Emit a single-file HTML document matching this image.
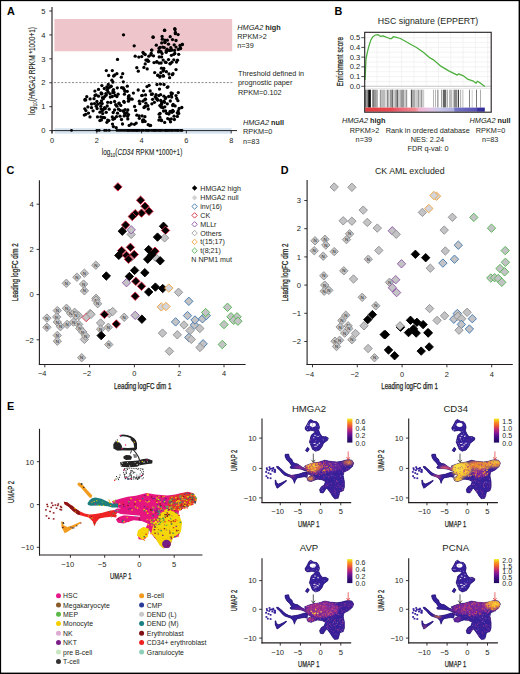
<!DOCTYPE html>
<html><head><meta charset="utf-8"><style>html,body{margin:0;padding:0;background:#fff}svg{display:block}text{font-family:'Liberation Sans',sans-serif}</style></head>
<body><svg width="520" height="674" viewBox="0 0 520 674" style="font-family:'Liberation Sans',sans-serif">
<rect x="0" y="0" width="520" height="674" fill="#fff"/>
<text x="7.10" y="14.80" font-size="10.8" text-anchor="start" fill="#000" font-weight="bold" >A</text>
<rect x="54.4" y="19" width="177.8" height="32.3" fill="#eec5cb"/>
<rect x="54.6" y="128.2" width="177" height="5.5" fill="#d5e3ef"/>
<line x1="54" y1="82.6" x2="234" y2="82.6" stroke="#555" stroke-width="0.7" stroke-dasharray="2 1.6"/>
<line x1="52.00" y1="7.00" x2="52.00" y2="133.50" stroke="#231f20" stroke-width="1.1" />
<line x1="52.00" y1="130.60" x2="237.00" y2="130.60" stroke="#231f20" stroke-width="1.0" />
<line x1="49.30" y1="130.60" x2="52.00" y2="130.60" stroke="#231f20" stroke-width="0.9" />
<text x="45.40" y="133.30" font-size="7.6" text-anchor="end" fill="#231f20" >0</text>
<line x1="49.30" y1="106.68" x2="52.00" y2="106.68" stroke="#231f20" stroke-width="0.9" />
<text x="45.40" y="109.38" font-size="7.6" text-anchor="end" fill="#231f20" >1</text>
<line x1="49.30" y1="82.76" x2="52.00" y2="82.76" stroke="#231f20" stroke-width="0.9" />
<text x="45.40" y="85.46" font-size="7.6" text-anchor="end" fill="#231f20" >2</text>
<line x1="49.30" y1="58.84" x2="52.00" y2="58.84" stroke="#231f20" stroke-width="0.9" />
<text x="45.40" y="61.54" font-size="7.6" text-anchor="end" fill="#231f20" >3</text>
<line x1="49.30" y1="34.92" x2="52.00" y2="34.92" stroke="#231f20" stroke-width="0.9" />
<text x="45.40" y="37.62" font-size="7.6" text-anchor="end" fill="#231f20" >4</text>
<line x1="49.30" y1="11.00" x2="52.00" y2="11.00" stroke="#231f20" stroke-width="0.9" />
<text x="45.40" y="13.70" font-size="7.6" text-anchor="end" fill="#231f20" >5</text>
<line x1="52.00" y1="130.60" x2="52.00" y2="133.40" stroke="#231f20" stroke-width="0.9" />
<text x="52.00" y="142.60" font-size="7.4" text-anchor="middle" fill="#231f20" >0</text>
<line x1="96.80" y1="130.60" x2="96.80" y2="133.40" stroke="#231f20" stroke-width="0.9" />
<text x="96.80" y="142.60" font-size="7.4" text-anchor="middle" fill="#231f20" >2</text>
<line x1="141.60" y1="130.60" x2="141.60" y2="133.40" stroke="#231f20" stroke-width="0.9" />
<text x="141.60" y="142.60" font-size="7.4" text-anchor="middle" fill="#231f20" >4</text>
<line x1="186.40" y1="130.60" x2="186.40" y2="133.40" stroke="#231f20" stroke-width="0.9" />
<text x="186.40" y="142.60" font-size="7.4" text-anchor="middle" fill="#231f20" >6</text>
<line x1="231.20" y1="130.60" x2="231.20" y2="133.40" stroke="#231f20" stroke-width="0.9" />
<text x="231.20" y="142.60" font-size="7.4" text-anchor="middle" fill="#231f20" >8</text>
<text x="101.8" y="155.4" font-size="8.6" fill="#231f20" textLength="80.5" lengthAdjust="spacingAndGlyphs" stroke="#231f20" stroke-width="0.1">log<tspan font-size="6" dy="1.8">10</tspan><tspan dy="-1.8">(</tspan><tspan font-style="italic">CD34</tspan> RPKM *1000+1)</text>
<text x="0" y="0" font-size="8.6" fill="#231f20" textLength="88" lengthAdjust="spacingAndGlyphs" stroke="#231f20" stroke-width="0.1" transform="translate(35.2 115) rotate(-90)">log<tspan font-size="6" dy="1.8">10</tspan><tspan dy="-1.8">(</tspan><tspan font-style="italic">HMGA2</tspan> RPKM *1000+1)</text>
<text x="237.3" y="30" font-size="7.3" fill="#231f20"><tspan font-style="italic">HMGA2</tspan> <tspan font-weight="bold">high</tspan></text>
<text x="237.30" y="39.00" font-size="7.3" text-anchor="start" fill="#231f20" >RPKM&gt;2</text>
<text x="237.30" y="48.20" font-size="7.3" text-anchor="start" fill="#231f20" >n=39</text>
<text x="238.00" y="76.00" font-size="7.3" text-anchor="start" fill="#231f20" >Threshold defined in</text>
<text x="238.00" y="85.40" font-size="7.3" text-anchor="start" fill="#231f20" >prognostic paper</text>
<text x="238.00" y="94.60" font-size="7.3" text-anchor="start" fill="#231f20" >RPKM=0.102</text>
<text x="243" y="124.6" font-size="7.3" fill="#231f20"><tspan font-style="italic">HMGA2</tspan> <tspan font-weight="bold">null</tspan></text>
<text x="243.00" y="134.30" font-size="7.3" text-anchor="start" fill="#231f20" >RPKM=0</text>
<text x="243.00" y="143.50" font-size="7.3" text-anchor="start" fill="#231f20" >n=83</text>
<circle cx="134.2" cy="45.8" r="1.65" fill="#000"/>
<circle cx="135.2" cy="56.2" r="1.65" fill="#000"/>
<circle cx="138.8" cy="57.1" r="1.65" fill="#000"/>
<circle cx="117.5" cy="59.4" r="1.65" fill="#000"/>
<circle cx="106.3" cy="70.6" r="1.65" fill="#000"/>
<circle cx="112.3" cy="70.6" r="1.65" fill="#000"/>
<circle cx="116.9" cy="73.7" r="1.65" fill="#000"/>
<circle cx="122.7" cy="73.7" r="1.65" fill="#000"/>
<circle cx="121.3" cy="77.2" r="1.65" fill="#000"/>
<circle cx="136.8" cy="67.7" r="1.65" fill="#000"/>
<circle cx="138.3" cy="71.2" r="1.65" fill="#000"/>
<circle cx="112.9" cy="82.1" r="1.65" fill="#000"/>
<circle cx="123.3" cy="81.8" r="1.65" fill="#000"/>
<circle cx="101.9" cy="85.6" r="1.65" fill="#000"/>
<circle cx="98.5" cy="89.4" r="1.65" fill="#000"/>
<circle cx="108.3" cy="84.4" r="1.65" fill="#000"/>
<circle cx="109.4" cy="87.3" r="1.65" fill="#000"/>
<circle cx="107.7" cy="89.0" r="1.65" fill="#000"/>
<circle cx="111.2" cy="86.2" r="1.65" fill="#000"/>
<circle cx="113.5" cy="89.6" r="1.65" fill="#000"/>
<circle cx="114.0" cy="92.5" r="1.65" fill="#000"/>
<circle cx="127.3" cy="86.2" r="1.65" fill="#000"/>
<circle cx="125.0" cy="91.3" r="1.65" fill="#000"/>
<circle cx="127.3" cy="91.3" r="1.65" fill="#000"/>
<circle cx="124.4" cy="94.2" r="1.65" fill="#000"/>
<circle cx="133.4" cy="93.1" r="1.65" fill="#000"/>
<circle cx="98.5" cy="96.2" r="1.65" fill="#000"/>
<circle cx="104.8" cy="96.5" r="1.65" fill="#000"/>
<circle cx="102.5" cy="97.7" r="1.65" fill="#000"/>
<circle cx="118.1" cy="94.2" r="1.65" fill="#000"/>
<circle cx="116.9" cy="96.5" r="1.65" fill="#000"/>
<circle cx="112.3" cy="96.5" r="1.65" fill="#000"/>
<circle cx="85.2" cy="99.4" r="1.65" fill="#000"/>
<circle cx="128.5" cy="96.5" r="1.65" fill="#000"/>
<circle cx="130.8" cy="98.8" r="1.65" fill="#000"/>
<circle cx="164.4" cy="30.4" r="1.65" fill="#000"/>
<circle cx="174.8" cy="28.7" r="1.65" fill="#000"/>
<circle cx="175.4" cy="32.5" r="1.65" fill="#000"/>
<circle cx="153.2" cy="37.3" r="1.65" fill="#000"/>
<circle cx="170.2" cy="36.7" r="1.65" fill="#000"/>
<circle cx="167.3" cy="40.2" r="1.65" fill="#000"/>
<circle cx="172.5" cy="39.6" r="1.65" fill="#000"/>
<circle cx="165.0" cy="42.5" r="1.65" fill="#000"/>
<circle cx="168.5" cy="44.2" r="1.65" fill="#000"/>
<circle cx="174.2" cy="44.8" r="1.65" fill="#000"/>
<circle cx="180.0" cy="45.4" r="1.65" fill="#000"/>
<circle cx="180.6" cy="48.6" r="1.65" fill="#000"/>
<circle cx="156.3" cy="45.2" r="1.65" fill="#000"/>
<circle cx="162.7" cy="47.1" r="1.65" fill="#000"/>
<circle cx="170.8" cy="47.7" r="1.65" fill="#000"/>
<circle cx="176.0" cy="47.1" r="1.65" fill="#000"/>
<circle cx="171.9" cy="50.0" r="1.65" fill="#000"/>
<circle cx="159.2" cy="50.6" r="1.65" fill="#000"/>
<circle cx="151.2" cy="53.5" r="1.65" fill="#000"/>
<circle cx="166.2" cy="52.3" r="1.65" fill="#000"/>
<circle cx="174.8" cy="53.5" r="1.65" fill="#000"/>
<circle cx="176.5" cy="62.1" r="1.65" fill="#000"/>
<circle cx="176.0" cy="69.6" r="1.65" fill="#000"/>
<circle cx="173.0" cy="73.7" r="1.65" fill="#000"/>
<circle cx="159.8" cy="77.1" r="1.65" fill="#000"/>
<circle cx="169.6" cy="77.7" r="1.65" fill="#000"/>
<circle cx="84.9" cy="100.0" r="1.65" fill="#000"/>
<circle cx="96.9" cy="101.5" r="1.65" fill="#000"/>
<circle cx="101.5" cy="100.8" r="1.65" fill="#000"/>
<circle cx="107.7" cy="102.3" r="1.65" fill="#000"/>
<circle cx="114.6" cy="101.5" r="1.65" fill="#000"/>
<circle cx="119.2" cy="103.1" r="1.65" fill="#000"/>
<circle cx="123.8" cy="101.5" r="1.65" fill="#000"/>
<circle cx="91.5" cy="107.7" r="1.65" fill="#000"/>
<circle cx="96.2" cy="106.2" r="1.65" fill="#000"/>
<circle cx="100.8" cy="106.2" r="1.65" fill="#000"/>
<circle cx="104.6" cy="107.7" r="1.65" fill="#000"/>
<circle cx="109.2" cy="109.2" r="1.65" fill="#000"/>
<circle cx="116.9" cy="106.2" r="1.65" fill="#000"/>
<circle cx="120.8" cy="105.4" r="1.65" fill="#000"/>
<circle cx="88.5" cy="113.1" r="1.65" fill="#000"/>
<circle cx="93.1" cy="110.8" r="1.65" fill="#000"/>
<circle cx="102.3" cy="110.8" r="1.65" fill="#000"/>
<circle cx="106.2" cy="112.3" r="1.65" fill="#000"/>
<circle cx="114.6" cy="110.0" r="1.65" fill="#000"/>
<circle cx="118.5" cy="109.2" r="1.65" fill="#000"/>
<circle cx="123.1" cy="110.8" r="1.65" fill="#000"/>
<circle cx="84.3" cy="115.1" r="1.65" fill="#000"/>
<circle cx="90.0" cy="116.9" r="1.65" fill="#000"/>
<circle cx="100.8" cy="116.9" r="1.65" fill="#000"/>
<circle cx="104.6" cy="117.7" r="1.65" fill="#000"/>
<circle cx="112.3" cy="116.9" r="1.65" fill="#000"/>
<circle cx="114.6" cy="118.5" r="1.65" fill="#000"/>
<circle cx="120.0" cy="116.2" r="1.65" fill="#000"/>
<circle cx="128.5" cy="114.6" r="1.65" fill="#000"/>
<circle cx="106.9" cy="122.3" r="1.65" fill="#000"/>
<circle cx="129.2" cy="125.4" r="1.65" fill="#000"/>
<circle cx="136.2" cy="123.1" r="1.65" fill="#000"/>
<circle cx="116.2" cy="127.7" r="1.65" fill="#000"/>
<circle cx="147.0" cy="86.6" r="1.65" fill="#000"/>
<circle cx="157.0" cy="84.5" r="1.65" fill="#000"/>
<circle cx="123.5" cy="34.8" r="1.65" fill="#000"/>
<circle cx="153.0" cy="37.0" r="1.65" fill="#000"/>
<circle cx="164.7" cy="30.2" r="1.65" fill="#000"/>
<circle cx="175.0" cy="29.5" r="1.65" fill="#000"/>
<circle cx="113.6" cy="76.0" r="1.65" fill="#000"/>
<circle cx="108.2" cy="92.1" r="1.65" fill="#000"/>
<circle cx="85.7" cy="99.9" r="1.65" fill="#000"/>
<circle cx="103.0" cy="117.5" r="1.65" fill="#000"/>
<circle cx="112.5" cy="124.1" r="1.65" fill="#000"/>
<circle cx="110.1" cy="93.8" r="1.65" fill="#000"/>
<circle cx="123.3" cy="87.9" r="1.65" fill="#000"/>
<circle cx="97.5" cy="116.9" r="1.65" fill="#000"/>
<circle cx="91.5" cy="104.0" r="1.65" fill="#000"/>
<circle cx="113.0" cy="92.5" r="1.65" fill="#000"/>
<circle cx="108.7" cy="75.5" r="1.65" fill="#000"/>
<circle cx="115.0" cy="95.5" r="1.65" fill="#000"/>
<circle cx="97.8" cy="104.2" r="1.65" fill="#000"/>
<circle cx="104.3" cy="88.5" r="1.65" fill="#000"/>
<circle cx="120.3" cy="110.4" r="1.65" fill="#000"/>
<circle cx="94.5" cy="103.6" r="1.65" fill="#000"/>
<circle cx="107.7" cy="120.1" r="1.65" fill="#000"/>
<circle cx="117.3" cy="87.8" r="1.65" fill="#000"/>
<circle cx="102.7" cy="113.6" r="1.65" fill="#000"/>
<circle cx="90.1" cy="98.9" r="1.65" fill="#000"/>
<circle cx="84.8" cy="108.8" r="1.65" fill="#000"/>
<circle cx="118.9" cy="103.5" r="1.65" fill="#000"/>
<circle cx="124.1" cy="89.3" r="1.65" fill="#000"/>
<circle cx="115.7" cy="104.7" r="1.65" fill="#000"/>
<circle cx="110.3" cy="97.1" r="1.65" fill="#000"/>
<circle cx="122.5" cy="124.0" r="1.65" fill="#000"/>
<circle cx="105.3" cy="108.5" r="1.65" fill="#000"/>
<circle cx="85.9" cy="110.6" r="1.65" fill="#000"/>
<circle cx="113.4" cy="126.6" r="1.65" fill="#000"/>
<circle cx="121.6" cy="87.7" r="1.65" fill="#000"/>
<circle cx="101.1" cy="108.8" r="1.65" fill="#000"/>
<circle cx="85.8" cy="114.3" r="1.65" fill="#000"/>
<circle cx="101.4" cy="119.9" r="1.65" fill="#000"/>
<circle cx="86.8" cy="96.7" r="1.65" fill="#000"/>
<circle cx="108.8" cy="120.6" r="1.65" fill="#000"/>
<circle cx="121.5" cy="119.5" r="1.65" fill="#000"/>
<circle cx="96.1" cy="94.8" r="1.65" fill="#000"/>
<circle cx="99.9" cy="120.6" r="1.65" fill="#000"/>
<circle cx="94.0" cy="98.7" r="1.65" fill="#000"/>
<circle cx="110.7" cy="86.5" r="1.65" fill="#000"/>
<circle cx="100.4" cy="103.1" r="1.65" fill="#000"/>
<circle cx="127.8" cy="110.0" r="1.65" fill="#000"/>
<circle cx="107.2" cy="106.0" r="1.65" fill="#000"/>
<circle cx="114.8" cy="75.0" r="1.65" fill="#000"/>
<circle cx="125.3" cy="114.9" r="1.65" fill="#000"/>
<circle cx="124.1" cy="115.9" r="1.65" fill="#000"/>
<circle cx="101.4" cy="93.9" r="1.65" fill="#000"/>
<circle cx="87.9" cy="106.9" r="1.65" fill="#000"/>
<circle cx="111.9" cy="80.2" r="1.65" fill="#000"/>
<circle cx="94.9" cy="91.1" r="1.65" fill="#000"/>
<circle cx="107.1" cy="90.2" r="1.65" fill="#000"/>
<circle cx="110.8" cy="102.5" r="1.65" fill="#000"/>
<circle cx="106.3" cy="95.0" r="1.65" fill="#000"/>
<circle cx="113.0" cy="91.0" r="1.65" fill="#000"/>
<circle cx="113.0" cy="119.3" r="1.65" fill="#000"/>
<circle cx="125.1" cy="109.7" r="1.65" fill="#000"/>
<circle cx="103.4" cy="98.5" r="1.65" fill="#000"/>
<circle cx="100.0" cy="112.2" r="1.65" fill="#000"/>
<circle cx="113.2" cy="112.5" r="1.65" fill="#000"/>
<circle cx="105.9" cy="93.6" r="1.65" fill="#000"/>
<circle cx="124.7" cy="113.4" r="1.65" fill="#000"/>
<circle cx="123.5" cy="111.2" r="1.65" fill="#000"/>
<circle cx="102.2" cy="103.6" r="1.65" fill="#000"/>
<circle cx="106.8" cy="87.0" r="1.65" fill="#000"/>
<circle cx="95.0" cy="95.5" r="1.65" fill="#000"/>
<circle cx="103.3" cy="109.5" r="1.65" fill="#000"/>
<circle cx="128.4" cy="101.2" r="1.65" fill="#000"/>
<circle cx="128.4" cy="98.4" r="1.65" fill="#000"/>
<circle cx="101.9" cy="93.7" r="1.65" fill="#000"/>
<circle cx="101.1" cy="92.9" r="1.65" fill="#000"/>
<circle cx="116.5" cy="116.6" r="1.65" fill="#000"/>
<circle cx="124.3" cy="102.3" r="1.65" fill="#000"/>
<circle cx="117.5" cy="113.2" r="1.65" fill="#000"/>
<circle cx="97.1" cy="108.5" r="1.65" fill="#000"/>
<circle cx="126.8" cy="112.6" r="1.65" fill="#000"/>
<circle cx="176.0" cy="40.5" r="1.65" fill="#000"/>
<circle cx="160.0" cy="47.4" r="1.65" fill="#000"/>
<circle cx="164.3" cy="47.6" r="1.65" fill="#000"/>
<circle cx="166.2" cy="50.8" r="1.65" fill="#000"/>
<circle cx="175.3" cy="33.7" r="1.65" fill="#000"/>
<circle cx="180.3" cy="47.7" r="1.65" fill="#000"/>
<circle cx="159.1" cy="48.2" r="1.65" fill="#000"/>
<circle cx="182.4" cy="44.5" r="1.65" fill="#000"/>
<circle cx="164.8" cy="42.1" r="1.65" fill="#000"/>
<circle cx="182.2" cy="44.3" r="1.65" fill="#000"/>
<circle cx="169.7" cy="50.5" r="1.65" fill="#000"/>
<circle cx="167.1" cy="49.2" r="1.65" fill="#000"/>
<circle cx="178.1" cy="34.6" r="1.65" fill="#000"/>
<circle cx="162.1" cy="36.4" r="1.65" fill="#000"/>
<circle cx="161.7" cy="42.9" r="1.65" fill="#000"/>
<circle cx="162.3" cy="39.2" r="1.65" fill="#000"/>
<circle cx="164.9" cy="40.1" r="1.65" fill="#000"/>
<circle cx="171.3" cy="49.9" r="1.65" fill="#000"/>
<circle cx="157.8" cy="75.4" r="1.65" fill="#000"/>
<circle cx="161.1" cy="63.0" r="1.65" fill="#000"/>
<circle cx="158.6" cy="51.9" r="1.65" fill="#000"/>
<circle cx="147.9" cy="61.2" r="1.65" fill="#000"/>
<circle cx="170.0" cy="63.8" r="1.65" fill="#000"/>
<circle cx="154.0" cy="62.6" r="1.65" fill="#000"/>
<circle cx="163.2" cy="71.1" r="1.65" fill="#000"/>
<circle cx="145.2" cy="63.9" r="1.65" fill="#000"/>
<circle cx="150.9" cy="54.9" r="1.65" fill="#000"/>
<circle cx="171.9" cy="62.2" r="1.65" fill="#000"/>
<circle cx="163.5" cy="70.3" r="1.65" fill="#000"/>
<circle cx="177.5" cy="60.2" r="1.65" fill="#000"/>
<circle cx="165.5" cy="62.2" r="1.65" fill="#000"/>
<circle cx="161.5" cy="68.2" r="1.65" fill="#000"/>
<circle cx="159.1" cy="63.1" r="1.65" fill="#000"/>
<circle cx="160.1" cy="76.1" r="1.65" fill="#000"/>
<circle cx="169.0" cy="74.0" r="1.65" fill="#000"/>
<circle cx="178.7" cy="54.3" r="1.65" fill="#000"/>
<circle cx="163.4" cy="76.2" r="1.65" fill="#000"/>
<circle cx="174.6" cy="50.4" r="1.65" fill="#000"/>
<circle cx="145.9" cy="60.1" r="1.65" fill="#000"/>
<circle cx="143.9" cy="53.7" r="1.65" fill="#000"/>
<circle cx="143.9" cy="67.4" r="1.65" fill="#000"/>
<circle cx="172.4" cy="74.7" r="1.65" fill="#000"/>
<circle cx="147.2" cy="68.9" r="1.65" fill="#000"/>
<circle cx="167.4" cy="50.6" r="1.65" fill="#000"/>
<circle cx="156.9" cy="61.6" r="1.65" fill="#000"/>
<circle cx="147.5" cy="59.8" r="1.65" fill="#000"/>
<circle cx="161.6" cy="56.9" r="1.65" fill="#000"/>
<circle cx="148.8" cy="56.2" r="1.65" fill="#000"/>
<circle cx="163.2" cy="60.1" r="1.65" fill="#000"/>
<circle cx="141.7" cy="56.6" r="1.65" fill="#000"/>
<circle cx="166.0" cy="62.4" r="1.65" fill="#000"/>
<circle cx="145.2" cy="54.5" r="1.65" fill="#000"/>
<circle cx="151.8" cy="50.1" r="1.65" fill="#000"/>
<circle cx="157.9" cy="75.2" r="1.65" fill="#000"/>
<circle cx="173.8" cy="54.3" r="1.65" fill="#000"/>
<circle cx="163.8" cy="68.4" r="1.65" fill="#000"/>
<circle cx="168.5" cy="59.6" r="1.65" fill="#000"/>
<circle cx="166.4" cy="71.7" r="1.65" fill="#000"/>
<circle cx="159.2" cy="56.9" r="1.65" fill="#000"/>
<circle cx="163.1" cy="75.7" r="1.65" fill="#000"/>
<circle cx="151.7" cy="50.1" r="1.65" fill="#000"/>
<circle cx="162.1" cy="53.6" r="1.65" fill="#000"/>
<circle cx="143.0" cy="52.5" r="1.65" fill="#000"/>
<circle cx="153.5" cy="55.8" r="1.65" fill="#000"/>
<circle cx="171.4" cy="55.3" r="1.65" fill="#000"/>
<circle cx="161.0" cy="51.7" r="1.65" fill="#000"/>
<circle cx="170.3" cy="63.6" r="1.65" fill="#000"/>
<circle cx="148.6" cy="61.2" r="1.65" fill="#000"/>
<circle cx="178.4" cy="49.4" r="1.65" fill="#000"/>
<circle cx="173.8" cy="59.8" r="1.65" fill="#000"/>
<circle cx="160.8" cy="72.7" r="1.65" fill="#000"/>
<circle cx="156.7" cy="62.2" r="1.65" fill="#000"/>
<circle cx="154.7" cy="72.6" r="1.65" fill="#000"/>
<circle cx="170.1" cy="111.3" r="1.65" fill="#000"/>
<circle cx="156.8" cy="98.9" r="1.65" fill="#000"/>
<circle cx="142.1" cy="115.9" r="1.65" fill="#000"/>
<circle cx="150.2" cy="91.0" r="1.65" fill="#000"/>
<circle cx="142.7" cy="120.2" r="1.65" fill="#000"/>
<circle cx="177.3" cy="112.8" r="1.65" fill="#000"/>
<circle cx="151.4" cy="94.4" r="1.65" fill="#000"/>
<circle cx="151.9" cy="103.8" r="1.65" fill="#000"/>
<circle cx="145.9" cy="103.2" r="1.65" fill="#000"/>
<circle cx="150.6" cy="125.4" r="1.65" fill="#000"/>
<circle cx="181.8" cy="107.5" r="1.65" fill="#000"/>
<circle cx="149.8" cy="125.5" r="1.65" fill="#000"/>
<circle cx="152.6" cy="99.3" r="1.65" fill="#000"/>
<circle cx="159.9" cy="105.6" r="1.65" fill="#000"/>
<circle cx="147.8" cy="105.7" r="1.65" fill="#000"/>
<circle cx="142.9" cy="101.2" r="1.65" fill="#000"/>
<circle cx="152.4" cy="94.0" r="1.65" fill="#000"/>
<circle cx="164.8" cy="106.8" r="1.65" fill="#000"/>
<circle cx="172.0" cy="112.3" r="1.65" fill="#000"/>
<circle cx="170.5" cy="121.8" r="1.65" fill="#000"/>
<circle cx="156.1" cy="98.0" r="1.65" fill="#000"/>
<circle cx="170.9" cy="111.7" r="1.65" fill="#000"/>
<circle cx="178.2" cy="111.0" r="1.65" fill="#000"/>
<circle cx="171.3" cy="118.9" r="1.65" fill="#000"/>
<circle cx="145.1" cy="106.5" r="1.65" fill="#000"/>
<circle cx="161.2" cy="119.9" r="1.65" fill="#000"/>
<circle cx="174.4" cy="119.5" r="1.65" fill="#000"/>
<circle cx="164.7" cy="122.4" r="1.65" fill="#000"/>
<circle cx="169.0" cy="113.8" r="1.65" fill="#000"/>
<circle cx="149.1" cy="85.3" r="1.65" fill="#000"/>
<circle cx="144.9" cy="99.5" r="1.65" fill="#000"/>
<circle cx="143.6" cy="119.9" r="1.65" fill="#000"/>
<circle cx="163.6" cy="111.0" r="1.65" fill="#000"/>
<circle cx="166.6" cy="113.3" r="1.65" fill="#000"/>
<circle cx="160.5" cy="84.1" r="1.65" fill="#000"/>
<circle cx="174.1" cy="116.2" r="1.65" fill="#000"/>
<circle cx="161.1" cy="107.0" r="1.65" fill="#000"/>
<circle cx="168.0" cy="86.8" r="1.65" fill="#000"/>
<circle cx="171.4" cy="94.8" r="1.65" fill="#000"/>
<circle cx="142.3" cy="95.4" r="1.65" fill="#000"/>
<circle cx="171.1" cy="92.8" r="1.65" fill="#000"/>
<circle cx="160.7" cy="100.5" r="1.65" fill="#000"/>
<circle cx="160.1" cy="113.4" r="1.65" fill="#000"/>
<circle cx="172.7" cy="110.5" r="1.65" fill="#000"/>
<circle cx="167.3" cy="87.3" r="1.65" fill="#000"/>
<circle cx="145.5" cy="94.9" r="1.65" fill="#000"/>
<circle cx="171.7" cy="97.1" r="1.65" fill="#000"/>
<circle cx="164.0" cy="84.5" r="1.65" fill="#000"/>
<circle cx="141.7" cy="95.6" r="1.65" fill="#000"/>
<circle cx="168.6" cy="113.8" r="1.65" fill="#000"/>
<circle cx="168.7" cy="96.5" r="1.65" fill="#000"/>
<circle cx="161.7" cy="104.0" r="1.65" fill="#000"/>
<circle cx="159.5" cy="89.1" r="1.65" fill="#000"/>
<circle cx="178.3" cy="92.6" r="1.65" fill="#000"/>
<circle cx="139.8" cy="103.7" r="1.65" fill="#000"/>
<circle cx="158.8" cy="95.6" r="1.65" fill="#000"/>
<circle cx="148.2" cy="124.7" r="1.65" fill="#000"/>
<circle cx="148.3" cy="109.0" r="1.65" fill="#000"/>
<circle cx="145.2" cy="106.5" r="1.65" fill="#000"/>
<circle cx="175.1" cy="105.9" r="1.65" fill="#000"/>
<circle cx="177.5" cy="113.1" r="1.65" fill="#000"/>
<circle cx="164.0" cy="101.1" r="1.65" fill="#000"/>
<circle cx="154.4" cy="102.3" r="1.65" fill="#000"/>
<circle cx="159.8" cy="117.2" r="1.65" fill="#000"/>
<circle cx="176.0" cy="95.6" r="1.65" fill="#000"/>
<circle cx="178.7" cy="113.4" r="1.65" fill="#000"/>
<circle cx="177.9" cy="100.7" r="1.65" fill="#000"/>
<circle cx="161.5" cy="103.8" r="1.65" fill="#000"/>
<circle cx="161.2" cy="104.8" r="1.65" fill="#000"/>
<circle cx="158.9" cy="120.1" r="1.65" fill="#000"/>
<circle cx="157.7" cy="100.0" r="1.65" fill="#000"/>
<circle cx="165.8" cy="97.7" r="1.65" fill="#000"/>
<circle cx="161.6" cy="120.7" r="1.65" fill="#000"/>
<circle cx="177.4" cy="116.4" r="1.65" fill="#000"/>
<circle cx="169.6" cy="119.4" r="1.65" fill="#000"/>
<circle cx="179.2" cy="108.5" r="1.65" fill="#000"/>
<circle cx="172.3" cy="93.5" r="1.65" fill="#000"/>
<circle cx="172.7" cy="105.5" r="1.65" fill="#000"/>
<circle cx="173.3" cy="111.3" r="1.65" fill="#000"/>
<circle cx="164.6" cy="102.3" r="1.65" fill="#000"/>
<circle cx="159.2" cy="114.2" r="1.65" fill="#000"/>
<circle cx="170.3" cy="101.0" r="1.65" fill="#000"/>
<circle cx="167.3" cy="103.8" r="1.65" fill="#000"/>
<circle cx="155.2" cy="96.8" r="1.65" fill="#000"/>
<circle cx="165.4" cy="98.6" r="1.65" fill="#000"/>
<circle cx="163.9" cy="96.2" r="1.65" fill="#000"/>
<circle cx="156.0" cy="94.7" r="1.65" fill="#000"/>
<circle cx="160.6" cy="94.7" r="1.65" fill="#000"/>
<circle cx="157.4" cy="99.8" r="1.65" fill="#000"/>
<circle cx="167.7" cy="118.6" r="1.65" fill="#000"/>
<circle cx="173.2" cy="104.4" r="1.65" fill="#000"/>
<circle cx="162.8" cy="107.7" r="1.65" fill="#000"/>
<circle cx="161.7" cy="102.1" r="1.65" fill="#000"/>
<circle cx="165.6" cy="110.9" r="1.65" fill="#000"/>
<circle cx="176.7" cy="98.5" r="1.65" fill="#000"/>
<circle cx="132.1" cy="99.2" r="1.65" fill="#000"/>
<circle cx="134.6" cy="106.5" r="1.65" fill="#000"/>
<circle cx="145.1" cy="121.4" r="1.65" fill="#000"/>
<circle cx="143.6" cy="90.8" r="1.65" fill="#000"/>
<circle cx="127.6" cy="116.3" r="1.65" fill="#000"/>
<circle cx="144.0" cy="107.5" r="1.65" fill="#000"/>
<circle cx="138.2" cy="90.0" r="1.65" fill="#000"/>
<circle cx="134.4" cy="124.3" r="1.65" fill="#000"/>
<circle cx="142.7" cy="121.7" r="1.65" fill="#000"/>
<circle cx="145.5" cy="99.2" r="1.65" fill="#000"/>
<circle cx="129.1" cy="95.7" r="1.65" fill="#000"/>
<circle cx="136.9" cy="115.2" r="1.65" fill="#000"/>
<circle cx="144.9" cy="116.7" r="1.65" fill="#000"/>
<circle cx="139.3" cy="118.3" r="1.65" fill="#000"/>
<circle cx="135.7" cy="110.4" r="1.65" fill="#000"/>
<circle cx="127.8" cy="118.9" r="1.65" fill="#000"/>
<circle cx="131.4" cy="124.0" r="1.65" fill="#000"/>
<circle cx="139.3" cy="101.2" r="1.65" fill="#000"/>
<circle cx="129.4" cy="99.3" r="1.65" fill="#000"/>
<circle cx="139.1" cy="115.8" r="1.65" fill="#000"/>
<circle cx="71.5" cy="130.4" r="1.45" fill="#000"/>
<circle cx="96.9" cy="130.4" r="1.45" fill="#000"/>
<circle cx="99.2" cy="130.4" r="1.45" fill="#000"/>
<circle cx="104.6" cy="130.4" r="1.45" fill="#000"/>
<circle cx="106.5" cy="130.4" r="1.45" fill="#000"/>
<circle cx="109.2" cy="130.4" r="1.45" fill="#000"/>
<circle cx="117.0" cy="130.4" r="1.45" fill="#000"/>
<circle cx="119.0" cy="130.4" r="1.45" fill="#000"/>
<circle cx="121.0" cy="130.4" r="1.45" fill="#000"/>
<circle cx="123.0" cy="130.4" r="1.45" fill="#000"/>
<circle cx="125.0" cy="130.4" r="1.45" fill="#000"/>
<circle cx="127.0" cy="130.4" r="1.45" fill="#000"/>
<circle cx="128.0" cy="130.4" r="1.45" fill="#000"/>
<circle cx="128.9" cy="130.4" r="1.45" fill="#000"/>
<circle cx="130.4" cy="130.4" r="1.45" fill="#000"/>
<circle cx="132.0" cy="130.4" r="1.45" fill="#000"/>
<circle cx="133.3" cy="130.4" r="1.45" fill="#000"/>
<circle cx="134.5" cy="130.4" r="1.45" fill="#000"/>
<circle cx="136.1" cy="130.4" r="1.45" fill="#000"/>
<circle cx="136.9" cy="130.4" r="1.45" fill="#000"/>
<circle cx="138.1" cy="130.4" r="1.45" fill="#000"/>
<circle cx="139.6" cy="130.4" r="1.45" fill="#000"/>
<circle cx="141.7" cy="130.4" r="1.45" fill="#000"/>
<circle cx="143.4" cy="130.4" r="1.45" fill="#000"/>
<circle cx="145.5" cy="130.4" r="1.45" fill="#000"/>
<circle cx="146.9" cy="130.4" r="1.45" fill="#000"/>
<circle cx="148.1" cy="130.4" r="1.45" fill="#000"/>
<circle cx="149.2" cy="130.4" r="1.45" fill="#000"/>
<circle cx="151.4" cy="130.4" r="1.45" fill="#000"/>
<circle cx="153.1" cy="130.4" r="1.45" fill="#000"/>
<circle cx="154.4" cy="130.4" r="1.45" fill="#000"/>
<circle cx="155.2" cy="130.4" r="1.45" fill="#000"/>
<circle cx="156.7" cy="130.4" r="1.45" fill="#000"/>
<circle cx="158.4" cy="130.4" r="1.45" fill="#000"/>
<circle cx="159.8" cy="130.4" r="1.45" fill="#000"/>
<circle cx="161.0" cy="130.4" r="1.45" fill="#000"/>
<circle cx="162.7" cy="130.4" r="1.45" fill="#000"/>
<circle cx="164.8" cy="130.4" r="1.45" fill="#000"/>
<circle cx="165.9" cy="130.4" r="1.45" fill="#000"/>
<circle cx="166.8" cy="130.4" r="1.45" fill="#000"/>
<circle cx="168.1" cy="130.4" r="1.45" fill="#000"/>
<circle cx="169.4" cy="130.4" r="1.45" fill="#000"/>
<circle cx="171.2" cy="130.4" r="1.45" fill="#000"/>
<circle cx="172.3" cy="130.4" r="1.45" fill="#000"/>
<circle cx="174.2" cy="130.4" r="1.45" fill="#000"/>
<circle cx="176.0" cy="130.4" r="1.45" fill="#000"/>
<circle cx="177.5" cy="130.4" r="1.45" fill="#000"/>
<circle cx="178.6" cy="130.4" r="1.45" fill="#000"/>
<circle cx="180.8" cy="130.4" r="1.45" fill="#000"/>
<circle cx="182.0" cy="130.4" r="1.45" fill="#000"/>
<text x="334.50" y="14.70" font-size="10.8" text-anchor="start" fill="#000" font-weight="bold" >B</text>
<text x="428.00" y="24.00" font-size="8.8" text-anchor="middle" fill="#231f20" >HSC signature (EPPERT)</text>
<rect x="364.7" y="32.3" width="126.5" height="79.9" fill="#fff"/>
<line x1="377.00" y1="32.30" x2="377.00" y2="86.30" stroke="#ebebeb" stroke-width="0.6" />
<line x1="389.30" y1="32.30" x2="389.30" y2="86.30" stroke="#ebebeb" stroke-width="0.6" />
<line x1="401.60" y1="32.30" x2="401.60" y2="86.30" stroke="#ebebeb" stroke-width="0.6" />
<line x1="413.90" y1="32.30" x2="413.90" y2="86.30" stroke="#ebebeb" stroke-width="0.6" />
<line x1="426.20" y1="32.30" x2="426.20" y2="86.30" stroke="#ebebeb" stroke-width="0.6" />
<line x1="438.50" y1="32.30" x2="438.50" y2="86.30" stroke="#ebebeb" stroke-width="0.6" />
<line x1="450.80" y1="32.30" x2="450.80" y2="86.30" stroke="#ebebeb" stroke-width="0.6" />
<line x1="463.10" y1="32.30" x2="463.10" y2="86.30" stroke="#ebebeb" stroke-width="0.6" />
<line x1="475.40" y1="32.30" x2="475.40" y2="86.30" stroke="#ebebeb" stroke-width="0.6" />
<line x1="487.70" y1="32.30" x2="487.70" y2="86.30" stroke="#ebebeb" stroke-width="0.6" />
<line x1="364.70" y1="86.30" x2="491.20" y2="86.30" stroke="#ebebeb" stroke-width="0.6" />
<line x1="364.70" y1="81.44" x2="491.20" y2="81.44" stroke="#ebebeb" stroke-width="0.6" />
<line x1="364.70" y1="76.58" x2="491.20" y2="76.58" stroke="#ebebeb" stroke-width="0.6" />
<line x1="364.70" y1="71.72" x2="491.20" y2="71.72" stroke="#ebebeb" stroke-width="0.6" />
<line x1="364.70" y1="66.86" x2="491.20" y2="66.86" stroke="#ebebeb" stroke-width="0.6" />
<line x1="364.70" y1="62.00" x2="491.20" y2="62.00" stroke="#ebebeb" stroke-width="0.6" />
<line x1="364.70" y1="57.14" x2="491.20" y2="57.14" stroke="#ebebeb" stroke-width="0.6" />
<line x1="364.70" y1="52.28" x2="491.20" y2="52.28" stroke="#ebebeb" stroke-width="0.6" />
<line x1="364.70" y1="47.42" x2="491.20" y2="47.42" stroke="#ebebeb" stroke-width="0.6" />
<line x1="364.70" y1="42.56" x2="491.20" y2="42.56" stroke="#ebebeb" stroke-width="0.6" />
<line x1="364.70" y1="37.70" x2="491.20" y2="37.70" stroke="#ebebeb" stroke-width="0.6" />
<line x1="364.70" y1="86.30" x2="491.20" y2="86.30" stroke="#b5b5b5" stroke-width="0.7" />
<line x1="364.70" y1="88.60" x2="491.20" y2="88.60" stroke="#d8d8d8" stroke-width="0.6" />
<rect x="365.20" y="89.7" width="1.20" height="17.9" fill="#555"/>
<rect x="366.40" y="89.7" width="1.30" height="17.9" fill="#888"/>
<rect x="367.70" y="89.7" width="1.30" height="17.9" fill="#333"/>
<rect x="369.00" y="89.7" width="1.90" height="17.9" fill="#111"/>
<rect x="372.20" y="89.7" width="1.80" height="17.9" fill="#777"/>
<rect x="374.00" y="89.7" width="2.00" height="17.9" fill="#999"/>
<rect x="376.00" y="89.7" width="1.90" height="17.9" fill="#aaa"/>
<rect x="379.80" y="89.7" width="1.30" height="17.9" fill="#999"/>
<rect x="381.10" y="89.7" width="4.40" height="17.9" fill="#bbb"/>
<rect x="386.70" y="89.7" width="1.90" height="17.9" fill="#888"/>
<rect x="389.60" y="89.7" width="3.40" height="17.9" fill="#999"/>
<rect x="392.40" y="89.7" width="0.80" height="17.9" fill="#555"/>
<rect x="393.20" y="89.7" width="2.00" height="17.9" fill="#ccc"/>
<rect x="395.20" y="89.7" width="1.90" height="17.9" fill="#999"/>
<rect x="397.10" y="89.7" width="1.30" height="17.9" fill="#555"/>
<rect x="398.40" y="89.7" width="1.90" height="17.9" fill="#ccc"/>
<rect x="400.30" y="89.7" width="3.80" height="17.9" fill="#999"/>
<rect x="404.10" y="89.7" width="1.90" height="17.9" fill="#ccc"/>
<rect x="405.90" y="89.7" width="1.30" height="17.9" fill="#999"/>
<rect x="410.90" y="89.7" width="0.90" height="17.9" fill="#111"/>
<rect x="411.80" y="89.7" width="3.50" height="17.9" fill="#aaa"/>
<rect x="415.30" y="89.7" width="2.50" height="17.9" fill="#ccc"/>
<rect x="417.80" y="89.7" width="1.30" height="17.9" fill="#999"/>
<rect x="419.10" y="89.7" width="1.90" height="17.9" fill="#ccc"/>
<rect x="421.00" y="89.7" width="1.30" height="17.9" fill="#999"/>
<rect x="422.30" y="89.7" width="1.90" height="17.9" fill="#ccc"/>
<rect x="433.00" y="89.7" width="0.60" height="17.9" fill="#888"/>
<rect x="435.00" y="89.7" width="0.60" height="17.9" fill="#888"/>
<rect x="437.50" y="89.7" width="0.80" height="17.9" fill="#555"/>
<rect x="441.00" y="89.7" width="0.80" height="17.9" fill="#888"/>
<rect x="442.80" y="89.7" width="3.20" height="17.9" fill="#666"/>
<rect x="446.60" y="89.7" width="1.20" height="17.9" fill="#999"/>
<rect x="449.00" y="89.7" width="3.30" height="17.9" fill="#bbb"/>
<rect x="453.50" y="89.7" width="3.90" height="17.9" fill="#888"/>
<rect x="458.00" y="89.7" width="0.80" height="17.9" fill="#111"/>
<rect x="460.30" y="89.7" width="0.80" height="17.9" fill="#999"/>
<rect x="462.50" y="89.7" width="0.80" height="17.9" fill="#aaa"/>
<rect x="469.00" y="89.7" width="0.80" height="17.9" fill="#666"/>
<rect x="471.80" y="89.7" width="0.70" height="17.9" fill="#bbb"/>
<rect x="476.20" y="89.7" width="0.80" height="17.9" fill="#555"/>
<rect x="480.00" y="89.7" width="0.80" height="17.9" fill="#999"/>
<defs><linearGradient id="gsea" x1="0" x2="1" y1="0" y2="0"><stop offset="0" stop-color="#e33b3d"/><stop offset="0.22" stop-color="#e84a52"/><stop offset="0.3" stop-color="#ec6878"/><stop offset="0.42" stop-color="#f08a8e"/><stop offset="0.45" stop-color="#f4b0d0"/><stop offset="0.55" stop-color="#e0c4e6"/><stop offset="0.62" stop-color="#cbc8ec"/><stop offset="0.74" stop-color="#b0b0e0"/><stop offset="0.75" stop-color="#7474c4"/><stop offset="0.93" stop-color="#5a52b4"/><stop offset="0.94" stop-color="#3a32a0"/><stop offset="1" stop-color="#2e2896"/></linearGradient></defs>
<rect x="365.2" y="107.6" width="119.6" height="4.1" fill="url(#gsea)"/>
<path d="M365.0 80.0 L365.4 72.4 L366.0 59.0 L367.4 52.2 L368.7 46.8 L370.8 40.1 L372.8 36.7 L375.5 35.0 L378.2 34.7 L380.2 36.3 L382.9 35.8 L386.2 37.2 L389.6 38.5 L391.6 38.5 L393.4 36.7 L396.3 37.4 L400.4 38.5 L405.8 41.5 L410.5 44.2 L416.5 47.5 L423.3 52.2 L430.0 57.9 L433.1 59.6 L441.2 66.4 L449.2 71.1 L457.3 75.1 L458.6 73.8 L463.4 75.8 L468.1 79.4 L472.8 80.8 L476.1 83.2 L477.2 81.2 L480.2 82.9 L484.9 86.5" fill="none" stroke="#4caf3c" stroke-width="1.25" stroke-linejoin="round"/>
<rect x="364.7" y="32.3" width="126.5" height="79.9" fill="none" stroke="#231f20" stroke-width="1.1"/>
<line x1="361.30" y1="86.30" x2="364.70" y2="86.30" stroke="#231f20" stroke-width="0.8" />
<text x="360.20" y="88.80" font-size="7.6" text-anchor="end" fill="#231f20" >0.0</text>
<line x1="361.30" y1="76.58" x2="364.70" y2="76.58" stroke="#231f20" stroke-width="0.8" />
<text x="360.20" y="79.08" font-size="7.6" text-anchor="end" fill="#231f20" >0.1</text>
<line x1="361.30" y1="66.86" x2="364.70" y2="66.86" stroke="#231f20" stroke-width="0.8" />
<text x="360.20" y="69.36" font-size="7.6" text-anchor="end" fill="#231f20" >0.2</text>
<line x1="361.30" y1="57.14" x2="364.70" y2="57.14" stroke="#231f20" stroke-width="0.8" />
<text x="360.20" y="59.64" font-size="7.6" text-anchor="end" fill="#231f20" >0.3</text>
<line x1="361.30" y1="47.42" x2="364.70" y2="47.42" stroke="#231f20" stroke-width="0.8" />
<text x="360.20" y="49.92" font-size="7.6" text-anchor="end" fill="#231f20" >0.4</text>
<line x1="361.30" y1="37.70" x2="364.70" y2="37.70" stroke="#231f20" stroke-width="0.8" />
<text x="360.20" y="40.20" font-size="7.6" text-anchor="end" fill="#231f20" >0.5</text>
<text x="0" y="0" font-size="8.4" text-anchor="middle" fill="#231f20" textLength="49.5" lengthAdjust="spacingAndGlyphs" stroke="#231f20" stroke-width="0.25" transform="translate(343.0 61.8) rotate(-90)">Enrichment score</text>
<text x="342.0" y="123.1" font-size="7.3" fill="#231f20"><tspan font-style="italic">HMGA2</tspan> <tspan font-weight="bold">high</tspan></text>
<text x="349.80" y="132.70" font-size="7.3" text-anchor="start" fill="#231f20" >RPKM&gt;2</text>
<text x="355.60" y="141.80" font-size="7.3" text-anchor="start" fill="#231f20" >n=39</text>
<text x="385.80" y="132.70" font-size="7.3" text-anchor="start" fill="#231f20" >Rank in ordered database</text>
<text x="410.80" y="141.80" font-size="7.3" text-anchor="start" fill="#231f20" >NES: 2.24</text>
<text x="407.50" y="151.00" font-size="7.3" text-anchor="start" fill="#231f20" >FDR q-val: 0</text>
<text x="469.6" y="123.1" font-size="7.3" fill="#231f20"><tspan font-style="italic">HMGA2</tspan> <tspan font-weight="bold">null</tspan></text>
<text x="475.80" y="132.70" font-size="7.3" text-anchor="start" fill="#231f20" >RPKM=0</text>
<text x="481.90" y="141.80" font-size="7.3" text-anchor="start" fill="#231f20" >n=83</text>
<text x="6.60" y="173.70" font-size="10.8" text-anchor="start" fill="#000" font-weight="bold" >C</text>
<line x1="39.40" y1="180.20" x2="39.40" y2="365.00" stroke="#231f20" stroke-width="1.1" />
<line x1="38.90" y1="364.50" x2="245.60" y2="364.50" stroke="#231f20" stroke-width="1.1" />
<line x1="36.60" y1="339.80" x2="39.40" y2="339.80" stroke="#231f20" stroke-width="0.9" />
<text x="33.80" y="342.50" font-size="7.6" text-anchor="end" fill="#231f20" >&#8722;2</text>
<line x1="36.60" y1="294.60" x2="39.40" y2="294.60" stroke="#231f20" stroke-width="0.9" />
<text x="33.80" y="297.30" font-size="7.6" text-anchor="end" fill="#231f20" >0</text>
<line x1="36.60" y1="249.40" x2="39.40" y2="249.40" stroke="#231f20" stroke-width="0.9" />
<text x="33.80" y="252.10" font-size="7.6" text-anchor="end" fill="#231f20" >2</text>
<line x1="36.60" y1="204.20" x2="39.40" y2="204.20" stroke="#231f20" stroke-width="0.9" />
<text x="33.80" y="206.90" font-size="7.6" text-anchor="end" fill="#231f20" >4</text>
<line x1="44.80" y1="364.50" x2="44.80" y2="367.30" stroke="#231f20" stroke-width="0.9" />
<text x="42.10" y="376.40" font-size="7.4" text-anchor="middle" fill="#231f20" >&#8722;4</text>
<line x1="89.60" y1="364.50" x2="89.60" y2="367.30" stroke="#231f20" stroke-width="0.9" />
<text x="86.90" y="376.40" font-size="7.4" text-anchor="middle" fill="#231f20" >&#8722;2</text>
<line x1="134.40" y1="364.50" x2="134.40" y2="367.30" stroke="#231f20" stroke-width="0.9" />
<text x="134.40" y="376.40" font-size="7.4" text-anchor="middle" fill="#231f20" >0</text>
<line x1="179.20" y1="364.50" x2="179.20" y2="367.30" stroke="#231f20" stroke-width="0.9" />
<text x="179.20" y="376.40" font-size="7.4" text-anchor="middle" fill="#231f20" >2</text>
<line x1="224.00" y1="364.50" x2="224.00" y2="367.30" stroke="#231f20" stroke-width="0.9" />
<text x="224.00" y="376.40" font-size="7.4" text-anchor="middle" fill="#231f20" >4</text>
<text x="0" y="0" font-size="8.4" text-anchor="middle" fill="#231f20" textLength="58" lengthAdjust="spacingAndGlyphs" stroke="#231f20" stroke-width="0.25" transform="translate(17.9 272.3) rotate(-90)">Leading logFC dim 2</text>
<text x="142.70" y="388.50" font-size="8.4" text-anchor="middle" fill="#231f20" textLength="57.3" lengthAdjust="spacingAndGlyphs" stroke="#231f20" stroke-width="0.25">Leading logFC dim 1</text>
<path d="M117.9 182.7L122.1 186.9L117.9 191.1L113.7 186.9Z" fill="#000" stroke="#d8283f" stroke-width="0.9"/>
<path d="M140.6 196.0L144.8 200.2L140.6 204.4L136.4 200.2Z" fill="#000" stroke="#d8283f" stroke-width="0.9"/>
<path d="M145.0 202.0L149.2 206.2L145.0 210.4L140.8 206.2Z" fill="#000" stroke="#d8283f" stroke-width="0.9"/>
<path d="M149.0 207.1L153.2 211.3L149.0 215.5L144.8 211.3Z" fill="#000" stroke="#d8283f" stroke-width="0.9"/>
<path d="M141.5 208.9L145.7 213.1L141.5 217.3L137.3 213.1Z" fill="#000" stroke="#d8283f" stroke-width="0.9"/>
<path d="M135.2 209.5L139.4 213.7L135.2 217.9L131.0 213.7Z" fill="#000" stroke="#d8283f" stroke-width="0.9"/>
<path d="M132.3 212.3L136.5 216.5L132.3 220.7L128.1 216.5Z" fill="#000" stroke="#d8283f" stroke-width="0.9"/>
<path d="M125.6 220.8L129.8 225.0L125.6 229.2L121.4 225.0Z" fill="#000" stroke="#d8283f" stroke-width="0.9"/>
<path d="M122.3 227.0L126.5 231.2L122.3 235.4L118.1 231.2Z" fill="#000" stroke="#000" stroke-width="0.9"/>
<path d="M131.2 230.2L135.4 234.4L131.2 238.6L127.0 234.4Z" fill="#c3c3c5" stroke="#8e8e90" stroke-width="0.9"/>
<path d="M131.2 225.6L135.4 229.8L131.2 234.0L127.0 229.8Z" fill="#c3c3c5" stroke="#8d55a6" stroke-width="0.9"/>
<path d="M163.5 222.1L167.7 226.3L163.5 230.5L159.3 226.3Z" fill="#000" stroke="#000" stroke-width="0.9"/>
<path d="M165.5 226.2L169.7 230.4L165.5 234.6L161.3 230.4Z" fill="#000" stroke="#d8283f" stroke-width="0.9"/>
<path d="M164.6 233.7L168.8 237.9L164.6 242.1L160.4 237.9Z" fill="#c3c3c5" stroke="#8e8e90" stroke-width="0.9"/>
<path d="M157.5 232.9L161.7 237.1L157.5 241.3L153.3 237.1Z" fill="#000" stroke="#000" stroke-width="0.9"/>
<path d="M131.3 253.1L135.5 257.3L131.3 261.5L127.1 257.3Z" fill="#c3c3c5" stroke="#8e8e90" stroke-width="0.9"/>
<path d="M155.4 253.1L159.6 257.3L155.4 261.5L151.2 257.3Z" fill="#c3c3c5" stroke="#8e8e90" stroke-width="0.9"/>
<path d="M121.7 246.4L125.9 250.6L121.7 254.8L117.5 250.6Z" fill="#000" stroke="#d8283f" stroke-width="0.9"/>
<path d="M118.8 251.2L123.0 255.4L118.8 259.6L114.6 255.4Z" fill="#000" stroke="#000" stroke-width="0.9"/>
<path d="M130.4 243.1L134.6 247.3L130.4 251.5L126.2 247.3Z" fill="#000" stroke="#d8283f" stroke-width="0.9"/>
<path d="M126.5 251.2L130.7 255.4L126.5 259.6L122.3 255.4Z" fill="#000" stroke="#d8283f" stroke-width="0.9"/>
<path d="M134.2 250.2L138.4 254.4L134.2 258.6L130.0 254.4Z" fill="#000" stroke="#d8283f" stroke-width="0.9"/>
<path d="M128.5 255.0L132.7 259.2L128.5 263.4L124.3 259.2Z" fill="#000" stroke="#d8283f" stroke-width="0.9"/>
<path d="M148.7 245.4L152.9 249.6L148.7 253.8L144.5 249.6Z" fill="#000" stroke="#000" stroke-width="0.9"/>
<path d="M155.0 247.0L159.2 251.2L155.0 255.4L150.8 251.2Z" fill="#000" stroke="#d8283f" stroke-width="0.9"/>
<path d="M151.5 250.8L155.7 255.0L151.5 259.2L147.3 255.0Z" fill="#000" stroke="#000" stroke-width="0.9"/>
<path d="M147.7 255.0L151.9 259.2L147.7 263.4L143.5 259.2Z" fill="#000" stroke="#000" stroke-width="0.9"/>
<path d="M160.2 256.6L164.4 260.8L160.2 265.0L156.0 260.8Z" fill="#000" stroke="#000" stroke-width="0.9"/>
<path d="M95.8 261.0L100.0 265.2L95.8 269.4L91.6 265.2Z" fill="#c3c3c5" stroke="#8e8e90" stroke-width="0.9"/>
<text x="95.8" y="266.8" font-size="4.4" text-anchor="middle" fill="#303030" stroke="#303030" stroke-width="0.06">N</text>
<path d="M106.3 271.8L110.5 276.0L106.3 280.2L102.1 276.0Z" fill="#000" stroke="#000" stroke-width="0.9"/>
<path d="M134.6 266.2L138.8 270.4L134.6 274.6L130.4 270.4Z" fill="#000" stroke="#000" stroke-width="0.9"/>
<path d="M144.8 268.5L149.0 272.7L144.8 276.9L140.6 272.7Z" fill="#000" stroke="#000" stroke-width="0.9"/>
<path d="M129.4 272.3L133.6 276.5L129.4 280.7L125.2 276.5Z" fill="#000" stroke="#000" stroke-width="0.9"/>
<path d="M135.8 277.1L140.0 281.3L135.8 285.5L131.6 281.3Z" fill="#000" stroke="#d8283f" stroke-width="0.9"/>
<path d="M126.5 278.5L130.7 282.7L126.5 286.9L122.3 282.7Z" fill="#c3c3c5" stroke="#8d55a6" stroke-width="0.9"/>
<path d="M141.5 282.0L145.7 286.2L141.5 290.4L137.3 286.2Z" fill="#000" stroke="#d8283f" stroke-width="0.9"/>
<path d="M155.4 282.9L159.6 287.1L155.4 291.3L151.2 287.1Z" fill="#000" stroke="#000" stroke-width="0.9"/>
<path d="M162.7 284.3L166.9 288.5L162.7 292.7L158.5 288.5Z" fill="#000" stroke="#000" stroke-width="0.9"/>
<path d="M168.8 283.9L173.0 288.1L168.8 292.3L164.6 288.1Z" fill="#d3d5da" stroke="#f1a33a" stroke-width="0.9"/>
<path d="M148.7 287.8L152.9 292.0L148.7 296.2L144.5 292.0Z" fill="#000" stroke="#000" stroke-width="0.9"/>
<path d="M178.5 288.1L182.7 292.3L178.5 296.5L174.3 292.3Z" fill="#c3c3c5" stroke="#8e8e90" stroke-width="0.9"/>
<path d="M135.2 292.0L139.4 296.2L135.2 300.4L131.0 296.2Z" fill="#000" stroke="#d8283f" stroke-width="0.9"/>
<path d="M84.4 269.0L88.6 273.2L84.4 277.4L80.2 273.2Z" fill="#c3c3c5" stroke="#8e8e90" stroke-width="0.9"/>
<text x="84.4" y="274.8" font-size="4.4" text-anchor="middle" fill="#303030" stroke="#303030" stroke-width="0.06">N</text>
<path d="M76.9 273.0L81.1 277.2L76.9 281.4L72.7 277.2Z" fill="#c3c3c5" stroke="#8e8e90" stroke-width="0.9"/>
<text x="76.9" y="278.8" font-size="4.4" text-anchor="middle" fill="#303030" stroke="#303030" stroke-width="0.06">N</text>
<path d="M66.3 279.1L70.5 283.3L66.3 287.5L62.1 283.3Z" fill="#c3c3c5" stroke="#8e8e90" stroke-width="0.9"/>
<text x="66.3" y="284.9" font-size="4.4" text-anchor="middle" fill="#303030" stroke="#303030" stroke-width="0.06">N</text>
<path d="M83.6 279.9L87.8 284.1L83.6 288.3L79.4 284.1Z" fill="#c3c3c5" stroke="#8e8e90" stroke-width="0.9"/>
<text x="83.6" y="285.7" font-size="4.4" text-anchor="middle" fill="#303030" stroke="#303030" stroke-width="0.06">N</text>
<path d="M84.4 286.6L88.6 290.8L84.4 295.0L80.2 290.8Z" fill="#c3c3c5" stroke="#8e8e90" stroke-width="0.9"/>
<text x="84.4" y="292.4" font-size="4.4" text-anchor="middle" fill="#303030" stroke="#303030" stroke-width="0.06">N</text>
<path d="M96.0 294.1L100.2 298.3L96.0 302.5L91.8 298.3Z" fill="#c3c3c5" stroke="#8e8e90" stroke-width="0.9"/>
<text x="96.0" y="299.9" font-size="4.4" text-anchor="middle" fill="#303030" stroke="#303030" stroke-width="0.06">N</text>
<path d="M96.0 296.0L100.2 300.2L96.0 304.4L91.8 300.2Z" fill="#c3c3c5" stroke="#8e8e90" stroke-width="0.9"/>
<text x="96.0" y="301.8" font-size="4.4" text-anchor="middle" fill="#303030" stroke="#303030" stroke-width="0.06">N</text>
<path d="M97.7 299.5L101.9 303.7L97.7 307.9L93.5 303.7Z" fill="#c3c3c5" stroke="#8e8e90" stroke-width="0.9"/>
<text x="97.7" y="305.3" font-size="4.4" text-anchor="middle" fill="#303030" stroke="#303030" stroke-width="0.06">N</text>
<path d="M57.3 306.4L61.5 310.6L57.3 314.8L53.1 310.6Z" fill="#c3c3c5" stroke="#8e8e90" stroke-width="0.9"/>
<text x="57.3" y="312.2" font-size="4.4" text-anchor="middle" fill="#303030" stroke="#303030" stroke-width="0.06">N</text>
<path d="M66.5 304.1L70.7 308.3L66.5 312.5L62.3 308.3Z" fill="#c3c3c5" stroke="#8e8e90" stroke-width="0.9"/>
<text x="66.5" y="309.9" font-size="4.4" text-anchor="middle" fill="#303030" stroke="#303030" stroke-width="0.06">N</text>
<path d="M46.9 313.9L51.1 318.1L46.9 322.3L42.7 318.1Z" fill="#c3c3c5" stroke="#8e8e90" stroke-width="0.9"/>
<text x="46.9" y="319.7" font-size="4.4" text-anchor="middle" fill="#303030" stroke="#303030" stroke-width="0.06">N</text>
<path d="M56.7 312.7L60.9 316.9L56.7 321.1L52.5 316.9Z" fill="#c3c3c5" stroke="#8e8e90" stroke-width="0.9"/>
<text x="56.7" y="318.5" font-size="4.4" text-anchor="middle" fill="#303030" stroke="#303030" stroke-width="0.06">N</text>
<path d="M57.3 317.9L61.5 322.1L57.3 326.3L53.1 322.1Z" fill="#c3c3c5" stroke="#8e8e90" stroke-width="0.9"/>
<text x="57.3" y="323.7" font-size="4.4" text-anchor="middle" fill="#303030" stroke="#303030" stroke-width="0.06">N</text>
<path d="M60.5 322.5L64.7 326.7L60.5 330.9L56.3 326.7Z" fill="#c3c3c5" stroke="#8e8e90" stroke-width="0.9"/>
<text x="60.5" y="328.3" font-size="4.4" text-anchor="middle" fill="#303030" stroke="#303030" stroke-width="0.06">N</text>
<path d="M67.1 320.2L71.3 324.4L67.1 328.6L62.9 324.4Z" fill="#c3c3c5" stroke="#8e8e90" stroke-width="0.9"/>
<text x="67.1" y="326.0" font-size="4.4" text-anchor="middle" fill="#303030" stroke="#303030" stroke-width="0.06">N</text>
<path d="M70.6 309.3L74.8 313.5L70.6 317.7L66.4 313.5Z" fill="#c3c3c5" stroke="#8e8e90" stroke-width="0.9"/>
<text x="70.6" y="315.1" font-size="4.4" text-anchor="middle" fill="#303030" stroke="#303030" stroke-width="0.06">N</text>
<path d="M74.6 308.1L78.8 312.3L74.6 316.5L70.4 312.3Z" fill="#c3c3c5" stroke="#8e8e90" stroke-width="0.9"/>
<text x="74.6" y="313.9" font-size="4.4" text-anchor="middle" fill="#303030" stroke="#303030" stroke-width="0.06">N</text>
<path d="M78.7 311.6L82.9 315.8L78.7 320.0L74.5 315.8Z" fill="#c3c3c5" stroke="#8e8e90" stroke-width="0.9"/>
<path d="M75.8 311.6L80.0 315.8L75.8 320.0L71.6 315.8Z" fill="#c3c3c5" stroke="#8e8e90" stroke-width="0.9"/>
<text x="75.8" y="317.4" font-size="4.4" text-anchor="middle" fill="#303030" stroke="#303030" stroke-width="0.06">N</text>
<path d="M73.5 317.9L77.7 322.1L73.5 326.3L69.3 322.1Z" fill="#c3c3c5" stroke="#8e8e90" stroke-width="0.9"/>
<text x="73.5" y="323.7" font-size="4.4" text-anchor="middle" fill="#303030" stroke="#303030" stroke-width="0.06">N</text>
<path d="M78.7 320.2L82.9 324.4L78.7 328.6L74.5 324.4Z" fill="#c3c3c5" stroke="#8e8e90" stroke-width="0.9"/>
<text x="78.7" y="326.0" font-size="4.4" text-anchor="middle" fill="#303030" stroke="#303030" stroke-width="0.06">N</text>
<path d="M79.8 324.3L84.0 328.5L79.8 332.7L75.6 328.5Z" fill="#c3c3c5" stroke="#8e8e90" stroke-width="0.9"/>
<text x="79.8" y="330.1" font-size="4.4" text-anchor="middle" fill="#303030" stroke="#303030" stroke-width="0.06">N</text>
<path d="M82.7 327.7L86.9 331.9L82.7 336.1L78.5 331.9Z" fill="#c3c3c5" stroke="#8e8e90" stroke-width="0.9"/>
<text x="82.7" y="333.5" font-size="4.4" text-anchor="middle" fill="#303030" stroke="#303030" stroke-width="0.06">N</text>
<path d="M84.4 335.2L88.6 339.4L84.4 343.6L80.2 339.4Z" fill="#c3c3c5" stroke="#8e8e90" stroke-width="0.9"/>
<path d="M85.6 331.8L89.8 336.0L85.6 340.2L81.4 336.0Z" fill="#c3c3c5" stroke="#8e8e90" stroke-width="0.9"/>
<text x="85.6" y="337.6" font-size="4.4" text-anchor="middle" fill="#303030" stroke="#303030" stroke-width="0.06">N</text>
<path d="M90.2 309.3L94.4 313.5L90.2 317.7L86.0 313.5Z" fill="#c3c3c5" stroke="#8e8e90" stroke-width="0.9"/>
<path d="M86.2 313.3L90.4 317.5L86.2 321.7L82.0 317.5Z" fill="#c3c3c5" stroke="#d8283f" stroke-width="0.9"/>
<path d="M46.9 323.1L51.1 327.3L46.9 331.5L42.7 327.3Z" fill="#c3c3c5" stroke="#8e8e90" stroke-width="0.9"/>
<text x="46.9" y="328.9" font-size="4.4" text-anchor="middle" fill="#303030" stroke="#303030" stroke-width="0.06">N</text>
<path d="M57.3 331.2L61.5 335.4L57.3 339.6L53.1 335.4Z" fill="#c3c3c5" stroke="#8e8e90" stroke-width="0.9"/>
<text x="57.3" y="337.0" font-size="4.4" text-anchor="middle" fill="#303030" stroke="#303030" stroke-width="0.06">N</text>
<path d="M57.3 337.0L61.5 341.2L57.3 345.4L53.1 341.2Z" fill="#c3c3c5" stroke="#8e8e90" stroke-width="0.9"/>
<text x="57.3" y="342.8" font-size="4.4" text-anchor="middle" fill="#303030" stroke="#303030" stroke-width="0.06">N</text>
<path d="M81.7 353.5L85.9 357.7L81.7 361.9L77.5 357.7Z" fill="#c3c3c5" stroke="#8e8e90" stroke-width="0.9"/>
<text x="81.7" y="359.3" font-size="4.4" text-anchor="middle" fill="#303030" stroke="#303030" stroke-width="0.06">N</text>
<path d="M109.2 309.3L113.4 313.5L109.2 317.7L105.0 313.5Z" fill="#c3c3c5" stroke="#8e8e90" stroke-width="0.9"/>
<path d="M112.7 307.3L116.9 311.5L112.7 315.7L108.5 311.5Z" fill="#c3c3c5" stroke="#8e8e90" stroke-width="0.9"/>
<path d="M104.4 310.2L108.6 314.4L104.4 318.6L100.2 314.4Z" fill="#000" stroke="#d8283f" stroke-width="0.9"/>
<path d="M91.0 310.2L95.2 314.4L91.0 318.6L86.8 314.4Z" fill="#c3c3c5" stroke="#8e8e90" stroke-width="0.9"/>
<path d="M100.6 318.8L104.8 323.0L100.6 327.2L96.4 323.0Z" fill="#c3c3c5" stroke="#8e8e90" stroke-width="0.9"/>
<path d="M108.3 323.1L112.5 327.3L108.3 331.5L104.1 327.3Z" fill="#c3c3c5" stroke="#8e8e90" stroke-width="0.9"/>
<text x="108.3" y="328.9" font-size="4.4" text-anchor="middle" fill="#303030" stroke="#303030" stroke-width="0.06">N</text>
<path d="M100.6 325.0L104.8 329.2L100.6 333.4L96.4 329.2Z" fill="#c3c3c5" stroke="#8e8e90" stroke-width="0.9"/>
<text x="100.6" y="330.8" font-size="4.4" text-anchor="middle" fill="#303030" stroke="#303030" stroke-width="0.06">N</text>
<path d="M101.2 331.4L105.4 335.6L101.2 339.8L97.0 335.6Z" fill="#000" stroke="#000" stroke-width="0.9"/>
<path d="M116.3 319.8L120.5 324.0L116.3 328.2L112.1 324.0Z" fill="#000" stroke="#d8283f" stroke-width="0.9"/>
<path d="M124.2 313.1L128.4 317.3L124.2 321.5L120.0 317.3Z" fill="#c3c3c5" stroke="#8e8e90" stroke-width="0.9"/>
<text x="124.2" y="318.9" font-size="4.4" text-anchor="middle" fill="#303030" stroke="#303030" stroke-width="0.06">N</text>
<path d="M135.2 311.2L139.4 315.4L135.2 319.6L131.0 315.4Z" fill="#c3c3c5" stroke="#8d55a6" stroke-width="0.9"/>
<path d="M141.9 315.0L146.1 319.2L141.9 323.4L137.7 319.2Z" fill="#000" stroke="#000" stroke-width="0.9"/>
<path d="M108.8 340.4L113.0 344.6L108.8 348.8L104.6 344.6Z" fill="#c3c3c5" stroke="#8e8e90" stroke-width="0.9"/>
<text x="108.8" y="346.2" font-size="4.4" text-anchor="middle" fill="#303030" stroke="#303030" stroke-width="0.06">N</text>
<path d="M188.8 297.1L193.0 301.3L188.8 305.5L184.6 301.3Z" fill="#c3c3c5" stroke="#3d76ae" stroke-width="0.9"/>
<path d="M161.3 302.7L165.5 306.9L161.3 311.1L157.1 306.9Z" fill="#d3d5da" stroke="#f1a33a" stroke-width="0.9"/>
<path d="M166.0 302.3L170.2 306.5L166.0 310.7L161.8 306.5Z" fill="#d3d5da" stroke="#f1a33a" stroke-width="0.9"/>
<path d="M187.5 311.4L191.7 315.6L187.5 319.8L183.3 315.6Z" fill="#c3c3c5" stroke="#3d76ae" stroke-width="0.9"/>
<path d="M175.6 317.7L179.8 321.9L175.6 326.1L171.4 321.9Z" fill="#c3c3c5" stroke="#3d76ae" stroke-width="0.9"/>
<path d="M184.0 320.8L188.2 325.0L184.0 329.2L179.8 325.0Z" fill="#c3c3c5" stroke="#8e8e90" stroke-width="0.9"/>
<path d="M194.4 320.8L198.6 325.0L194.4 329.2L190.2 325.0Z" fill="#c3c3c5" stroke="#3d76ae" stroke-width="0.9"/>
<path d="M195.0 315.8L199.2 320.0L195.0 324.2L190.8 320.0Z" fill="#c3c3c5" stroke="#3d76ae" stroke-width="0.9"/>
<path d="M202.5 314.6L206.7 318.8L202.5 323.0L198.3 318.8Z" fill="#c3c3c5" stroke="#3d76ae" stroke-width="0.9"/>
<path d="M206.3 311.4L210.5 315.6L206.3 319.8L202.1 315.6Z" fill="#c3c3c5" stroke="#3d76ae" stroke-width="0.9"/>
<path d="M205.6 308.3L209.8 312.5L205.6 316.7L201.4 312.5Z" fill="#c3c3c5" stroke="#4fb54f" stroke-width="0.9"/>
<path d="M190.0 326.4L194.2 330.6L190.0 334.8L185.8 330.6Z" fill="#c3c3c5" stroke="#8e8e90" stroke-width="0.9"/>
<path d="M199.8 324.3L204.0 328.5L199.8 332.7L195.6 328.5Z" fill="#c3c3c5" stroke="#8e8e90" stroke-width="0.9"/>
<path d="M162.5 328.9L166.7 333.1L162.5 337.3L158.3 333.1Z" fill="#c3c3c5" stroke="#8e8e90" stroke-width="0.9"/>
<path d="M177.3 330.6L181.5 334.8L177.3 339.0L173.1 334.8Z" fill="#c3c3c5" stroke="#8e8e90" stroke-width="0.9"/>
<path d="M188.8 333.3L193.0 337.5L188.8 341.7L184.6 337.5Z" fill="#c3c3c5" stroke="#3d76ae" stroke-width="0.9"/>
<path d="M191.3 335.2L195.5 339.4L191.3 343.6L187.1 339.4Z" fill="#c3c3c5" stroke="#8e8e90" stroke-width="0.9"/>
<path d="M203.1 339.6L207.3 343.8L203.1 348.0L198.9 343.8Z" fill="#c3c3c5" stroke="#3d76ae" stroke-width="0.9"/>
<path d="M200.0 343.3L204.2 347.5L200.0 351.7L195.8 347.5Z" fill="#c3c3c5" stroke="#8e8e90" stroke-width="0.9"/>
<path d="M169.4 347.1L173.6 351.3L169.4 355.5L165.2 351.3Z" fill="#c3c3c5" stroke="#8e8e90" stroke-width="0.9"/>
<path d="M227.5 303.1L231.7 307.3L227.5 311.5L223.3 307.3Z" fill="#c3c3c5" stroke="#4fb54f" stroke-width="0.9"/>
<path d="M231.0 312.6L235.2 316.8L231.0 321.0L226.8 316.8Z" fill="#c3c3c5" stroke="#4fb54f" stroke-width="0.9"/>
<path d="M237.0 312.6L241.2 316.8L237.0 321.0L232.8 316.8Z" fill="#c3c3c5" stroke="#4fb54f" stroke-width="0.9"/>
<path d="M233.6 316.1L237.8 320.3L233.6 324.5L229.4 320.3Z" fill="#c3c3c5" stroke="#4fb54f" stroke-width="0.9"/>
<path d="M237.9 317.0L242.1 321.2L237.9 325.4L233.7 321.2Z" fill="#c3c3c5" stroke="#4fb54f" stroke-width="0.9"/>
<path d="M224.0 320.4L228.2 324.6L224.0 328.8L219.8 324.6Z" fill="#c3c3c5" stroke="#4fb54f" stroke-width="0.9"/>
<path d="M222.3 340.3L226.5 344.5L222.3 348.7L218.1 344.5Z" fill="#c3c3c5" stroke="#4fb54f" stroke-width="0.9"/>
<path d="M194.6 185.3L197.29999999999998 188.0L194.6 190.7L191.9 188.0Z" fill="#000"/>
<text x="200.30" y="190.50" font-size="7.1" text-anchor="start" fill="#231f20" >HMGA2 high</text>
<path d="M194.6 195.0L197.29999999999998 197.7L194.6 200.4L191.9 197.7Z" fill="#d2d2d2"/>
<text x="200.30" y="200.20" font-size="7.1" text-anchor="start" fill="#231f20" >HMGA2 null</text>
<path d="M194.6 203.8L197.29999999999998 206.5L194.6 209.2L191.9 206.5Z" fill="#fff" stroke="#3d76ae" stroke-width="0.9"/>
<text x="200.30" y="209.00" font-size="7.1" text-anchor="start" fill="#231f20" >inv(16)</text>
<path d="M194.6 212.7L197.29999999999998 215.4L194.6 218.1L191.9 215.4Z" fill="#fff" stroke="#d8283f" stroke-width="0.9"/>
<text x="200.30" y="217.90" font-size="7.1" text-anchor="start" fill="#231f20" >CK</text>
<path d="M194.6 221.6L197.29999999999998 224.3L194.6 227.0L191.9 224.3Z" fill="#fff" stroke="#8d55a6" stroke-width="0.9"/>
<text x="200.30" y="226.80" font-size="7.1" text-anchor="start" fill="#231f20" >MLLr</text>
<path d="M194.6 230.4L197.29999999999998 233.1L194.6 235.8L191.9 233.1Z" fill="#fff" stroke="#a0a0a0" stroke-width="0.9"/>
<text x="200.30" y="235.60" font-size="7.1" text-anchor="start" fill="#231f20" >Others</text>
<path d="M194.6 239.2L197.29999999999998 241.9L194.6 244.6L191.9 241.9Z" fill="#fff" stroke="#f1a33a" stroke-width="0.9"/>
<text x="200.30" y="244.40" font-size="7.1" text-anchor="start" fill="#231f20" >t(15;17)</text>
<path d="M194.6 248.0L197.29999999999998 250.7L194.6 253.4L191.9 250.7Z" fill="#fff" stroke="#4fb54f" stroke-width="0.9"/>
<text x="200.30" y="253.20" font-size="7.1" text-anchor="start" fill="#231f20" >t(8;21)</text>
<text x="191.30" y="261.80" font-size="7.1" text-anchor="start" fill="#231f20" >N NPM1 mut</text>
<text x="280.70" y="174.10" font-size="10.8" text-anchor="start" fill="#000" font-weight="bold" >D</text>
<text x="409.80" y="173.80" font-size="8.8" text-anchor="middle" fill="#231f20" >CK AML excluded</text>
<line x1="307.10" y1="180.00" x2="307.10" y2="365.00" stroke="#231f20" stroke-width="1.1" />
<line x1="306.60" y1="364.50" x2="512.80" y2="364.50" stroke="#231f20" stroke-width="1.1" />
<line x1="304.30" y1="341.50" x2="307.10" y2="341.50" stroke="#231f20" stroke-width="0.9" />
<text x="301.10" y="344.20" font-size="7.7" text-anchor="end" fill="#231f20" >&#8722;2</text>
<line x1="304.30" y1="313.30" x2="307.10" y2="313.30" stroke="#231f20" stroke-width="0.9" />
<text x="301.10" y="316.00" font-size="7.7" text-anchor="end" fill="#231f20" >&#8722;1</text>
<line x1="304.30" y1="285.10" x2="307.10" y2="285.10" stroke="#231f20" stroke-width="0.9" />
<text x="301.10" y="287.80" font-size="7.7" text-anchor="end" fill="#231f20" >0</text>
<line x1="304.30" y1="256.90" x2="307.10" y2="256.90" stroke="#231f20" stroke-width="0.9" />
<text x="301.10" y="259.60" font-size="7.7" text-anchor="end" fill="#231f20" >1</text>
<line x1="304.30" y1="228.70" x2="307.10" y2="228.70" stroke="#231f20" stroke-width="0.9" />
<text x="301.10" y="231.40" font-size="7.7" text-anchor="end" fill="#231f20" >2</text>
<line x1="304.30" y1="200.50" x2="307.10" y2="200.50" stroke="#231f20" stroke-width="0.9" />
<text x="301.10" y="203.20" font-size="7.7" text-anchor="end" fill="#231f20" >3</text>
<line x1="312.50" y1="364.50" x2="312.50" y2="367.30" stroke="#231f20" stroke-width="0.9" />
<text x="309.80" y="376.60" font-size="7.4" text-anchor="middle" fill="#231f20" >&#8722;4</text>
<line x1="357.30" y1="364.50" x2="357.30" y2="367.30" stroke="#231f20" stroke-width="0.9" />
<text x="354.60" y="376.60" font-size="7.4" text-anchor="middle" fill="#231f20" >&#8722;2</text>
<line x1="402.10" y1="364.50" x2="402.10" y2="367.30" stroke="#231f20" stroke-width="0.9" />
<text x="402.10" y="376.60" font-size="7.4" text-anchor="middle" fill="#231f20" >0</text>
<line x1="446.90" y1="364.50" x2="446.90" y2="367.30" stroke="#231f20" stroke-width="0.9" />
<text x="446.90" y="376.60" font-size="7.4" text-anchor="middle" fill="#231f20" >2</text>
<line x1="491.70" y1="364.50" x2="491.70" y2="367.30" stroke="#231f20" stroke-width="0.9" />
<text x="491.70" y="376.60" font-size="7.4" text-anchor="middle" fill="#231f20" >4</text>
<text x="0" y="0" font-size="8.4" text-anchor="middle" fill="#231f20" textLength="58" lengthAdjust="spacingAndGlyphs" stroke="#231f20" stroke-width="0.25" transform="translate(288.3 272.5) rotate(-90)">Leading logFC dim 2</text>
<text x="409.60" y="388.60" font-size="8.4" text-anchor="middle" fill="#231f20" textLength="56.6" lengthAdjust="spacingAndGlyphs" stroke="#231f20" stroke-width="0.25">Leading logFC dim 1</text>
<path d="M334.2 182.8L338.4 187.0L334.2 191.2L330.0 187.0Z" fill="#c3c3c5" stroke="#8e8e90" stroke-width="0.9"/>
<path d="M351.9 183.1L356.1 187.3L351.9 191.5L347.7 187.3Z" fill="#c3c3c5" stroke="#8e8e90" stroke-width="0.9"/>
<path d="M363.2 205.9L367.4 210.1L363.2 214.3L359.0 210.1Z" fill="#c3c3c5" stroke="#8e8e90" stroke-width="0.9"/>
<path d="M343.2 216.6L347.4 220.8L343.2 225.0L339.0 220.8Z" fill="#c3c3c5" stroke="#8e8e90" stroke-width="0.9"/>
<path d="M351.9 217.0L356.1 221.2L351.9 225.4L347.7 221.2Z" fill="#c3c3c5" stroke="#8e8e90" stroke-width="0.9"/>
<path d="M367.3 218.2L371.5 222.4L367.3 226.6L363.1 222.4Z" fill="#c3c3c5" stroke="#8e8e90" stroke-width="0.9"/>
<path d="M377.3 223.9L381.5 228.1L377.3 232.3L373.1 228.1Z" fill="#c3c3c5" stroke="#8e8e90" stroke-width="0.9"/>
<path d="M349.6 229.6L353.8 233.8L349.6 238.0L345.4 233.8Z" fill="#c3c3c5" stroke="#8e8e90" stroke-width="0.9"/>
<text x="349.6" y="235.4" font-size="4.4" text-anchor="middle" fill="#303030" stroke="#303030" stroke-width="0.06">N</text>
<path d="M346.5 235.4L350.7 239.6L346.5 243.8L342.3 239.6Z" fill="#c3c3c5" stroke="#8e8e90" stroke-width="0.9"/>
<text x="346.5" y="241.2" font-size="4.4" text-anchor="middle" fill="#303030" stroke="#303030" stroke-width="0.06">N</text>
<path d="M315.0 236.6L319.2 240.8L315.0 245.0L310.8 240.8Z" fill="#c3c3c5" stroke="#8e8e90" stroke-width="0.9"/>
<text x="315.0" y="242.4" font-size="4.4" text-anchor="middle" fill="#303030" stroke="#303030" stroke-width="0.06">N</text>
<path d="M325.0 235.1L329.2 239.3L325.0 243.5L320.8 239.3Z" fill="#c3c3c5" stroke="#8e8e90" stroke-width="0.9"/>
<text x="325.0" y="240.9" font-size="4.4" text-anchor="middle" fill="#303030" stroke="#303030" stroke-width="0.06">N</text>
<path d="M325.8 240.8L330.0 245.0L325.8 249.2L321.6 245.0Z" fill="#c3c3c5" stroke="#8e8e90" stroke-width="0.9"/>
<text x="325.8" y="246.6" font-size="4.4" text-anchor="middle" fill="#303030" stroke="#303030" stroke-width="0.06">N</text>
<path d="M314.2 246.5L318.4 250.7L314.2 254.9L310.0 250.7Z" fill="#c3c3c5" stroke="#8e8e90" stroke-width="0.9"/>
<text x="314.2" y="252.3" font-size="4.4" text-anchor="middle" fill="#303030" stroke="#303030" stroke-width="0.06">N</text>
<path d="M334.2 247.4L338.4 251.6L334.2 255.8L330.0 251.6Z" fill="#c3c3c5" stroke="#8e8e90" stroke-width="0.9"/>
<text x="334.2" y="253.2" font-size="4.4" text-anchor="middle" fill="#303030" stroke="#303030" stroke-width="0.06">N</text>
<path d="M323.2 252.0L327.4 256.2L323.2 260.4L319.0 256.2Z" fill="#c3c3c5" stroke="#8e8e90" stroke-width="0.9"/>
<text x="323.2" y="257.8" font-size="4.4" text-anchor="middle" fill="#303030" stroke="#303030" stroke-width="0.06">N</text>
<path d="M378.8 246.2L383.0 250.4L378.8 254.6L374.6 250.4Z" fill="#c3c3c5" stroke="#8e8e90" stroke-width="0.9"/>
<path d="M436.5 192.0L440.7 196.2L436.5 200.4L432.3 196.2Z" fill="#d3d5da" stroke="#f1a33a" stroke-width="0.9"/>
<path d="M433.9 191.3L438.1 195.5L433.9 199.7L429.7 195.5Z" fill="#d3d5da" stroke="#f1a33a" stroke-width="0.9"/>
<path d="M428.8 204.3L433.0 208.5L428.8 212.7L424.6 208.5Z" fill="#d3d5da" stroke="#f1a33a" stroke-width="0.9"/>
<path d="M422.4 208.2L426.6 212.4L422.4 216.6L418.2 212.4Z" fill="#c3c3c5" stroke="#8e8e90" stroke-width="0.9"/>
<path d="M452.4 213.1L456.6 217.3L452.4 221.5L448.2 217.3Z" fill="#c3c3c5" stroke="#8e8e90" stroke-width="0.9"/>
<path d="M444.2 225.9L448.4 230.1L444.2 234.3L440.0 230.1Z" fill="#c3c3c5" stroke="#8e8e90" stroke-width="0.9"/>
<path d="M392.3 226.6L396.5 230.8L392.3 235.0L388.1 230.8Z" fill="#c3c3c5" stroke="#8d55a6" stroke-width="0.9"/>
<path d="M396.2 230.1L400.4 234.3L396.2 238.5L392.0 234.3Z" fill="#c3c3c5" stroke="#8e8e90" stroke-width="0.9"/>
<path d="M458.3 241.0L462.5 245.2L458.3 249.4L454.1 245.2Z" fill="#c3c3c5" stroke="#3d76ae" stroke-width="0.9"/>
<path d="M445.3 246.8L449.5 251.0L445.3 255.2L441.1 251.0Z" fill="#c3c3c5" stroke="#8e8e90" stroke-width="0.9"/>
<path d="M473.8 213.2L478.0 217.4L473.8 221.6L469.6 217.4Z" fill="#c3c3c5" stroke="#4fb54f" stroke-width="0.9"/>
<path d="M491.5 224.0L495.7 228.2L491.5 232.4L487.3 228.2Z" fill="#c3c3c5" stroke="#4fb54f" stroke-width="0.9"/>
<path d="M454.5 255.0L458.7 259.2L454.5 263.4L450.3 259.2Z" fill="#c3c3c5" stroke="#3d76ae" stroke-width="0.9"/>
<path d="M442.9 258.9L447.1 263.1L442.9 267.3L438.7 263.1Z" fill="#c3c3c5" stroke="#3d76ae" stroke-width="0.9"/>
<path d="M505.2 246.4L509.4 250.6L505.2 254.8L501.0 250.6Z" fill="#c3c3c5" stroke="#4fb54f" stroke-width="0.9"/>
<path d="M505.4 258.1L509.6 262.3L505.4 266.5L501.2 262.3Z" fill="#c3c3c5" stroke="#4fb54f" stroke-width="0.9"/>
<path d="M500.0 264.3L504.2 268.5L500.0 272.7L495.8 268.5Z" fill="#c3c3c5" stroke="#4fb54f" stroke-width="0.9"/>
<path d="M504.6 267.6L508.8 271.8L504.6 276.0L500.4 271.8Z" fill="#c3c3c5" stroke="#4fb54f" stroke-width="0.9"/>
<path d="M490.8 273.8L495.0 278.0L490.8 282.2L486.6 278.0Z" fill="#c3c3c5" stroke="#4fb54f" stroke-width="0.9"/>
<path d="M494.6 273.5L498.8 277.7L494.6 281.9L490.4 277.7Z" fill="#c3c3c5" stroke="#4fb54f" stroke-width="0.9"/>
<path d="M498.2 274.3L502.4 278.5L498.2 282.7L494.0 278.5Z" fill="#c3c3c5" stroke="#4fb54f" stroke-width="0.9"/>
<path d="M501.8 278.1L506.0 282.3L501.8 286.5L497.6 282.3Z" fill="#c3c3c5" stroke="#4fb54f" stroke-width="0.9"/>
<path d="M415.4 250.1L419.6 254.3L415.4 258.5L411.2 254.3Z" fill="#000" stroke="#000" stroke-width="0.9"/>
<path d="M425.7 253.5L429.9 257.7L425.7 261.9L421.5 257.7Z" fill="#000" stroke="#000" stroke-width="0.9"/>
<path d="M430.3 264.0L434.5 268.2L430.3 272.4L426.1 268.2Z" fill="#c3c3c5" stroke="#8e8e90" stroke-width="0.9"/>
<path d="M401.5 259.6L405.7 263.8L401.5 268.0L397.3 263.8Z" fill="#c3c3c5" stroke="#8d55a6" stroke-width="0.9"/>
<path d="M389.5 278.1L393.7 282.3L389.5 286.5L385.3 282.3Z" fill="#c3c3c5" stroke="#8e8e90" stroke-width="0.9"/>
<text x="389.5" y="283.9" font-size="4.4" text-anchor="middle" fill="#303030" stroke="#303030" stroke-width="0.06">N</text>
<path d="M395.7 275.5L399.9 279.7L395.7 283.9L391.5 279.7Z" fill="#c3c3c5" stroke="#8d55a6" stroke-width="0.9"/>
<path d="M392.3 283.5L396.5 287.7L392.3 291.9L388.1 287.7Z" fill="#c3c3c5" stroke="#8d55a6" stroke-width="0.9"/>
<path d="M396.6 288.4L400.8 292.6L396.6 296.8L392.4 292.6Z" fill="#c3c3c5" stroke="#8d55a6" stroke-width="0.9"/>
<path d="M368.3 255.0L372.5 259.2L368.3 263.4L364.1 259.2Z" fill="#c3c3c5" stroke="#8e8e90" stroke-width="0.9"/>
<text x="368.3" y="260.8" font-size="4.4" text-anchor="middle" fill="#303030" stroke="#303030" stroke-width="0.06">N</text>
<path d="M343.8 266.6L348.0 270.8L343.8 275.0L339.6 270.8Z" fill="#c3c3c5" stroke="#8e8e90" stroke-width="0.9"/>
<text x="343.8" y="272.4" font-size="4.4" text-anchor="middle" fill="#303030" stroke="#303030" stroke-width="0.06">N</text>
<path d="M323.8 271.6L328.0 275.8L323.8 280.0L319.6 275.8Z" fill="#c3c3c5" stroke="#8e8e90" stroke-width="0.9"/>
<text x="323.8" y="277.4" font-size="4.4" text-anchor="middle" fill="#303030" stroke="#303030" stroke-width="0.06">N</text>
<path d="M353.5 274.8L357.7 279.0L353.5 283.2L349.3 279.0Z" fill="#c3c3c5" stroke="#8e8e90" stroke-width="0.9"/>
<path d="M324.7 280.9L328.9 285.1L324.7 289.3L320.5 285.1Z" fill="#c3c3c5" stroke="#8e8e90" stroke-width="0.9"/>
<text x="324.7" y="286.7" font-size="4.4" text-anchor="middle" fill="#303030" stroke="#303030" stroke-width="0.06">N</text>
<path d="M324.2 287.0L328.4 291.2L324.2 295.4L320.0 291.2Z" fill="#c3c3c5" stroke="#8e8e90" stroke-width="0.9"/>
<text x="324.2" y="292.8" font-size="4.4" text-anchor="middle" fill="#303030" stroke="#303030" stroke-width="0.06">N</text>
<path d="M328.8 286.1L333.0 290.3L328.8 294.5L324.6 290.3Z" fill="#c3c3c5" stroke="#8e8e90" stroke-width="0.9"/>
<text x="328.8" y="291.9" font-size="4.4" text-anchor="middle" fill="#303030" stroke="#303030" stroke-width="0.06">N</text>
<path d="M362.2 293.1L366.4 297.3L362.2 301.5L358.0 297.3Z" fill="#c3c3c5" stroke="#8e8e90" stroke-width="0.9"/>
<text x="362.2" y="298.9" font-size="4.4" text-anchor="middle" fill="#303030" stroke="#303030" stroke-width="0.06">N</text>
<path d="M375.8 301.6L380.0 305.8L375.8 310.0L371.6 305.8Z" fill="#c3c3c5" stroke="#8e8e90" stroke-width="0.9"/>
<text x="375.8" y="307.4" font-size="4.4" text-anchor="middle" fill="#303030" stroke="#303030" stroke-width="0.06">N</text>
<path d="M345.8 311.0L350.0 315.2L345.8 319.4L341.6 315.2Z" fill="#c3c3c5" stroke="#8e8e90" stroke-width="0.9"/>
<text x="345.8" y="316.8" font-size="4.4" text-anchor="middle" fill="#303030" stroke="#303030" stroke-width="0.06">N</text>
<path d="M341.9 316.3L346.1 320.5L341.9 324.7L337.7 320.5Z" fill="#c3c3c5" stroke="#8e8e90" stroke-width="0.9"/>
<text x="341.9" y="322.1" font-size="4.4" text-anchor="middle" fill="#303030" stroke="#303030" stroke-width="0.06">N</text>
<path d="M340.1 322.8L344.3 327.0L340.1 331.2L335.9 327.0Z" fill="#c3c3c5" stroke="#8e8e90" stroke-width="0.9"/>
<text x="340.1" y="328.6" font-size="4.4" text-anchor="middle" fill="#303030" stroke="#303030" stroke-width="0.06">N</text>
<path d="M348.1 321.6L352.3 325.8L348.1 330.0L343.9 325.8Z" fill="#c3c3c5" stroke="#8e8e90" stroke-width="0.9"/>
<text x="348.1" y="327.4" font-size="4.4" text-anchor="middle" fill="#303030" stroke="#303030" stroke-width="0.06">N</text>
<path d="M348.8 324.3L353.0 328.5L348.8 332.7L344.6 328.5Z" fill="#c3c3c5" stroke="#8e8e90" stroke-width="0.9"/>
<text x="348.8" y="330.1" font-size="4.4" text-anchor="middle" fill="#303030" stroke="#303030" stroke-width="0.06">N</text>
<path d="M344.7 328.9L348.9 333.1L344.7 337.3L340.5 333.1Z" fill="#c3c3c5" stroke="#8e8e90" stroke-width="0.9"/>
<text x="344.7" y="334.7" font-size="4.4" text-anchor="middle" fill="#303030" stroke="#303030" stroke-width="0.06">N</text>
<path d="M355.5 329.3L359.7 333.5L355.5 337.7L351.3 333.5Z" fill="#c3c3c5" stroke="#8e8e90" stroke-width="0.9"/>
<path d="M351.9 335.5L356.1 339.7L351.9 343.9L347.7 339.7Z" fill="#c3c3c5" stroke="#8e8e90" stroke-width="0.9"/>
<text x="351.9" y="341.3" font-size="4.4" text-anchor="middle" fill="#303030" stroke="#303030" stroke-width="0.06">N</text>
<path d="M335.0 337.0L339.2 341.2L335.0 345.4L330.8 341.2Z" fill="#c3c3c5" stroke="#8e8e90" stroke-width="0.9"/>
<text x="335.0" y="342.8" font-size="4.4" text-anchor="middle" fill="#303030" stroke="#303030" stroke-width="0.06">N</text>
<path d="M339.6 336.1L343.8 340.3L339.6 344.5L335.4 340.3Z" fill="#c3c3c5" stroke="#8e8e90" stroke-width="0.9"/>
<text x="339.6" y="341.9" font-size="4.4" text-anchor="middle" fill="#303030" stroke="#303030" stroke-width="0.06">N</text>
<path d="M336.5 342.3L340.7 346.5L336.5 350.7L332.3 346.5Z" fill="#c3c3c5" stroke="#8e8e90" stroke-width="0.9"/>
<text x="336.5" y="348.1" font-size="4.4" text-anchor="middle" fill="#303030" stroke="#303030" stroke-width="0.06">N</text>
<path d="M368.1 344.3L372.3 348.5L368.1 352.7L363.9 348.5Z" fill="#c3c3c5" stroke="#8e8e90" stroke-width="0.9"/>
<path d="M374.5 353.5L378.7 357.7L374.5 361.9L370.3 357.7Z" fill="#c3c3c5" stroke="#8e8e90" stroke-width="0.9"/>
<text x="374.5" y="359.3" font-size="4.4" text-anchor="middle" fill="#303030" stroke="#303030" stroke-width="0.06">N</text>
<path d="M372.4 310.4L376.6 314.6L372.4 318.8L368.2 314.6Z" fill="#000" stroke="#000" stroke-width="0.9"/>
<path d="M367.8 315.4L372.0 319.6L367.8 323.8L363.6 319.6Z" fill="#000" stroke="#000" stroke-width="0.9"/>
<path d="M364.0 321.6L368.2 325.8L364.0 330.0L359.8 325.8Z" fill="#c3c3c5" stroke="#8e8e90" stroke-width="0.9"/>
<path d="M384.2 330.4L388.4 334.6L384.2 338.8L380.0 334.6Z" fill="#000" stroke="#000" stroke-width="0.9"/>
<path d="M429.6 304.4L433.8 308.6L429.6 312.8L425.4 308.6Z" fill="#c3c3c5" stroke="#8e8e90" stroke-width="0.9"/>
<path d="M444.6 311.6L448.8 315.8L444.6 320.0L440.4 315.8Z" fill="#c3c3c5" stroke="#8e8e90" stroke-width="0.9"/>
<path d="M437.1 316.2L441.3 320.4L437.1 324.6L432.9 320.4Z" fill="#c3c3c5" stroke="#8e8e90" stroke-width="0.9"/>
<path d="M457.3 309.3L461.5 313.5L457.3 317.7L453.1 313.5Z" fill="#c3c3c5" stroke="#3d76ae" stroke-width="0.9"/>
<path d="M453.8 315.0L458.0 319.2L453.8 323.4L449.6 319.2Z" fill="#c3c3c5" stroke="#3d76ae" stroke-width="0.9"/>
<path d="M457.9 312.1L462.1 316.3L457.9 320.5L453.7 316.3Z" fill="#c3c3c5" stroke="#8e8e90" stroke-width="0.9"/>
<path d="M461.7 314.5L465.9 318.7L461.7 322.9L457.5 318.7Z" fill="#c3c3c5" stroke="#8e8e90" stroke-width="0.9"/>
<path d="M467.1 308.1L471.3 312.3L467.1 316.5L462.9 312.3Z" fill="#c3c3c5" stroke="#8e8e90" stroke-width="0.9"/>
<path d="M472.3 314.5L476.5 318.7L472.3 322.9L468.1 318.7Z" fill="#c3c3c5" stroke="#3d76ae" stroke-width="0.9"/>
<path d="M461.3 320.2L465.5 324.4L461.3 328.6L457.1 324.4Z" fill="#c3c3c5" stroke="#3d76ae" stroke-width="0.9"/>
<path d="M459.0 326.0L463.2 330.2L459.0 334.4L454.8 330.2Z" fill="#c3c3c5" stroke="#8e8e90" stroke-width="0.9"/>
<path d="M469.4 324.8L473.6 329.0L469.4 333.2L465.2 329.0Z" fill="#c3c3c5" stroke="#3d76ae" stroke-width="0.9"/>
<path d="M400.5 323.0L404.7 327.2L400.5 331.4L396.3 327.2Z" fill="#000" stroke="#000" stroke-width="0.9"/>
<path d="M400.0 321.6L404.2 325.8L400.0 330.0L395.8 325.8Z" fill="#c3c3c5" stroke="#8e8e90" stroke-width="0.9"/>
<path d="M410.5 316.1L414.7 320.3L410.5 324.5L406.3 320.3Z" fill="#000" stroke="#000" stroke-width="0.9"/>
<path d="M416.9 318.1L421.1 322.3L416.9 326.5L412.7 322.3Z" fill="#000" stroke="#000" stroke-width="0.9"/>
<path d="M423.1 320.4L427.3 324.6L423.1 328.8L418.9 324.6Z" fill="#000" stroke="#000" stroke-width="0.9"/>
<path d="M413.5 324.7L417.7 328.9L413.5 333.1L409.3 328.9Z" fill="#000" stroke="#000" stroke-width="0.9"/>
<path d="M408.5 328.4L412.7 332.6L408.5 336.8L404.3 332.6Z" fill="#000" stroke="#000" stroke-width="0.9"/>
<path d="M416.2 328.9L420.4 333.1L416.2 337.3L412.0 333.1Z" fill="#000" stroke="#000" stroke-width="0.9"/>
<path d="M428.0 328.4L432.2 332.6L428.0 336.8L423.8 332.6Z" fill="#000" stroke="#000" stroke-width="0.9"/>
<path d="M385.4 330.4L389.6 334.6L385.4 338.8L381.2 334.6Z" fill="#000" stroke="#000" stroke-width="0.9"/>
<path d="M388.5 345.8L392.7 350.0L388.5 354.2L384.3 350.0Z" fill="#000" stroke="#000" stroke-width="0.9"/>
<path d="M394.6 351.5L398.8 355.7L394.6 359.9L390.4 355.7Z" fill="#000" stroke="#000" stroke-width="0.9"/>
<path d="M421.2 346.9L425.4 351.1L421.2 355.3L417.0 351.1Z" fill="#000" stroke="#000" stroke-width="0.9"/>
<path d="M429.2 342.7L433.4 346.9L429.2 351.1L425.0 346.9Z" fill="#000" stroke="#000" stroke-width="0.9"/>
<path d="M428.2 328.9L432.4 333.1L428.2 337.3L424.0 333.1Z" fill="#000" stroke="#000" stroke-width="0.9"/>
<text x="6.90" y="410.40" font-size="10.8" text-anchor="start" fill="#000" font-weight="bold" >E</text>
<line x1="39.50" y1="428.80" x2="39.50" y2="555.50" stroke="#231f20" stroke-width="1.1" />
<line x1="39.00" y1="555.00" x2="202.40" y2="555.00" stroke="#231f20" stroke-width="1.1" />
<line x1="36.80" y1="461.70" x2="39.50" y2="461.70" stroke="#231f20" stroke-width="0.9" />
<text x="33.90" y="464.70" font-size="7.6" text-anchor="end" fill="#231f20" >10</text>
<line x1="36.80" y1="504.60" x2="39.50" y2="504.60" stroke="#231f20" stroke-width="0.9" />
<text x="33.90" y="507.60" font-size="7.6" text-anchor="end" fill="#231f20" >0</text>
<line x1="36.80" y1="547.30" x2="39.50" y2="547.30" stroke="#231f20" stroke-width="0.9" />
<text x="33.90" y="550.30" font-size="7.6" text-anchor="end" fill="#231f20" >&#8722;10</text>
<line x1="70.40" y1="555.00" x2="70.40" y2="557.80" stroke="#231f20" stroke-width="0.9" />
<text x="67.80" y="567.40" font-size="7.6" text-anchor="middle" fill="#231f20" >&#8722;10</text>
<line x1="104.70" y1="555.00" x2="104.70" y2="557.80" stroke="#231f20" stroke-width="0.9" />
<text x="102.10" y="567.40" font-size="7.6" text-anchor="middle" fill="#231f20" >&#8722;5</text>
<line x1="139.40" y1="555.00" x2="139.40" y2="557.80" stroke="#231f20" stroke-width="0.9" />
<text x="139.40" y="567.40" font-size="7.6" text-anchor="middle" fill="#231f20" >0</text>
<line x1="174.20" y1="555.00" x2="174.20" y2="557.80" stroke="#231f20" stroke-width="0.9" />
<text x="174.20" y="567.40" font-size="7.6" text-anchor="middle" fill="#231f20" >5</text>
<text x="120.80" y="579.30" font-size="9.0" text-anchor="middle" fill="#231f20" textLength="21.4" lengthAdjust="spacingAndGlyphs" stroke="#231f20" stroke-width="0.25">UMAP 1</text>
<text x="0" y="0" font-size="9.0" text-anchor="middle" fill="#231f20" textLength="22" lengthAdjust="spacingAndGlyphs" stroke="#231f20" stroke-width="0.25" transform="translate(14.0 492.0) rotate(-90)">UMAP 2</text>
<g transform="translate(139.4 504.6) scale(1.715 1.431) translate(-320.6 -468.3)"><path d="M276.5 466.3 L278.5 466.6 L280.6 468.5 L281.7 469.3 L283.5 471.2 L285.8 473.0 L288.7 474.5 L291.5 475.3 L295.0 474.8 L299.0 474.0 L303.1 472.6 L306.0 472.0 L307.7 473.9 L307.1 477.4 L304.2 476.8 L300.2 477.4 L297.3 478.0 L295.6 480.3 L294.4 483.5 L293.3 480.0 L291.0 477.4 L288.1 476.4 L284.6 475.3 L282.0 473.0 L279.5 470.0 L277.0 468.0Z" fill="#ee2424"/><path d="M276.5 466.3 L278.5 466.6 L280.6 468.5 L281.7 469.3 L283.5 471.2 L285.8 473 L286 475.6 L284.6 475.3 L282 473 L279.5 470 L277 468Z" fill="#8a1416"/><rect x="290.6" y="475.9" width="0.6" height="0.6" fill="#f5d000"/><rect x="305.3" y="474.3" width="0.6" height="0.6" fill="#5cb848"/><rect x="292.3" y="476.4" width="0.6" height="0.6" fill="#8a1416"/><rect x="296.9" y="476.9" width="0.6" height="0.6" fill="#8a1416"/><rect x="282.4" y="470.5" width="0.6" height="0.6" fill="#f5d000"/><rect x="292.7" y="477.3" width="0.6" height="0.6" fill="#f5d000"/><rect x="292.1" y="477.7" width="0.6" height="0.6" fill="#5cb848"/><rect x="302.9" y="472.9" width="0.6" height="0.6" fill="#1f7d7c"/><rect x="304.9" y="474.4" width="0.6" height="0.6" fill="#1f7d7c"/><rect x="280.2" y="470.5" width="0.6" height="0.6" fill="#8a1416"/><rect x="283.1" y="470.9" width="0.6" height="0.6" fill="#f5d000"/><rect x="283.1" y="473.1" width="0.6" height="0.6" fill="#f5d000"/><rect x="306.4" y="474.6" width="0.6" height="0.6" fill="#8a1416"/><rect x="294.4" y="481.2" width="0.6" height="0.6" fill="#5cb848"/><rect x="304.0" y="476.7" width="0.6" height="0.6" fill="#5cb848"/><rect x="294.0" y="481.0" width="0.6" height="0.6" fill="#8a1416"/><path d="M275.0 480.0 L276.0 480.3 L276.3 482.5 L278.5 484.0 L281.0 483.0 L284.0 481.5 L286.2 480.2 L286.6 481.0 L284.0 483.3 L281.0 485.5 L278.5 487.5 L277.0 488.3 L276.3 486.5 L275.2 484.0Z" fill="#f29c1f"/><rect x="276.1" y="481.1" width="0.7" height="0.7" fill="#2b2b2b"/><rect x="275.9" y="480.6" width="0.7" height="0.7" fill="#2b2b2b"/><rect x="275.8" y="483.8" width="0.7" height="0.7" fill="#8a1416"/><rect x="275.4" y="484.1" width="0.7" height="0.7" fill="#2b2b2b"/><rect x="275.8" y="480.8" width="0.7" height="0.7" fill="#2b2b2b"/><rect x="280.3" y="483.8" width="0.7" height="0.7" fill="#2a3a9a"/><rect x="281.3" y="484.3" width="0.7" height="0.7" fill="#2b2b2b"/><rect x="286.1" y="480.9" width="0.7" height="0.7" fill="#8a1416"/><rect x="282.1" y="484.3" width="0.7" height="0.7" fill="#2a3a9a"/><rect x="283.7" y="482.8" width="0.7" height="0.7" fill="#2b2b2b"/><rect x="266.3" y="467.7" width="1.0" height="1.0" fill="#8a1416"/><rect x="269.0" y="466.7" width="1.0" height="1.0" fill="#8a1416"/><rect x="271.1" y="468.1" width="1.0" height="1.0" fill="#8a1416"/><rect x="272.8" y="467.4" width="1.0" height="1.0" fill="#8a1416"/><rect x="274.2" y="469.1" width="1.0" height="1.0" fill="#8a1416"/><rect x="274.6" y="471.5" width="1.0" height="1.0" fill="#8a1416"/><rect x="268.7" y="469.8" width="1.0" height="1.0" fill="#8a1416"/><rect x="268.0" y="472.6" width="1.0" height="1.0" fill="#8a1416"/><rect x="270.1" y="473.6" width="1.0" height="1.0" fill="#8a1416"/><rect x="265.6" y="471.5" width="1.0" height="1.0" fill="#8a1416"/><rect x="265.9" y="475.7" width="1.0" height="1.0" fill="#8a1416"/><rect x="267.3" y="477.4" width="1.0" height="1.0" fill="#8a1416"/><rect x="270.1" y="477.8" width="1.0" height="1.0" fill="#8a1416"/><rect x="272.5" y="468.4" width="1.0" height="1.0" fill="#8a1416"/><rect x="273.9" y="471.2" width="1.0" height="1.0" fill="#8a1416"/><rect x="274.6" y="469.8" width="1.0" height="1.0" fill="#8a1416"/><rect x="266.6" y="469.1" width="1.0" height="1.0" fill="#8a1416"/><rect x="271.8" y="470.3" width="1.0" height="1.0" fill="#8a1416"/><rect x="269.6" y="468.4" width="1.0" height="1.0" fill="#8a1416"/><path d="M304.6 466.0 L309.2 464.2 L313.8 462.8 L318.5 462.2 L323.1 460.8 L324.8 460.2 L330.0 461.3 L336.9 461.9 L341.5 461.3 L345.0 460.2 L348.5 459.6 L351.9 460.2 L353.7 463.1 L352.5 466.5 L348.5 470.0 L343.8 472.3 L343.3 475.8 L344.4 481.5 L344.4 487.3 L343.3 490.8 L339.8 491.9 L339.2 494.8 L338.1 498.3 L334.6 498.8 L332.3 496.0 L330.6 493.1 L328.8 490.8 L327.1 488.5 L326.0 488.5 L324.8 490.8 L323.1 493.1 L320.2 492.5 L319.6 489.6 L321.3 486.7 L324.2 485.0 L325.4 481.5 L321.9 479.8 L317.3 479.2 L313.8 480.4 L311.5 481.5 L308.1 481.0 L306.9 478.7 L308.7 476.9 L311.5 475.8 L309.0 474.5 L306.5 473.5 L305.5 472.5 L307.7 471.0 L310.0 471.0 L306.0 469.5Z" fill="#e5167f"/><path d="M329.0 481.0 L332.9 474.6 L336.4 471.4 L340.0 472.6 L343.9 475.8 L345.5 481.0 L344.8 487.5 L340.8 491.1 L335.1 491.9 L331.1 493.5 L327.5 488.1Z" fill="#f5d60a"/><path d="M319.3 489.9 L319.8 486.4 L322.9 484.0 L326.0 485.1 L325.5 490.5 L322.4 492.9Z" fill="#f5d60a"/><path d="M338.2 462.6 L343.3 461.2 L348.5 459.4 L352.1 460.5 L354.1 464.1 L352.7 467.1 L347.7 470.0 L343.9 472.2 L339.5 472.9 L337.0 468.0Z" fill="#dc3a28"/><path d="M325.96 485.7 L327.36 488.5 L330.86 493.95 L332.9 497.2 L332.9 501.4 L325.96 501.4Z" fill="#fff"/><path d="M319.3 489.9 L319.8 486.4 L322.9 484.0 L326.0 485.1 L325.5 490.5 L322.4 492.9Z" fill="#f5d60a"/><path d="M330.6 493.2 L335.1 491.6 L340.8 490.8 L339.5 493.5 L338.4 497.6 L334.6 498.8 L332.6 497" fill="#f5d60a"/><ellipse cx="336.4" cy="495.8" rx="2.6" ry="2.9" fill="#751c88"/><rect x="340.4" y="462.3" width="0.85" height="0.85" fill="#e5167f"/><rect x="340.8" y="471.8" width="0.85" height="0.85" fill="#8a1416"/><rect x="343.0" y="471.5" width="0.85" height="0.85" fill="#f5d000"/><rect x="338.9" y="465.8" width="0.85" height="0.85" fill="#1f7d7c"/><rect x="343.5" y="466.4" width="0.85" height="0.85" fill="#e5167f"/><rect x="348.5" y="469.1" width="0.85" height="0.85" fill="#8a1416"/><rect x="351.4" y="467.8" width="0.85" height="0.85" fill="#f5d000"/><rect x="342.5" y="470.6" width="0.85" height="0.85" fill="#ee2424"/><rect x="341.8" y="467.6" width="0.85" height="0.85" fill="#e5167f"/><rect x="348.6" y="463.2" width="0.85" height="0.85" fill="#1f7d7c"/><rect x="343.1" y="468.2" width="0.85" height="0.85" fill="#f5d000"/><rect x="346.6" y="468.1" width="0.85" height="0.85" fill="#f29c1f"/><rect x="343.9" y="462.0" width="0.85" height="0.85" fill="#5cb848"/><rect x="350.2" y="463.0" width="0.85" height="0.85" fill="#8a1416"/><rect x="338.9" y="466.6" width="0.85" height="0.85" fill="#e5167f"/><rect x="347.9" y="464.4" width="0.85" height="0.85" fill="#8a1416"/><rect x="351.1" y="462.9" width="0.85" height="0.85" fill="#1f7d7c"/><rect x="340.9" y="469.9" width="0.85" height="0.85" fill="#f29c1f"/><rect x="339.7" y="470.9" width="0.85" height="0.85" fill="#5cb848"/><rect x="349.0" y="462.4" width="0.85" height="0.85" fill="#f5d000"/><rect x="344.0" y="471.5" width="0.85" height="0.85" fill="#ee2424"/><rect x="343.6" y="465.5" width="0.85" height="0.85" fill="#f5d000"/><rect x="340.4" y="471.4" width="0.85" height="0.85" fill="#f29c1f"/><rect x="348.2" y="466.2" width="0.85" height="0.85" fill="#e5167f"/><rect x="351.0" y="464.0" width="0.85" height="0.85" fill="#8a1416"/><rect x="338.7" y="471.1" width="0.85" height="0.85" fill="#5cb848"/><rect x="339.1" y="462.7" width="0.85" height="0.85" fill="#f29c1f"/><rect x="352.9" y="462.9" width="0.85" height="0.85" fill="#5cb848"/><rect x="342.8" y="465.1" width="0.85" height="0.85" fill="#ee2424"/><rect x="341.7" y="471.8" width="0.85" height="0.85" fill="#e5167f"/><rect x="340.7" y="471.1" width="0.85" height="0.85" fill="#f5d000"/><rect x="346.1" y="468.7" width="0.85" height="0.85" fill="#f5d000"/><rect x="352.7" y="465.8" width="0.85" height="0.85" fill="#ee2424"/><rect x="345.9" y="468.6" width="0.85" height="0.85" fill="#8a1416"/><rect x="344.5" y="471.3" width="0.85" height="0.85" fill="#8a1416"/><rect x="346.9" y="468.7" width="0.85" height="0.85" fill="#f5d000"/><rect x="350.0" y="465.3" width="0.85" height="0.85" fill="#5cb848"/><rect x="346.6" y="470.6" width="0.85" height="0.85" fill="#f29c1f"/><rect x="346.6" y="461.6" width="0.85" height="0.85" fill="#f5d000"/><rect x="341.4" y="468.5" width="0.85" height="0.85" fill="#1f7d7c"/><rect x="347.4" y="463.5" width="0.85" height="0.85" fill="#ee2424"/><rect x="339.4" y="466.8" width="0.85" height="0.85" fill="#5cb848"/><rect x="341.7" y="466.1" width="0.85" height="0.85" fill="#f5d000"/><rect x="352.7" y="466.7" width="0.85" height="0.85" fill="#1f7d7c"/><rect x="352.9" y="465.6" width="0.85" height="0.85" fill="#8a1416"/><rect x="343.9" y="462.7" width="0.85" height="0.85" fill="#5cb848"/><rect x="345.4" y="464.0" width="0.85" height="0.85" fill="#e5167f"/><rect x="352.7" y="466.5" width="0.85" height="0.85" fill="#8a1416"/><rect x="338.9" y="465.1" width="0.85" height="0.85" fill="#8a1416"/><rect x="349.4" y="462.7" width="0.85" height="0.85" fill="#ee2424"/><rect x="345.5" y="466.1" width="0.85" height="0.85" fill="#1f7d7c"/><rect x="347.7" y="469.1" width="0.85" height="0.85" fill="#e5167f"/><rect x="337.4" y="467.9" width="0.85" height="0.85" fill="#ee2424"/><rect x="351.1" y="467.7" width="0.85" height="0.85" fill="#e5167f"/><rect x="346.1" y="462.3" width="0.85" height="0.85" fill="#8a1416"/><rect x="340.7" y="466.7" width="0.85" height="0.85" fill="#1f7d7c"/><rect x="347.0" y="461.2" width="0.85" height="0.85" fill="#f29c1f"/><rect x="342.9" y="461.8" width="0.85" height="0.85" fill="#e5167f"/><rect x="340.3" y="469.9" width="0.85" height="0.85" fill="#ee2424"/><rect x="352.2" y="461.2" width="0.85" height="0.85" fill="#f29c1f"/><rect x="338.5" y="464.6" width="0.85" height="0.85" fill="#5cb848"/><rect x="346.3" y="468.9" width="0.85" height="0.85" fill="#1f7d7c"/><rect x="340.4" y="467.9" width="0.85" height="0.85" fill="#e5167f"/><rect x="350.7" y="460.7" width="0.85" height="0.85" fill="#5cb848"/><rect x="346.7" y="464.2" width="0.85" height="0.85" fill="#5cb848"/><rect x="351.0" y="464.3" width="0.85" height="0.85" fill="#8a1416"/><rect x="349.1" y="468.0" width="0.85" height="0.85" fill="#f5d000"/><rect x="350.0" y="467.7" width="0.85" height="0.85" fill="#ee2424"/><rect x="352.5" y="465.9" width="0.85" height="0.85" fill="#1f7d7c"/><rect x="341.8" y="468.5" width="0.85" height="0.85" fill="#f29c1f"/><rect x="346.9" y="461.2" width="0.85" height="0.85" fill="#ee2424"/><rect x="348.6" y="460.4" width="0.85" height="0.85" fill="#ee2424"/><rect x="338.7" y="464.7" width="0.85" height="0.85" fill="#f29c1f"/><rect x="344.3" y="464.2" width="0.85" height="0.85" fill="#1f7d7c"/><rect x="340.6" y="464.4" width="0.85" height="0.85" fill="#1f7d7c"/><rect x="347.8" y="460.0" width="0.85" height="0.85" fill="#1f7d7c"/><rect x="340.4" y="464.9" width="0.85" height="0.85" fill="#ee2424"/><rect x="343.1" y="464.4" width="0.85" height="0.85" fill="#e5167f"/><rect x="338.6" y="470.1" width="0.85" height="0.85" fill="#e5167f"/><rect x="346.7" y="462.0" width="0.85" height="0.85" fill="#ee2424"/><rect x="347.0" y="464.0" width="0.85" height="0.85" fill="#e5167f"/><rect x="350.0" y="463.2" width="0.85" height="0.85" fill="#ee2424"/><rect x="339.0" y="469.4" width="0.85" height="0.85" fill="#5cb848"/><rect x="339.7" y="472.0" width="0.85" height="0.85" fill="#e5167f"/><rect x="339.3" y="463.9" width="0.85" height="0.85" fill="#1f7d7c"/><rect x="346.2" y="464.4" width="0.85" height="0.85" fill="#f29c1f"/><rect x="344.4" y="461.9" width="0.85" height="0.85" fill="#5cb848"/><rect x="350.6" y="463.5" width="0.85" height="0.85" fill="#5cb848"/><rect x="353.4" y="463.4" width="0.85" height="0.85" fill="#5cb848"/><rect x="340.7" y="464.9" width="0.85" height="0.85" fill="#ee2424"/><rect x="345.8" y="466.1" width="0.85" height="0.85" fill="#e5167f"/><rect x="343.8" y="467.2" width="0.85" height="0.85" fill="#5cb848"/><rect x="341.1" y="465.4" width="0.85" height="0.85" fill="#e5167f"/><rect x="345.6" y="469.7" width="0.85" height="0.85" fill="#f5d000"/><rect x="348.1" y="459.5" width="0.85" height="0.85" fill="#e5167f"/><rect x="341.4" y="463.1" width="0.85" height="0.85" fill="#f5d000"/><rect x="342.8" y="466.7" width="0.85" height="0.85" fill="#f5d000"/><rect x="344.1" y="466.4" width="0.85" height="0.85" fill="#1f7d7c"/><rect x="351.5" y="460.7" width="0.85" height="0.85" fill="#1f7d7c"/><rect x="344.6" y="468.1" width="0.85" height="0.85" fill="#8a1416"/><rect x="346.4" y="468.4" width="0.85" height="0.85" fill="#f5d000"/><rect x="353.3" y="464.6" width="0.85" height="0.85" fill="#ee2424"/><rect x="353.1" y="464.6" width="0.85" height="0.85" fill="#f5d000"/><rect x="346.3" y="467.5" width="0.85" height="0.85" fill="#f5d000"/><rect x="344.3" y="466.1" width="0.85" height="0.85" fill="#5cb848"/><rect x="341.9" y="464.8" width="0.85" height="0.85" fill="#ee2424"/><rect x="342.3" y="466.6" width="0.85" height="0.85" fill="#1f7d7c"/><rect x="345.3" y="463.0" width="0.85" height="0.85" fill="#f5d000"/><rect x="350.2" y="467.3" width="0.85" height="0.85" fill="#f29c1f"/><rect x="347.8" y="464.9" width="0.85" height="0.85" fill="#f5d000"/><rect x="329.3" y="483.6" width="0.85" height="0.85" fill="#8a1416"/><rect x="332.8" y="469.8" width="0.85" height="0.85" fill="#5cb848"/><rect x="330.7" y="472.9" width="0.85" height="0.85" fill="#1f7d7c"/><rect x="327.9" y="481.1" width="0.85" height="0.85" fill="#5cb848"/><rect x="337.2" y="471.8" width="0.85" height="0.85" fill="#e5167f"/><rect x="336.8" y="471.8" width="0.85" height="0.85" fill="#751c88"/><rect x="336.5" y="470.6" width="0.85" height="0.85" fill="#1f7d7c"/><rect x="337.7" y="475.1" width="0.85" height="0.85" fill="#1f7d7c"/><rect x="330.1" y="478.7" width="0.85" height="0.85" fill="#8a1416"/><rect x="337.6" y="466.0" width="0.85" height="0.85" fill="#1f7d7c"/><rect x="335.2" y="474.8" width="0.85" height="0.85" fill="#8a1416"/><rect x="332.5" y="469.1" width="0.85" height="0.85" fill="#1f7d7c"/><rect x="333.6" y="471.5" width="0.85" height="0.85" fill="#5cb848"/><rect x="334.0" y="479.9" width="0.85" height="0.85" fill="#5cb848"/><rect x="332.5" y="480.1" width="0.85" height="0.85" fill="#1f7d7c"/><rect x="335.7" y="472.9" width="0.85" height="0.85" fill="#f5d000"/><rect x="336.7" y="469.2" width="0.85" height="0.85" fill="#5cb848"/><rect x="338.3" y="466.8" width="0.85" height="0.85" fill="#e5167f"/><rect x="335.2" y="469.2" width="0.85" height="0.85" fill="#8a1416"/><rect x="338.7" y="469.1" width="0.85" height="0.85" fill="#751c88"/><rect x="332.2" y="475.1" width="0.85" height="0.85" fill="#8a1416"/><rect x="329.9" y="473.7" width="0.85" height="0.85" fill="#8a1416"/><rect x="329.1" y="483.3" width="0.85" height="0.85" fill="#751c88"/><rect x="336.2" y="473.4" width="0.85" height="0.85" fill="#5cb848"/><rect x="327.2" y="480.2" width="0.85" height="0.85" fill="#5cb848"/><rect x="334.2" y="479.5" width="0.85" height="0.85" fill="#f5d000"/><rect x="336.3" y="470.1" width="0.85" height="0.85" fill="#5cb848"/><rect x="331.5" y="465.4" width="0.85" height="0.85" fill="#e5167f"/><rect x="334.3" y="465.9" width="0.85" height="0.85" fill="#1f7d7c"/><rect x="326.3" y="480.5" width="0.85" height="0.85" fill="#751c88"/><rect x="331.9" y="474.8" width="0.85" height="0.85" fill="#5cb848"/><rect x="330.3" y="474.0" width="0.85" height="0.85" fill="#e5167f"/><rect x="330.7" y="468.0" width="0.85" height="0.85" fill="#751c88"/><rect x="327.4" y="480.0" width="0.85" height="0.85" fill="#f5d000"/><rect x="331.9" y="477.7" width="0.85" height="0.85" fill="#8a1416"/><rect x="330.7" y="472.1" width="0.85" height="0.85" fill="#751c88"/><rect x="330.9" y="479.8" width="0.85" height="0.85" fill="#e5167f"/><rect x="330.7" y="465.0" width="0.85" height="0.85" fill="#e5167f"/><rect x="332.8" y="479.7" width="0.85" height="0.85" fill="#1f7d7c"/><rect x="326.6" y="478.7" width="0.85" height="0.85" fill="#f5d000"/><rect x="333.6" y="462.5" width="0.85" height="0.85" fill="#f5d000"/><rect x="331.1" y="462.2" width="0.85" height="0.85" fill="#8a1416"/><rect x="327.5" y="482.3" width="0.85" height="0.85" fill="#f5d000"/><rect x="338.8" y="467.4" width="0.85" height="0.85" fill="#f5d000"/><rect x="328.3" y="476.0" width="0.85" height="0.85" fill="#751c88"/><rect x="335.6" y="469.1" width="0.85" height="0.85" fill="#5cb848"/><rect x="331.5" y="473.6" width="0.85" height="0.85" fill="#1f7d7c"/><rect x="329.8" y="481.5" width="0.85" height="0.85" fill="#e5167f"/><rect x="332.6" y="478.1" width="0.85" height="0.85" fill="#5cb848"/><rect x="330.2" y="465.4" width="0.85" height="0.85" fill="#8a1416"/><rect x="336.5" y="462.4" width="0.85" height="0.85" fill="#e5167f"/><rect x="332.7" y="479.6" width="0.85" height="0.85" fill="#f5d000"/><rect x="330.4" y="466.3" width="0.85" height="0.85" fill="#f5d000"/><rect x="331.0" y="474.9" width="0.85" height="0.85" fill="#1f7d7c"/><rect x="334.4" y="472.4" width="0.85" height="0.85" fill="#e5167f"/><rect x="333.1" y="471.7" width="0.85" height="0.85" fill="#751c88"/><rect x="338.5" y="470.9" width="0.85" height="0.85" fill="#8a1416"/><rect x="332.8" y="470.9" width="0.85" height="0.85" fill="#f5d000"/><rect x="336.8" y="464.0" width="0.85" height="0.85" fill="#e5167f"/><rect x="338.1" y="470.8" width="0.85" height="0.85" fill="#f5d000"/><rect x="337.0" y="463.3" width="0.85" height="0.85" fill="#e5167f"/><rect x="332.3" y="467.4" width="0.85" height="0.85" fill="#8a1416"/><rect x="331.9" y="481.2" width="0.85" height="0.85" fill="#f5d000"/><rect x="331.8" y="479.0" width="0.85" height="0.85" fill="#e5167f"/><rect x="328.0" y="482.0" width="0.85" height="0.85" fill="#e5167f"/><rect x="337.3" y="464.9" width="0.85" height="0.85" fill="#e5167f"/><rect x="336.4" y="475.6" width="0.85" height="0.85" fill="#8a1416"/><rect x="333.2" y="463.2" width="0.85" height="0.85" fill="#e5167f"/><rect x="334.0" y="465.9" width="0.85" height="0.85" fill="#751c88"/><rect x="328.9" y="482.2" width="0.85" height="0.85" fill="#8a1416"/><rect x="330.9" y="475.5" width="0.85" height="0.85" fill="#e5167f"/><rect x="335.7" y="463.8" width="0.85" height="0.85" fill="#751c88"/><rect x="336.5" y="474.0" width="0.85" height="0.85" fill="#751c88"/><rect x="333.1" y="462.4" width="0.85" height="0.85" fill="#8a1416"/><rect x="332.2" y="462.8" width="0.85" height="0.85" fill="#e5167f"/><rect x="331.8" y="472.9" width="0.85" height="0.85" fill="#1f7d7c"/><rect x="330.4" y="470.9" width="0.85" height="0.85" fill="#751c88"/><rect x="335.3" y="463.5" width="0.85" height="0.85" fill="#751c88"/><rect x="335.3" y="476.9" width="0.85" height="0.85" fill="#8a1416"/><rect x="327.7" y="471.8" width="0.85" height="0.85" fill="#1f7d7c"/><rect x="332.7" y="468.5" width="0.85" height="0.85" fill="#8a1416"/><rect x="327.6" y="479.0" width="0.85" height="0.85" fill="#8a1416"/><rect x="328.1" y="475.8" width="0.85" height="0.85" fill="#5cb848"/><rect x="333.8" y="463.9" width="0.85" height="0.85" fill="#e5167f"/><rect x="328.6" y="470.3" width="0.85" height="0.85" fill="#5cb848"/><rect x="329.8" y="472.3" width="0.85" height="0.85" fill="#751c88"/><rect x="335.0" y="471.8" width="0.85" height="0.85" fill="#f5d000"/><rect x="331.4" y="464.2" width="0.85" height="0.85" fill="#f5d000"/><rect x="334.7" y="464.9" width="0.85" height="0.85" fill="#1f7d7c"/><rect x="334.8" y="465.9" width="0.85" height="0.85" fill="#f5d000"/><rect x="326.8" y="488.2" width="0.85" height="0.85" fill="#f5d000"/><rect x="331.4" y="462.1" width="0.85" height="0.85" fill="#f29c1f"/><rect x="349.5" y="466.2" width="0.85" height="0.85" fill="#f5d000"/><rect x="321.0" y="465.3" width="0.85" height="0.85" fill="#ee2424"/><rect x="338.2" y="473.9" width="0.85" height="0.85" fill="#f5d000"/><rect x="341.8" y="473.8" width="0.85" height="0.85" fill="#5cb848"/><rect x="324.4" y="490.3" width="0.85" height="0.85" fill="#f5d000"/><rect x="334.8" y="484.7" width="0.85" height="0.85" fill="#8a1416"/><rect x="342.1" y="465.8" width="0.85" height="0.85" fill="#f5d000"/><rect x="324.8" y="460.9" width="0.85" height="0.85" fill="#f29c1f"/><rect x="330.5" y="464.2" width="0.85" height="0.85" fill="#5cb848"/><rect x="324.5" y="472.8" width="0.85" height="0.85" fill="#ee2424"/><rect x="311.1" y="469.2" width="0.85" height="0.85" fill="#751c88"/><rect x="350.3" y="461.7" width="0.85" height="0.85" fill="#f29c1f"/><rect x="343.1" y="487.9" width="0.85" height="0.85" fill="#f5d000"/><rect x="343.3" y="475.4" width="0.85" height="0.85" fill="#ee2424"/><rect x="329.0" y="463.6" width="0.85" height="0.85" fill="#751c88"/><rect x="324.6" y="470.6" width="0.85" height="0.85" fill="#751c88"/><rect x="345.1" y="464.2" width="0.85" height="0.85" fill="#f29c1f"/><rect x="325.2" y="460.5" width="0.85" height="0.85" fill="#f5d000"/><rect x="334.9" y="476.6" width="0.85" height="0.85" fill="#f5d000"/><rect x="323.1" y="472.2" width="0.85" height="0.85" fill="#1f7d7c"/><rect x="347.7" y="469.2" width="0.85" height="0.85" fill="#5cb848"/><rect x="346.1" y="469.1" width="0.85" height="0.85" fill="#8a1416"/><rect x="328.0" y="463.7" width="0.85" height="0.85" fill="#751c88"/><rect x="336.9" y="496.5" width="0.85" height="0.85" fill="#8a1416"/><rect x="332.3" y="466.0" width="0.85" height="0.85" fill="#f29c1f"/><rect x="336.5" y="476.1" width="0.85" height="0.85" fill="#8a1416"/><rect x="330.1" y="464.7" width="0.85" height="0.85" fill="#ee2424"/><rect x="326.9" y="471.2" width="0.85" height="0.85" fill="#8a1416"/><rect x="313.0" y="476.9" width="0.85" height="0.85" fill="#f29c1f"/><rect x="326.7" y="480.4" width="0.85" height="0.85" fill="#f29c1f"/><rect x="315.9" y="471.6" width="0.85" height="0.85" fill="#f5d000"/><rect x="326.9" y="471.9" width="0.85" height="0.85" fill="#8a1416"/><rect x="320.5" y="465.2" width="0.85" height="0.85" fill="#f5d000"/><rect x="342.7" y="490.0" width="0.85" height="0.85" fill="#f29c1f"/><rect x="347.7" y="467.5" width="0.85" height="0.85" fill="#8a1416"/><rect x="307.5" y="472.0" width="0.85" height="0.85" fill="#5cb848"/><rect x="338.9" y="481.5" width="0.85" height="0.85" fill="#1f7d7c"/><rect x="330.8" y="468.9" width="0.85" height="0.85" fill="#5cb848"/><rect x="336.5" y="471.6" width="0.85" height="0.85" fill="#f5d000"/><rect x="318.0" y="476.1" width="0.85" height="0.85" fill="#1f7d7c"/><rect x="325.0" y="466.2" width="0.85" height="0.85" fill="#f29c1f"/><rect x="346.9" y="464.3" width="0.85" height="0.85" fill="#5cb848"/><rect x="338.5" y="470.1" width="0.85" height="0.85" fill="#1f7d7c"/><rect x="340.0" y="479.3" width="0.85" height="0.85" fill="#8a1416"/><rect x="319.1" y="470.3" width="0.85" height="0.85" fill="#f5d000"/><rect x="344.1" y="480.2" width="0.85" height="0.85" fill="#1f7d7c"/><rect x="310.3" y="479.8" width="0.85" height="0.85" fill="#1f7d7c"/><rect x="313.5" y="468.5" width="0.85" height="0.85" fill="#8a1416"/><rect x="327.3" y="462.6" width="0.85" height="0.85" fill="#8a1416"/><rect x="349.6" y="462.5" width="0.85" height="0.85" fill="#1f7d7c"/><rect x="349.2" y="459.9" width="0.85" height="0.85" fill="#751c88"/><rect x="333.4" y="480.7" width="0.85" height="0.85" fill="#f5d000"/><rect x="325.4" y="481.9" width="0.85" height="0.85" fill="#f5d000"/><rect x="313.9" y="466.6" width="0.85" height="0.85" fill="#751c88"/><rect x="343.4" y="465.5" width="0.85" height="0.85" fill="#f5d000"/><rect x="320.4" y="478.6" width="0.85" height="0.85" fill="#751c88"/><rect x="330.7" y="482.9" width="0.85" height="0.85" fill="#f5d000"/><rect x="342.5" y="464.0" width="0.85" height="0.85" fill="#8a1416"/><rect x="326.0" y="485.8" width="0.85" height="0.85" fill="#5cb848"/><rect x="331.5" y="469.6" width="0.85" height="0.85" fill="#f5d000"/><rect x="339.8" y="487.9" width="0.85" height="0.85" fill="#1f7d7c"/><rect x="317.4" y="467.5" width="0.85" height="0.85" fill="#8a1416"/><rect x="352.3" y="461.7" width="0.85" height="0.85" fill="#f5d000"/><rect x="334.5" y="491.2" width="0.85" height="0.85" fill="#f5d000"/><rect x="329.3" y="487.9" width="0.85" height="0.85" fill="#8a1416"/><rect x="346.7" y="460.8" width="0.85" height="0.85" fill="#751c88"/><rect x="310.2" y="466.6" width="0.85" height="0.85" fill="#ee2424"/><rect x="336.0" y="482.3" width="0.85" height="0.85" fill="#5cb848"/><rect x="340.1" y="484.0" width="0.85" height="0.85" fill="#ee2424"/><rect x="338.8" y="491.7" width="0.85" height="0.85" fill="#751c88"/><rect x="340.9" y="490.2" width="0.85" height="0.85" fill="#1f7d7c"/><rect x="342.2" y="479.1" width="0.85" height="0.85" fill="#f29c1f"/><rect x="336.5" y="479.6" width="0.85" height="0.85" fill="#f5d000"/><rect x="323.2" y="469.3" width="0.85" height="0.85" fill="#751c88"/><rect x="329.0" y="485.4" width="0.85" height="0.85" fill="#8a1416"/><rect x="333.9" y="477.4" width="0.85" height="0.85" fill="#1f7d7c"/><rect x="320.1" y="477.9" width="0.85" height="0.85" fill="#8a1416"/><rect x="338.9" y="487.2" width="0.85" height="0.85" fill="#f5d000"/><rect x="351.6" y="464.6" width="0.85" height="0.85" fill="#1f7d7c"/><rect x="341.7" y="483.1" width="0.85" height="0.85" fill="#751c88"/><rect x="330.4" y="463.2" width="0.85" height="0.85" fill="#f5d000"/><rect x="331.9" y="478.1" width="0.85" height="0.85" fill="#5cb848"/><rect x="338.0" y="487.7" width="0.85" height="0.85" fill="#8a1416"/><rect x="319.1" y="464.3" width="0.85" height="0.85" fill="#ee2424"/><rect x="308.8" y="468.5" width="0.85" height="0.85" fill="#751c88"/><rect x="349.9" y="468.2" width="0.85" height="0.85" fill="#f5d000"/><rect x="332.5" y="495.4" width="0.85" height="0.85" fill="#f5d000"/><rect x="350.5" y="468.0" width="0.85" height="0.85" fill="#ee2424"/><rect x="323.2" y="461.5" width="0.85" height="0.85" fill="#751c88"/><rect x="325.1" y="469.3" width="0.85" height="0.85" fill="#ee2424"/><rect x="328.2" y="475.3" width="0.85" height="0.85" fill="#751c88"/><rect x="333.8" y="489.4" width="0.85" height="0.85" fill="#751c88"/><rect x="327.8" y="478.8" width="0.85" height="0.85" fill="#5cb848"/><rect x="335.4" y="466.7" width="0.85" height="0.85" fill="#751c88"/><rect x="328.5" y="480.8" width="0.85" height="0.85" fill="#f5d000"/><rect x="325.2" y="461.4" width="0.85" height="0.85" fill="#f5d000"/><rect x="335.1" y="479.9" width="0.85" height="0.85" fill="#ee2424"/><rect x="341.0" y="479.7" width="0.85" height="0.85" fill="#ee2424"/><rect x="332.5" y="485.1" width="0.85" height="0.85" fill="#f29c1f"/><rect x="315.3" y="463.7" width="0.85" height="0.85" fill="#f5d000"/><rect x="342.7" y="465.0" width="0.85" height="0.85" fill="#f5d000"/><rect x="337.5" y="471.4" width="0.85" height="0.85" fill="#8a1416"/><rect x="334.4" y="478.7" width="0.85" height="0.85" fill="#1f7d7c"/><rect x="313.8" y="479.7" width="0.85" height="0.85" fill="#ee2424"/><rect x="310.9" y="467.8" width="0.85" height="0.85" fill="#8a1416"/><rect x="324.8" y="478.4" width="0.85" height="0.85" fill="#f29c1f"/><rect x="338.7" y="479.9" width="0.85" height="0.85" fill="#8a1416"/><rect x="331.5" y="471.9" width="0.85" height="0.85" fill="#5cb848"/><rect x="326.8" y="474.4" width="0.85" height="0.85" fill="#ee2424"/><rect x="330.9" y="477.2" width="0.85" height="0.85" fill="#751c88"/><rect x="311.3" y="479.9" width="0.85" height="0.85" fill="#f5d000"/><rect x="322.1" y="463.6" width="0.85" height="0.85" fill="#1f7d7c"/><rect x="341.3" y="478.5" width="0.85" height="0.85" fill="#ee2424"/><rect x="341.1" y="485.5" width="0.85" height="0.85" fill="#f5d000"/><rect x="332.0" y="473.5" width="0.85" height="0.85" fill="#5cb848"/><rect x="323.0" y="490.3" width="0.85" height="0.85" fill="#1f7d7c"/><rect x="310.5" y="478.9" width="0.85" height="0.85" fill="#1f7d7c"/><rect x="321.8" y="487.5" width="0.85" height="0.85" fill="#f5d000"/><rect x="330.2" y="488.7" width="0.85" height="0.85" fill="#f5d000"/><rect x="328.1" y="469.7" width="0.85" height="0.85" fill="#f29c1f"/><rect x="323.1" y="492.8" width="0.85" height="0.85" fill="#f29c1f"/><rect x="348.1" y="462.4" width="0.85" height="0.85" fill="#f5d000"/><rect x="306.3" y="472.3" width="0.85" height="0.85" fill="#1f7d7c"/><rect x="322.9" y="471.3" width="0.85" height="0.85" fill="#f5d000"/><rect x="336.1" y="474.7" width="0.85" height="0.85" fill="#8a1416"/><rect x="334.7" y="462.1" width="0.85" height="0.85" fill="#f29c1f"/><rect x="308.0" y="477.8" width="0.85" height="0.85" fill="#8a1416"/><rect x="323.5" y="491.1" width="0.85" height="0.85" fill="#ee2424"/><rect x="338.2" y="470.3" width="0.85" height="0.85" fill="#5cb848"/><rect x="328.9" y="478.1" width="0.85" height="0.85" fill="#f5d000"/><rect x="317.8" y="469.7" width="0.85" height="0.85" fill="#751c88"/><rect x="343.7" y="470.0" width="0.85" height="0.85" fill="#5cb848"/><rect x="344.2" y="467.8" width="0.85" height="0.85" fill="#ee2424"/><rect x="324.1" y="465.7" width="0.85" height="0.85" fill="#f29c1f"/><rect x="314.0" y="465.9" width="0.85" height="0.85" fill="#5cb848"/><rect x="344.1" y="471.1" width="0.85" height="0.85" fill="#f5d000"/><rect x="325.0" y="474.0" width="0.85" height="0.85" fill="#f5d000"/><rect x="337.4" y="479.1" width="0.85" height="0.85" fill="#ee2424"/><rect x="336.3" y="473.8" width="0.85" height="0.85" fill="#ee2424"/><rect x="335.1" y="475.8" width="0.85" height="0.85" fill="#5cb848"/><rect x="328.3" y="473.1" width="0.85" height="0.85" fill="#f5d000"/><rect x="324.1" y="488.6" width="0.85" height="0.85" fill="#ee2424"/><rect x="338.7" y="469.5" width="0.85" height="0.85" fill="#f5d000"/><rect x="335.8" y="474.0" width="0.85" height="0.85" fill="#f5d000"/><rect x="338.1" y="466.8" width="0.85" height="0.85" fill="#1f7d7c"/><rect x="346.6" y="467.6" width="0.85" height="0.85" fill="#8a1416"/><rect x="332.3" y="464.7" width="0.85" height="0.85" fill="#1f7d7c"/><rect x="317.8" y="465.9" width="0.85" height="0.85" fill="#f5d000"/><rect x="338.7" y="490.6" width="0.85" height="0.85" fill="#8a1416"/><rect x="317.9" y="469.5" width="0.85" height="0.85" fill="#f5d000"/><rect x="337.3" y="474.8" width="0.85" height="0.85" fill="#8a1416"/><rect x="338.0" y="465.0" width="0.85" height="0.85" fill="#5cb848"/><rect x="347.4" y="467.2" width="0.85" height="0.85" fill="#f29c1f"/><rect x="346.6" y="466.3" width="0.85" height="0.85" fill="#f5d000"/><rect x="324.6" y="465.2" width="0.85" height="0.85" fill="#751c88"/><rect x="332.9" y="486.1" width="0.85" height="0.85" fill="#1f7d7c"/><rect x="315.2" y="470.7" width="0.85" height="0.85" fill="#751c88"/><rect x="325.8" y="465.6" width="0.85" height="0.85" fill="#f5d000"/><rect x="348.0" y="470.2" width="0.85" height="0.85" fill="#ee2424"/><rect x="332.5" y="470.3" width="0.85" height="0.85" fill="#ee2424"/><rect x="324.2" y="472.2" width="0.85" height="0.85" fill="#f5d000"/><rect x="308.6" y="467.5" width="0.85" height="0.85" fill="#f5d000"/><rect x="331.7" y="481.5" width="0.85" height="0.85" fill="#5cb848"/><rect x="341.9" y="485.9" width="0.85" height="0.85" fill="#8a1416"/><rect x="332.1" y="481.4" width="0.85" height="0.85" fill="#5cb848"/><rect x="345.2" y="469.5" width="0.85" height="0.85" fill="#751c88"/><rect x="313.9" y="471.0" width="0.85" height="0.85" fill="#751c88"/><rect x="337.7" y="470.2" width="0.85" height="0.85" fill="#f5d000"/><path d="M306.8 475.0 L313 475.6 L321 476.4" fill="none" stroke="#fff" stroke-width="0.7"/><rect x="342.2" y="486.9" width="0.5" height="0.5" fill="#751c88"/><rect x="339.3" y="476.0" width="0.5" height="0.5" fill="#751c88"/><rect x="331.3" y="488.3" width="0.5" height="0.5" fill="#751c88"/><rect x="330.6" y="484.2" width="0.5" height="0.5" fill="#5cb848"/><rect x="332.2" y="479.0" width="0.5" height="0.5" fill="#5cb848"/><rect x="338.7" y="478.2" width="0.5" height="0.5" fill="#1f7d7c"/><rect x="331.2" y="487.3" width="0.5" height="0.5" fill="#1f7d7c"/><rect x="343.2" y="488.4" width="0.5" height="0.5" fill="#5cb848"/><rect x="332.3" y="479.7" width="0.5" height="0.5" fill="#8a1416"/><rect x="338.5" y="477.6" width="0.5" height="0.5" fill="#1f7d7c"/><rect x="329.2" y="482.8" width="0.5" height="0.5" fill="#5cb848"/><rect x="335.0" y="482.3" width="0.5" height="0.5" fill="#751c88"/><rect x="328.9" y="485.7" width="0.5" height="0.5" fill="#751c88"/><rect x="331.6" y="482.0" width="0.5" height="0.5" fill="#751c88"/><rect x="331.1" y="480.6" width="0.5" height="0.5" fill="#1f7d7c"/><rect x="331.5" y="485.5" width="0.5" height="0.5" fill="#8a1416"/><rect x="334.1" y="478.8" width="0.5" height="0.5" fill="#5cb848"/><rect x="338.0" y="486.0" width="0.5" height="0.5" fill="#751c88"/><rect x="332.3" y="486.0" width="0.5" height="0.5" fill="#5cb848"/><rect x="338.2" y="490.5" width="0.5" height="0.5" fill="#5cb848"/><rect x="334.5" y="477.6" width="0.5" height="0.5" fill="#1f7d7c"/><rect x="329.3" y="490.9" width="0.5" height="0.5" fill="#751c88"/><rect x="341.3" y="473.7" width="0.5" height="0.5" fill="#8a1416"/><rect x="339.3" y="481.4" width="0.5" height="0.5" fill="#8a1416"/><rect x="331.3" y="488.9" width="0.5" height="0.5" fill="#751c88"/><rect x="338.1" y="486.8" width="0.5" height="0.5" fill="#751c88"/><rect x="343.2" y="486.2" width="0.5" height="0.5" fill="#8a1416"/><rect x="330.6" y="482.6" width="0.5" height="0.5" fill="#5cb848"/><rect x="336.1" y="485.8" width="0.5" height="0.5" fill="#751c88"/><rect x="335.3" y="476.5" width="0.5" height="0.5" fill="#751c88"/></g>
<path d="M119.8 435.8 C124 434.6 130 436 133.5 439 C136.5 442 136.6 446.5 135 449.5" fill="none" stroke="#232323" stroke-width="1.9"/><path d="M114.5 443.5 C115.5 441 117 440 118.5 439.5" fill="none" stroke="#232323" stroke-width="1.2" stroke-dasharray="1 1"/><path d="M113.3 444 L116 441.5 L120 442.8 L122 446 L121.5 450.3 L117 450.6 L113.4 448.6Z" fill="#232323"/><path d="M117 447.6 L128 448 L136.2 447.4 L136.4 450.2 L128 450.4 L117 450.2Z" fill="#232323"/><path d="M131 437.3 L135.5 440 L137 444 L137 449 L134.5 449 L133.5 443 L130.5 439.5Z" fill="#232323"/><path d="M133.5 450 L136 453 L138.5 457 L139.5 460" fill="none" stroke="#232323" stroke-width="1.1"/><path d="M131.5 450.5 L130.5 453.5" fill="none" stroke="#232323" stroke-width="0.9"/><path d="M123.4 456.5 L126 455 L130 455.3 L132 457 L131 459.7 L126 459.9 L123.5 458.5Z" fill="#232323"/><path d="M133 454 L136.5 454.5 L137 457.5 L134 458Z" fill="#232323" opacity="0.6"/><path d="M120 462.2 L125 461.2 L132 460.9 L138 460.6 L142 459.2 L147 458.6 L152.6 460.6 L152.2 463.6 L146 464.2 L140 465.2 L137 466.7 L128 467.2 L121 466.7Z" fill="#232323"/><rect x="139.1" y="464.7" width="0.9" height="0.7" fill="#fff"/><rect x="144.1" y="465.7" width="0.9" height="0.7" fill="#fff"/><rect x="142.5" y="465.6" width="0.9" height="0.7" fill="#fff"/><rect x="121.8" y="463.3" width="0.9" height="0.7" fill="#fff"/><rect x="148.4" y="464.2" width="0.9" height="0.7" fill="#fff"/><rect x="147.1" y="461.6" width="0.9" height="0.7" fill="#fff"/><rect x="134.6" y="462.2" width="0.9" height="0.7" fill="#fff"/><rect x="136.8" y="463.9" width="0.9" height="0.7" fill="#fff"/><rect x="121.4" y="462.1" width="0.9" height="0.7" fill="#fff"/><rect x="129.1" y="465.6" width="0.9" height="0.7" fill="#fff"/><rect x="143.2" y="461.8" width="0.9" height="0.7" fill="#fff"/><rect x="144.1" y="461.7" width="0.9" height="0.7" fill="#fff"/><rect x="138.9" y="461.6" width="0.9" height="0.7" fill="#fff"/><rect x="121.1" y="465.4" width="0.9" height="0.7" fill="#fff"/><rect x="127.1" y="462.1" width="0.9" height="0.7" fill="#fff"/><rect x="149.5" y="465.4" width="0.9" height="0.7" fill="#fff"/><rect x="129.4" y="465.8" width="0.9" height="0.7" fill="#fff"/><rect x="136.6" y="464.4" width="0.9" height="0.7" fill="#fff"/><path d="M124 468.6 L130 468.2 L137 468.6 L142.5 468.8 L143.5 472 L142 476 L137 478.8 L130 479.2 L125.5 477.5 L123.5 473Z" fill="none" stroke="#232323" stroke-width="0.8" stroke-dasharray="1.5 0.8"/><rect x="127.9" y="478.4" width="0.9" height="0.9" fill="#232323"/><rect x="137.1" y="478.6" width="0.9" height="0.9" fill="#232323"/><rect x="141.0" y="471.6" width="0.9" height="0.9" fill="#232323"/><rect x="130.9" y="470.2" width="0.9" height="0.9" fill="#232323"/><rect x="126.8" y="469.2" width="0.9" height="0.9" fill="#232323"/><rect x="129.7" y="474.8" width="0.9" height="0.9" fill="#232323"/><rect x="124.1" y="475.6" width="0.9" height="0.9" fill="#232323"/><rect x="130.4" y="471.8" width="0.9" height="0.9" fill="#232323"/><rect x="139.6" y="473.5" width="0.9" height="0.9" fill="#232323"/><rect x="130.0" y="473.6" width="0.9" height="0.9" fill="#232323"/><rect x="137.4" y="469.1" width="0.9" height="0.9" fill="#232323"/><rect x="142.5" y="468.7" width="0.9" height="0.9" fill="#232323"/><rect x="138.2" y="477.4" width="0.9" height="0.9" fill="#232323"/><rect x="124.3" y="476.8" width="0.9" height="0.9" fill="#232323"/><rect x="131.0" y="474.6" width="0.9" height="0.9" fill="#232323"/><rect x="124.2" y="469.0" width="0.9" height="0.9" fill="#232323"/><rect x="127.4" y="478.5" width="0.9" height="0.9" fill="#232323"/><rect x="127.7" y="476.4" width="0.9" height="0.9" fill="#232323"/><rect x="141.7" y="478.4" width="0.9" height="0.9" fill="#232323"/><rect x="130.5" y="472.2" width="0.9" height="0.9" fill="#232323"/><rect x="134.0" y="476.6" width="0.9" height="0.9" fill="#232323"/><rect x="126.1" y="476.4" width="0.9" height="0.9" fill="#232323"/><rect x="139.1" y="477.5" width="0.9" height="0.9" fill="#232323"/><rect x="124.7" y="478.4" width="0.9" height="0.9" fill="#232323"/><rect x="125.7" y="472.1" width="0.9" height="0.9" fill="#232323"/><rect x="135.6" y="478.1" width="0.9" height="0.9" fill="#232323"/><rect x="130.5" y="478.2" width="0.9" height="0.9" fill="#232323"/><rect x="134.4" y="471.8" width="0.9" height="0.9" fill="#232323"/><rect x="130.0" y="470.4" width="0.9" height="0.9" fill="#232323"/><rect x="125.5" y="470.1" width="0.9" height="0.9" fill="#232323"/><rect x="137.1" y="479.0" width="0.9" height="0.9" fill="#232323"/><rect x="127.1" y="469.0" width="0.9" height="0.9" fill="#232323"/><rect x="142.7" y="474.1" width="0.9" height="0.9" fill="#232323"/><rect x="131.7" y="471.0" width="0.9" height="0.9" fill="#232323"/><rect x="135.3" y="477.2" width="0.9" height="0.9" fill="#232323"/><rect x="132.7" y="472.9" width="0.9" height="0.9" fill="#232323"/><rect x="125.1" y="478.1" width="0.9" height="0.9" fill="#232323"/><rect x="124.6" y="473.7" width="0.9" height="0.9" fill="#232323"/><rect x="139.9" y="469.9" width="0.9" height="0.9" fill="#232323"/><rect x="137.9" y="478.5" width="0.9" height="0.9" fill="#232323"/><rect x="136.0" y="476.8" width="0.9" height="0.9" fill="#232323"/><rect x="126.0" y="473.1" width="0.9" height="0.9" fill="#232323"/><rect x="126.8" y="477.4" width="0.9" height="0.9" fill="#232323"/><rect x="129.6" y="473.3" width="0.9" height="0.9" fill="#232323"/><rect x="143.0" y="477.4" width="0.9" height="0.9" fill="#232323"/><rect x="142.5" y="473.3" width="0.9" height="0.9" fill="#232323"/><rect x="133.3" y="476.2" width="0.9" height="0.9" fill="#232323"/><rect x="133.1" y="471.6" width="0.9" height="0.9" fill="#232323"/><rect x="131.7" y="470.0" width="0.9" height="0.9" fill="#232323"/><rect x="131.2" y="478.9" width="0.9" height="0.9" fill="#232323"/><rect x="142.2" y="475.1" width="0.9" height="0.9" fill="#232323"/><rect x="133.5" y="472.1" width="0.9" height="0.9" fill="#232323"/><rect x="125.7" y="471.4" width="0.9" height="0.9" fill="#232323"/><rect x="138.9" y="477.6" width="0.9" height="0.9" fill="#232323"/><rect x="130.9" y="476.8" width="0.9" height="0.9" fill="#232323"/><rect x="138.7" y="475.8" width="0.9" height="0.9" fill="#232323"/><rect x="136.6" y="476.5" width="0.9" height="0.9" fill="#232323"/><rect x="130.9" y="475.9" width="0.9" height="0.9" fill="#232323"/><rect x="129.3" y="473.6" width="0.9" height="0.9" fill="#232323"/><rect x="138.6" y="475.8" width="0.9" height="0.9" fill="#232323"/><rect x="129.6" y="478.4" width="0.9" height="0.9" fill="#232323"/><rect x="136.3" y="474.6" width="0.9" height="0.9" fill="#232323"/><rect x="124.2" y="474.2" width="0.9" height="0.9" fill="#232323"/><rect x="128.8" y="475.6" width="0.9" height="0.9" fill="#232323"/><rect x="132.8" y="477.1" width="0.9" height="0.9" fill="#232323"/><rect x="136.3" y="476.9" width="0.9" height="0.9" fill="#232323"/><rect x="130.6" y="475.3" width="0.9" height="0.9" fill="#232323"/><rect x="138.0" y="477.2" width="0.9" height="0.9" fill="#232323"/><rect x="130.7" y="477.4" width="0.9" height="0.9" fill="#232323"/><rect x="140.5" y="475.7" width="0.9" height="0.9" fill="#232323"/><rect x="133.7" y="441.6" width="1.2" height="1.2" fill="#f29c1f"/><rect x="117.0" y="441.2" width="1.2" height="1.2" fill="#f5d000"/><rect x="124.9" y="444.4" width="1.2" height="1.2" fill="#e5167f"/><rect x="121.4" y="447.9" width="1.2" height="1.2" fill="#e5167f"/><rect x="141.7" y="460.9" width="1.2" height="1.2" fill="#f5d000"/><rect x="146.4" y="459.4" width="1.2" height="1.2" fill="#e5167f"/><rect x="125.4" y="476.9" width="1.2" height="1.2" fill="#e5167f"/><rect x="130.4" y="478.0" width="1.2" height="1.2" fill="#e5167f"/><rect x="140.9" y="474.9" width="1.2" height="1.2" fill="#e5167f"/><rect x="127.4" y="478.8" width="1.2" height="1.2" fill="#2a3a9a"/><rect x="119.8" y="434.9" width="1.2" height="1.2" fill="#e5167f"/><rect x="123.4" y="469.4" width="1.2" height="1.2" fill="#e5167f"/><rect x="116.0" y="476.0" width="1" height="1" fill="#232323"/><rect x="117.5" y="477.5" width="1" height="1" fill="#232323"/><rect x="119.0" y="476.8" width="1" height="1" fill="#232323"/><rect x="118.0" y="479.0" width="1" height="1" fill="#232323"/><rect x="115.5" y="478.5" width="1" height="1" fill="#232323"/><rect x="119.5" y="474.5" width="1" height="1" fill="#232323"/><rect x="114" y="479.6" width="1.3" height="1.3" fill="#ee2020"/><rect x="115.4" y="478.6" width="1.2" height="1" fill="#9ad07a"/>
<path d="M79.2 484.2 L82 486.5 L85.5 490.5 L88.5 493.8 L90.5 496" fill="none" stroke="#f29c1f" stroke-width="3.4" stroke-linecap="round"/><rect x="80.8" y="483.2" width="1.6" height="1.6" fill="#222"/><rect x="83.2" y="486.8" width="1.2" height="1.2" fill="#222"/><path d="M87.5 503.2 L89.5 500.2 L92 498.2 L95.4 497.4 L101.5 498.8 L106.2 501 L112.3 503.4 L118 503.6 L118 507.6 L112 507.6 L107.7 506.2 L98.5 505.4 L90.8 505.8 L88 505Z" fill="#1f7d7c"/><rect x="102.0" y="501.7" width="1.1" height="1.1" fill="#5cb848"/><rect x="94.8" y="503.6" width="1.1" height="1.1" fill="#e5167f"/><rect x="103.1" y="504.9" width="1.1" height="1.1" fill="#f5d000"/><rect x="98.7" y="505.1" width="1.1" height="1.1" fill="#f5d000"/><rect x="108.9" y="500.5" width="1.1" height="1.1" fill="#f29c1f"/><rect x="114.7" y="502.0" width="1.1" height="1.1" fill="#5cb848"/><rect x="96.2" y="500.2" width="1.1" height="1.1" fill="#f5d000"/><rect x="110.1" y="501.8" width="1.1" height="1.1" fill="#f5d000"/><rect x="113.9" y="500.7" width="1.1" height="1.1" fill="#5cb848"/><rect x="108.9" y="502.0" width="1.1" height="1.1" fill="#f5d000"/><rect x="110.1" y="505.0" width="1.1" height="1.1" fill="#f29c1f"/><rect x="97.3" y="504.4" width="1.1" height="1.1" fill="#5cb848"/><rect x="108.4" y="499.5" width="1.1" height="1.1" fill="#f29c1f"/><rect x="91.4" y="501.8" width="1.1" height="1.1" fill="#f29c1f"/><rect x="93.6" y="500.9" width="1.1" height="1.1" fill="#f5d000"/><rect x="115.1" y="499.5" width="1.1" height="1.1" fill="#5cb848"/><rect x="113.3" y="500.7" width="1.1" height="1.1" fill="#f5d000"/><rect x="113.2" y="500.3" width="1.1" height="1.1" fill="#f5d000"/>
<circle cx="58.5" cy="595.8" r="2.5" fill="#e8178a"/>
<text x="63.10" y="598.30" font-size="6.9" text-anchor="start" fill="#231f20" >HSC</text>
<circle cx="58.5" cy="605.0" r="2.5" fill="#8b5a2b"/>
<text x="63.10" y="607.50" font-size="6.9" text-anchor="start" fill="#231f20" >Megakaryocyte</text>
<circle cx="58.5" cy="614.3" r="2.5" fill="#5cb848"/>
<text x="63.10" y="616.80" font-size="6.9" text-anchor="start" fill="#231f20" >MEP</text>
<circle cx="58.5" cy="623.6" r="2.5" fill="#f5d000"/>
<text x="63.10" y="626.10" font-size="6.9" text-anchor="start" fill="#231f20" >Monocyte</text>
<circle cx="58.5" cy="633.2" r="2.5" fill="#dcaad2"/>
<text x="63.10" y="635.70" font-size="6.9" text-anchor="start" fill="#231f20" >NK</text>
<circle cx="58.5" cy="642.6" r="2.5" fill="#7b1f87"/>
<text x="63.10" y="645.10" font-size="6.9" text-anchor="start" fill="#231f20" >NKT</text>
<circle cx="58.5" cy="652.0" r="2.5" fill="#c8e6c0"/>
<text x="63.10" y="654.50" font-size="6.9" text-anchor="start" fill="#231f20" >pre B-cell</text>
<circle cx="58.5" cy="661.4" r="2.5" fill="#333333"/>
<text x="63.10" y="663.90" font-size="6.9" text-anchor="start" fill="#231f20" >T-cell</text>
<circle cx="141.6" cy="595.8" r="2.5" fill="#f29c1f"/>
<text x="146.80" y="598.30" font-size="6.9" text-anchor="start" fill="#231f20" >B-cell</text>
<circle cx="141.6" cy="605.0" r="2.5" fill="#2a3a9a"/>
<text x="146.80" y="607.50" font-size="6.9" text-anchor="start" fill="#231f20" >CMP</text>
<circle cx="141.6" cy="614.3" r="2.5" fill="#c8c8c8"/>
<text x="146.80" y="616.80" font-size="6.9" text-anchor="start" fill="#231f20" >DEND (L)</text>
<circle cx="141.6" cy="623.6" r="2.5" fill="#1a8080"/>
<text x="146.80" y="626.10" font-size="6.9" text-anchor="start" fill="#231f20" >DEND (M)</text>
<circle cx="141.6" cy="633.2" r="2.5" fill="#800f12"/>
<text x="146.80" y="635.70" font-size="6.9" text-anchor="start" fill="#231f20" >Erythroblast</text>
<circle cx="141.6" cy="642.6" r="2.5" fill="#ee2020"/>
<text x="146.80" y="645.10" font-size="6.9" text-anchor="start" fill="#231f20" >CD34+ erythroblast</text>
<circle cx="141.6" cy="652.0" r="2.5" fill="#90d0b8"/>
<text x="146.80" y="654.50" font-size="6.9" text-anchor="start" fill="#231f20" >Granulocyte</text>
<defs><filter id="blur1" x="-20%" y="-20%" width="140%" height="140%"><feGaussianBlur stdDeviation="0.9"/></filter><linearGradient id="plasma" x1="0" x2="0" y1="1" y2="0"><stop offset="0" stop-color="#1e0a5c"/><stop offset="0.2" stop-color="#3c0c80"/><stop offset="0.38" stop-color="#7a1494"/><stop offset="0.55" stop-color="#c02a72"/><stop offset="0.72" stop-color="#f0602e"/><stop offset="0.86" stop-color="#f89a20"/><stop offset="1" stop-color="#f0f020"/></linearGradient></defs>
<g transform="translate(0 0)">
<text x="309.00" y="411.80" font-size="9.6" text-anchor="middle" fill="#231f20" >HMGA2</text>
<line x1="262.00" y1="418.50" x2="262.00" y2="503.10" stroke="#231f20" stroke-width="1.1" />
<line x1="261.50" y1="502.60" x2="351.20" y2="502.60" stroke="#231f20" stroke-width="1.1" />
<line x1="259.20" y1="438.10" x2="262.00" y2="438.10" stroke="#231f20" stroke-width="0.9" />
<text x="256.60" y="440.90" font-size="7.6" text-anchor="end" fill="#231f20" >10</text>
<line x1="259.20" y1="468.40" x2="262.00" y2="468.40" stroke="#231f20" stroke-width="0.9" />
<text x="256.60" y="471.20" font-size="7.6" text-anchor="end" fill="#231f20" >0</text>
<line x1="259.20" y1="497.90" x2="262.00" y2="497.90" stroke="#231f20" stroke-width="0.9" />
<text x="256.60" y="500.70" font-size="7.6" text-anchor="end" fill="#231f20" >&#8722;10</text>
<line x1="280.25" y1="502.60" x2="280.25" y2="505.30" stroke="#231f20" stroke-width="0.9" />
<text x="277.65" y="514.10" font-size="7.6" text-anchor="middle" fill="#231f20" >&#8722;10</text>
<line x1="300.40" y1="502.60" x2="300.40" y2="505.30" stroke="#231f20" stroke-width="0.9" />
<text x="297.80" y="514.10" font-size="7.6" text-anchor="middle" fill="#231f20" >&#8722;5</text>
<line x1="320.60" y1="502.60" x2="320.60" y2="505.30" stroke="#231f20" stroke-width="0.9" />
<text x="320.60" y="514.10" font-size="7.6" text-anchor="middle" fill="#231f20" >0</text>
<line x1="340.80" y1="502.60" x2="340.80" y2="505.30" stroke="#231f20" stroke-width="0.9" />
<text x="340.80" y="514.10" font-size="7.6" text-anchor="middle" fill="#231f20" >5</text>
<text x="308.70" y="527.20" font-size="8.8" text-anchor="middle" fill="#231f20" textLength="21.4" lengthAdjust="spacingAndGlyphs" stroke="#231f20" stroke-width="0.25">UMAP 1</text>
<text x="0" y="0" font-size="8.8" text-anchor="middle" fill="#231f20" textLength="21.4" lengthAdjust="spacingAndGlyphs" stroke="#231f20" stroke-width="0.25" transform="translate(236.8 460.5) rotate(-90)">UMAP 2</text>
<g transform="translate(0 0)">
<clipPath id="clipHMGA2"><path d="M305.0 427.8 L306.7 425.1 L309.1 420.4 L310.8 419.4 L313.5 421.1 L316.8 421.7 L318.5 423.7 L319.5 427.1 L318.8 430.5 L320.2 433.8 L322.2 436.5 L325.6 436.5 L328.3 437.9 L327.9 439.9 L323.6 443.3 L322.2 446.6 L319.5 450.0 L315.5 451.3 L312.4 449.3 L310.8 445.3 L309.4 441.9 L310.1 439.2 L311.1 435.2 L313.5 433.2 L315.5 431.8 L312.1 430.5 L307.4 431.2 L305.4 429.8Z M305.4 450.5 L307.5 447.3 L309.4 449.0 L307.5 452.0Z M285.2 454.3 L288.7 454.0 L289.5 457.2 L292.1 459.5 L292.7 461.8 L295.0 463.5 L297.3 463.8 L299.6 465.3 L301.9 467.0 L304.8 468.2 L310.0 466.4 L310.0 471.0 L305.4 471.0 L301.3 469.3 L297.3 468.7 L293.8 468.4 L291.0 468.4 L289.8 467.3 L291.5 465.8 L289.8 463.0 L286.9 460.1 L285.5 457.8 L284.9 455.5Z M276.5 466.3 L278.5 466.6 L280.6 468.5 L281.7 469.3 L283.5 471.2 L285.8 473.0 L288.7 474.5 L291.5 475.3 L295.0 474.8 L299.0 474.0 L303.1 472.6 L306.0 472.0 L307.7 473.9 L307.1 477.4 L304.2 476.8 L300.2 477.4 L297.3 478.0 L295.6 480.3 L294.4 483.5 L293.3 480.0 L291.0 477.4 L288.1 476.4 L284.6 475.3 L282.0 473.0 L279.5 470.0 L277.0 468.0Z M275.0 480.0 L276.0 480.3 L276.3 482.5 L278.5 484.0 L281.0 483.0 L284.0 481.5 L286.2 480.2 L286.6 481.0 L284.0 483.3 L281.0 485.5 L278.5 487.5 L277.0 488.3 L276.3 486.5 L275.2 484.0Z M304.6 466.0 L309.2 464.2 L313.8 462.8 L318.5 462.2 L323.1 460.8 L324.8 460.2 L330.0 461.3 L336.9 461.9 L341.5 461.3 L345.0 460.2 L348.5 459.6 L351.9 460.2 L353.7 463.1 L352.5 466.5 L348.5 470.0 L343.8 472.3 L343.3 475.8 L344.4 481.5 L344.4 487.3 L343.3 490.8 L339.8 491.9 L339.2 494.8 L338.1 498.3 L334.6 498.8 L332.3 496.0 L330.6 493.1 L328.8 490.8 L327.1 488.5 L326.0 488.5 L324.8 490.8 L323.1 493.1 L320.2 492.5 L319.6 489.6 L321.3 486.7 L324.2 485.0 L325.4 481.5 L321.9 479.8 L317.3 479.2 L313.8 480.4 L311.5 481.5 L308.1 481.0 L306.9 478.7 L308.7 476.9 L311.5 475.8 L309.0 474.5 L306.5 473.5 L305.5 472.5 L307.7 471.0 L310.0 471.0 L306.0 469.5Z"/></clipPath><path d="M305.0 427.8 L306.7 425.1 L309.1 420.4 L310.8 419.4 L313.5 421.1 L316.8 421.7 L318.5 423.7 L319.5 427.1 L318.8 430.5 L320.2 433.8 L322.2 436.5 L325.6 436.5 L328.3 437.9 L327.9 439.9 L323.6 443.3 L322.2 446.6 L319.5 450.0 L315.5 451.3 L312.4 449.3 L310.8 445.3 L309.4 441.9 L310.1 439.2 L311.1 435.2 L313.5 433.2 L315.5 431.8 L312.1 430.5 L307.4 431.2 L305.4 429.8Z M305.4 450.5 L307.5 447.3 L309.4 449.0 L307.5 452.0Z M285.2 454.3 L288.7 454.0 L289.5 457.2 L292.1 459.5 L292.7 461.8 L295.0 463.5 L297.3 463.8 L299.6 465.3 L301.9 467.0 L304.8 468.2 L310.0 466.4 L310.0 471.0 L305.4 471.0 L301.3 469.3 L297.3 468.7 L293.8 468.4 L291.0 468.4 L289.8 467.3 L291.5 465.8 L289.8 463.0 L286.9 460.1 L285.5 457.8 L284.9 455.5Z M276.5 466.3 L278.5 466.6 L280.6 468.5 L281.7 469.3 L283.5 471.2 L285.8 473.0 L288.7 474.5 L291.5 475.3 L295.0 474.8 L299.0 474.0 L303.1 472.6 L306.0 472.0 L307.7 473.9 L307.1 477.4 L304.2 476.8 L300.2 477.4 L297.3 478.0 L295.6 480.3 L294.4 483.5 L293.3 480.0 L291.0 477.4 L288.1 476.4 L284.6 475.3 L282.0 473.0 L279.5 470.0 L277.0 468.0Z M275.0 480.0 L276.0 480.3 L276.3 482.5 L278.5 484.0 L281.0 483.0 L284.0 481.5 L286.2 480.2 L286.6 481.0 L284.0 483.3 L281.0 485.5 L278.5 487.5 L277.0 488.3 L276.3 486.5 L275.2 484.0Z M304.6 466.0 L309.2 464.2 L313.8 462.8 L318.5 462.2 L323.1 460.8 L324.8 460.2 L330.0 461.3 L336.9 461.9 L341.5 461.3 L345.0 460.2 L348.5 459.6 L351.9 460.2 L353.7 463.1 L352.5 466.5 L348.5 470.0 L343.8 472.3 L343.3 475.8 L344.4 481.5 L344.4 487.3 L343.3 490.8 L339.8 491.9 L339.2 494.8 L338.1 498.3 L334.6 498.8 L332.3 496.0 L330.6 493.1 L328.8 490.8 L327.1 488.5 L326.0 488.5 L324.8 490.8 L323.1 493.1 L320.2 492.5 L319.6 489.6 L321.3 486.7 L324.2 485.0 L325.4 481.5 L321.9 479.8 L317.3 479.2 L313.8 480.4 L311.5 481.5 L308.1 481.0 L306.9 478.7 L308.7 476.9 L311.5 475.8 L309.0 474.5 L306.5 473.5 L305.5 472.5 L307.7 471.0 L310.0 471.0 L306.0 469.5Z" fill="#24136e"/><path d="M305.0 427.8 L306.7 425.1 L309.1 420.4 L310.8 419.4 L313.5 421.1 L316.8 421.7 L318.5 423.7 L319.5 427.1 L318.8 430.5 L320.2 433.8 L322.2 436.5 L325.6 436.5 L328.3 437.9 L327.9 439.9 L323.6 443.3 L322.2 446.6 L319.5 450.0 L315.5 451.3 L312.4 449.3 L310.8 445.3 L309.4 441.9 L310.1 439.2 L311.1 435.2 L313.5 433.2 L315.5 431.8 L312.1 430.5 L307.4 431.2 L305.4 429.8Z M305.4 450.5 L307.5 447.3 L309.4 449.0 L307.5 452.0Z M285.2 454.3 L288.7 454.0 L289.5 457.2 L292.1 459.5 L292.7 461.8 L295.0 463.5 L297.3 463.8 L299.6 465.3 L301.9 467.0 L304.8 468.2 L310.0 466.4 L310.0 471.0 L305.4 471.0 L301.3 469.3 L297.3 468.7 L293.8 468.4 L291.0 468.4 L289.8 467.3 L291.5 465.8 L289.8 463.0 L286.9 460.1 L285.5 457.8 L284.9 455.5Z M276.5 466.3 L278.5 466.6 L280.6 468.5 L281.7 469.3 L283.5 471.2 L285.8 473.0 L288.7 474.5 L291.5 475.3 L295.0 474.8 L299.0 474.0 L303.1 472.6 L306.0 472.0 L307.7 473.9 L307.1 477.4 L304.2 476.8 L300.2 477.4 L297.3 478.0 L295.6 480.3 L294.4 483.5 L293.3 480.0 L291.0 477.4 L288.1 476.4 L284.6 475.3 L282.0 473.0 L279.5 470.0 L277.0 468.0Z M275.0 480.0 L276.0 480.3 L276.3 482.5 L278.5 484.0 L281.0 483.0 L284.0 481.5 L286.2 480.2 L286.6 481.0 L284.0 483.3 L281.0 485.5 L278.5 487.5 L277.0 488.3 L276.3 486.5 L275.2 484.0Z M304.6 466.0 L309.2 464.2 L313.8 462.8 L318.5 462.2 L323.1 460.8 L324.8 460.2 L330.0 461.3 L336.9 461.9 L341.5 461.3 L345.0 460.2 L348.5 459.6 L351.9 460.2 L353.7 463.1 L352.5 466.5 L348.5 470.0 L343.8 472.3 L343.3 475.8 L344.4 481.5 L344.4 487.3 L343.3 490.8 L339.8 491.9 L339.2 494.8 L338.1 498.3 L334.6 498.8 L332.3 496.0 L330.6 493.1 L328.8 490.8 L327.1 488.5 L326.0 488.5 L324.8 490.8 L323.1 493.1 L320.2 492.5 L319.6 489.6 L321.3 486.7 L324.2 485.0 L325.4 481.5 L321.9 479.8 L317.3 479.2 L313.8 480.4 L311.5 481.5 L308.1 481.0 L306.9 478.7 L308.7 476.9 L311.5 475.8 L309.0 474.5 L306.5 473.5 L305.5 472.5 L307.7 471.0 L310.0 471.0 L306.0 469.5Z" fill="#36209a" transform="translate(320.7 468.3) scale(0.985) translate(-320.7 -468.3)" opacity="0"/><g clip-path="url(#clipHMGA2)"><path d="M305.0 427.8 L306.7 425.1 L309.1 420.4 L310.8 419.4 L313.5 421.1 L316.8 421.7 L318.5 423.7 L319.5 427.1 L318.8 430.5 L320.2 433.8 L322.2 436.5 L325.6 436.5 L328.3 437.9 L327.9 439.9 L323.6 443.3 L322.2 446.6 L319.5 450.0 L315.5 451.3 L312.4 449.3 L310.8 445.3 L309.4 441.9 L310.1 439.2 L311.1 435.2 L313.5 433.2 L315.5 431.8 L312.1 430.5 L307.4 431.2 L305.4 429.8Z M305.4 450.5 L307.5 447.3 L309.4 449.0 L307.5 452.0Z M285.2 454.3 L288.7 454.0 L289.5 457.2 L292.1 459.5 L292.7 461.8 L295.0 463.5 L297.3 463.8 L299.6 465.3 L301.9 467.0 L304.8 468.2 L310.0 466.4 L310.0 471.0 L305.4 471.0 L301.3 469.3 L297.3 468.7 L293.8 468.4 L291.0 468.4 L289.8 467.3 L291.5 465.8 L289.8 463.0 L286.9 460.1 L285.5 457.8 L284.9 455.5Z M276.5 466.3 L278.5 466.6 L280.6 468.5 L281.7 469.3 L283.5 471.2 L285.8 473.0 L288.7 474.5 L291.5 475.3 L295.0 474.8 L299.0 474.0 L303.1 472.6 L306.0 472.0 L307.7 473.9 L307.1 477.4 L304.2 476.8 L300.2 477.4 L297.3 478.0 L295.6 480.3 L294.4 483.5 L293.3 480.0 L291.0 477.4 L288.1 476.4 L284.6 475.3 L282.0 473.0 L279.5 470.0 L277.0 468.0Z M275.0 480.0 L276.0 480.3 L276.3 482.5 L278.5 484.0 L281.0 483.0 L284.0 481.5 L286.2 480.2 L286.6 481.0 L284.0 483.3 L281.0 485.5 L278.5 487.5 L277.0 488.3 L276.3 486.5 L275.2 484.0Z M304.6 466.0 L309.2 464.2 L313.8 462.8 L318.5 462.2 L323.1 460.8 L324.8 460.2 L330.0 461.3 L336.9 461.9 L341.5 461.3 L345.0 460.2 L348.5 459.6 L351.9 460.2 L353.7 463.1 L352.5 466.5 L348.5 470.0 L343.8 472.3 L343.3 475.8 L344.4 481.5 L344.4 487.3 L343.3 490.8 L339.8 491.9 L339.2 494.8 L338.1 498.3 L334.6 498.8 L332.3 496.0 L330.6 493.1 L328.8 490.8 L327.1 488.5 L326.0 488.5 L324.8 490.8 L323.1 493.1 L320.2 492.5 L319.6 489.6 L321.3 486.7 L324.2 485.0 L325.4 481.5 L321.9 479.8 L317.3 479.2 L313.8 480.4 L311.5 481.5 L308.1 481.0 L306.9 478.7 L308.7 476.9 L311.5 475.8 L309.0 474.5 L306.5 473.5 L305.5 472.5 L307.7 471.0 L310.0 471.0 L306.0 469.5Z" fill="none" stroke="#36209a" stroke-width="0"/></g><g clip-path="url(#clipHMGA2)"><rect x="260" y="410" width="100" height="95" fill="#36209a"/></g><path d="M305.0 427.8 L306.7 425.1 L309.1 420.4 L310.8 419.4 L313.5 421.1 L316.8 421.7 L318.5 423.7 L319.5 427.1 L318.8 430.5 L320.2 433.8 L322.2 436.5 L325.6 436.5 L328.3 437.9 L327.9 439.9 L323.6 443.3 L322.2 446.6 L319.5 450.0 L315.5 451.3 L312.4 449.3 L310.8 445.3 L309.4 441.9 L310.1 439.2 L311.1 435.2 L313.5 433.2 L315.5 431.8 L312.1 430.5 L307.4 431.2 L305.4 429.8Z M305.4 450.5 L307.5 447.3 L309.4 449.0 L307.5 452.0Z M285.2 454.3 L288.7 454.0 L289.5 457.2 L292.1 459.5 L292.7 461.8 L295.0 463.5 L297.3 463.8 L299.6 465.3 L301.9 467.0 L304.8 468.2 L310.0 466.4 L310.0 471.0 L305.4 471.0 L301.3 469.3 L297.3 468.7 L293.8 468.4 L291.0 468.4 L289.8 467.3 L291.5 465.8 L289.8 463.0 L286.9 460.1 L285.5 457.8 L284.9 455.5Z M276.5 466.3 L278.5 466.6 L280.6 468.5 L281.7 469.3 L283.5 471.2 L285.8 473.0 L288.7 474.5 L291.5 475.3 L295.0 474.8 L299.0 474.0 L303.1 472.6 L306.0 472.0 L307.7 473.9 L307.1 477.4 L304.2 476.8 L300.2 477.4 L297.3 478.0 L295.6 480.3 L294.4 483.5 L293.3 480.0 L291.0 477.4 L288.1 476.4 L284.6 475.3 L282.0 473.0 L279.5 470.0 L277.0 468.0Z M275.0 480.0 L276.0 480.3 L276.3 482.5 L278.5 484.0 L281.0 483.0 L284.0 481.5 L286.2 480.2 L286.6 481.0 L284.0 483.3 L281.0 485.5 L278.5 487.5 L277.0 488.3 L276.3 486.5 L275.2 484.0Z M304.6 466.0 L309.2 464.2 L313.8 462.8 L318.5 462.2 L323.1 460.8 L324.8 460.2 L330.0 461.3 L336.9 461.9 L341.5 461.3 L345.0 460.2 L348.5 459.6 L351.9 460.2 L353.7 463.1 L352.5 466.5 L348.5 470.0 L343.8 472.3 L343.3 475.8 L344.4 481.5 L344.4 487.3 L343.3 490.8 L339.8 491.9 L339.2 494.8 L338.1 498.3 L334.6 498.8 L332.3 496.0 L330.6 493.1 L328.8 490.8 L327.1 488.5 L326.0 488.5 L324.8 490.8 L323.1 493.1 L320.2 492.5 L319.6 489.6 L321.3 486.7 L324.2 485.0 L325.4 481.5 L321.9 479.8 L317.3 479.2 L313.8 480.4 L311.5 481.5 L308.1 481.0 L306.9 478.7 L308.7 476.9 L311.5 475.8 L309.0 474.5 L306.5 473.5 L305.5 472.5 L307.7 471.0 L310.0 471.0 L306.0 469.5Z" fill="none" stroke="#22126a" stroke-width="0.5"/><ellipse cx="312.8" cy="424.8" rx="3.0" ry="2.1" fill="#fff"/><ellipse cx="314.5" cy="443.5" rx="1.3" ry="0.6" fill="#fff" opacity="0.9"/><ellipse cx="317.5" cy="444.8" rx="1.1" ry="0.6" fill="#fff" opacity="0.9"/><ellipse cx="315.5" cy="446.2" rx="1.4" ry="0.5" fill="#fff" opacity="0.9"/><ellipse cx="319.3" cy="443.2" rx="0.8" ry="0.6" fill="#fff" opacity="0.9"/><ellipse cx="315" cy="435.2" rx="1.0" ry="0.5" fill="#fff" opacity="0.9"/><ellipse cx="318" cy="436.5" rx="0.8" ry="0.6" fill="#fff" opacity="0.9"/><ellipse cx="313.8" cy="437.8" rx="0.8" ry="0.5" fill="#fff" opacity="0.9"/><rect x="265.9" y="467.3" width="1.8" height="1.7" fill="#36209a"/><rect x="268.6" y="466.3" width="1.8" height="1.7" fill="#36209a"/><rect x="270.7" y="467.8" width="1.8" height="1.7" fill="#36209a"/><rect x="272.4" y="467.0" width="1.8" height="1.7" fill="#36209a"/><rect x="273.8" y="468.8" width="1.8" height="1.7" fill="#36209a"/><rect x="274.2" y="471.1" width="1.8" height="1.7" fill="#36209a"/><rect x="268.3" y="469.4" width="1.8" height="1.7" fill="#36209a"/><rect x="267.6" y="472.2" width="1.8" height="1.7" fill="#36209a"/><rect x="269.7" y="473.2" width="1.8" height="1.7" fill="#36209a"/><rect x="265.2" y="471.1" width="1.8" height="1.7" fill="#36209a"/><rect x="265.5" y="475.3" width="1.8" height="1.7" fill="#36209a"/><rect x="266.9" y="477.0" width="1.8" height="1.7" fill="#36209a"/><rect x="269.7" y="477.4" width="1.8" height="1.7" fill="#36209a"/><rect x="272.1" y="468.0" width="1.8" height="1.7" fill="#36209a"/><rect x="273.5" y="470.8" width="1.8" height="1.7" fill="#36209a"/><rect x="274.2" y="469.4" width="1.8" height="1.7" fill="#36209a"/><rect x="266.2" y="468.8" width="1.8" height="1.7" fill="#36209a"/><rect x="271.4" y="469.9" width="1.8" height="1.7" fill="#36209a"/><rect x="269.2" y="468.0" width="1.8" height="1.7" fill="#36209a"/><g clip-path="url(#clipHMGA2)" filter="url(#blur1)"><ellipse cx="328" cy="466" rx="14" ry="6" fill="#7a2a9e" opacity="0.55"/><ellipse cx="300" cy="467.5" rx="6" ry="2.2" fill="#a0308a" opacity="0.7"/><ellipse cx="313" cy="467" rx="8" ry="5.5" fill="#e8703a" opacity="0.85"/><ellipse cx="312.5" cy="466" rx="4.5" ry="3.2" fill="#f8b030" opacity="0.9"/><ellipse cx="311" cy="465" rx="2" ry="1.5" fill="#f8e040" opacity="0.9"/><ellipse cx="310.5" cy="478.5" rx="3.5" ry="2.4" fill="#f09038" opacity="0.9"/><ellipse cx="348" cy="462.5" rx="5" ry="2.4" fill="#e8703a" opacity="0.8"/><ellipse cx="350" cy="462" rx="2.5" ry="1.5" fill="#f0a040" opacity="0.8"/><ellipse cx="292" cy="476" rx="3" ry="2" fill="#a03080" opacity="0.6"/></g><rect x="341.8" y="484.5" width="0.7" height="0.7" fill="#6a2a9e"/><rect x="328.8" y="476.1" width="0.7" height="0.7" fill="#6a2a9e"/><rect x="328.8" y="473.5" width="0.7" height="0.7" fill="#7a2aa0"/><rect x="327.8" y="483.4" width="0.7" height="0.7" fill="#7a2aa0"/><rect x="312.1" y="477.7" width="0.7" height="0.7" fill="#b8408a"/><rect x="313.0" y="477.3" width="0.7" height="0.7" fill="#6a2a9e"/><rect x="318.1" y="463.7" width="0.7" height="0.7" fill="#7a2aa0"/><rect x="311.9" y="472.0" width="0.7" height="0.7" fill="#6a2a9e"/><rect x="323.0" y="486.9" width="0.7" height="0.7" fill="#7a2aa0"/><rect x="318.1" y="478.8" width="0.7" height="0.7" fill="#a0309a"/><rect x="330.7" y="482.7" width="0.7" height="0.7" fill="#7a2aa0"/><rect x="311.3" y="473.7" width="0.7" height="0.7" fill="#b8408a"/><rect x="324.4" y="467.7" width="0.7" height="0.7" fill="#b8408a"/><rect x="346.5" y="469.7" width="0.7" height="0.7" fill="#7a2aa0"/><rect x="333.2" y="494.1" width="0.7" height="0.7" fill="#7a2aa0"/><rect x="321.4" y="473.6" width="0.7" height="0.7" fill="#b8408a"/><rect x="327.0" y="482.0" width="0.7" height="0.7" fill="#6a2a9e"/><rect x="331.1" y="492.7" width="0.7" height="0.7" fill="#7a2aa0"/><rect x="337.6" y="498.3" width="0.7" height="0.7" fill="#a0309a"/><rect x="337.8" y="471.7" width="0.7" height="0.7" fill="#7a2aa0"/><rect x="323.7" y="476.8" width="0.7" height="0.7" fill="#6a2a9e"/><rect x="327.8" y="476.1" width="0.7" height="0.7" fill="#7a2aa0"/><rect x="315.2" y="477.6" width="0.7" height="0.7" fill="#7a2aa0"/><rect x="332.4" y="489.7" width="0.7" height="0.7" fill="#7a2aa0"/><rect x="340.8" y="462.3" width="0.7" height="0.7" fill="#a0309a"/><rect x="339.0" y="475.2" width="0.7" height="0.7" fill="#6a2a9e"/><rect x="319.2" y="475.5" width="0.7" height="0.7" fill="#a0309a"/><rect x="319.7" y="468.8" width="0.7" height="0.7" fill="#7a2aa0"/><rect x="321.1" y="461.5" width="0.7" height="0.7" fill="#6a2a9e"/><rect x="334.3" y="478.7" width="0.7" height="0.7" fill="#a0309a"/><rect x="329.8" y="473.8" width="0.7" height="0.7" fill="#6a2a9e"/><rect x="318.0" y="462.9" width="0.7" height="0.7" fill="#b8408a"/><rect x="320.5" y="466.1" width="0.7" height="0.7" fill="#b8408a"/><rect x="339.9" y="485.8" width="0.7" height="0.7" fill="#b8408a"/><rect x="325.4" y="486.1" width="0.7" height="0.7" fill="#7a2aa0"/><rect x="336.1" y="487.2" width="0.7" height="0.7" fill="#b8408a"/><rect x="331.3" y="475.6" width="0.7" height="0.7" fill="#6a2a9e"/><rect x="311.5" y="472.3" width="0.7" height="0.7" fill="#7a2aa0"/><rect x="341.9" y="466.5" width="0.7" height="0.7" fill="#a0309a"/><rect x="336.5" y="481.6" width="0.7" height="0.7" fill="#a0309a"/><rect x="324.5" y="480.7" width="0.7" height="0.7" fill="#a0309a"/><rect x="337.6" y="481.6" width="0.7" height="0.7" fill="#a0309a"/><rect x="338.6" y="495.5" width="0.7" height="0.7" fill="#6a2a9e"/><rect x="329.3" y="491.4" width="0.7" height="0.7" fill="#7a2aa0"/><rect x="318.4" y="471.7" width="0.7" height="0.7" fill="#a0309a"/><rect x="331.1" y="483.1" width="0.7" height="0.7" fill="#b8408a"/><rect x="328.5" y="477.2" width="0.7" height="0.7" fill="#b8408a"/><rect x="332.5" y="461.8" width="0.7" height="0.7" fill="#b8408a"/><rect x="350.2" y="461.7" width="0.7" height="0.7" fill="#7a2aa0"/><rect x="308.8" y="464.6" width="0.7" height="0.7" fill="#b8408a"/><rect x="323.3" y="486.3" width="0.7" height="0.7" fill="#a0309a"/><rect x="309.1" y="467.5" width="0.7" height="0.7" fill="#a0309a"/><rect x="318.5" y="474.3" width="0.7" height="0.7" fill="#a0309a"/><rect x="334.5" y="466.1" width="0.7" height="0.7" fill="#b8408a"/><rect x="325.6" y="485.4" width="0.7" height="0.7" fill="#a0309a"/><rect x="316.3" y="463.6" width="0.7" height="0.7" fill="#a0309a"/><rect x="327.7" y="484.6" width="0.7" height="0.7" fill="#b8408a"/><rect x="336.9" y="491.1" width="0.7" height="0.7" fill="#6a2a9e"/><rect x="340.0" y="490.5" width="0.7" height="0.7" fill="#6a2a9e"/><rect x="327.1" y="485.4" width="0.7" height="0.7" fill="#b8408a"/><rect x="316.3" y="478.1" width="0.7" height="0.7" fill="#a0309a"/><rect x="307.4" y="473.7" width="0.7" height="0.7" fill="#a0309a"/><rect x="337.1" y="461.9" width="0.7" height="0.7" fill="#7a2aa0"/><rect x="329.9" y="475.3" width="0.7" height="0.7" fill="#6a2a9e"/><rect x="334.7" y="476.2" width="0.7" height="0.7" fill="#a0309a"/><rect x="331.6" y="482.0" width="0.7" height="0.7" fill="#6a2a9e"/><rect x="346.8" y="463.9" width="0.7" height="0.7" fill="#b8408a"/><rect x="341.9" y="483.8" width="0.7" height="0.7" fill="#a0309a"/><rect x="315.4" y="467.7" width="0.7" height="0.7" fill="#a0309a"/><rect x="323.9" y="477.6" width="0.7" height="0.7" fill="#b8408a"/><rect x="337.2" y="485.4" width="0.7" height="0.7" fill="#a0309a"/><rect x="311.3" y="474.6" width="0.7" height="0.7" fill="#7a2aa0"/><rect x="320.6" y="462.8" width="0.7" height="0.7" fill="#a0309a"/><rect x="324.5" y="475.3" width="0.7" height="0.7" fill="#7a2aa0"/><rect x="322.9" y="466.7" width="0.7" height="0.7" fill="#6a2a9e"/><rect x="318.3" y="477.7" width="0.7" height="0.7" fill="#a0309a"/><rect x="328.6" y="463.6" width="0.7" height="0.7" fill="#7a2aa0"/><rect x="342.3" y="488.2" width="0.7" height="0.7" fill="#b8408a"/><rect x="343.3" y="489.6" width="0.7" height="0.7" fill="#b8408a"/><rect x="325.9" y="472.0" width="0.7" height="0.7" fill="#7a2aa0"/><rect x="312.2" y="470.5" width="0.7" height="0.7" fill="#b8408a"/><rect x="341.6" y="487.1" width="0.7" height="0.7" fill="#a0309a"/><rect x="312.9" y="467.4" width="0.7" height="0.7" fill="#7a2aa0"/><rect x="339.2" y="476.8" width="0.7" height="0.7" fill="#6a2a9e"/><rect x="327.9" y="475.9" width="0.7" height="0.7" fill="#b8408a"/><rect x="338.8" y="467.3" width="0.7" height="0.7" fill="#b8408a"/><rect x="328.1" y="462.5" width="0.7" height="0.7" fill="#b8408a"/><rect x="325.8" y="482.6" width="0.7" height="0.7" fill="#7a2aa0"/><rect x="309.6" y="480.5" width="0.7" height="0.7" fill="#7a2aa0"/><rect x="341.1" y="469.6" width="0.7" height="0.7" fill="#a0309a"/><rect x="309.2" y="466.5" width="0.7" height="0.7" fill="#a0309a"/><rect x="346.2" y="463.5" width="0.7" height="0.7" fill="#b8408a"/><rect x="312.8" y="478.6" width="0.7" height="0.7" fill="#a0309a"/><rect x="334.1" y="486.2" width="0.7" height="0.7" fill="#a0309a"/><rect x="315.8" y="474.2" width="0.7" height="0.7" fill="#6a2a9e"/><rect x="351.6" y="463.2" width="0.7" height="0.7" fill="#6a2a9e"/><rect x="331.6" y="473.6" width="0.7" height="0.7" fill="#7a2aa0"/><rect x="338.1" y="468.8" width="0.7" height="0.7" fill="#a0309a"/><rect x="327.6" y="470.4" width="0.7" height="0.7" fill="#a0309a"/><rect x="341.4" y="479.0" width="0.7" height="0.7" fill="#a0309a"/><rect x="340.8" y="490.7" width="0.7" height="0.7" fill="#7a2aa0"/><rect x="337.0" y="474.7" width="0.7" height="0.7" fill="#7a2aa0"/><rect x="334.8" y="467.9" width="0.7" height="0.7" fill="#7a2aa0"/><rect x="348.0" y="460.9" width="0.7" height="0.7" fill="#b8408a"/><rect x="327.0" y="461.6" width="0.7" height="0.7" fill="#7a2aa0"/><rect x="353.3" y="463.2" width="0.7" height="0.7" fill="#7a2aa0"/><rect x="344.6" y="465.4" width="0.7" height="0.7" fill="#a0309a"/><rect x="346.1" y="468.4" width="0.7" height="0.7" fill="#b8408a"/><rect x="342.0" y="471.2" width="0.7" height="0.7" fill="#a0309a"/><rect x="324.8" y="468.4" width="0.7" height="0.7" fill="#b8408a"/><rect x="340.5" y="475.4" width="0.7" height="0.7" fill="#b8408a"/><rect x="323.6" y="462.7" width="0.7" height="0.7" fill="#7a2aa0"/><rect x="337.5" y="488.5" width="0.7" height="0.7" fill="#7a2aa0"/><rect x="322.4" y="489.7" width="0.7" height="0.7" fill="#6a2a9e"/><rect x="335.3" y="498.7" width="0.7" height="0.7" fill="#b8408a"/><rect x="306.9" y="466.6" width="0.7" height="0.7" fill="#b8408a"/><rect x="322.6" y="478.6" width="0.7" height="0.7" fill="#a0309a"/><rect x="334.3" y="491.9" width="0.7" height="0.7" fill="#b8408a"/><rect x="341.3" y="486.6" width="0.7" height="0.7" fill="#7a2aa0"/><rect x="327.4" y="480.7" width="0.7" height="0.7" fill="#6a2a9e"/><rect x="339.0" y="471.7" width="0.7" height="0.7" fill="#6a2a9e"/><rect x="335.3" y="471.7" width="0.7" height="0.7" fill="#6a2a9e"/><rect x="345.3" y="470.4" width="0.7" height="0.7" fill="#7a2aa0"/><rect x="332.5" y="466.5" width="0.7" height="0.7" fill="#6a2a9e"/><rect x="321.6" y="468.7" width="0.7" height="0.7" fill="#b8408a"/><rect x="307.2" y="469.7" width="0.7" height="0.7" fill="#6a2a9e"/><rect x="336.0" y="464.9" width="0.7" height="0.7" fill="#a0309a"/><rect x="343.6" y="482.9" width="0.7" height="0.7" fill="#6a2a9e"/><rect x="338.6" y="493.2" width="0.7" height="0.7" fill="#b8408a"/><rect x="332.4" y="462.7" width="0.7" height="0.7" fill="#a0309a"/><rect x="321.3" y="463.4" width="0.7" height="0.7" fill="#6a2a9e"/><rect x="336.7" y="464.7" width="0.7" height="0.7" fill="#a0309a"/><rect x="336.2" y="480.0" width="0.7" height="0.7" fill="#a0309a"/><rect x="316.4" y="468.2" width="0.7" height="0.7" fill="#7a2aa0"/><rect x="315.1" y="464.9" width="0.7" height="0.7" fill="#6a2a9e"/><rect x="332.3" y="470.8" width="0.7" height="0.7" fill="#7a2aa0"/><rect x="336.4" y="462.9" width="0.7" height="0.7" fill="#b8408a"/><rect x="310.8" y="469.1" width="0.7" height="0.7" fill="#a0309a"/><rect x="325.8" y="484.4" width="0.7" height="0.7" fill="#b8408a"/><rect x="343.1" y="480.8" width="0.7" height="0.7" fill="#6a2a9e"/><rect x="312.3" y="470.7" width="0.7" height="0.7" fill="#a0309a"/><rect x="324.4" y="468.5" width="0.7" height="0.7" fill="#6a2a9e"/><rect x="308.5" y="469.5" width="0.7" height="0.7" fill="#6a2a9e"/><rect x="333.2" y="467.7" width="0.7" height="0.7" fill="#a0309a"/><rect x="335.5" y="491.0" width="0.7" height="0.7" fill="#6a2a9e"/><rect x="350.6" y="461.8" width="0.7" height="0.7" fill="#7a2aa0"/><rect x="313.5" y="472.2" width="0.7" height="0.7" fill="#a0309a"/><rect x="335.0" y="483.3" width="0.7" height="0.7" fill="#a0309a"/><rect x="338.7" y="483.3" width="0.7" height="0.7" fill="#6a2a9e"/><rect x="340.2" y="469.3" width="0.7" height="0.7" fill="#7a2aa0"/><rect x="323.3" y="475.7" width="0.7" height="0.7" fill="#7a2aa0"/><rect x="335.3" y="491.1" width="0.7" height="0.7" fill="#7a2aa0"/><rect x="338.8" y="487.2" width="0.7" height="0.7" fill="#b8408a"/><rect x="337.7" y="465.6" width="0.7" height="0.7" fill="#6a2a9e"/><rect x="328.8" y="483.8" width="0.7" height="0.7" fill="#7a2aa0"/><rect x="311.0" y="480.4" width="0.7" height="0.7" fill="#7a2aa0"/><rect x="311.7" y="475.2" width="0.7" height="0.7" fill="#7a2aa0"/><rect x="316.4" y="478.2" width="0.7" height="0.7" fill="#7a2aa0"/><rect x="329.7" y="486.1" width="0.7" height="0.7" fill="#7a2aa0"/><rect x="310.5" y="472.9" width="0.7" height="0.7" fill="#a0309a"/><rect x="334.5" y="481.1" width="0.7" height="0.7" fill="#a0309a"/><rect x="335.0" y="493.8" width="0.7" height="0.7" fill="#b8408a"/><rect x="344.8" y="470.9" width="0.7" height="0.7" fill="#a0309a"/><rect x="337.5" y="496.7" width="0.7" height="0.7" fill="#7a2aa0"/><rect x="323.1" y="476.7" width="0.7" height="0.7" fill="#b8408a"/><rect x="325.6" y="466.9" width="0.7" height="0.7" fill="#a0309a"/><rect x="339.9" y="467.9" width="0.7" height="0.7" fill="#a0309a"/><rect x="329.9" y="490.2" width="0.7" height="0.7" fill="#a0309a"/><rect x="337.7" y="484.1" width="0.7" height="0.7" fill="#7a2aa0"/><rect x="334.0" y="489.8" width="0.7" height="0.7" fill="#b8408a"/><rect x="318.9" y="472.1" width="0.7" height="0.7" fill="#7a2aa0"/><rect x="310.2" y="471.2" width="0.7" height="0.7" fill="#7a2aa0"/><rect x="351.6" y="464.6" width="0.7" height="0.7" fill="#b8408a"/><rect x="312.2" y="466.2" width="0.7" height="0.7" fill="#6a2a9e"/><rect x="346.5" y="470.3" width="0.7" height="0.7" fill="#6a2a9e"/><rect x="337.9" y="485.0" width="0.7" height="0.7" fill="#a0309a"/><rect x="344.3" y="461.9" width="0.7" height="0.7" fill="#a0309a"/><rect x="331.6" y="492.3" width="0.7" height="0.7" fill="#7a2aa0"/><rect x="330.3" y="463.3" width="0.7" height="0.7" fill="#a0309a"/><rect x="318.4" y="476.8" width="0.7" height="0.7" fill="#6a2a9e"/><rect x="318.4" y="470.5" width="0.7" height="0.7" fill="#6a2a9e"/><rect x="307.5" y="464.9" width="0.7" height="0.7" fill="#b8408a"/><rect x="338.8" y="490.1" width="0.7" height="0.7" fill="#a0309a"/><rect x="345.2" y="466.4" width="0.7" height="0.7" fill="#b8408a"/><rect x="318.7" y="465.5" width="0.7" height="0.7" fill="#a0309a"/><rect x="323.2" y="486.5" width="0.7" height="0.7" fill="#7a2aa0"/><rect x="331.1" y="485.8" width="0.7" height="0.7" fill="#7a2aa0"/><rect x="319.2" y="474.9" width="0.7" height="0.7" fill="#b8408a"/><rect x="329.4" y="476.6" width="0.7" height="0.7" fill="#6a2a9e"/><rect x="342.1" y="489.0" width="0.7" height="0.7" fill="#b8408a"/><rect x="322.9" y="462.4" width="0.7" height="0.7" fill="#b8408a"/><rect x="324.1" y="470.5" width="0.7" height="0.7" fill="#6a2a9e"/><rect x="342.9" y="482.8" width="0.7" height="0.7" fill="#7a2aa0"/><rect x="322.2" y="471.1" width="0.7" height="0.7" fill="#7a2aa0"/><rect x="312.4" y="474.4" width="0.7" height="0.7" fill="#b8408a"/><rect x="337.4" y="467.0" width="0.7" height="0.7" fill="#7a2aa0"/><rect x="312.9" y="477.8" width="0.7" height="0.7" fill="#6a2a9e"/><rect x="333.5" y="496.3" width="0.7" height="0.7" fill="#6a2a9e"/><rect x="330.0" y="464.3" width="0.7" height="0.7" fill="#6a2a9e"/><rect x="334.8" y="463.0" width="0.7" height="0.7" fill="#b8408a"/><rect x="333.3" y="465.8" width="0.7" height="0.7" fill="#a0309a"/><rect x="335.1" y="489.7" width="0.7" height="0.7" fill="#6a2a9e"/><rect x="319.7" y="469.7" width="0.7" height="0.7" fill="#b8408a"/><rect x="322.0" y="473.5" width="0.7" height="0.7" fill="#b8408a"/><rect x="343.7" y="484.6" width="0.7" height="0.7" fill="#7a2aa0"/><rect x="346.7" y="468.8" width="0.7" height="0.7" fill="#a0309a"/><rect x="314.6" y="471.5" width="0.7" height="0.7" fill="#7a2aa0"/><rect x="324.9" y="486.0" width="0.7" height="0.7" fill="#7a2aa0"/><rect x="334.7" y="462.7" width="0.7" height="0.7" fill="#b8408a"/><rect x="324.3" y="466.0" width="0.7" height="0.7" fill="#b8408a"/><rect x="336.2" y="493.8" width="0.7" height="0.7" fill="#6a2a9e"/><rect x="339.1" y="486.6" width="0.7" height="0.7" fill="#6a2a9e"/><rect x="318.1" y="464.1" width="0.7" height="0.7" fill="#6a2a9e"/><rect x="321.3" y="464.2" width="0.7" height="0.7" fill="#7a2aa0"/><rect x="341.0" y="462.9" width="0.7" height="0.7" fill="#7a2aa0"/><rect x="312.6" y="465.1" width="0.7" height="0.7" fill="#6a2a9e"/><rect x="344.2" y="465.5" width="0.7" height="0.7" fill="#a0309a"/><rect x="347.7" y="468.2" width="0.7" height="0.7" fill="#a0309a"/><rect x="321.1" y="489.0" width="0.7" height="0.7" fill="#7a2aa0"/><rect x="343.0" y="463.6" width="0.7" height="0.7" fill="#a0309a"/><rect x="331.8" y="467.8" width="0.7" height="0.7" fill="#a0309a"/><rect x="341.9" y="489.7" width="0.7" height="0.7" fill="#b8408a"/><rect x="335.5" y="484.9" width="0.7" height="0.7" fill="#7a2aa0"/><rect x="328.1" y="471.8" width="0.7" height="0.7" fill="#7a2aa0"/><rect x="316.5" y="464.9" width="0.7" height="0.7" fill="#a0309a"/><rect x="309.9" y="476.9" width="0.7" height="0.7" fill="#6a2a9e"/><rect x="329.4" y="470.0" width="0.7" height="0.7" fill="#6a2a9e"/><rect x="343.1" y="465.0" width="0.7" height="0.7" fill="#7a2aa0"/><rect x="332.2" y="471.8" width="0.7" height="0.7" fill="#7a2aa0"/><rect x="340.9" y="464.3" width="0.7" height="0.7" fill="#b8408a"/><rect x="336.1" y="480.8" width="0.7" height="0.7" fill="#b8408a"/><rect x="326.6" y="470.1" width="0.7" height="0.7" fill="#a0309a"/><rect x="323.1" y="460.9" width="0.7" height="0.7" fill="#6a2a9e"/><rect x="349.3" y="469.0" width="0.7" height="0.7" fill="#a0309a"/><rect x="334.9" y="470.4" width="0.7" height="0.7" fill="#b8408a"/><rect x="343.4" y="472.1" width="0.7" height="0.7" fill="#b8408a"/><rect x="330.6" y="473.8" width="0.7" height="0.7" fill="#6a2a9e"/><rect x="338.2" y="464.9" width="0.7" height="0.7" fill="#b8408a"/><rect x="334.8" y="491.7" width="0.7" height="0.7" fill="#b8408a"/><rect x="337.1" y="477.5" width="0.7" height="0.7" fill="#6a2a9e"/><rect x="342.0" y="470.1" width="0.7" height="0.7" fill="#b8408a"/><rect x="339.0" y="485.5" width="0.7" height="0.7" fill="#7a2aa0"/><rect x="310.9" y="470.3" width="0.7" height="0.7" fill="#b8408a"/><rect x="317.5" y="465.8" width="0.7" height="0.7" fill="#6a2a9e"/><rect x="336.0" y="480.3" width="0.7" height="0.7" fill="#b8408a"/><rect x="346.0" y="462.9" width="0.7" height="0.7" fill="#7a2aa0"/><rect x="309.0" y="474.1" width="0.7" height="0.7" fill="#b8408a"/><rect x="333.9" y="487.9" width="0.7" height="0.7" fill="#7a2aa0"/><rect x="340.1" y="468.4" width="0.7" height="0.7" fill="#a0309a"/><rect x="331.6" y="474.6" width="0.7" height="0.7" fill="#7a2aa0"/><rect x="307.0" y="473.5" width="0.7" height="0.7" fill="#a0309a"/><rect x="331.6" y="470.6" width="0.7" height="0.7" fill="#6a2a9e"/><rect x="324.5" y="472.0" width="0.7" height="0.7" fill="#b8408a"/><rect x="332.5" y="492.2" width="0.7" height="0.7" fill="#7a2aa0"/><rect x="334.6" y="476.1" width="0.7" height="0.7" fill="#7a2aa0"/><rect x="339.8" y="463.4" width="0.7" height="0.7" fill="#7a2aa0"/><rect x="328.6" y="469.8" width="0.7" height="0.7" fill="#7a2aa0"/><rect x="327.1" y="460.7" width="0.7" height="0.7" fill="#7a2aa0"/><rect x="316.9" y="471.1" width="0.7" height="0.7" fill="#6a2a9e"/><rect x="342.1" y="467.0" width="0.7" height="0.7" fill="#7a2aa0"/><g clip-path="url(#clipHMGA2)"><rect x="315.3" y="463.2" width="1.0" height="1.0" fill="#e0603a"/><rect x="315.1" y="471.3" width="1.0" height="1.0" fill="#c03a80"/><rect x="328.1" y="470.3" width="1.0" height="1.0" fill="#f09030"/><rect x="316.5" y="463.7" width="1.0" height="1.0" fill="#f09030"/><rect x="317.2" y="472.5" width="1.0" height="1.0" fill="#a02a90"/><rect x="324.8" y="472.7" width="1.0" height="1.0" fill="#e0603a"/><rect x="312.7" y="463.4" width="1.0" height="1.0" fill="#e0603a"/><rect x="324.6" y="465.9" width="1.0" height="1.0" fill="#c03a80"/><rect x="320.2" y="466.8" width="1.0" height="1.0" fill="#a02a90"/><rect x="320.7" y="463.8" width="1.0" height="1.0" fill="#c03a80"/><rect x="319.5" y="465.7" width="1.0" height="1.0" fill="#c03a80"/><rect x="324.3" y="466.3" width="1.0" height="1.0" fill="#e0603a"/><rect x="323.9" y="470.0" width="1.0" height="1.0" fill="#f09030"/><rect x="324.0" y="465.0" width="1.0" height="1.0" fill="#a02a90"/><rect x="331.3" y="465.6" width="1.0" height="1.0" fill="#c03a80"/><rect x="314.8" y="471.3" width="1.0" height="1.0" fill="#f09030"/><rect x="320.3" y="462.8" width="1.0" height="1.0" fill="#e0603a"/><rect x="315.3" y="464.2" width="1.0" height="1.0" fill="#a02a90"/><rect x="314.0" y="471.3" width="1.0" height="1.0" fill="#f09030"/><rect x="309.6" y="466.2" width="1.0" height="1.0" fill="#e0603a"/><rect x="309.5" y="463.6" width="1.0" height="1.0" fill="#f09030"/><rect x="322.8" y="472.3" width="1.0" height="1.0" fill="#c03a80"/><rect x="323.3" y="463.6" width="1.0" height="1.0" fill="#a02a90"/><rect x="306.9" y="470.4" width="1.0" height="1.0" fill="#c03a80"/><rect x="310.9" y="471.7" width="1.0" height="1.0" fill="#e0603a"/><rect x="308.1" y="469.9" width="1.0" height="1.0" fill="#f09030"/><rect x="325.0" y="461.5" width="1.0" height="1.0" fill="#e0603a"/><rect x="304.7" y="468.4" width="1.0" height="1.0" fill="#a02a90"/><rect x="321.0" y="473.7" width="1.0" height="1.0" fill="#a02a90"/><rect x="312.8" y="469.2" width="1.0" height="1.0" fill="#a02a90"/><rect x="321.8" y="466.2" width="1.0" height="1.0" fill="#a02a90"/><rect x="329.1" y="467.1" width="1.0" height="1.0" fill="#f09030"/><rect x="315.8" y="462.6" width="1.0" height="1.0" fill="#f09030"/><rect x="307.0" y="470.3" width="1.0" height="1.0" fill="#f09030"/><rect x="327.0" y="469.1" width="1.0" height="1.0" fill="#a02a90"/><rect x="320.7" y="463.3" width="1.0" height="1.0" fill="#a02a90"/><rect x="321.9" y="466.5" width="1.0" height="1.0" fill="#c03a80"/><rect x="323.1" y="470.0" width="1.0" height="1.0" fill="#f09030"/><rect x="331.1" y="469.3" width="1.0" height="1.0" fill="#e0603a"/><rect x="318.7" y="468.4" width="1.0" height="1.0" fill="#e0603a"/><rect x="327.6" y="470.0" width="1.0" height="1.0" fill="#a02a90"/><rect x="318.0" y="462.7" width="1.0" height="1.0" fill="#c03a80"/><rect x="308.4" y="469.4" width="1.0" height="1.0" fill="#c03a80"/><rect x="310.9" y="462.9" width="1.0" height="1.0" fill="#f09030"/><rect x="326.2" y="466.2" width="1.0" height="1.0" fill="#f09030"/><rect x="319.8" y="468.7" width="1.0" height="1.0" fill="#a02a90"/><rect x="306.1" y="464.7" width="1.0" height="1.0" fill="#e0603a"/><rect x="330.6" y="465.2" width="1.0" height="1.0" fill="#e0603a"/><rect x="306.9" y="469.1" width="1.0" height="1.0" fill="#a02a90"/><rect x="327.9" y="465.0" width="1.0" height="1.0" fill="#a02a90"/><rect x="330.2" y="469.9" width="1.0" height="1.0" fill="#c03a80"/><rect x="327.9" y="468.7" width="1.0" height="1.0" fill="#f09030"/><rect x="313.8" y="471.0" width="1.0" height="1.0" fill="#f09030"/><rect x="312.6" y="466.4" width="1.0" height="1.0" fill="#e0603a"/><rect x="325.6" y="468.7" width="1.0" height="1.0" fill="#a02a90"/><rect x="310.9" y="462.1" width="1.0" height="1.0" fill="#c03a80"/><rect x="316.5" y="467.5" width="1.0" height="1.0" fill="#c03a80"/><rect x="324.2" y="469.1" width="1.0" height="1.0" fill="#f09030"/><rect x="313.1" y="472.2" width="1.0" height="1.0" fill="#c03a80"/><rect x="317.0" y="467.4" width="1.0" height="1.0" fill="#e0603a"/><rect x="314.5" y="460.2" width="1.0" height="1.0" fill="#c03a80"/><rect x="317.0" y="462.6" width="1.0" height="1.0" fill="#f09030"/><rect x="309.5" y="465.7" width="1.0" height="1.0" fill="#e0603a"/><rect x="306.7" y="463.4" width="1.0" height="1.0" fill="#c03a80"/><rect x="309.4" y="468.2" width="1.0" height="1.0" fill="#c03a80"/><rect x="323.5" y="462.3" width="1.0" height="1.0" fill="#a02a90"/><rect x="320.2" y="469.2" width="1.0" height="1.0" fill="#a02a90"/><rect x="330.7" y="466.0" width="1.0" height="1.0" fill="#a02a90"/><rect x="326.9" y="465.7" width="1.0" height="1.0" fill="#f09030"/><rect x="325.3" y="470.0" width="1.0" height="1.0" fill="#e0603a"/><rect x="315.9" y="467.6" width="1.0" height="1.0" fill="#a02a90"/><rect x="310.8" y="466.5" width="1.0" height="1.0" fill="#a02a90"/><rect x="318.9" y="460.8" width="1.0" height="1.0" fill="#f09030"/><rect x="315.0" y="473.6" width="1.0" height="1.0" fill="#c03a80"/><rect x="319.5" y="472.9" width="1.0" height="1.0" fill="#c03a80"/><rect x="319.7" y="464.4" width="1.0" height="1.0" fill="#a02a90"/><rect x="310.7" y="465.4" width="1.0" height="1.0" fill="#c03a80"/><rect x="322.2" y="470.6" width="1.0" height="1.0" fill="#f09030"/><rect x="311.2" y="462.5" width="1.0" height="1.0" fill="#f09030"/><rect x="319.0" y="463.1" width="1.0" height="1.0" fill="#f09030"/><rect x="311.1" y="467.2" width="1.0" height="1.0" fill="#f09030"/><rect x="321.7" y="465.4" width="1.0" height="1.0" fill="#e0603a"/><rect x="316.0" y="460.9" width="1.0" height="1.0" fill="#c03a80"/><rect x="324.3" y="470.8" width="1.0" height="1.0" fill="#e0603a"/><rect x="322.9" y="463.8" width="1.0" height="1.0" fill="#e0603a"/><rect x="314.6" y="464.2" width="1.0" height="1.0" fill="#e0603a"/><rect x="326.4" y="468.8" width="1.0" height="1.0" fill="#f09030"/><rect x="306.4" y="463.7" width="1.0" height="1.0" fill="#c03a80"/><rect x="319.6" y="462.2" width="1.0" height="1.0" fill="#c03a80"/><rect x="319.1" y="466.4" width="1.0" height="1.0" fill="#f09030"/><rect x="330.5" y="463.9" width="1.0" height="1.0" fill="#a02a90"/><rect x="327.6" y="462.8" width="1.0" height="1.0" fill="#a02a90"/><rect x="315.9" y="462.6" width="1.0" height="1.0" fill="#a02a90"/><rect x="315.9" y="460.1" width="1.0" height="1.0" fill="#a02a90"/><rect x="312.0" y="460.9" width="1.0" height="1.0" fill="#a02a90"/><rect x="327.1" y="468.4" width="1.0" height="1.0" fill="#c03a80"/><rect x="314.0" y="472.3" width="1.0" height="1.0" fill="#a02a90"/><rect x="321.8" y="465.4" width="1.0" height="1.0" fill="#e0603a"/><rect x="310.8" y="465.5" width="1.0" height="1.0" fill="#c03a80"/><rect x="321.6" y="466.8" width="1.0" height="1.0" fill="#f09030"/><rect x="324.9" y="461.9" width="1.0" height="1.0" fill="#a02a90"/><rect x="330.5" y="468.7" width="1.0" height="1.0" fill="#e0603a"/><rect x="312.6" y="461.6" width="1.0" height="1.0" fill="#e0603a"/><rect x="327.3" y="464.7" width="1.0" height="1.0" fill="#a02a90"/><rect x="323.2" y="462.9" width="1.0" height="1.0" fill="#e0603a"/><rect x="322.9" y="460.6" width="1.0" height="1.0" fill="#c03a80"/><rect x="319.8" y="466.6" width="1.0" height="1.0" fill="#f09030"/><rect x="311.8" y="462.7" width="1.0" height="1.0" fill="#a02a90"/><rect x="329.4" y="463.3" width="1.0" height="1.0" fill="#f09030"/><rect x="329.9" y="468.2" width="1.0" height="1.0" fill="#f09030"/><rect x="306.4" y="466.6" width="1.0" height="1.0" fill="#c03a80"/><rect x="325.2" y="463.9" width="1.0" height="1.0" fill="#e0603a"/><rect x="326.2" y="468.8" width="1.0" height="1.0" fill="#a02a90"/><rect x="316.2" y="473.5" width="1.0" height="1.0" fill="#e0603a"/><rect x="321.6" y="464.7" width="1.0" height="1.0" fill="#f09030"/><rect x="311.0" y="464.2" width="1.0" height="1.0" fill="#a02a90"/><rect x="316.6" y="466.1" width="1.0" height="1.0" fill="#c03a80"/><rect x="331.2" y="468.6" width="1.0" height="1.0" fill="#f09030"/><rect x="312.6" y="473.3" width="1.0" height="1.0" fill="#c03a80"/><rect x="330.5" y="469.1" width="1.0" height="1.0" fill="#c03a80"/><rect x="315.6" y="468.2" width="1.0" height="1.0" fill="#f09030"/><rect x="313.5" y="465.5" width="1.0" height="1.0" fill="#f8c030"/><rect x="310.9" y="468.2" width="1.0" height="1.0" fill="#f09030"/><rect x="313.1" y="468.9" width="1.0" height="1.0" fill="#f09030"/><rect x="309.5" y="464.2" width="1.0" height="1.0" fill="#f8c030"/><rect x="308.0" y="465.7" width="1.0" height="1.0" fill="#f8e040"/><rect x="306.3" y="465.3" width="1.0" height="1.0" fill="#f8e040"/><rect x="311.8" y="463.7" width="1.0" height="1.0" fill="#f09030"/><rect x="307.3" y="465.6" width="1.0" height="1.0" fill="#f09030"/><rect x="311.0" y="466.9" width="1.0" height="1.0" fill="#f8c030"/><rect x="316.5" y="468.5" width="1.0" height="1.0" fill="#f09030"/><rect x="311.4" y="469.4" width="1.0" height="1.0" fill="#f09030"/><rect x="317.5" y="465.2" width="1.0" height="1.0" fill="#f8e040"/><rect x="310.3" y="463.5" width="1.0" height="1.0" fill="#f09030"/><rect x="308.4" y="468.1" width="1.0" height="1.0" fill="#f8e040"/><rect x="313.8" y="463.8" width="1.0" height="1.0" fill="#f09030"/><rect x="310.7" y="469.7" width="1.0" height="1.0" fill="#f8e040"/><rect x="311.2" y="466.1" width="1.0" height="1.0" fill="#f8c030"/><rect x="315.1" y="468.6" width="1.0" height="1.0" fill="#f8e040"/><rect x="311.1" y="462.7" width="1.0" height="1.0" fill="#f09030"/><rect x="309.7" y="463.9" width="1.0" height="1.0" fill="#f8c030"/><rect x="316.0" y="463.5" width="1.0" height="1.0" fill="#f8c030"/><rect x="316.6" y="466.2" width="1.0" height="1.0" fill="#f8e040"/><rect x="312.6" y="469.9" width="1.0" height="1.0" fill="#f8e040"/><rect x="312.3" y="469.8" width="1.0" height="1.0" fill="#f8c030"/><rect x="315.5" y="466.0" width="1.0" height="1.0" fill="#f8c030"/><rect x="313.6" y="469.4" width="1.0" height="1.0" fill="#f8c030"/><rect x="312.7" y="465.2" width="1.0" height="1.0" fill="#f8e040"/><rect x="313.6" y="465.4" width="1.0" height="1.0" fill="#f8e040"/><rect x="313.7" y="463.5" width="1.0" height="1.0" fill="#f8e040"/></g><rect x="314.6" y="441.2" width="0.7" height="0.7" fill="#a0309a"/><rect x="316.5" y="423.1" width="0.7" height="0.7" fill="#6a2a9e"/><rect x="315.3" y="430.1" width="0.7" height="0.7" fill="#6a2a9e"/><rect x="312.4" y="423.3" width="0.7" height="0.7" fill="#a0309a"/><rect x="313.0" y="430.2" width="0.7" height="0.7" fill="#6a2a9e"/><rect x="316.0" y="450.5" width="0.7" height="0.7" fill="#6a2a9e"/><rect x="311.8" y="438.7" width="0.7" height="0.7" fill="#a0309a"/><rect x="314.7" y="446.3" width="0.7" height="0.7" fill="#a0309a"/><rect x="310.4" y="440.0" width="0.7" height="0.7" fill="#a0309a"/><rect x="312.2" y="424.7" width="0.7" height="0.7" fill="#6a2a9e"/><rect x="316.2" y="431.1" width="0.7" height="0.7" fill="#6a2a9e"/><rect x="313.4" y="428.9" width="0.7" height="0.7" fill="#6a2a9e"/><rect x="310.2" y="439.3" width="0.7" height="0.7" fill="#a0309a"/><rect x="321.6" y="445.3" width="0.7" height="0.7" fill="#a0309a"/><rect x="315.7" y="440.0" width="0.5" height="0.5" fill="#fff"/><rect x="327.6" y="438.7" width="0.5" height="0.5" fill="#fff"/><rect x="312.0" y="426.8" width="0.5" height="0.5" fill="#fff"/><rect x="322.8" y="438.9" width="0.5" height="0.5" fill="#fff"/><rect x="309.9" y="422.7" width="0.5" height="0.5" fill="#fff"/><rect x="308.5" y="425.5" width="0.5" height="0.5" fill="#fff"/><rect x="314.9" y="423.7" width="0.5" height="0.5" fill="#fff"/><rect x="312.0" y="426.9" width="0.5" height="0.5" fill="#fff"/><rect x="307.3" y="425.2" width="0.5" height="0.5" fill="#fff"/><rect x="309.9" y="423.9" width="0.5" height="0.5" fill="#fff"/><rect x="324.1" y="436.5" width="0.5" height="0.5" fill="#fff"/><rect x="319.0" y="435.4" width="0.5" height="0.5" fill="#fff"/><rect x="307.6" y="424.6" width="0.5" height="0.5" fill="#fff"/><rect x="310.5" y="430.2" width="0.5" height="0.5" fill="#fff"/><rect x="309.1" y="427.7" width="0.5" height="0.5" fill="#fff"/><rect x="315.7" y="425.9" width="0.5" height="0.5" fill="#fff"/><rect x="306.2" y="427.1" width="0.5" height="0.5" fill="#fff"/><rect x="307.3" y="429.4" width="0.5" height="0.5" fill="#fff"/><rect x="307.1" y="425.4" width="0.5" height="0.5" fill="#fff"/><rect x="311.7" y="446.9" width="0.5" height="0.5" fill="#fff"/><rect x="316.3" y="435.9" width="0.5" height="0.5" fill="#fff"/><rect x="323.5" y="439.8" width="0.5" height="0.5" fill="#fff"/><rect x="317.8" y="425.9" width="0.5" height="0.5" fill="#fff"/><rect x="309.7" y="425.0" width="0.5" height="0.5" fill="#fff"/><rect x="310.6" y="443.0" width="0.5" height="0.5" fill="#fff"/><rect x="307.4" y="429.0" width="0.5" height="0.5" fill="#fff"/><rect x="314.8" y="442.5" width="0.5" height="0.5" fill="#fff"/><rect x="318.5" y="429.3" width="0.5" height="0.5" fill="#fff"/><rect x="308.4" y="423.2" width="0.5" height="0.5" fill="#fff"/><rect x="315.8" y="449.9" width="0.5" height="0.5" fill="#fff"/><rect x="315.6" y="468.3" width="0.45" height="0.45" fill="#fff"/><rect x="348.7" y="468.8" width="0.45" height="0.45" fill="#fff"/><rect x="308.2" y="465.1" width="0.45" height="0.45" fill="#fff"/><rect x="348.0" y="463.6" width="0.45" height="0.45" fill="#fff"/><rect x="335.4" y="463.5" width="0.45" height="0.45" fill="#fff"/><rect x="323.7" y="465.9" width="0.45" height="0.45" fill="#fff"/><rect x="342.8" y="475.5" width="0.45" height="0.45" fill="#fff"/><rect x="306.8" y="465.9" width="0.45" height="0.45" fill="#fff"/><rect x="322.0" y="490.2" width="0.45" height="0.45" fill="#fff"/><rect x="332.9" y="470.5" width="0.45" height="0.45" fill="#fff"/><rect x="350.6" y="466.4" width="0.45" height="0.45" fill="#fff"/><rect x="312.6" y="469.9" width="0.45" height="0.45" fill="#fff"/><rect x="330.9" y="475.7" width="0.45" height="0.45" fill="#fff"/><rect x="342.8" y="487.3" width="0.45" height="0.45" fill="#fff"/><rect x="315.8" y="471.9" width="0.45" height="0.45" fill="#fff"/><rect x="332.8" y="475.0" width="0.45" height="0.45" fill="#fff"/><rect x="335.6" y="469.5" width="0.45" height="0.45" fill="#fff"/><rect x="337.7" y="480.9" width="0.45" height="0.45" fill="#fff"/><rect x="325.9" y="475.8" width="0.45" height="0.45" fill="#fff"/><rect x="340.1" y="476.2" width="0.45" height="0.45" fill="#fff"/><rect x="318.8" y="471.7" width="0.45" height="0.45" fill="#fff"/><rect x="321.2" y="487.8" width="0.45" height="0.45" fill="#fff"/><rect x="343.0" y="475.1" width="0.45" height="0.45" fill="#fff"/><rect x="323.4" y="469.0" width="0.45" height="0.45" fill="#fff"/><rect x="335.1" y="465.5" width="0.45" height="0.45" fill="#fff"/>
<path d="M313.3 453.6 L313.3 462.2 M311.4 459.8 L313.3 462.4 L315.2 459.8" fill="none" stroke="#333" stroke-width="0.8"/>
<path d="M348.2 451.4 L348.2 459.4 M346.5 457.2 L348.2 459.6 L349.9 457.2" fill="none" stroke="#e03030" stroke-width="0.7"/>
</g>
<g transform="translate(0 0)">
<rect x="347.2" y="418.6" width="5.2" height="24" fill="url(#plasma)"/>
<text x="355.60" y="424.10" font-size="7.0" text-anchor="start" fill="#231f20" >0.6</text>
<text x="355.60" y="431.23" font-size="7.0" text-anchor="start" fill="#231f20" >0.4</text>
<text x="355.60" y="438.37" font-size="7.0" text-anchor="start" fill="#231f20" >0.2</text>
<text x="355.60" y="445.50" font-size="7.0" text-anchor="start" fill="#231f20" >0.0</text>
</g>
</g>
<g transform="translate(146.7 0)">
<text x="309.00" y="411.80" font-size="9.6" text-anchor="middle" fill="#231f20" >CD34</text>
<line x1="262.00" y1="418.50" x2="262.00" y2="503.10" stroke="#231f20" stroke-width="1.1" />
<line x1="261.50" y1="502.60" x2="351.20" y2="502.60" stroke="#231f20" stroke-width="1.1" />
<line x1="259.20" y1="438.10" x2="262.00" y2="438.10" stroke="#231f20" stroke-width="0.9" />
<text x="256.60" y="440.90" font-size="7.6" text-anchor="end" fill="#231f20" >10</text>
<line x1="259.20" y1="468.40" x2="262.00" y2="468.40" stroke="#231f20" stroke-width="0.9" />
<text x="256.60" y="471.20" font-size="7.6" text-anchor="end" fill="#231f20" >0</text>
<line x1="259.20" y1="497.90" x2="262.00" y2="497.90" stroke="#231f20" stroke-width="0.9" />
<text x="256.60" y="500.70" font-size="7.6" text-anchor="end" fill="#231f20" >&#8722;10</text>
<line x1="280.25" y1="502.60" x2="280.25" y2="505.30" stroke="#231f20" stroke-width="0.9" />
<text x="277.65" y="514.10" font-size="7.6" text-anchor="middle" fill="#231f20" >&#8722;10</text>
<line x1="300.40" y1="502.60" x2="300.40" y2="505.30" stroke="#231f20" stroke-width="0.9" />
<text x="297.80" y="514.10" font-size="7.6" text-anchor="middle" fill="#231f20" >&#8722;5</text>
<line x1="320.60" y1="502.60" x2="320.60" y2="505.30" stroke="#231f20" stroke-width="0.9" />
<text x="320.60" y="514.10" font-size="7.6" text-anchor="middle" fill="#231f20" >0</text>
<line x1="340.80" y1="502.60" x2="340.80" y2="505.30" stroke="#231f20" stroke-width="0.9" />
<text x="340.80" y="514.10" font-size="7.6" text-anchor="middle" fill="#231f20" >5</text>
<text x="308.70" y="527.20" font-size="8.8" text-anchor="middle" fill="#231f20" textLength="21.4" lengthAdjust="spacingAndGlyphs" stroke="#231f20" stroke-width="0.25">UMAP 1</text>
<text x="0" y="0" font-size="8.8" text-anchor="middle" fill="#231f20" textLength="21.4" lengthAdjust="spacingAndGlyphs" stroke="#231f20" stroke-width="0.25" transform="translate(236.8 460.5) rotate(-90)">UMAP 2</text>
<g transform="translate(0 0)">
<clipPath id="clipCD34"><path d="M305.0 427.8 L306.7 425.1 L309.1 420.4 L310.8 419.4 L313.5 421.1 L316.8 421.7 L318.5 423.7 L319.5 427.1 L318.8 430.5 L320.2 433.8 L322.2 436.5 L325.6 436.5 L328.3 437.9 L327.9 439.9 L323.6 443.3 L322.2 446.6 L319.5 450.0 L315.5 451.3 L312.4 449.3 L310.8 445.3 L309.4 441.9 L310.1 439.2 L311.1 435.2 L313.5 433.2 L315.5 431.8 L312.1 430.5 L307.4 431.2 L305.4 429.8Z M305.4 450.5 L307.5 447.3 L309.4 449.0 L307.5 452.0Z M285.2 454.3 L288.7 454.0 L289.5 457.2 L292.1 459.5 L292.7 461.8 L295.0 463.5 L297.3 463.8 L299.6 465.3 L301.9 467.0 L304.8 468.2 L310.0 466.4 L310.0 471.0 L305.4 471.0 L301.3 469.3 L297.3 468.7 L293.8 468.4 L291.0 468.4 L289.8 467.3 L291.5 465.8 L289.8 463.0 L286.9 460.1 L285.5 457.8 L284.9 455.5Z M276.5 466.3 L278.5 466.6 L280.6 468.5 L281.7 469.3 L283.5 471.2 L285.8 473.0 L288.7 474.5 L291.5 475.3 L295.0 474.8 L299.0 474.0 L303.1 472.6 L306.0 472.0 L307.7 473.9 L307.1 477.4 L304.2 476.8 L300.2 477.4 L297.3 478.0 L295.6 480.3 L294.4 483.5 L293.3 480.0 L291.0 477.4 L288.1 476.4 L284.6 475.3 L282.0 473.0 L279.5 470.0 L277.0 468.0Z M275.0 480.0 L276.0 480.3 L276.3 482.5 L278.5 484.0 L281.0 483.0 L284.0 481.5 L286.2 480.2 L286.6 481.0 L284.0 483.3 L281.0 485.5 L278.5 487.5 L277.0 488.3 L276.3 486.5 L275.2 484.0Z M304.6 466.0 L309.2 464.2 L313.8 462.8 L318.5 462.2 L323.1 460.8 L324.8 460.2 L330.0 461.3 L336.9 461.9 L341.5 461.3 L345.0 460.2 L348.5 459.6 L351.9 460.2 L353.7 463.1 L352.5 466.5 L348.5 470.0 L343.8 472.3 L343.3 475.8 L344.4 481.5 L344.4 487.3 L343.3 490.8 L339.8 491.9 L339.2 494.8 L338.1 498.3 L334.6 498.8 L332.3 496.0 L330.6 493.1 L328.8 490.8 L327.1 488.5 L326.0 488.5 L324.8 490.8 L323.1 493.1 L320.2 492.5 L319.6 489.6 L321.3 486.7 L324.2 485.0 L325.4 481.5 L321.9 479.8 L317.3 479.2 L313.8 480.4 L311.5 481.5 L308.1 481.0 L306.9 478.7 L308.7 476.9 L311.5 475.8 L309.0 474.5 L306.5 473.5 L305.5 472.5 L307.7 471.0 L310.0 471.0 L306.0 469.5Z"/></clipPath><path d="M305.0 427.8 L306.7 425.1 L309.1 420.4 L310.8 419.4 L313.5 421.1 L316.8 421.7 L318.5 423.7 L319.5 427.1 L318.8 430.5 L320.2 433.8 L322.2 436.5 L325.6 436.5 L328.3 437.9 L327.9 439.9 L323.6 443.3 L322.2 446.6 L319.5 450.0 L315.5 451.3 L312.4 449.3 L310.8 445.3 L309.4 441.9 L310.1 439.2 L311.1 435.2 L313.5 433.2 L315.5 431.8 L312.1 430.5 L307.4 431.2 L305.4 429.8Z M305.4 450.5 L307.5 447.3 L309.4 449.0 L307.5 452.0Z M285.2 454.3 L288.7 454.0 L289.5 457.2 L292.1 459.5 L292.7 461.8 L295.0 463.5 L297.3 463.8 L299.6 465.3 L301.9 467.0 L304.8 468.2 L310.0 466.4 L310.0 471.0 L305.4 471.0 L301.3 469.3 L297.3 468.7 L293.8 468.4 L291.0 468.4 L289.8 467.3 L291.5 465.8 L289.8 463.0 L286.9 460.1 L285.5 457.8 L284.9 455.5Z M276.5 466.3 L278.5 466.6 L280.6 468.5 L281.7 469.3 L283.5 471.2 L285.8 473.0 L288.7 474.5 L291.5 475.3 L295.0 474.8 L299.0 474.0 L303.1 472.6 L306.0 472.0 L307.7 473.9 L307.1 477.4 L304.2 476.8 L300.2 477.4 L297.3 478.0 L295.6 480.3 L294.4 483.5 L293.3 480.0 L291.0 477.4 L288.1 476.4 L284.6 475.3 L282.0 473.0 L279.5 470.0 L277.0 468.0Z M275.0 480.0 L276.0 480.3 L276.3 482.5 L278.5 484.0 L281.0 483.0 L284.0 481.5 L286.2 480.2 L286.6 481.0 L284.0 483.3 L281.0 485.5 L278.5 487.5 L277.0 488.3 L276.3 486.5 L275.2 484.0Z M304.6 466.0 L309.2 464.2 L313.8 462.8 L318.5 462.2 L323.1 460.8 L324.8 460.2 L330.0 461.3 L336.9 461.9 L341.5 461.3 L345.0 460.2 L348.5 459.6 L351.9 460.2 L353.7 463.1 L352.5 466.5 L348.5 470.0 L343.8 472.3 L343.3 475.8 L344.4 481.5 L344.4 487.3 L343.3 490.8 L339.8 491.9 L339.2 494.8 L338.1 498.3 L334.6 498.8 L332.3 496.0 L330.6 493.1 L328.8 490.8 L327.1 488.5 L326.0 488.5 L324.8 490.8 L323.1 493.1 L320.2 492.5 L319.6 489.6 L321.3 486.7 L324.2 485.0 L325.4 481.5 L321.9 479.8 L317.3 479.2 L313.8 480.4 L311.5 481.5 L308.1 481.0 L306.9 478.7 L308.7 476.9 L311.5 475.8 L309.0 474.5 L306.5 473.5 L305.5 472.5 L307.7 471.0 L310.0 471.0 L306.0 469.5Z" fill="#24136e"/><path d="M305.0 427.8 L306.7 425.1 L309.1 420.4 L310.8 419.4 L313.5 421.1 L316.8 421.7 L318.5 423.7 L319.5 427.1 L318.8 430.5 L320.2 433.8 L322.2 436.5 L325.6 436.5 L328.3 437.9 L327.9 439.9 L323.6 443.3 L322.2 446.6 L319.5 450.0 L315.5 451.3 L312.4 449.3 L310.8 445.3 L309.4 441.9 L310.1 439.2 L311.1 435.2 L313.5 433.2 L315.5 431.8 L312.1 430.5 L307.4 431.2 L305.4 429.8Z M305.4 450.5 L307.5 447.3 L309.4 449.0 L307.5 452.0Z M285.2 454.3 L288.7 454.0 L289.5 457.2 L292.1 459.5 L292.7 461.8 L295.0 463.5 L297.3 463.8 L299.6 465.3 L301.9 467.0 L304.8 468.2 L310.0 466.4 L310.0 471.0 L305.4 471.0 L301.3 469.3 L297.3 468.7 L293.8 468.4 L291.0 468.4 L289.8 467.3 L291.5 465.8 L289.8 463.0 L286.9 460.1 L285.5 457.8 L284.9 455.5Z M276.5 466.3 L278.5 466.6 L280.6 468.5 L281.7 469.3 L283.5 471.2 L285.8 473.0 L288.7 474.5 L291.5 475.3 L295.0 474.8 L299.0 474.0 L303.1 472.6 L306.0 472.0 L307.7 473.9 L307.1 477.4 L304.2 476.8 L300.2 477.4 L297.3 478.0 L295.6 480.3 L294.4 483.5 L293.3 480.0 L291.0 477.4 L288.1 476.4 L284.6 475.3 L282.0 473.0 L279.5 470.0 L277.0 468.0Z M275.0 480.0 L276.0 480.3 L276.3 482.5 L278.5 484.0 L281.0 483.0 L284.0 481.5 L286.2 480.2 L286.6 481.0 L284.0 483.3 L281.0 485.5 L278.5 487.5 L277.0 488.3 L276.3 486.5 L275.2 484.0Z M304.6 466.0 L309.2 464.2 L313.8 462.8 L318.5 462.2 L323.1 460.8 L324.8 460.2 L330.0 461.3 L336.9 461.9 L341.5 461.3 L345.0 460.2 L348.5 459.6 L351.9 460.2 L353.7 463.1 L352.5 466.5 L348.5 470.0 L343.8 472.3 L343.3 475.8 L344.4 481.5 L344.4 487.3 L343.3 490.8 L339.8 491.9 L339.2 494.8 L338.1 498.3 L334.6 498.8 L332.3 496.0 L330.6 493.1 L328.8 490.8 L327.1 488.5 L326.0 488.5 L324.8 490.8 L323.1 493.1 L320.2 492.5 L319.6 489.6 L321.3 486.7 L324.2 485.0 L325.4 481.5 L321.9 479.8 L317.3 479.2 L313.8 480.4 L311.5 481.5 L308.1 481.0 L306.9 478.7 L308.7 476.9 L311.5 475.8 L309.0 474.5 L306.5 473.5 L305.5 472.5 L307.7 471.0 L310.0 471.0 L306.0 469.5Z" fill="#36209a" transform="translate(320.7 468.3) scale(0.985) translate(-320.7 -468.3)" opacity="0"/><g clip-path="url(#clipCD34)"><path d="M305.0 427.8 L306.7 425.1 L309.1 420.4 L310.8 419.4 L313.5 421.1 L316.8 421.7 L318.5 423.7 L319.5 427.1 L318.8 430.5 L320.2 433.8 L322.2 436.5 L325.6 436.5 L328.3 437.9 L327.9 439.9 L323.6 443.3 L322.2 446.6 L319.5 450.0 L315.5 451.3 L312.4 449.3 L310.8 445.3 L309.4 441.9 L310.1 439.2 L311.1 435.2 L313.5 433.2 L315.5 431.8 L312.1 430.5 L307.4 431.2 L305.4 429.8Z M305.4 450.5 L307.5 447.3 L309.4 449.0 L307.5 452.0Z M285.2 454.3 L288.7 454.0 L289.5 457.2 L292.1 459.5 L292.7 461.8 L295.0 463.5 L297.3 463.8 L299.6 465.3 L301.9 467.0 L304.8 468.2 L310.0 466.4 L310.0 471.0 L305.4 471.0 L301.3 469.3 L297.3 468.7 L293.8 468.4 L291.0 468.4 L289.8 467.3 L291.5 465.8 L289.8 463.0 L286.9 460.1 L285.5 457.8 L284.9 455.5Z M276.5 466.3 L278.5 466.6 L280.6 468.5 L281.7 469.3 L283.5 471.2 L285.8 473.0 L288.7 474.5 L291.5 475.3 L295.0 474.8 L299.0 474.0 L303.1 472.6 L306.0 472.0 L307.7 473.9 L307.1 477.4 L304.2 476.8 L300.2 477.4 L297.3 478.0 L295.6 480.3 L294.4 483.5 L293.3 480.0 L291.0 477.4 L288.1 476.4 L284.6 475.3 L282.0 473.0 L279.5 470.0 L277.0 468.0Z M275.0 480.0 L276.0 480.3 L276.3 482.5 L278.5 484.0 L281.0 483.0 L284.0 481.5 L286.2 480.2 L286.6 481.0 L284.0 483.3 L281.0 485.5 L278.5 487.5 L277.0 488.3 L276.3 486.5 L275.2 484.0Z M304.6 466.0 L309.2 464.2 L313.8 462.8 L318.5 462.2 L323.1 460.8 L324.8 460.2 L330.0 461.3 L336.9 461.9 L341.5 461.3 L345.0 460.2 L348.5 459.6 L351.9 460.2 L353.7 463.1 L352.5 466.5 L348.5 470.0 L343.8 472.3 L343.3 475.8 L344.4 481.5 L344.4 487.3 L343.3 490.8 L339.8 491.9 L339.2 494.8 L338.1 498.3 L334.6 498.8 L332.3 496.0 L330.6 493.1 L328.8 490.8 L327.1 488.5 L326.0 488.5 L324.8 490.8 L323.1 493.1 L320.2 492.5 L319.6 489.6 L321.3 486.7 L324.2 485.0 L325.4 481.5 L321.9 479.8 L317.3 479.2 L313.8 480.4 L311.5 481.5 L308.1 481.0 L306.9 478.7 L308.7 476.9 L311.5 475.8 L309.0 474.5 L306.5 473.5 L305.5 472.5 L307.7 471.0 L310.0 471.0 L306.0 469.5Z" fill="none" stroke="#36209a" stroke-width="0"/></g><g clip-path="url(#clipCD34)"><rect x="260" y="410" width="100" height="95" fill="#36209a"/></g><path d="M305.0 427.8 L306.7 425.1 L309.1 420.4 L310.8 419.4 L313.5 421.1 L316.8 421.7 L318.5 423.7 L319.5 427.1 L318.8 430.5 L320.2 433.8 L322.2 436.5 L325.6 436.5 L328.3 437.9 L327.9 439.9 L323.6 443.3 L322.2 446.6 L319.5 450.0 L315.5 451.3 L312.4 449.3 L310.8 445.3 L309.4 441.9 L310.1 439.2 L311.1 435.2 L313.5 433.2 L315.5 431.8 L312.1 430.5 L307.4 431.2 L305.4 429.8Z M305.4 450.5 L307.5 447.3 L309.4 449.0 L307.5 452.0Z M285.2 454.3 L288.7 454.0 L289.5 457.2 L292.1 459.5 L292.7 461.8 L295.0 463.5 L297.3 463.8 L299.6 465.3 L301.9 467.0 L304.8 468.2 L310.0 466.4 L310.0 471.0 L305.4 471.0 L301.3 469.3 L297.3 468.7 L293.8 468.4 L291.0 468.4 L289.8 467.3 L291.5 465.8 L289.8 463.0 L286.9 460.1 L285.5 457.8 L284.9 455.5Z M276.5 466.3 L278.5 466.6 L280.6 468.5 L281.7 469.3 L283.5 471.2 L285.8 473.0 L288.7 474.5 L291.5 475.3 L295.0 474.8 L299.0 474.0 L303.1 472.6 L306.0 472.0 L307.7 473.9 L307.1 477.4 L304.2 476.8 L300.2 477.4 L297.3 478.0 L295.6 480.3 L294.4 483.5 L293.3 480.0 L291.0 477.4 L288.1 476.4 L284.6 475.3 L282.0 473.0 L279.5 470.0 L277.0 468.0Z M275.0 480.0 L276.0 480.3 L276.3 482.5 L278.5 484.0 L281.0 483.0 L284.0 481.5 L286.2 480.2 L286.6 481.0 L284.0 483.3 L281.0 485.5 L278.5 487.5 L277.0 488.3 L276.3 486.5 L275.2 484.0Z M304.6 466.0 L309.2 464.2 L313.8 462.8 L318.5 462.2 L323.1 460.8 L324.8 460.2 L330.0 461.3 L336.9 461.9 L341.5 461.3 L345.0 460.2 L348.5 459.6 L351.9 460.2 L353.7 463.1 L352.5 466.5 L348.5 470.0 L343.8 472.3 L343.3 475.8 L344.4 481.5 L344.4 487.3 L343.3 490.8 L339.8 491.9 L339.2 494.8 L338.1 498.3 L334.6 498.8 L332.3 496.0 L330.6 493.1 L328.8 490.8 L327.1 488.5 L326.0 488.5 L324.8 490.8 L323.1 493.1 L320.2 492.5 L319.6 489.6 L321.3 486.7 L324.2 485.0 L325.4 481.5 L321.9 479.8 L317.3 479.2 L313.8 480.4 L311.5 481.5 L308.1 481.0 L306.9 478.7 L308.7 476.9 L311.5 475.8 L309.0 474.5 L306.5 473.5 L305.5 472.5 L307.7 471.0 L310.0 471.0 L306.0 469.5Z" fill="none" stroke="#22126a" stroke-width="0.5"/><ellipse cx="312.8" cy="424.8" rx="3.0" ry="2.1" fill="#fff"/><ellipse cx="314.5" cy="443.5" rx="1.3" ry="0.6" fill="#fff" opacity="0.9"/><ellipse cx="317.5" cy="444.8" rx="1.1" ry="0.6" fill="#fff" opacity="0.9"/><ellipse cx="315.5" cy="446.2" rx="1.4" ry="0.5" fill="#fff" opacity="0.9"/><ellipse cx="319.3" cy="443.2" rx="0.8" ry="0.6" fill="#fff" opacity="0.9"/><ellipse cx="315" cy="435.2" rx="1.0" ry="0.5" fill="#fff" opacity="0.9"/><ellipse cx="318" cy="436.5" rx="0.8" ry="0.6" fill="#fff" opacity="0.9"/><ellipse cx="313.8" cy="437.8" rx="0.8" ry="0.5" fill="#fff" opacity="0.9"/><rect x="265.9" y="467.3" width="1.8" height="1.7" fill="#36209a"/><rect x="268.6" y="466.3" width="1.8" height="1.7" fill="#36209a"/><rect x="270.7" y="467.8" width="1.8" height="1.7" fill="#36209a"/><rect x="272.4" y="467.0" width="1.8" height="1.7" fill="#36209a"/><rect x="273.8" y="468.8" width="1.8" height="1.7" fill="#36209a"/><rect x="274.2" y="471.1" width="1.8" height="1.7" fill="#36209a"/><rect x="268.3" y="469.4" width="1.8" height="1.7" fill="#36209a"/><rect x="267.6" y="472.2" width="1.8" height="1.7" fill="#36209a"/><rect x="269.7" y="473.2" width="1.8" height="1.7" fill="#36209a"/><rect x="265.2" y="471.1" width="1.8" height="1.7" fill="#36209a"/><rect x="265.5" y="475.3" width="1.8" height="1.7" fill="#36209a"/><rect x="266.9" y="477.0" width="1.8" height="1.7" fill="#36209a"/><rect x="269.7" y="477.4" width="1.8" height="1.7" fill="#36209a"/><rect x="272.1" y="468.0" width="1.8" height="1.7" fill="#36209a"/><rect x="273.5" y="470.8" width="1.8" height="1.7" fill="#36209a"/><rect x="274.2" y="469.4" width="1.8" height="1.7" fill="#36209a"/><rect x="266.2" y="468.8" width="1.8" height="1.7" fill="#36209a"/><rect x="271.4" y="469.9" width="1.8" height="1.7" fill="#36209a"/><rect x="269.2" y="468.0" width="1.8" height="1.7" fill="#36209a"/><g clip-path="url(#clipCD34)" filter="url(#blur1)"><ellipse cx="315" cy="469" rx="10" ry="8" fill="#f8c430" opacity="1"/><ellipse cx="312" cy="468" rx="6" ry="5" fill="#f8e040" opacity="1"/><ellipse cx="311.5" cy="479" rx="4.5" ry="3.5" fill="#f8c830" opacity="1"/><ellipse cx="333" cy="465" rx="12" ry="4.5" fill="#f09030" opacity="0.95"/><ellipse cx="347" cy="463.5" rx="8" ry="3.8" fill="#f0a030" opacity="1"/><ellipse cx="349" cy="461" rx="5" ry="1.3" fill="#f8d040" opacity="0.9"/><ellipse cx="300" cy="468" rx="7" ry="2.4" fill="#d04878" opacity="0.9"/><ellipse cx="290" cy="476.5" rx="4" ry="2.2" fill="#b03880" opacity="0.85"/><ellipse cx="296" cy="468.5" rx="3" ry="1.5" fill="#e06060" opacity="0.8"/><ellipse cx="333" cy="473" rx="7" ry="4" fill="#9a2a98" opacity="0.7"/></g><rect x="343.7" y="463.1" width="0.7" height="0.7" fill="#7a2aa0"/><rect x="339.9" y="462.2" width="0.7" height="0.7" fill="#a0309a"/><rect x="312.8" y="480.5" width="0.7" height="0.7" fill="#7a2aa0"/><rect x="312.9" y="471.0" width="0.7" height="0.7" fill="#a0309a"/><rect x="325.2" y="469.1" width="0.7" height="0.7" fill="#c04880"/><rect x="336.7" y="485.7" width="0.7" height="0.7" fill="#c04880"/><rect x="309.0" y="473.5" width="0.7" height="0.7" fill="#c04880"/><rect x="310.6" y="473.9" width="0.7" height="0.7" fill="#7a2aa0"/><rect x="334.2" y="469.5" width="0.7" height="0.7" fill="#7a2aa0"/><rect x="342.9" y="484.4" width="0.7" height="0.7" fill="#7a2aa0"/><rect x="341.6" y="464.9" width="0.7" height="0.7" fill="#a0309a"/><rect x="328.0" y="488.6" width="0.7" height="0.7" fill="#7a2aa0"/><rect x="318.7" y="464.2" width="0.7" height="0.7" fill="#c04880"/><rect x="321.2" y="466.1" width="0.7" height="0.7" fill="#6a2a9e"/><rect x="324.1" y="472.4" width="0.7" height="0.7" fill="#c04880"/><rect x="314.6" y="465.8" width="0.7" height="0.7" fill="#a0309a"/><rect x="349.8" y="467.4" width="0.7" height="0.7" fill="#7a2aa0"/><rect x="316.0" y="463.3" width="0.7" height="0.7" fill="#a0309a"/><rect x="322.3" y="465.5" width="0.7" height="0.7" fill="#7a2aa0"/><rect x="324.1" y="490.3" width="0.7" height="0.7" fill="#6a2a9e"/><rect x="328.7" y="462.0" width="0.7" height="0.7" fill="#c04880"/><rect x="342.8" y="467.9" width="0.7" height="0.7" fill="#c04880"/><rect x="316.3" y="471.8" width="0.7" height="0.7" fill="#a0309a"/><rect x="313.0" y="468.9" width="0.7" height="0.7" fill="#a0309a"/><rect x="323.8" y="472.8" width="0.7" height="0.7" fill="#c04880"/><rect x="346.1" y="468.3" width="0.7" height="0.7" fill="#6a2a9e"/><rect x="342.9" y="485.7" width="0.7" height="0.7" fill="#c04880"/><rect x="307.8" y="478.7" width="0.7" height="0.7" fill="#c04880"/><rect x="352.4" y="463.8" width="0.7" height="0.7" fill="#c04880"/><rect x="327.5" y="461.0" width="0.7" height="0.7" fill="#a0309a"/><rect x="323.6" y="490.6" width="0.7" height="0.7" fill="#c04880"/><rect x="352.0" y="461.4" width="0.7" height="0.7" fill="#c04880"/><rect x="308.3" y="467.1" width="0.7" height="0.7" fill="#6a2a9e"/><rect x="323.0" y="490.3" width="0.7" height="0.7" fill="#a0309a"/><rect x="341.6" y="472.1" width="0.7" height="0.7" fill="#a0309a"/><rect x="329.5" y="466.9" width="0.7" height="0.7" fill="#7a2aa0"/><rect x="325.1" y="462.4" width="0.7" height="0.7" fill="#a0309a"/><rect x="329.5" y="462.6" width="0.7" height="0.7" fill="#c04880"/><rect x="335.5" y="493.1" width="0.7" height="0.7" fill="#c04880"/><rect x="338.5" y="484.0" width="0.7" height="0.7" fill="#6a2a9e"/><rect x="322.4" y="479.5" width="0.7" height="0.7" fill="#c04880"/><rect x="331.8" y="464.2" width="0.7" height="0.7" fill="#a0309a"/><rect x="328.3" y="470.6" width="0.7" height="0.7" fill="#c04880"/><rect x="331.4" y="481.8" width="0.7" height="0.7" fill="#c04880"/><rect x="343.6" y="462.0" width="0.7" height="0.7" fill="#c04880"/><rect x="337.0" y="478.3" width="0.7" height="0.7" fill="#7a2aa0"/><rect x="329.2" y="480.3" width="0.7" height="0.7" fill="#7a2aa0"/><rect x="311.8" y="467.7" width="0.7" height="0.7" fill="#7a2aa0"/><rect x="333.2" y="475.1" width="0.7" height="0.7" fill="#7a2aa0"/><rect x="335.3" y="497.2" width="0.7" height="0.7" fill="#7a2aa0"/><rect x="338.0" y="475.4" width="0.7" height="0.7" fill="#6a2a9e"/><rect x="348.0" y="467.6" width="0.7" height="0.7" fill="#a0309a"/><rect x="309.1" y="472.2" width="0.7" height="0.7" fill="#a0309a"/><rect x="326.7" y="470.6" width="0.7" height="0.7" fill="#7a2aa0"/><rect x="341.9" y="483.0" width="0.7" height="0.7" fill="#a0309a"/><rect x="347.3" y="466.8" width="0.7" height="0.7" fill="#7a2aa0"/><rect x="343.3" y="474.6" width="0.7" height="0.7" fill="#a0309a"/><rect x="340.3" y="477.4" width="0.7" height="0.7" fill="#6a2a9e"/><rect x="324.6" y="486.2" width="0.7" height="0.7" fill="#6a2a9e"/><rect x="342.0" y="478.3" width="0.7" height="0.7" fill="#a0309a"/><rect x="337.7" y="495.1" width="0.7" height="0.7" fill="#a0309a"/><rect x="315.4" y="466.8" width="0.7" height="0.7" fill="#a0309a"/><rect x="350.1" y="464.3" width="0.7" height="0.7" fill="#a0309a"/><rect x="344.2" y="471.0" width="0.7" height="0.7" fill="#7a2aa0"/><rect x="339.8" y="461.9" width="0.7" height="0.7" fill="#6a2a9e"/><rect x="344.5" y="465.7" width="0.7" height="0.7" fill="#6a2a9e"/><rect x="340.4" y="472.6" width="0.7" height="0.7" fill="#7a2aa0"/><rect x="323.8" y="460.9" width="0.7" height="0.7" fill="#c04880"/><rect x="329.4" y="490.9" width="0.7" height="0.7" fill="#c04880"/><rect x="326.6" y="483.7" width="0.7" height="0.7" fill="#c04880"/><rect x="329.4" y="490.1" width="0.7" height="0.7" fill="#a0309a"/><rect x="336.7" y="486.4" width="0.7" height="0.7" fill="#c04880"/><rect x="320.3" y="466.6" width="0.7" height="0.7" fill="#c04880"/><rect x="327.6" y="461.4" width="0.7" height="0.7" fill="#c04880"/><rect x="325.4" y="480.1" width="0.7" height="0.7" fill="#6a2a9e"/><rect x="349.1" y="463.8" width="0.7" height="0.7" fill="#6a2a9e"/><rect x="327.2" y="478.3" width="0.7" height="0.7" fill="#6a2a9e"/><rect x="334.0" y="481.3" width="0.7" height="0.7" fill="#6a2a9e"/><rect x="312.1" y="477.8" width="0.7" height="0.7" fill="#a0309a"/><rect x="335.3" y="465.0" width="0.7" height="0.7" fill="#6a2a9e"/><rect x="333.0" y="470.1" width="0.7" height="0.7" fill="#a0309a"/><rect x="337.3" y="483.4" width="0.7" height="0.7" fill="#7a2aa0"/><rect x="338.6" y="464.7" width="0.7" height="0.7" fill="#6a2a9e"/><rect x="326.1" y="468.3" width="0.7" height="0.7" fill="#7a2aa0"/><rect x="331.2" y="476.2" width="0.7" height="0.7" fill="#c04880"/><rect x="345.3" y="464.2" width="0.7" height="0.7" fill="#6a2a9e"/><rect x="332.5" y="470.4" width="0.7" height="0.7" fill="#a0309a"/><rect x="337.7" y="497.5" width="0.7" height="0.7" fill="#a0309a"/><rect x="333.0" y="469.7" width="0.7" height="0.7" fill="#c04880"/><rect x="325.2" y="466.9" width="0.7" height="0.7" fill="#c04880"/><rect x="344.5" y="470.5" width="0.7" height="0.7" fill="#7a2aa0"/><rect x="341.7" y="490.7" width="0.7" height="0.7" fill="#7a2aa0"/><rect x="332.1" y="464.6" width="0.7" height="0.7" fill="#6a2a9e"/><rect x="323.5" y="474.4" width="0.7" height="0.7" fill="#c04880"/><rect x="317.2" y="473.3" width="0.7" height="0.7" fill="#a0309a"/><rect x="324.3" y="469.3" width="0.7" height="0.7" fill="#a0309a"/><rect x="321.9" y="466.5" width="0.7" height="0.7" fill="#6a2a9e"/><rect x="332.1" y="469.1" width="0.7" height="0.7" fill="#c04880"/><rect x="329.4" y="478.1" width="0.7" height="0.7" fill="#a0309a"/><rect x="336.8" y="486.5" width="0.7" height="0.7" fill="#a0309a"/><rect x="323.3" y="487.0" width="0.7" height="0.7" fill="#c04880"/><rect x="320.4" y="469.4" width="0.7" height="0.7" fill="#6a2a9e"/><rect x="311.0" y="467.9" width="0.7" height="0.7" fill="#7a2aa0"/><rect x="347.6" y="469.5" width="0.7" height="0.7" fill="#a0309a"/><rect x="342.3" y="487.1" width="0.7" height="0.7" fill="#7a2aa0"/><rect x="336.4" y="484.6" width="0.7" height="0.7" fill="#7a2aa0"/><rect x="335.7" y="462.1" width="0.7" height="0.7" fill="#6a2a9e"/><rect x="330.5" y="468.0" width="0.7" height="0.7" fill="#7a2aa0"/><rect x="338.8" y="495.2" width="0.7" height="0.7" fill="#6a2a9e"/><rect x="328.6" y="461.1" width="0.7" height="0.7" fill="#a0309a"/><rect x="333.4" y="489.6" width="0.7" height="0.7" fill="#a0309a"/><rect x="335.9" y="491.4" width="0.7" height="0.7" fill="#6a2a9e"/><rect x="328.4" y="468.7" width="0.7" height="0.7" fill="#7a2aa0"/><rect x="334.9" y="495.4" width="0.7" height="0.7" fill="#c04880"/><rect x="320.4" y="472.1" width="0.7" height="0.7" fill="#c04880"/><rect x="312.6" y="473.2" width="0.7" height="0.7" fill="#a0309a"/><rect x="338.9" y="483.3" width="0.7" height="0.7" fill="#6a2a9e"/><rect x="327.5" y="466.0" width="0.7" height="0.7" fill="#a0309a"/><rect x="313.7" y="463.4" width="0.7" height="0.7" fill="#c04880"/><rect x="308.2" y="469.4" width="0.7" height="0.7" fill="#c04880"/><rect x="334.0" y="490.8" width="0.7" height="0.7" fill="#7a2aa0"/><rect x="350.0" y="460.5" width="0.7" height="0.7" fill="#a0309a"/><rect x="327.9" y="468.0" width="0.7" height="0.7" fill="#c04880"/><rect x="335.8" y="474.1" width="0.7" height="0.7" fill="#6a2a9e"/><rect x="330.3" y="489.7" width="0.7" height="0.7" fill="#7a2aa0"/><rect x="334.2" y="476.1" width="0.7" height="0.7" fill="#c04880"/><rect x="309.7" y="472.6" width="0.7" height="0.7" fill="#6a2a9e"/><rect x="344.4" y="465.5" width="0.7" height="0.7" fill="#6a2a9e"/><rect x="324.7" y="480.7" width="0.7" height="0.7" fill="#7a2aa0"/><rect x="348.1" y="466.0" width="0.7" height="0.7" fill="#c04880"/><rect x="330.9" y="480.9" width="0.7" height="0.7" fill="#7a2aa0"/><rect x="330.6" y="490.2" width="0.7" height="0.7" fill="#c04880"/><rect x="321.8" y="470.0" width="0.7" height="0.7" fill="#6a2a9e"/><rect x="329.2" y="470.2" width="0.7" height="0.7" fill="#a0309a"/><rect x="326.9" y="461.9" width="0.7" height="0.7" fill="#c04880"/><rect x="322.0" y="468.5" width="0.7" height="0.7" fill="#a0309a"/><rect x="305.3" y="466.7" width="0.7" height="0.7" fill="#6a2a9e"/><rect x="335.8" y="497.6" width="0.7" height="0.7" fill="#c04880"/><rect x="343.0" y="466.3" width="0.7" height="0.7" fill="#7a2aa0"/><rect x="342.4" y="481.9" width="0.7" height="0.7" fill="#c04880"/><rect x="329.0" y="486.1" width="0.7" height="0.7" fill="#6a2a9e"/><rect x="313.2" y="467.1" width="0.7" height="0.7" fill="#a0309a"/><rect x="335.6" y="491.9" width="0.7" height="0.7" fill="#7a2aa0"/><rect x="340.7" y="472.7" width="0.7" height="0.7" fill="#7a2aa0"/><rect x="322.8" y="475.1" width="0.7" height="0.7" fill="#c04880"/><rect x="321.4" y="469.5" width="0.7" height="0.7" fill="#6a2a9e"/><rect x="327.9" y="470.9" width="0.7" height="0.7" fill="#7a2aa0"/><rect x="340.8" y="484.7" width="0.7" height="0.7" fill="#7a2aa0"/><rect x="336.4" y="471.5" width="0.7" height="0.7" fill="#6a2a9e"/><rect x="337.8" y="482.6" width="0.7" height="0.7" fill="#a0309a"/><rect x="320.8" y="466.3" width="0.7" height="0.7" fill="#a0309a"/><rect x="326.6" y="484.1" width="0.7" height="0.7" fill="#7a2aa0"/><rect x="336.9" y="482.4" width="0.7" height="0.7" fill="#a0309a"/><rect x="333.4" y="483.1" width="0.7" height="0.7" fill="#6a2a9e"/><rect x="309.1" y="477.1" width="0.7" height="0.7" fill="#7a2aa0"/><rect x="334.1" y="463.3" width="0.7" height="0.7" fill="#c04880"/><rect x="328.2" y="475.8" width="0.7" height="0.7" fill="#c04880"/><rect x="330.0" y="492.2" width="0.7" height="0.7" fill="#7a2aa0"/><rect x="321.6" y="463.6" width="0.7" height="0.7" fill="#7a2aa0"/><rect x="341.1" y="478.0" width="0.7" height="0.7" fill="#6a2a9e"/><rect x="340.1" y="490.0" width="0.7" height="0.7" fill="#6a2a9e"/><rect x="340.1" y="466.2" width="0.7" height="0.7" fill="#6a2a9e"/><rect x="308.5" y="478.9" width="0.7" height="0.7" fill="#7a2aa0"/><rect x="327.3" y="480.2" width="0.7" height="0.7" fill="#c04880"/><rect x="332.6" y="482.6" width="0.7" height="0.7" fill="#7a2aa0"/><rect x="325.9" y="480.9" width="0.7" height="0.7" fill="#c04880"/><rect x="346.1" y="461.5" width="0.7" height="0.7" fill="#7a2aa0"/><rect x="333.0" y="473.0" width="0.7" height="0.7" fill="#6a2a9e"/><rect x="327.6" y="478.6" width="0.7" height="0.7" fill="#7a2aa0"/><rect x="339.1" y="470.3" width="0.7" height="0.7" fill="#6a2a9e"/><rect x="315.8" y="467.9" width="0.7" height="0.7" fill="#c04880"/><rect x="340.8" y="463.5" width="0.7" height="0.7" fill="#a0309a"/><rect x="323.8" y="476.9" width="0.7" height="0.7" fill="#6a2a9e"/><rect x="333.1" y="484.7" width="0.7" height="0.7" fill="#a0309a"/><rect x="338.7" y="466.5" width="0.7" height="0.7" fill="#6a2a9e"/><rect x="347.2" y="470.0" width="0.7" height="0.7" fill="#6a2a9e"/><rect x="307.0" y="473.0" width="0.7" height="0.7" fill="#6a2a9e"/><rect x="345.9" y="463.7" width="0.7" height="0.7" fill="#6a2a9e"/><rect x="313.4" y="477.4" width="0.7" height="0.7" fill="#a0309a"/><rect x="319.1" y="465.2" width="0.7" height="0.7" fill="#a0309a"/><rect x="333.9" y="472.1" width="0.7" height="0.7" fill="#c04880"/><rect x="336.6" y="483.6" width="0.7" height="0.7" fill="#7a2aa0"/><rect x="340.8" y="482.2" width="0.7" height="0.7" fill="#7a2aa0"/><rect x="314.3" y="477.8" width="0.7" height="0.7" fill="#7a2aa0"/><rect x="315.3" y="478.7" width="0.7" height="0.7" fill="#6a2a9e"/><rect x="326.0" y="466.8" width="0.7" height="0.7" fill="#7a2aa0"/><rect x="327.1" y="484.0" width="0.7" height="0.7" fill="#c04880"/><rect x="317.0" y="470.7" width="0.7" height="0.7" fill="#6a2a9e"/><rect x="340.5" y="462.3" width="0.7" height="0.7" fill="#a0309a"/><rect x="332.5" y="469.0" width="0.7" height="0.7" fill="#c04880"/><rect x="334.8" y="477.1" width="0.7" height="0.7" fill="#6a2a9e"/><rect x="333.7" y="466.0" width="0.7" height="0.7" fill="#6a2a9e"/><rect x="337.4" y="495.5" width="0.7" height="0.7" fill="#6a2a9e"/><rect x="334.3" y="491.5" width="0.7" height="0.7" fill="#c04880"/><rect x="334.8" y="464.8" width="0.7" height="0.7" fill="#6a2a9e"/><rect x="333.3" y="467.0" width="0.7" height="0.7" fill="#c04880"/><rect x="335.7" y="491.7" width="0.7" height="0.7" fill="#7a2aa0"/><rect x="339.9" y="471.9" width="0.7" height="0.7" fill="#c04880"/><rect x="318.3" y="468.9" width="0.7" height="0.7" fill="#7a2aa0"/><rect x="343.2" y="489.3" width="0.7" height="0.7" fill="#7a2aa0"/><rect x="329.0" y="486.4" width="0.7" height="0.7" fill="#c04880"/><rect x="316.9" y="476.1" width="0.7" height="0.7" fill="#c04880"/><rect x="323.1" y="464.1" width="0.7" height="0.7" fill="#6a2a9e"/><rect x="309.6" y="471.7" width="0.7" height="0.7" fill="#c04880"/><rect x="342.9" y="462.4" width="0.7" height="0.7" fill="#c04880"/><rect x="318.5" y="467.1" width="0.7" height="0.7" fill="#c04880"/><rect x="333.5" y="478.5" width="0.7" height="0.7" fill="#a0309a"/><rect x="331.4" y="461.5" width="0.7" height="0.7" fill="#7a2aa0"/><rect x="313.4" y="474.8" width="0.7" height="0.7" fill="#c04880"/><rect x="334.7" y="475.3" width="0.7" height="0.7" fill="#6a2a9e"/><rect x="340.9" y="490.1" width="0.7" height="0.7" fill="#7a2aa0"/><rect x="326.8" y="475.0" width="0.7" height="0.7" fill="#7a2aa0"/><rect x="323.4" y="473.9" width="0.7" height="0.7" fill="#c04880"/><rect x="319.9" y="474.9" width="0.7" height="0.7" fill="#a0309a"/><rect x="313.2" y="467.5" width="0.7" height="0.7" fill="#c04880"/><rect x="340.6" y="486.0" width="0.7" height="0.7" fill="#c04880"/><rect x="342.6" y="489.6" width="0.7" height="0.7" fill="#a0309a"/><rect x="349.0" y="459.9" width="0.7" height="0.7" fill="#a0309a"/><rect x="344.2" y="484.6" width="0.7" height="0.7" fill="#c04880"/><rect x="315.9" y="476.0" width="0.7" height="0.7" fill="#6a2a9e"/><g clip-path="url(#clipCD34)"><rect x="328.6" y="476.4" width="1.0" height="1.0" fill="#e0603a"/><rect x="338.6" y="475.2" width="1.0" height="1.0" fill="#f8c030"/><rect x="320.4" y="466.7" width="1.0" height="1.0" fill="#c03a80"/><rect x="321.2" y="475.3" width="1.0" height="1.0" fill="#f8c030"/><rect x="321.2" y="464.6" width="1.0" height="1.0" fill="#f8c030"/><rect x="321.9" y="475.6" width="1.0" height="1.0" fill="#e0603a"/><rect x="337.3" y="471.1" width="1.0" height="1.0" fill="#f09030"/><rect x="336.6" y="475.4" width="1.0" height="1.0" fill="#c03a80"/><rect x="328.2" y="474.1" width="1.0" height="1.0" fill="#c03a80"/><rect x="326.7" y="470.8" width="1.0" height="1.0" fill="#f09030"/><rect x="333.1" y="468.6" width="1.0" height="1.0" fill="#e0603a"/><rect x="317.4" y="468.8" width="1.0" height="1.0" fill="#f8c030"/><rect x="340.3" y="473.0" width="1.0" height="1.0" fill="#f8c030"/><rect x="340.1" y="469.9" width="1.0" height="1.0" fill="#f8c030"/><rect x="328.6" y="465.2" width="1.0" height="1.0" fill="#f09030"/><rect x="340.1" y="474.5" width="1.0" height="1.0" fill="#e0603a"/><rect x="329.2" y="471.9" width="1.0" height="1.0" fill="#f09030"/><rect x="324.5" y="464.5" width="1.0" height="1.0" fill="#f09030"/><rect x="340.7" y="473.6" width="1.0" height="1.0" fill="#c03a80"/><rect x="319.5" y="469.4" width="1.0" height="1.0" fill="#f09030"/><rect x="316.6" y="469.9" width="1.0" height="1.0" fill="#f09030"/><rect x="317.1" y="469.3" width="1.0" height="1.0" fill="#e0603a"/><rect x="331.7" y="475.9" width="1.0" height="1.0" fill="#f09030"/><rect x="334.3" y="463.9" width="1.0" height="1.0" fill="#c03a80"/><rect x="326.4" y="464.1" width="1.0" height="1.0" fill="#f09030"/><rect x="339.3" y="470.0" width="1.0" height="1.0" fill="#f09030"/><rect x="336.4" y="473.2" width="1.0" height="1.0" fill="#f8c030"/><rect x="337.5" y="471.6" width="1.0" height="1.0" fill="#c03a80"/><rect x="329.0" y="466.0" width="1.0" height="1.0" fill="#f8c030"/><rect x="328.9" y="466.5" width="1.0" height="1.0" fill="#e0603a"/><rect x="330.9" y="476.7" width="1.0" height="1.0" fill="#c03a80"/><rect x="336.2" y="469.6" width="1.0" height="1.0" fill="#f8c030"/><rect x="321.8" y="467.3" width="1.0" height="1.0" fill="#e0603a"/><rect x="331.2" y="475.4" width="1.0" height="1.0" fill="#c03a80"/><rect x="325.4" y="469.0" width="1.0" height="1.0" fill="#c03a80"/><rect x="338.5" y="473.7" width="1.0" height="1.0" fill="#f09030"/><rect x="328.8" y="475.3" width="1.0" height="1.0" fill="#c03a80"/><rect x="327.2" y="472.3" width="1.0" height="1.0" fill="#c03a80"/><rect x="319.6" y="470.0" width="1.0" height="1.0" fill="#e0603a"/><rect x="322.6" y="475.2" width="1.0" height="1.0" fill="#e0603a"/><rect x="338.7" y="468.5" width="1.0" height="1.0" fill="#c03a80"/><rect x="338.9" y="474.0" width="1.0" height="1.0" fill="#e0603a"/><rect x="327.4" y="468.6" width="1.0" height="1.0" fill="#f09030"/><rect x="336.7" y="469.0" width="1.0" height="1.0" fill="#c03a80"/><rect x="319.3" y="472.8" width="1.0" height="1.0" fill="#e0603a"/><rect x="336.6" y="472.4" width="1.0" height="1.0" fill="#f09030"/><rect x="331.3" y="471.5" width="1.0" height="1.0" fill="#e0603a"/><rect x="325.7" y="465.9" width="1.0" height="1.0" fill="#e0603a"/><rect x="337.3" y="471.8" width="1.0" height="1.0" fill="#f09030"/><rect x="324.1" y="463.9" width="1.0" height="1.0" fill="#f09030"/><rect x="323.9" y="475.0" width="1.0" height="1.0" fill="#f8c030"/><rect x="332.2" y="468.6" width="1.0" height="1.0" fill="#f09030"/><rect x="339.9" y="468.4" width="1.0" height="1.0" fill="#f09030"/><rect x="329.3" y="466.0" width="1.0" height="1.0" fill="#f09030"/><rect x="328.3" y="471.9" width="1.0" height="1.0" fill="#e0603a"/><rect x="326.9" y="470.6" width="1.0" height="1.0" fill="#f8c030"/><rect x="334.7" y="474.2" width="1.0" height="1.0" fill="#c03a80"/><rect x="321.8" y="470.5" width="1.0" height="1.0" fill="#c03a80"/><rect x="333.7" y="466.8" width="1.0" height="1.0" fill="#f8c030"/><rect x="316.8" y="471.0" width="1.0" height="1.0" fill="#c03a80"/><rect x="332.1" y="475.4" width="1.0" height="1.0" fill="#e0603a"/><rect x="337.3" y="473.7" width="1.0" height="1.0" fill="#c03a80"/><rect x="333.3" y="468.8" width="1.0" height="1.0" fill="#e0603a"/><rect x="329.1" y="470.6" width="1.0" height="1.0" fill="#f09030"/><rect x="333.2" y="466.4" width="1.0" height="1.0" fill="#f8c030"/><rect x="323.1" y="466.6" width="1.0" height="1.0" fill="#c03a80"/><rect x="326.5" y="474.3" width="1.0" height="1.0" fill="#e0603a"/><rect x="321.2" y="468.5" width="1.0" height="1.0" fill="#f09030"/><rect x="328.9" y="473.6" width="1.0" height="1.0" fill="#f09030"/><rect x="340.6" y="467.9" width="1.0" height="1.0" fill="#f8c030"/><rect x="333.1" y="467.5" width="1.0" height="1.0" fill="#f8c030"/><rect x="322.6" y="466.6" width="1.0" height="1.0" fill="#f8c030"/><rect x="335.9" y="468.5" width="1.0" height="1.0" fill="#c03a80"/><rect x="325.8" y="473.8" width="1.0" height="1.0" fill="#e0603a"/><rect x="327.2" y="463.4" width="1.0" height="1.0" fill="#e0603a"/><rect x="318.0" y="467.9" width="1.0" height="1.0" fill="#f8c030"/><rect x="328.3" y="474.4" width="1.0" height="1.0" fill="#f8c030"/><rect x="317.0" y="470.1" width="1.0" height="1.0" fill="#c03a80"/><rect x="338.3" y="471.5" width="1.0" height="1.0" fill="#e0603a"/><rect x="320.7" y="468.2" width="1.0" height="1.0" fill="#f8c030"/><rect x="322.2" y="466.4" width="1.0" height="1.0" fill="#f8c030"/><rect x="322.7" y="473.1" width="1.0" height="1.0" fill="#c03a80"/><rect x="336.5" y="475.4" width="1.0" height="1.0" fill="#c03a80"/><rect x="342.0" y="471.5" width="1.0" height="1.0" fill="#c03a80"/><rect x="327.8" y="471.0" width="1.0" height="1.0" fill="#c03a80"/><rect x="335.7" y="472.4" width="1.0" height="1.0" fill="#f09030"/><rect x="328.2" y="471.6" width="1.0" height="1.0" fill="#c03a80"/><rect x="325.5" y="471.1" width="1.0" height="1.0" fill="#e0603a"/><rect x="326.9" y="464.6" width="1.0" height="1.0" fill="#f09030"/><rect x="323.2" y="468.5" width="1.0" height="1.0" fill="#e0603a"/></g><rect x="313.6" y="448.6" width="0.7" height="0.7" fill="#6a2a9e"/><rect x="316.8" y="445.1" width="0.7" height="0.7" fill="#6a2a9e"/><rect x="314.7" y="421.8" width="0.7" height="0.7" fill="#a0309a"/><rect x="317.4" y="443.8" width="0.7" height="0.7" fill="#a0309a"/><rect x="313.5" y="447.0" width="0.7" height="0.7" fill="#6a2a9e"/><rect x="315.1" y="447.6" width="0.7" height="0.7" fill="#6a2a9e"/><rect x="322.4" y="439.9" width="0.7" height="0.7" fill="#6a2a9e"/><rect x="317.5" y="423.8" width="0.7" height="0.7" fill="#6a2a9e"/><rect x="313.2" y="446.7" width="0.7" height="0.7" fill="#a0309a"/><rect x="320.7" y="439.7" width="0.7" height="0.7" fill="#a0309a"/><rect x="313.0" y="439.3" width="0.7" height="0.7" fill="#a0309a"/><rect x="310.8" y="442.0" width="0.7" height="0.7" fill="#a0309a"/><rect x="311.9" y="434.9" width="0.7" height="0.7" fill="#a0309a"/><rect x="309.6" y="421.1" width="0.7" height="0.7" fill="#a0309a"/><rect x="314.0" y="426.4" width="0.5" height="0.5" fill="#fff"/><rect x="310.5" y="440.2" width="0.5" height="0.5" fill="#fff"/><rect x="317.4" y="443.2" width="0.5" height="0.5" fill="#fff"/><rect x="315.8" y="442.1" width="0.5" height="0.5" fill="#fff"/><rect x="308.8" y="423.7" width="0.5" height="0.5" fill="#fff"/><rect x="320.4" y="448.7" width="0.5" height="0.5" fill="#fff"/><rect x="314.3" y="425.9" width="0.5" height="0.5" fill="#fff"/><rect x="311.8" y="443.5" width="0.5" height="0.5" fill="#fff"/><rect x="313.4" y="438.7" width="0.5" height="0.5" fill="#fff"/><rect x="316.6" y="433.6" width="0.5" height="0.5" fill="#fff"/><rect x="314.7" y="440.5" width="0.5" height="0.5" fill="#fff"/><rect x="307.7" y="429.5" width="0.5" height="0.5" fill="#fff"/><rect x="324.8" y="437.4" width="0.5" height="0.5" fill="#fff"/><rect x="321.2" y="445.3" width="0.5" height="0.5" fill="#fff"/><rect x="306.3" y="430.0" width="0.5" height="0.5" fill="#fff"/><rect x="309.9" y="440.8" width="0.5" height="0.5" fill="#fff"/><rect x="318.4" y="435.4" width="0.5" height="0.5" fill="#fff"/><rect x="312.9" y="437.5" width="0.5" height="0.5" fill="#fff"/><rect x="315.5" y="424.9" width="0.5" height="0.5" fill="#fff"/><rect x="315.9" y="447.7" width="0.5" height="0.5" fill="#fff"/><rect x="321.9" y="442.8" width="0.5" height="0.5" fill="#fff"/><rect x="316.9" y="438.8" width="0.5" height="0.5" fill="#fff"/><rect x="306.1" y="430.0" width="0.5" height="0.5" fill="#fff"/><rect x="312.5" y="445.4" width="0.5" height="0.5" fill="#fff"/><rect x="307.1" y="425.9" width="0.5" height="0.5" fill="#fff"/><rect x="310.0" y="425.4" width="0.5" height="0.5" fill="#fff"/><rect x="312.1" y="447.4" width="0.5" height="0.5" fill="#fff"/><rect x="306.7" y="429.3" width="0.5" height="0.5" fill="#fff"/><rect x="317.3" y="435.1" width="0.5" height="0.5" fill="#fff"/><rect x="315.9" y="431.3" width="0.5" height="0.5" fill="#fff"/><rect x="325.9" y="464.5" width="0.45" height="0.45" fill="#fff"/><rect x="328.3" y="481.6" width="0.45" height="0.45" fill="#fff"/><rect x="337.7" y="482.0" width="0.45" height="0.45" fill="#fff"/><rect x="349.8" y="462.3" width="0.45" height="0.45" fill="#fff"/><rect x="339.4" y="482.0" width="0.45" height="0.45" fill="#fff"/><rect x="336.3" y="467.4" width="0.45" height="0.45" fill="#fff"/><rect x="337.7" y="487.4" width="0.45" height="0.45" fill="#fff"/><rect x="339.1" y="481.3" width="0.45" height="0.45" fill="#fff"/><rect x="342.6" y="479.0" width="0.45" height="0.45" fill="#fff"/><rect x="335.5" y="465.5" width="0.45" height="0.45" fill="#fff"/><rect x="322.8" y="467.9" width="0.45" height="0.45" fill="#fff"/><rect x="336.6" y="484.6" width="0.45" height="0.45" fill="#fff"/><rect x="311.7" y="470.8" width="0.45" height="0.45" fill="#fff"/><rect x="333.6" y="474.1" width="0.45" height="0.45" fill="#fff"/><rect x="332.2" y="478.8" width="0.45" height="0.45" fill="#fff"/><rect x="318.2" y="478.9" width="0.45" height="0.45" fill="#fff"/><rect x="346.5" y="462.9" width="0.45" height="0.45" fill="#fff"/><rect x="337.3" y="468.9" width="0.45" height="0.45" fill="#fff"/><rect x="313.0" y="470.3" width="0.45" height="0.45" fill="#fff"/><rect x="325.8" y="484.3" width="0.45" height="0.45" fill="#fff"/><rect x="339.7" y="468.7" width="0.45" height="0.45" fill="#fff"/><rect x="316.5" y="471.6" width="0.45" height="0.45" fill="#fff"/><rect x="321.7" y="476.6" width="0.45" height="0.45" fill="#fff"/><rect x="323.7" y="476.4" width="0.45" height="0.45" fill="#fff"/><rect x="322.7" y="479.9" width="0.45" height="0.45" fill="#fff"/>
<path d="M313.3 453.6 L313.3 462.2 M311.4 459.8 L313.3 462.4 L315.2 459.8" fill="none" stroke="#333" stroke-width="0.8"/>
<path d="M348.2 451.4 L348.2 459.4 M346.5 457.2 L348.2 459.6 L349.9 457.2" fill="none" stroke="#e03030" stroke-width="0.7"/>
</g>
<g transform="translate(0 0)">
<rect x="347.2" y="418.6" width="5.2" height="24" fill="url(#plasma)"/>
<text x="355.60" y="424.10" font-size="7.0" text-anchor="start" fill="#231f20" >1.5</text>
<text x="355.60" y="431.23" font-size="7.0" text-anchor="start" fill="#231f20" >1.0</text>
<text x="355.60" y="438.37" font-size="7.0" text-anchor="start" fill="#231f20" >0.5</text>
<text x="355.60" y="445.50" font-size="7.0" text-anchor="start" fill="#231f20" >0.0</text>
</g>
</g>
<g transform="translate(0 0)">
<text x="309.00" y="550.50" font-size="9.6" text-anchor="middle" fill="#231f20" >AVP</text>
<line x1="262.00" y1="558.20" x2="262.00" y2="643.40" stroke="#231f20" stroke-width="1.1" />
<line x1="261.50" y1="642.90" x2="351.20" y2="642.90" stroke="#231f20" stroke-width="1.1" />
<line x1="259.20" y1="580.60" x2="262.00" y2="580.60" stroke="#231f20" stroke-width="0.9" />
<text x="256.60" y="583.40" font-size="7.6" text-anchor="end" fill="#231f20" >10</text>
<line x1="259.20" y1="609.30" x2="262.00" y2="609.30" stroke="#231f20" stroke-width="0.9" />
<text x="256.60" y="612.10" font-size="7.6" text-anchor="end" fill="#231f20" >0</text>
<line x1="259.20" y1="638.10" x2="262.00" y2="638.10" stroke="#231f20" stroke-width="0.9" />
<text x="256.60" y="640.90" font-size="7.6" text-anchor="end" fill="#231f20" >&#8722;10</text>
<line x1="280.25" y1="642.90" x2="280.25" y2="645.60" stroke="#231f20" stroke-width="0.9" />
<text x="277.65" y="654.60" font-size="7.6" text-anchor="middle" fill="#231f20" >&#8722;10</text>
<line x1="300.40" y1="642.90" x2="300.40" y2="645.60" stroke="#231f20" stroke-width="0.9" />
<text x="297.80" y="654.60" font-size="7.6" text-anchor="middle" fill="#231f20" >&#8722;5</text>
<line x1="320.60" y1="642.90" x2="320.60" y2="645.60" stroke="#231f20" stroke-width="0.9" />
<text x="320.60" y="654.60" font-size="7.6" text-anchor="middle" fill="#231f20" >0</text>
<line x1="340.80" y1="642.90" x2="340.80" y2="645.60" stroke="#231f20" stroke-width="0.9" />
<text x="340.80" y="654.60" font-size="7.6" text-anchor="middle" fill="#231f20" >5</text>
<text x="308.70" y="667.30" font-size="8.8" text-anchor="middle" fill="#231f20" textLength="21.4" lengthAdjust="spacingAndGlyphs" stroke="#231f20" stroke-width="0.25">UMAP 1</text>
<text x="0" y="0" font-size="8.8" text-anchor="middle" fill="#231f20" textLength="21.4" lengthAdjust="spacingAndGlyphs" stroke="#231f20" stroke-width="0.25" transform="translate(236.8 600.6) rotate(-90)">UMAP 2</text>
<g transform="translate(0 140.8)">
<clipPath id="clipAVP"><path d="M305.0 427.8 L306.7 425.1 L309.1 420.4 L310.8 419.4 L313.5 421.1 L316.8 421.7 L318.5 423.7 L319.5 427.1 L318.8 430.5 L320.2 433.8 L322.2 436.5 L325.6 436.5 L328.3 437.9 L327.9 439.9 L323.6 443.3 L322.2 446.6 L319.5 450.0 L315.5 451.3 L312.4 449.3 L310.8 445.3 L309.4 441.9 L310.1 439.2 L311.1 435.2 L313.5 433.2 L315.5 431.8 L312.1 430.5 L307.4 431.2 L305.4 429.8Z M305.4 450.5 L307.5 447.3 L309.4 449.0 L307.5 452.0Z M285.2 454.3 L288.7 454.0 L289.5 457.2 L292.1 459.5 L292.7 461.8 L295.0 463.5 L297.3 463.8 L299.6 465.3 L301.9 467.0 L304.8 468.2 L310.0 466.4 L310.0 471.0 L305.4 471.0 L301.3 469.3 L297.3 468.7 L293.8 468.4 L291.0 468.4 L289.8 467.3 L291.5 465.8 L289.8 463.0 L286.9 460.1 L285.5 457.8 L284.9 455.5Z M276.5 466.3 L278.5 466.6 L280.6 468.5 L281.7 469.3 L283.5 471.2 L285.8 473.0 L288.7 474.5 L291.5 475.3 L295.0 474.8 L299.0 474.0 L303.1 472.6 L306.0 472.0 L307.7 473.9 L307.1 477.4 L304.2 476.8 L300.2 477.4 L297.3 478.0 L295.6 480.3 L294.4 483.5 L293.3 480.0 L291.0 477.4 L288.1 476.4 L284.6 475.3 L282.0 473.0 L279.5 470.0 L277.0 468.0Z M275.0 480.0 L276.0 480.3 L276.3 482.5 L278.5 484.0 L281.0 483.0 L284.0 481.5 L286.2 480.2 L286.6 481.0 L284.0 483.3 L281.0 485.5 L278.5 487.5 L277.0 488.3 L276.3 486.5 L275.2 484.0Z M304.6 466.0 L309.2 464.2 L313.8 462.8 L318.5 462.2 L323.1 460.8 L324.8 460.2 L330.0 461.3 L336.9 461.9 L341.5 461.3 L345.0 460.2 L348.5 459.6 L351.9 460.2 L353.7 463.1 L352.5 466.5 L348.5 470.0 L343.8 472.3 L343.3 475.8 L344.4 481.5 L344.4 487.3 L343.3 490.8 L339.8 491.9 L339.2 494.8 L338.1 498.3 L334.6 498.8 L332.3 496.0 L330.6 493.1 L328.8 490.8 L327.1 488.5 L326.0 488.5 L324.8 490.8 L323.1 493.1 L320.2 492.5 L319.6 489.6 L321.3 486.7 L324.2 485.0 L325.4 481.5 L321.9 479.8 L317.3 479.2 L313.8 480.4 L311.5 481.5 L308.1 481.0 L306.9 478.7 L308.7 476.9 L311.5 475.8 L309.0 474.5 L306.5 473.5 L305.5 472.5 L307.7 471.0 L310.0 471.0 L306.0 469.5Z"/></clipPath><path d="M305.0 427.8 L306.7 425.1 L309.1 420.4 L310.8 419.4 L313.5 421.1 L316.8 421.7 L318.5 423.7 L319.5 427.1 L318.8 430.5 L320.2 433.8 L322.2 436.5 L325.6 436.5 L328.3 437.9 L327.9 439.9 L323.6 443.3 L322.2 446.6 L319.5 450.0 L315.5 451.3 L312.4 449.3 L310.8 445.3 L309.4 441.9 L310.1 439.2 L311.1 435.2 L313.5 433.2 L315.5 431.8 L312.1 430.5 L307.4 431.2 L305.4 429.8Z M305.4 450.5 L307.5 447.3 L309.4 449.0 L307.5 452.0Z M285.2 454.3 L288.7 454.0 L289.5 457.2 L292.1 459.5 L292.7 461.8 L295.0 463.5 L297.3 463.8 L299.6 465.3 L301.9 467.0 L304.8 468.2 L310.0 466.4 L310.0 471.0 L305.4 471.0 L301.3 469.3 L297.3 468.7 L293.8 468.4 L291.0 468.4 L289.8 467.3 L291.5 465.8 L289.8 463.0 L286.9 460.1 L285.5 457.8 L284.9 455.5Z M276.5 466.3 L278.5 466.6 L280.6 468.5 L281.7 469.3 L283.5 471.2 L285.8 473.0 L288.7 474.5 L291.5 475.3 L295.0 474.8 L299.0 474.0 L303.1 472.6 L306.0 472.0 L307.7 473.9 L307.1 477.4 L304.2 476.8 L300.2 477.4 L297.3 478.0 L295.6 480.3 L294.4 483.5 L293.3 480.0 L291.0 477.4 L288.1 476.4 L284.6 475.3 L282.0 473.0 L279.5 470.0 L277.0 468.0Z M275.0 480.0 L276.0 480.3 L276.3 482.5 L278.5 484.0 L281.0 483.0 L284.0 481.5 L286.2 480.2 L286.6 481.0 L284.0 483.3 L281.0 485.5 L278.5 487.5 L277.0 488.3 L276.3 486.5 L275.2 484.0Z M304.6 466.0 L309.2 464.2 L313.8 462.8 L318.5 462.2 L323.1 460.8 L324.8 460.2 L330.0 461.3 L336.9 461.9 L341.5 461.3 L345.0 460.2 L348.5 459.6 L351.9 460.2 L353.7 463.1 L352.5 466.5 L348.5 470.0 L343.8 472.3 L343.3 475.8 L344.4 481.5 L344.4 487.3 L343.3 490.8 L339.8 491.9 L339.2 494.8 L338.1 498.3 L334.6 498.8 L332.3 496.0 L330.6 493.1 L328.8 490.8 L327.1 488.5 L326.0 488.5 L324.8 490.8 L323.1 493.1 L320.2 492.5 L319.6 489.6 L321.3 486.7 L324.2 485.0 L325.4 481.5 L321.9 479.8 L317.3 479.2 L313.8 480.4 L311.5 481.5 L308.1 481.0 L306.9 478.7 L308.7 476.9 L311.5 475.8 L309.0 474.5 L306.5 473.5 L305.5 472.5 L307.7 471.0 L310.0 471.0 L306.0 469.5Z" fill="#24136e"/><path d="M305.0 427.8 L306.7 425.1 L309.1 420.4 L310.8 419.4 L313.5 421.1 L316.8 421.7 L318.5 423.7 L319.5 427.1 L318.8 430.5 L320.2 433.8 L322.2 436.5 L325.6 436.5 L328.3 437.9 L327.9 439.9 L323.6 443.3 L322.2 446.6 L319.5 450.0 L315.5 451.3 L312.4 449.3 L310.8 445.3 L309.4 441.9 L310.1 439.2 L311.1 435.2 L313.5 433.2 L315.5 431.8 L312.1 430.5 L307.4 431.2 L305.4 429.8Z M305.4 450.5 L307.5 447.3 L309.4 449.0 L307.5 452.0Z M285.2 454.3 L288.7 454.0 L289.5 457.2 L292.1 459.5 L292.7 461.8 L295.0 463.5 L297.3 463.8 L299.6 465.3 L301.9 467.0 L304.8 468.2 L310.0 466.4 L310.0 471.0 L305.4 471.0 L301.3 469.3 L297.3 468.7 L293.8 468.4 L291.0 468.4 L289.8 467.3 L291.5 465.8 L289.8 463.0 L286.9 460.1 L285.5 457.8 L284.9 455.5Z M276.5 466.3 L278.5 466.6 L280.6 468.5 L281.7 469.3 L283.5 471.2 L285.8 473.0 L288.7 474.5 L291.5 475.3 L295.0 474.8 L299.0 474.0 L303.1 472.6 L306.0 472.0 L307.7 473.9 L307.1 477.4 L304.2 476.8 L300.2 477.4 L297.3 478.0 L295.6 480.3 L294.4 483.5 L293.3 480.0 L291.0 477.4 L288.1 476.4 L284.6 475.3 L282.0 473.0 L279.5 470.0 L277.0 468.0Z M275.0 480.0 L276.0 480.3 L276.3 482.5 L278.5 484.0 L281.0 483.0 L284.0 481.5 L286.2 480.2 L286.6 481.0 L284.0 483.3 L281.0 485.5 L278.5 487.5 L277.0 488.3 L276.3 486.5 L275.2 484.0Z M304.6 466.0 L309.2 464.2 L313.8 462.8 L318.5 462.2 L323.1 460.8 L324.8 460.2 L330.0 461.3 L336.9 461.9 L341.5 461.3 L345.0 460.2 L348.5 459.6 L351.9 460.2 L353.7 463.1 L352.5 466.5 L348.5 470.0 L343.8 472.3 L343.3 475.8 L344.4 481.5 L344.4 487.3 L343.3 490.8 L339.8 491.9 L339.2 494.8 L338.1 498.3 L334.6 498.8 L332.3 496.0 L330.6 493.1 L328.8 490.8 L327.1 488.5 L326.0 488.5 L324.8 490.8 L323.1 493.1 L320.2 492.5 L319.6 489.6 L321.3 486.7 L324.2 485.0 L325.4 481.5 L321.9 479.8 L317.3 479.2 L313.8 480.4 L311.5 481.5 L308.1 481.0 L306.9 478.7 L308.7 476.9 L311.5 475.8 L309.0 474.5 L306.5 473.5 L305.5 472.5 L307.7 471.0 L310.0 471.0 L306.0 469.5Z" fill="#36209a" transform="translate(320.7 468.3) scale(0.985) translate(-320.7 -468.3)" opacity="0"/><g clip-path="url(#clipAVP)"><path d="M305.0 427.8 L306.7 425.1 L309.1 420.4 L310.8 419.4 L313.5 421.1 L316.8 421.7 L318.5 423.7 L319.5 427.1 L318.8 430.5 L320.2 433.8 L322.2 436.5 L325.6 436.5 L328.3 437.9 L327.9 439.9 L323.6 443.3 L322.2 446.6 L319.5 450.0 L315.5 451.3 L312.4 449.3 L310.8 445.3 L309.4 441.9 L310.1 439.2 L311.1 435.2 L313.5 433.2 L315.5 431.8 L312.1 430.5 L307.4 431.2 L305.4 429.8Z M305.4 450.5 L307.5 447.3 L309.4 449.0 L307.5 452.0Z M285.2 454.3 L288.7 454.0 L289.5 457.2 L292.1 459.5 L292.7 461.8 L295.0 463.5 L297.3 463.8 L299.6 465.3 L301.9 467.0 L304.8 468.2 L310.0 466.4 L310.0 471.0 L305.4 471.0 L301.3 469.3 L297.3 468.7 L293.8 468.4 L291.0 468.4 L289.8 467.3 L291.5 465.8 L289.8 463.0 L286.9 460.1 L285.5 457.8 L284.9 455.5Z M276.5 466.3 L278.5 466.6 L280.6 468.5 L281.7 469.3 L283.5 471.2 L285.8 473.0 L288.7 474.5 L291.5 475.3 L295.0 474.8 L299.0 474.0 L303.1 472.6 L306.0 472.0 L307.7 473.9 L307.1 477.4 L304.2 476.8 L300.2 477.4 L297.3 478.0 L295.6 480.3 L294.4 483.5 L293.3 480.0 L291.0 477.4 L288.1 476.4 L284.6 475.3 L282.0 473.0 L279.5 470.0 L277.0 468.0Z M275.0 480.0 L276.0 480.3 L276.3 482.5 L278.5 484.0 L281.0 483.0 L284.0 481.5 L286.2 480.2 L286.6 481.0 L284.0 483.3 L281.0 485.5 L278.5 487.5 L277.0 488.3 L276.3 486.5 L275.2 484.0Z M304.6 466.0 L309.2 464.2 L313.8 462.8 L318.5 462.2 L323.1 460.8 L324.8 460.2 L330.0 461.3 L336.9 461.9 L341.5 461.3 L345.0 460.2 L348.5 459.6 L351.9 460.2 L353.7 463.1 L352.5 466.5 L348.5 470.0 L343.8 472.3 L343.3 475.8 L344.4 481.5 L344.4 487.3 L343.3 490.8 L339.8 491.9 L339.2 494.8 L338.1 498.3 L334.6 498.8 L332.3 496.0 L330.6 493.1 L328.8 490.8 L327.1 488.5 L326.0 488.5 L324.8 490.8 L323.1 493.1 L320.2 492.5 L319.6 489.6 L321.3 486.7 L324.2 485.0 L325.4 481.5 L321.9 479.8 L317.3 479.2 L313.8 480.4 L311.5 481.5 L308.1 481.0 L306.9 478.7 L308.7 476.9 L311.5 475.8 L309.0 474.5 L306.5 473.5 L305.5 472.5 L307.7 471.0 L310.0 471.0 L306.0 469.5Z" fill="none" stroke="#36209a" stroke-width="0"/></g><g clip-path="url(#clipAVP)"><rect x="260" y="410" width="100" height="95" fill="#36209a"/></g><path d="M305.0 427.8 L306.7 425.1 L309.1 420.4 L310.8 419.4 L313.5 421.1 L316.8 421.7 L318.5 423.7 L319.5 427.1 L318.8 430.5 L320.2 433.8 L322.2 436.5 L325.6 436.5 L328.3 437.9 L327.9 439.9 L323.6 443.3 L322.2 446.6 L319.5 450.0 L315.5 451.3 L312.4 449.3 L310.8 445.3 L309.4 441.9 L310.1 439.2 L311.1 435.2 L313.5 433.2 L315.5 431.8 L312.1 430.5 L307.4 431.2 L305.4 429.8Z M305.4 450.5 L307.5 447.3 L309.4 449.0 L307.5 452.0Z M285.2 454.3 L288.7 454.0 L289.5 457.2 L292.1 459.5 L292.7 461.8 L295.0 463.5 L297.3 463.8 L299.6 465.3 L301.9 467.0 L304.8 468.2 L310.0 466.4 L310.0 471.0 L305.4 471.0 L301.3 469.3 L297.3 468.7 L293.8 468.4 L291.0 468.4 L289.8 467.3 L291.5 465.8 L289.8 463.0 L286.9 460.1 L285.5 457.8 L284.9 455.5Z M276.5 466.3 L278.5 466.6 L280.6 468.5 L281.7 469.3 L283.5 471.2 L285.8 473.0 L288.7 474.5 L291.5 475.3 L295.0 474.8 L299.0 474.0 L303.1 472.6 L306.0 472.0 L307.7 473.9 L307.1 477.4 L304.2 476.8 L300.2 477.4 L297.3 478.0 L295.6 480.3 L294.4 483.5 L293.3 480.0 L291.0 477.4 L288.1 476.4 L284.6 475.3 L282.0 473.0 L279.5 470.0 L277.0 468.0Z M275.0 480.0 L276.0 480.3 L276.3 482.5 L278.5 484.0 L281.0 483.0 L284.0 481.5 L286.2 480.2 L286.6 481.0 L284.0 483.3 L281.0 485.5 L278.5 487.5 L277.0 488.3 L276.3 486.5 L275.2 484.0Z M304.6 466.0 L309.2 464.2 L313.8 462.8 L318.5 462.2 L323.1 460.8 L324.8 460.2 L330.0 461.3 L336.9 461.9 L341.5 461.3 L345.0 460.2 L348.5 459.6 L351.9 460.2 L353.7 463.1 L352.5 466.5 L348.5 470.0 L343.8 472.3 L343.3 475.8 L344.4 481.5 L344.4 487.3 L343.3 490.8 L339.8 491.9 L339.2 494.8 L338.1 498.3 L334.6 498.8 L332.3 496.0 L330.6 493.1 L328.8 490.8 L327.1 488.5 L326.0 488.5 L324.8 490.8 L323.1 493.1 L320.2 492.5 L319.6 489.6 L321.3 486.7 L324.2 485.0 L325.4 481.5 L321.9 479.8 L317.3 479.2 L313.8 480.4 L311.5 481.5 L308.1 481.0 L306.9 478.7 L308.7 476.9 L311.5 475.8 L309.0 474.5 L306.5 473.5 L305.5 472.5 L307.7 471.0 L310.0 471.0 L306.0 469.5Z" fill="none" stroke="#22126a" stroke-width="0.5"/><ellipse cx="312.8" cy="424.8" rx="3.0" ry="2.1" fill="#fff"/><ellipse cx="314.5" cy="443.5" rx="1.3" ry="0.6" fill="#fff" opacity="0.9"/><ellipse cx="317.5" cy="444.8" rx="1.1" ry="0.6" fill="#fff" opacity="0.9"/><ellipse cx="315.5" cy="446.2" rx="1.4" ry="0.5" fill="#fff" opacity="0.9"/><ellipse cx="319.3" cy="443.2" rx="0.8" ry="0.6" fill="#fff" opacity="0.9"/><ellipse cx="315" cy="435.2" rx="1.0" ry="0.5" fill="#fff" opacity="0.9"/><ellipse cx="318" cy="436.5" rx="0.8" ry="0.6" fill="#fff" opacity="0.9"/><ellipse cx="313.8" cy="437.8" rx="0.8" ry="0.5" fill="#fff" opacity="0.9"/><rect x="265.9" y="467.3" width="1.8" height="1.7" fill="#36209a"/><rect x="268.6" y="466.3" width="1.8" height="1.7" fill="#36209a"/><rect x="270.7" y="467.8" width="1.8" height="1.7" fill="#36209a"/><rect x="272.4" y="467.0" width="1.8" height="1.7" fill="#36209a"/><rect x="273.8" y="468.8" width="1.8" height="1.7" fill="#36209a"/><rect x="274.2" y="471.1" width="1.8" height="1.7" fill="#36209a"/><rect x="268.3" y="469.4" width="1.8" height="1.7" fill="#36209a"/><rect x="267.6" y="472.2" width="1.8" height="1.7" fill="#36209a"/><rect x="269.7" y="473.2" width="1.8" height="1.7" fill="#36209a"/><rect x="265.2" y="471.1" width="1.8" height="1.7" fill="#36209a"/><rect x="265.5" y="475.3" width="1.8" height="1.7" fill="#36209a"/><rect x="266.9" y="477.0" width="1.8" height="1.7" fill="#36209a"/><rect x="269.7" y="477.4" width="1.8" height="1.7" fill="#36209a"/><rect x="272.1" y="468.0" width="1.8" height="1.7" fill="#36209a"/><rect x="273.5" y="470.8" width="1.8" height="1.7" fill="#36209a"/><rect x="274.2" y="469.4" width="1.8" height="1.7" fill="#36209a"/><rect x="266.2" y="468.8" width="1.8" height="1.7" fill="#36209a"/><rect x="271.4" y="469.9" width="1.8" height="1.7" fill="#36209a"/><rect x="269.2" y="468.0" width="1.8" height="1.7" fill="#36209a"/><g clip-path="url(#clipAVP)" filter="url(#blur1)"><ellipse cx="322" cy="468" rx="17" ry="8" fill="#8a2a9a" opacity="0.8"/><ellipse cx="318" cy="468" rx="9" ry="5" fill="#a8308a" opacity="0.6"/><ellipse cx="300" cy="469" rx="6" ry="2.5" fill="#7a2496" opacity="0.7"/><ellipse cx="346" cy="464" rx="5" ry="2" fill="#6a2090" opacity="0.5"/><ellipse cx="310.5" cy="478.5" rx="3.5" ry="2.4" fill="#8a2a9a" opacity="0.7"/></g><rect x="349.8" y="468.7" width="0.7" height="0.7" fill="#6a2a9e"/><rect x="342.8" y="481.9" width="0.7" height="0.7" fill="#a0309a"/><rect x="319.8" y="477.5" width="0.7" height="0.7" fill="#c04880"/><rect x="342.2" y="471.1" width="0.7" height="0.7" fill="#8a30a0"/><rect x="336.8" y="464.4" width="0.7" height="0.7" fill="#a0309a"/><rect x="318.1" y="473.7" width="0.7" height="0.7" fill="#a0309a"/><rect x="338.1" y="480.4" width="0.7" height="0.7" fill="#6a2a9e"/><rect x="343.6" y="486.4" width="0.7" height="0.7" fill="#c04880"/><rect x="321.5" y="473.7" width="0.7" height="0.7" fill="#a0309a"/><rect x="316.9" y="464.3" width="0.7" height="0.7" fill="#8a30a0"/><rect x="320.1" y="474.5" width="0.7" height="0.7" fill="#6a2a9e"/><rect x="335.5" y="475.6" width="0.7" height="0.7" fill="#8a30a0"/><rect x="323.0" y="472.2" width="0.7" height="0.7" fill="#c04880"/><rect x="318.0" y="472.9" width="0.7" height="0.7" fill="#6a2a9e"/><rect x="350.8" y="464.4" width="0.7" height="0.7" fill="#a0309a"/><rect x="309.4" y="477.4" width="0.7" height="0.7" fill="#8a30a0"/><rect x="341.8" y="488.7" width="0.7" height="0.7" fill="#a0309a"/><rect x="324.7" y="472.1" width="0.7" height="0.7" fill="#8a30a0"/><rect x="307.0" y="471.5" width="0.7" height="0.7" fill="#6a2a9e"/><rect x="307.2" y="466.1" width="0.7" height="0.7" fill="#6a2a9e"/><rect x="329.3" y="479.2" width="0.7" height="0.7" fill="#c04880"/><rect x="337.4" y="497.7" width="0.7" height="0.7" fill="#6a2a9e"/><rect x="339.4" y="491.7" width="0.7" height="0.7" fill="#6a2a9e"/><rect x="318.7" y="466.6" width="0.7" height="0.7" fill="#c04880"/><rect x="339.8" y="484.5" width="0.7" height="0.7" fill="#c04880"/><rect x="342.4" y="480.9" width="0.7" height="0.7" fill="#a0309a"/><rect x="342.2" y="479.0" width="0.7" height="0.7" fill="#c04880"/><rect x="326.7" y="474.9" width="0.7" height="0.7" fill="#c04880"/><rect x="334.8" y="462.7" width="0.7" height="0.7" fill="#a0309a"/><rect x="349.3" y="468.1" width="0.7" height="0.7" fill="#c04880"/><rect x="335.9" y="467.6" width="0.7" height="0.7" fill="#6a2a9e"/><rect x="346.8" y="461.2" width="0.7" height="0.7" fill="#6a2a9e"/><rect x="332.6" y="482.6" width="0.7" height="0.7" fill="#c04880"/><rect x="313.2" y="470.7" width="0.7" height="0.7" fill="#c04880"/><rect x="336.9" y="488.1" width="0.7" height="0.7" fill="#c04880"/><rect x="320.6" y="470.1" width="0.7" height="0.7" fill="#a0309a"/><rect x="323.7" y="473.2" width="0.7" height="0.7" fill="#c04880"/><rect x="328.4" y="481.5" width="0.7" height="0.7" fill="#8a30a0"/><rect x="342.6" y="485.7" width="0.7" height="0.7" fill="#6a2a9e"/><rect x="325.3" y="462.4" width="0.7" height="0.7" fill="#6a2a9e"/><rect x="332.3" y="493.9" width="0.7" height="0.7" fill="#8a30a0"/><rect x="338.8" y="466.1" width="0.7" height="0.7" fill="#8a30a0"/><rect x="327.6" y="484.7" width="0.7" height="0.7" fill="#a0309a"/><rect x="334.9" y="478.3" width="0.7" height="0.7" fill="#a0309a"/><rect x="330.0" y="467.8" width="0.7" height="0.7" fill="#8a30a0"/><rect x="348.0" y="469.3" width="0.7" height="0.7" fill="#c04880"/><rect x="343.7" y="487.4" width="0.7" height="0.7" fill="#6a2a9e"/><rect x="336.5" y="483.0" width="0.7" height="0.7" fill="#8a30a0"/><rect x="340.7" y="482.1" width="0.7" height="0.7" fill="#a0309a"/><rect x="325.2" y="480.5" width="0.7" height="0.7" fill="#8a30a0"/><rect x="330.0" y="479.4" width="0.7" height="0.7" fill="#6a2a9e"/><rect x="344.2" y="462.1" width="0.7" height="0.7" fill="#c04880"/><rect x="321.3" y="464.4" width="0.7" height="0.7" fill="#a0309a"/><rect x="341.3" y="469.5" width="0.7" height="0.7" fill="#a0309a"/><rect x="319.2" y="475.9" width="0.7" height="0.7" fill="#6a2a9e"/><rect x="344.8" y="462.2" width="0.7" height="0.7" fill="#c04880"/><rect x="338.0" y="488.4" width="0.7" height="0.7" fill="#a0309a"/><rect x="343.1" y="477.6" width="0.7" height="0.7" fill="#a0309a"/><rect x="326.5" y="465.4" width="0.7" height="0.7" fill="#c04880"/><rect x="329.7" y="491.6" width="0.7" height="0.7" fill="#8a30a0"/><rect x="341.7" y="473.1" width="0.7" height="0.7" fill="#6a2a9e"/><rect x="320.6" y="488.1" width="0.7" height="0.7" fill="#a0309a"/><rect x="336.7" y="466.5" width="0.7" height="0.7" fill="#8a30a0"/><rect x="331.4" y="463.4" width="0.7" height="0.7" fill="#8a30a0"/><rect x="326.0" y="461.2" width="0.7" height="0.7" fill="#c04880"/><rect x="319.0" y="474.8" width="0.7" height="0.7" fill="#a0309a"/><rect x="313.6" y="479.4" width="0.7" height="0.7" fill="#a0309a"/><rect x="330.1" y="487.6" width="0.7" height="0.7" fill="#8a30a0"/><rect x="323.9" y="472.5" width="0.7" height="0.7" fill="#c04880"/><rect x="333.0" y="461.9" width="0.7" height="0.7" fill="#a0309a"/><rect x="332.2" y="472.7" width="0.7" height="0.7" fill="#a0309a"/><rect x="313.3" y="472.5" width="0.7" height="0.7" fill="#6a2a9e"/><rect x="331.1" y="469.0" width="0.7" height="0.7" fill="#c04880"/><rect x="328.7" y="467.3" width="0.7" height="0.7" fill="#6a2a9e"/><rect x="339.6" y="487.7" width="0.7" height="0.7" fill="#c04880"/><rect x="338.8" y="483.8" width="0.7" height="0.7" fill="#6a2a9e"/><rect x="341.3" y="468.2" width="0.7" height="0.7" fill="#a0309a"/><rect x="325.9" y="476.6" width="0.7" height="0.7" fill="#c04880"/><rect x="332.2" y="472.5" width="0.7" height="0.7" fill="#c04880"/><rect x="315.0" y="477.6" width="0.7" height="0.7" fill="#8a30a0"/><rect x="351.8" y="465.4" width="0.7" height="0.7" fill="#c04880"/><rect x="343.1" y="461.6" width="0.7" height="0.7" fill="#6a2a9e"/><rect x="352.3" y="462.9" width="0.7" height="0.7" fill="#6a2a9e"/><rect x="333.4" y="465.8" width="0.7" height="0.7" fill="#6a2a9e"/><rect x="331.0" y="463.0" width="0.7" height="0.7" fill="#a0309a"/><rect x="322.6" y="471.1" width="0.7" height="0.7" fill="#a0309a"/><rect x="327.4" y="484.0" width="0.7" height="0.7" fill="#c04880"/><rect x="327.4" y="471.3" width="0.7" height="0.7" fill="#c04880"/><rect x="337.9" y="489.6" width="0.7" height="0.7" fill="#c04880"/><rect x="325.6" y="462.8" width="0.7" height="0.7" fill="#a0309a"/><rect x="307.4" y="471.8" width="0.7" height="0.7" fill="#8a30a0"/><rect x="311.0" y="466.3" width="0.7" height="0.7" fill="#c04880"/><rect x="317.7" y="463.9" width="0.7" height="0.7" fill="#6a2a9e"/><rect x="330.3" y="465.2" width="0.7" height="0.7" fill="#6a2a9e"/><rect x="337.1" y="481.6" width="0.7" height="0.7" fill="#c04880"/><rect x="325.5" y="462.8" width="0.7" height="0.7" fill="#a0309a"/><rect x="326.2" y="474.7" width="0.7" height="0.7" fill="#6a2a9e"/><rect x="330.2" y="482.5" width="0.7" height="0.7" fill="#a0309a"/><rect x="339.9" y="474.5" width="0.7" height="0.7" fill="#8a30a0"/><rect x="335.3" y="465.8" width="0.7" height="0.7" fill="#a0309a"/><rect x="310.6" y="468.6" width="0.7" height="0.7" fill="#c04880"/><rect x="308.4" y="480.4" width="0.7" height="0.7" fill="#c04880"/><rect x="327.0" y="474.6" width="0.7" height="0.7" fill="#c04880"/><rect x="335.2" y="462.3" width="0.7" height="0.7" fill="#6a2a9e"/><rect x="337.9" y="473.4" width="0.7" height="0.7" fill="#c04880"/><rect x="333.1" y="491.3" width="0.7" height="0.7" fill="#6a2a9e"/><rect x="337.1" y="488.2" width="0.7" height="0.7" fill="#a0309a"/><rect x="318.4" y="471.1" width="0.7" height="0.7" fill="#8a30a0"/><rect x="325.7" y="474.2" width="0.7" height="0.7" fill="#a0309a"/><rect x="315.0" y="471.4" width="0.7" height="0.7" fill="#6a2a9e"/><rect x="336.4" y="473.2" width="0.7" height="0.7" fill="#8a30a0"/><rect x="322.6" y="476.2" width="0.7" height="0.7" fill="#c04880"/><rect x="319.1" y="463.8" width="0.7" height="0.7" fill="#c04880"/><rect x="342.5" y="484.0" width="0.7" height="0.7" fill="#6a2a9e"/><rect x="326.0" y="480.2" width="0.7" height="0.7" fill="#6a2a9e"/><rect x="334.7" y="472.2" width="0.7" height="0.7" fill="#a0309a"/><rect x="335.2" y="487.9" width="0.7" height="0.7" fill="#c04880"/><rect x="317.2" y="477.3" width="0.7" height="0.7" fill="#8a30a0"/><rect x="337.1" y="489.5" width="0.7" height="0.7" fill="#6a2a9e"/><rect x="314.6" y="476.1" width="0.7" height="0.7" fill="#a0309a"/><rect x="340.8" y="465.1" width="0.7" height="0.7" fill="#c04880"/><rect x="328.9" y="477.2" width="0.7" height="0.7" fill="#a0309a"/><rect x="313.5" y="476.1" width="0.7" height="0.7" fill="#a0309a"/><rect x="333.6" y="481.3" width="0.7" height="0.7" fill="#8a30a0"/><rect x="340.1" y="489.3" width="0.7" height="0.7" fill="#c04880"/><rect x="336.9" y="494.7" width="0.7" height="0.7" fill="#8a30a0"/><rect x="334.3" y="497.7" width="0.7" height="0.7" fill="#a0309a"/><rect x="315.7" y="468.7" width="0.7" height="0.7" fill="#8a30a0"/><rect x="330.2" y="463.0" width="0.7" height="0.7" fill="#a0309a"/><rect x="336.8" y="462.2" width="0.7" height="0.7" fill="#c04880"/><rect x="341.6" y="481.4" width="0.7" height="0.7" fill="#6a2a9e"/><rect x="325.7" y="480.9" width="0.7" height="0.7" fill="#8a30a0"/><rect x="348.2" y="465.3" width="0.7" height="0.7" fill="#a0309a"/><rect x="337.4" y="470.6" width="0.7" height="0.7" fill="#8a30a0"/><rect x="333.0" y="490.1" width="0.7" height="0.7" fill="#c04880"/><rect x="313.0" y="480.5" width="0.7" height="0.7" fill="#a0309a"/><rect x="323.2" y="476.5" width="0.7" height="0.7" fill="#c04880"/><rect x="320.2" y="461.7" width="0.7" height="0.7" fill="#c04880"/><rect x="333.2" y="468.6" width="0.7" height="0.7" fill="#c04880"/><rect x="335.0" y="484.8" width="0.7" height="0.7" fill="#a0309a"/><rect x="324.2" y="486.1" width="0.7" height="0.7" fill="#8a30a0"/><rect x="314.0" y="479.6" width="0.7" height="0.7" fill="#c04880"/><rect x="350.7" y="462.1" width="0.7" height="0.7" fill="#a0309a"/><rect x="343.4" y="469.6" width="0.7" height="0.7" fill="#8a30a0"/><rect x="340.2" y="465.6" width="0.7" height="0.7" fill="#8a30a0"/><rect x="329.5" y="467.3" width="0.7" height="0.7" fill="#8a30a0"/><rect x="341.2" y="462.8" width="0.7" height="0.7" fill="#8a30a0"/><rect x="313.3" y="465.0" width="0.7" height="0.7" fill="#c04880"/><rect x="338.0" y="488.2" width="0.7" height="0.7" fill="#8a30a0"/><rect x="343.7" y="479.7" width="0.7" height="0.7" fill="#8a30a0"/><rect x="312.6" y="470.8" width="0.7" height="0.7" fill="#c04880"/><rect x="307.9" y="478.1" width="0.7" height="0.7" fill="#8a30a0"/><rect x="336.9" y="472.7" width="0.7" height="0.7" fill="#8a30a0"/><rect x="331.3" y="475.9" width="0.7" height="0.7" fill="#8a30a0"/><rect x="342.7" y="489.5" width="0.7" height="0.7" fill="#a0309a"/><rect x="309.3" y="472.4" width="0.7" height="0.7" fill="#6a2a9e"/><rect x="339.7" y="477.5" width="0.7" height="0.7" fill="#6a2a9e"/><rect x="328.1" y="488.4" width="0.7" height="0.7" fill="#c04880"/><rect x="314.2" y="477.1" width="0.7" height="0.7" fill="#8a30a0"/><rect x="339.5" y="478.8" width="0.7" height="0.7" fill="#c04880"/><rect x="321.6" y="490.9" width="0.7" height="0.7" fill="#8a30a0"/><rect x="321.1" y="464.0" width="0.7" height="0.7" fill="#a0309a"/><rect x="335.4" y="481.1" width="0.7" height="0.7" fill="#8a30a0"/><rect x="329.6" y="483.4" width="0.7" height="0.7" fill="#c04880"/><rect x="313.7" y="471.0" width="0.7" height="0.7" fill="#c04880"/><rect x="333.0" y="475.0" width="0.7" height="0.7" fill="#6a2a9e"/><rect x="343.8" y="472.5" width="0.7" height="0.7" fill="#a0309a"/><rect x="348.6" y="465.4" width="0.7" height="0.7" fill="#8a30a0"/><rect x="342.4" y="482.6" width="0.7" height="0.7" fill="#c04880"/><rect x="332.8" y="480.1" width="0.7" height="0.7" fill="#a0309a"/><rect x="336.5" y="493.1" width="0.7" height="0.7" fill="#a0309a"/><rect x="325.2" y="472.4" width="0.7" height="0.7" fill="#c04880"/><rect x="311.6" y="474.8" width="0.7" height="0.7" fill="#a0309a"/><rect x="343.8" y="481.2" width="0.7" height="0.7" fill="#6a2a9e"/><rect x="344.2" y="469.6" width="0.7" height="0.7" fill="#6a2a9e"/><rect x="331.5" y="473.7" width="0.7" height="0.7" fill="#a0309a"/><rect x="307.3" y="465.2" width="0.7" height="0.7" fill="#c04880"/><rect x="312.5" y="476.3" width="0.7" height="0.7" fill="#c04880"/><rect x="318.6" y="474.3" width="0.7" height="0.7" fill="#6a2a9e"/><rect x="326.9" y="486.6" width="0.7" height="0.7" fill="#8a30a0"/><rect x="345.2" y="468.7" width="0.7" height="0.7" fill="#6a2a9e"/><rect x="331.8" y="464.8" width="0.7" height="0.7" fill="#8a30a0"/><rect x="340.2" y="481.4" width="0.7" height="0.7" fill="#6a2a9e"/><rect x="318.8" y="471.4" width="0.7" height="0.7" fill="#a0309a"/><rect x="330.7" y="468.0" width="0.7" height="0.7" fill="#a0309a"/><rect x="331.3" y="489.2" width="0.7" height="0.7" fill="#a0309a"/><rect x="327.6" y="485.9" width="0.7" height="0.7" fill="#a0309a"/><rect x="331.4" y="485.4" width="0.7" height="0.7" fill="#a0309a"/><rect x="310.0" y="476.8" width="0.7" height="0.7" fill="#a0309a"/><rect x="326.1" y="471.1" width="0.7" height="0.7" fill="#c04880"/><rect x="342.4" y="480.6" width="0.7" height="0.7" fill="#c04880"/><rect x="327.5" y="482.3" width="0.7" height="0.7" fill="#a0309a"/><rect x="339.8" y="462.8" width="0.7" height="0.7" fill="#c04880"/><rect x="322.3" y="487.4" width="0.7" height="0.7" fill="#6a2a9e"/><rect x="344.0" y="483.2" width="0.7" height="0.7" fill="#8a30a0"/><rect x="332.8" y="476.6" width="0.7" height="0.7" fill="#a0309a"/><rect x="316.2" y="475.9" width="0.7" height="0.7" fill="#6a2a9e"/><rect x="331.1" y="484.9" width="0.7" height="0.7" fill="#8a30a0"/><rect x="311.5" y="477.8" width="0.7" height="0.7" fill="#c04880"/><rect x="352.7" y="463.0" width="0.7" height="0.7" fill="#8a30a0"/><rect x="338.9" y="486.8" width="0.7" height="0.7" fill="#6a2a9e"/><rect x="310.8" y="469.5" width="0.7" height="0.7" fill="#a0309a"/><rect x="345.3" y="464.0" width="0.7" height="0.7" fill="#8a30a0"/><rect x="333.4" y="483.9" width="0.7" height="0.7" fill="#8a30a0"/><rect x="322.2" y="479.3" width="0.7" height="0.7" fill="#6a2a9e"/><rect x="342.4" y="470.1" width="0.7" height="0.7" fill="#a0309a"/><rect x="319.2" y="477.9" width="0.7" height="0.7" fill="#6a2a9e"/><rect x="339.5" y="466.0" width="0.7" height="0.7" fill="#c04880"/><rect x="308.0" y="465.0" width="0.7" height="0.7" fill="#c04880"/><rect x="331.3" y="478.6" width="0.7" height="0.7" fill="#c04880"/><rect x="341.5" y="491.0" width="0.7" height="0.7" fill="#a0309a"/><rect x="330.2" y="472.3" width="0.7" height="0.7" fill="#6a2a9e"/><rect x="335.0" y="462.6" width="0.7" height="0.7" fill="#c04880"/><rect x="322.4" y="471.0" width="0.7" height="0.7" fill="#c04880"/><rect x="337.5" y="489.9" width="0.7" height="0.7" fill="#6a2a9e"/><rect x="329.1" y="462.6" width="0.7" height="0.7" fill="#a0309a"/><rect x="320.5" y="465.8" width="0.7" height="0.7" fill="#a0309a"/><rect x="325.7" y="469.8" width="0.7" height="0.7" fill="#8a30a0"/><rect x="334.6" y="493.3" width="0.7" height="0.7" fill="#a0309a"/><rect x="329.3" y="483.3" width="0.7" height="0.7" fill="#a0309a"/><rect x="306.5" y="468.1" width="0.7" height="0.7" fill="#a0309a"/><rect x="345.1" y="471.2" width="0.7" height="0.7" fill="#6a2a9e"/><rect x="328.9" y="486.5" width="0.7" height="0.7" fill="#a0309a"/><rect x="337.0" y="478.4" width="0.7" height="0.7" fill="#8a30a0"/><rect x="332.5" y="486.7" width="0.7" height="0.7" fill="#6a2a9e"/><rect x="309.1" y="476.9" width="0.7" height="0.7" fill="#6a2a9e"/><rect x="327.3" y="482.2" width="0.7" height="0.7" fill="#6a2a9e"/><rect x="338.7" y="467.7" width="0.7" height="0.7" fill="#8a30a0"/><rect x="325.4" y="481.0" width="0.7" height="0.7" fill="#8a30a0"/><rect x="328.9" y="464.5" width="0.7" height="0.7" fill="#6a2a9e"/><rect x="327.0" y="469.5" width="0.7" height="0.7" fill="#c04880"/><rect x="339.7" y="478.1" width="0.7" height="0.7" fill="#c04880"/><rect x="333.8" y="478.8" width="0.7" height="0.7" fill="#6a2a9e"/><rect x="315.4" y="463.1" width="0.7" height="0.7" fill="#6a2a9e"/><rect x="329.8" y="464.4" width="0.7" height="0.7" fill="#6a2a9e"/><rect x="320.6" y="476.6" width="0.7" height="0.7" fill="#8a30a0"/><rect x="341.1" y="470.8" width="0.7" height="0.7" fill="#8a30a0"/><rect x="325.5" y="488.9" width="0.7" height="0.7" fill="#8a30a0"/><rect x="344.0" y="464.7" width="0.7" height="0.7" fill="#a0309a"/><rect x="317.8" y="479.1" width="0.7" height="0.7" fill="#c04880"/><rect x="315.5" y="470.6" width="0.7" height="0.7" fill="#6a2a9e"/><rect x="335.3" y="480.3" width="0.7" height="0.7" fill="#c04880"/><rect x="308.5" y="467.9" width="0.7" height="0.7" fill="#a0309a"/><rect x="341.4" y="465.4" width="0.7" height="0.7" fill="#8a30a0"/><rect x="307.0" y="467.3" width="0.7" height="0.7" fill="#6a2a9e"/><rect x="349.5" y="460.3" width="0.7" height="0.7" fill="#a0309a"/><rect x="331.2" y="471.8" width="0.7" height="0.7" fill="#c04880"/><rect x="325.4" y="467.7" width="0.7" height="0.7" fill="#c04880"/><rect x="339.2" y="480.3" width="0.7" height="0.7" fill="#a0309a"/><rect x="341.6" y="482.8" width="0.7" height="0.7" fill="#a0309a"/><rect x="333.6" y="468.2" width="0.7" height="0.7" fill="#8a30a0"/><rect x="323.6" y="486.3" width="0.7" height="0.7" fill="#a0309a"/><rect x="327.8" y="488.6" width="0.7" height="0.7" fill="#8a30a0"/><rect x="346.4" y="468.1" width="0.7" height="0.7" fill="#c04880"/><rect x="323.1" y="462.3" width="0.7" height="0.7" fill="#c04880"/><rect x="349.4" y="463.3" width="0.7" height="0.7" fill="#c04880"/><rect x="326.9" y="485.1" width="0.7" height="0.7" fill="#a0309a"/><rect x="348.6" y="465.9" width="0.7" height="0.7" fill="#a0309a"/><rect x="307.3" y="465.3" width="0.7" height="0.7" fill="#c04880"/><rect x="341.6" y="471.6" width="0.7" height="0.7" fill="#8a30a0"/><rect x="315.3" y="463.4" width="0.7" height="0.7" fill="#a0309a"/><rect x="352.7" y="464.4" width="0.7" height="0.7" fill="#a0309a"/><rect x="323.8" y="477.0" width="0.7" height="0.7" fill="#a0309a"/><rect x="332.3" y="477.5" width="0.7" height="0.7" fill="#6a2a9e"/><rect x="333.2" y="466.8" width="0.7" height="0.7" fill="#8a30a0"/><rect x="332.1" y="466.5" width="0.7" height="0.7" fill="#a0309a"/><rect x="352.4" y="465.5" width="0.7" height="0.7" fill="#8a30a0"/><rect x="334.1" y="479.1" width="0.7" height="0.7" fill="#c04880"/><rect x="334.3" y="484.6" width="0.7" height="0.7" fill="#c04880"/><rect x="341.2" y="477.4" width="0.7" height="0.7" fill="#8a30a0"/><rect x="335.1" y="481.3" width="0.7" height="0.7" fill="#6a2a9e"/><rect x="310.1" y="470.2" width="0.7" height="0.7" fill="#8a30a0"/><rect x="327.8" y="467.0" width="0.7" height="0.7" fill="#a0309a"/><rect x="330.8" y="467.9" width="0.7" height="0.7" fill="#a0309a"/><rect x="315.2" y="468.6" width="0.7" height="0.7" fill="#6a2a9e"/><rect x="316.1" y="466.0" width="0.7" height="0.7" fill="#c04880"/><rect x="345.0" y="470.7" width="0.7" height="0.7" fill="#c04880"/><rect x="315.5" y="478.9" width="0.7" height="0.7" fill="#8a30a0"/><rect x="315.3" y="477.0" width="0.7" height="0.7" fill="#a0309a"/><rect x="336.3" y="472.3" width="0.7" height="0.7" fill="#c04880"/><rect x="327.2" y="483.1" width="0.7" height="0.7" fill="#6a2a9e"/><rect x="318.1" y="475.8" width="0.7" height="0.7" fill="#6a2a9e"/><rect x="318.4" y="475.1" width="0.7" height="0.7" fill="#8a30a0"/><rect x="329.8" y="484.5" width="0.7" height="0.7" fill="#8a30a0"/><rect x="319.9" y="473.7" width="0.7" height="0.7" fill="#6a2a9e"/><rect x="328.0" y="478.4" width="0.7" height="0.7" fill="#c04880"/><rect x="311.7" y="471.2" width="0.7" height="0.7" fill="#8a30a0"/><rect x="347.5" y="467.0" width="0.7" height="0.7" fill="#6a2a9e"/><rect x="310.8" y="481.1" width="0.7" height="0.7" fill="#8a30a0"/><rect x="309.3" y="478.2" width="0.7" height="0.7" fill="#c04880"/><rect x="310.5" y="479.9" width="0.7" height="0.7" fill="#a0309a"/><rect x="335.0" y="492.6" width="0.7" height="0.7" fill="#8a30a0"/><rect x="338.8" y="473.2" width="0.7" height="0.7" fill="#8a30a0"/><rect x="331.8" y="467.0" width="0.7" height="0.7" fill="#a0309a"/><rect x="340.7" y="466.8" width="0.7" height="0.7" fill="#8a30a0"/><rect x="328.6" y="474.9" width="0.7" height="0.7" fill="#8a30a0"/><rect x="333.2" y="465.5" width="0.7" height="0.7" fill="#a0309a"/><rect x="320.5" y="468.4" width="0.7" height="0.7" fill="#8a30a0"/><rect x="323.7" y="475.3" width="0.7" height="0.7" fill="#c04880"/><rect x="330.9" y="473.0" width="0.7" height="0.7" fill="#a0309a"/><g clip-path="url(#clipAVP)"><rect x="325.0" y="464.8" width="1.0" height="1.0" fill="#7a2aa0"/><rect x="315.5" y="464.0" width="1.0" height="1.0" fill="#a02a90"/><rect x="313.0" y="469.1" width="1.0" height="1.0" fill="#7a2aa0"/><rect x="317.7" y="474.2" width="1.0" height="1.0" fill="#c03a80"/><rect x="317.8" y="464.0" width="1.0" height="1.0" fill="#b03088"/><rect x="317.2" y="463.4" width="1.0" height="1.0" fill="#7a2aa0"/><rect x="311.7" y="465.6" width="1.0" height="1.0" fill="#a02a90"/><rect x="326.5" y="461.8" width="1.0" height="1.0" fill="#a02a90"/><rect x="310.5" y="466.8" width="1.0" height="1.0" fill="#d85a60"/><rect x="325.9" y="469.4" width="1.0" height="1.0" fill="#a02a90"/><rect x="325.8" y="475.0" width="1.0" height="1.0" fill="#b03088"/><rect x="330.2" y="470.8" width="1.0" height="1.0" fill="#a02a90"/><rect x="318.5" y="475.4" width="1.0" height="1.0" fill="#b03088"/><rect x="322.6" y="465.0" width="1.0" height="1.0" fill="#d85a60"/><rect x="324.5" y="460.4" width="1.0" height="1.0" fill="#c03a80"/><rect x="309.7" y="470.7" width="1.0" height="1.0" fill="#a02a90"/><rect x="330.9" y="471.1" width="1.0" height="1.0" fill="#c03a80"/><rect x="335.5" y="468.1" width="1.0" height="1.0" fill="#b03088"/><rect x="314.9" y="474.4" width="1.0" height="1.0" fill="#a02a90"/><rect x="312.5" y="464.1" width="1.0" height="1.0" fill="#7a2aa0"/><rect x="303.0" y="466.9" width="1.0" height="1.0" fill="#7a2aa0"/><rect x="311.6" y="468.7" width="1.0" height="1.0" fill="#a02a90"/><rect x="310.6" y="465.0" width="1.0" height="1.0" fill="#a02a90"/><rect x="313.3" y="460.7" width="1.0" height="1.0" fill="#7a2aa0"/><rect x="328.3" y="469.1" width="1.0" height="1.0" fill="#d85a60"/><rect x="318.5" y="470.0" width="1.0" height="1.0" fill="#d85a60"/><rect x="325.1" y="462.2" width="1.0" height="1.0" fill="#b03088"/><rect x="304.1" y="469.6" width="1.0" height="1.0" fill="#b03088"/><rect x="311.8" y="470.9" width="1.0" height="1.0" fill="#b03088"/><rect x="330.6" y="469.7" width="1.0" height="1.0" fill="#c03a80"/><rect x="308.5" y="466.9" width="1.0" height="1.0" fill="#b03088"/><rect x="336.4" y="465.3" width="1.0" height="1.0" fill="#c03a80"/><rect x="306.8" y="470.2" width="1.0" height="1.0" fill="#7a2aa0"/><rect x="332.3" y="468.2" width="1.0" height="1.0" fill="#a02a90"/><rect x="328.9" y="463.4" width="1.0" height="1.0" fill="#c03a80"/><rect x="320.7" y="467.1" width="1.0" height="1.0" fill="#b03088"/><rect x="336.3" y="467.8" width="1.0" height="1.0" fill="#7a2aa0"/><rect x="336.4" y="465.5" width="1.0" height="1.0" fill="#a02a90"/><rect x="316.0" y="462.0" width="1.0" height="1.0" fill="#a02a90"/><rect x="330.2" y="468.8" width="1.0" height="1.0" fill="#a02a90"/><rect x="303.6" y="471.2" width="1.0" height="1.0" fill="#c03a80"/><rect x="320.0" y="470.2" width="1.0" height="1.0" fill="#7a2aa0"/><rect x="324.9" y="472.8" width="1.0" height="1.0" fill="#b03088"/><rect x="311.6" y="469.3" width="1.0" height="1.0" fill="#7a2aa0"/><rect x="314.1" y="470.3" width="1.0" height="1.0" fill="#a02a90"/><rect x="302.9" y="470.2" width="1.0" height="1.0" fill="#7a2aa0"/><rect x="314.3" y="468.1" width="1.0" height="1.0" fill="#7a2aa0"/><rect x="331.8" y="464.2" width="1.0" height="1.0" fill="#c03a80"/><rect x="310.8" y="464.2" width="1.0" height="1.0" fill="#d85a60"/><rect x="307.9" y="473.2" width="1.0" height="1.0" fill="#a02a90"/><rect x="306.7" y="467.8" width="1.0" height="1.0" fill="#c03a80"/><rect x="327.9" y="473.8" width="1.0" height="1.0" fill="#c03a80"/><rect x="319.1" y="460.8" width="1.0" height="1.0" fill="#a02a90"/><rect x="318.3" y="462.1" width="1.0" height="1.0" fill="#7a2aa0"/><rect x="324.6" y="465.1" width="1.0" height="1.0" fill="#b03088"/><rect x="329.1" y="471.0" width="1.0" height="1.0" fill="#d85a60"/><rect x="317.4" y="465.1" width="1.0" height="1.0" fill="#d85a60"/><rect x="331.8" y="462.2" width="1.0" height="1.0" fill="#b03088"/><rect x="328.9" y="469.3" width="1.0" height="1.0" fill="#7a2aa0"/><rect x="328.3" y="464.3" width="1.0" height="1.0" fill="#7a2aa0"/><rect x="329.8" y="474.2" width="1.0" height="1.0" fill="#d85a60"/><rect x="330.5" y="466.6" width="1.0" height="1.0" fill="#a02a90"/><rect x="308.0" y="472.9" width="1.0" height="1.0" fill="#a02a90"/><rect x="305.7" y="463.5" width="1.0" height="1.0" fill="#a02a90"/><rect x="323.2" y="470.5" width="1.0" height="1.0" fill="#7a2aa0"/><rect x="310.7" y="464.8" width="1.0" height="1.0" fill="#b03088"/><rect x="333.6" y="467.5" width="1.0" height="1.0" fill="#b03088"/><rect x="326.1" y="463.3" width="1.0" height="1.0" fill="#7a2aa0"/><rect x="336.6" y="466.7" width="1.0" height="1.0" fill="#d85a60"/><rect x="306.3" y="470.7" width="1.0" height="1.0" fill="#c03a80"/><rect x="331.7" y="471.3" width="1.0" height="1.0" fill="#b03088"/><rect x="335.2" y="470.1" width="1.0" height="1.0" fill="#c03a80"/><rect x="321.5" y="474.1" width="1.0" height="1.0" fill="#c03a80"/><rect x="325.6" y="467.0" width="1.0" height="1.0" fill="#a02a90"/><rect x="333.7" y="465.9" width="1.0" height="1.0" fill="#d85a60"/><rect x="312.6" y="467.7" width="1.0" height="1.0" fill="#d85a60"/><rect x="306.5" y="464.6" width="1.0" height="1.0" fill="#c03a80"/><rect x="326.2" y="474.8" width="1.0" height="1.0" fill="#a02a90"/><rect x="329.1" y="467.5" width="1.0" height="1.0" fill="#a02a90"/><rect x="315.8" y="467.4" width="1.0" height="1.0" fill="#a02a90"/><rect x="323.8" y="469.4" width="1.0" height="1.0" fill="#d85a60"/><rect x="307.8" y="468.5" width="1.0" height="1.0" fill="#7a2aa0"/><rect x="328.3" y="472.1" width="1.0" height="1.0" fill="#a02a90"/><rect x="315.2" y="462.3" width="1.0" height="1.0" fill="#d85a60"/><rect x="321.0" y="470.9" width="1.0" height="1.0" fill="#a02a90"/><rect x="307.7" y="468.8" width="1.0" height="1.0" fill="#d85a60"/><rect x="328.4" y="473.0" width="1.0" height="1.0" fill="#c03a80"/><rect x="334.3" y="468.5" width="1.0" height="1.0" fill="#a02a90"/><rect x="328.7" y="472.0" width="1.0" height="1.0" fill="#d85a60"/><rect x="321.5" y="468.3" width="1.0" height="1.0" fill="#c03a80"/><rect x="312.7" y="463.4" width="1.0" height="1.0" fill="#b03088"/><rect x="316.3" y="466.4" width="1.0" height="1.0" fill="#c03a80"/><rect x="321.1" y="468.8" width="1.0" height="1.0" fill="#b03088"/><rect x="313.0" y="473.0" width="1.0" height="1.0" fill="#d85a60"/><rect x="326.4" y="460.6" width="1.0" height="1.0" fill="#a02a90"/><rect x="319.5" y="475.4" width="1.0" height="1.0" fill="#d85a60"/><rect x="332.5" y="465.1" width="1.0" height="1.0" fill="#c03a80"/><rect x="332.2" y="469.8" width="1.0" height="1.0" fill="#c03a80"/><rect x="318.0" y="470.3" width="1.0" height="1.0" fill="#d85a60"/><rect x="332.3" y="467.3" width="1.0" height="1.0" fill="#c03a80"/><rect x="323.8" y="468.5" width="1.0" height="1.0" fill="#7a2aa0"/><rect x="321.9" y="466.3" width="1.0" height="1.0" fill="#a02a90"/><rect x="306.5" y="464.1" width="1.0" height="1.0" fill="#a02a90"/><rect x="306.3" y="469.9" width="1.0" height="1.0" fill="#c03a80"/><rect x="326.7" y="461.6" width="1.0" height="1.0" fill="#c03a80"/><rect x="321.5" y="468.9" width="1.0" height="1.0" fill="#b03088"/><rect x="332.2" y="473.3" width="1.0" height="1.0" fill="#d85a60"/><rect x="327.3" y="473.3" width="1.0" height="1.0" fill="#c03a80"/><rect x="320.5" y="467.4" width="1.0" height="1.0" fill="#7a2aa0"/><rect x="317.6" y="469.6" width="1.0" height="1.0" fill="#d85a60"/><rect x="336.4" y="471.1" width="1.0" height="1.0" fill="#a02a90"/><rect x="317.4" y="470.9" width="1.0" height="1.0" fill="#7a2aa0"/><rect x="316.9" y="471.4" width="1.0" height="1.0" fill="#a02a90"/><rect x="329.3" y="468.4" width="1.0" height="1.0" fill="#b03088"/><rect x="316.5" y="464.1" width="1.0" height="1.0" fill="#b03088"/><rect x="328.2" y="472.0" width="1.0" height="1.0" fill="#c03a80"/><rect x="307.9" y="462.7" width="1.0" height="1.0" fill="#a02a90"/><rect x="314.6" y="474.8" width="1.0" height="1.0" fill="#a02a90"/><rect x="326.7" y="470.1" width="1.0" height="1.0" fill="#d85a60"/><rect x="317.3" y="474.6" width="1.0" height="1.0" fill="#d85a60"/><rect x="320.4" y="463.3" width="1.0" height="1.0" fill="#7a2aa0"/><rect x="312.9" y="461.2" width="1.0" height="1.0" fill="#7a2aa0"/><rect x="309.7" y="467.8" width="1.0" height="1.0" fill="#b03088"/><rect x="316.4" y="466.4" width="1.0" height="1.0" fill="#d85a60"/><rect x="324.9" y="465.6" width="1.0" height="1.0" fill="#c03a80"/><rect x="323.8" y="462.1" width="1.0" height="1.0" fill="#c03a80"/><rect x="317.0" y="473.8" width="1.0" height="1.0" fill="#c03a80"/><rect x="305.8" y="465.1" width="1.0" height="1.0" fill="#c03a80"/><rect x="322.2" y="473.4" width="1.0" height="1.0" fill="#d85a60"/><rect x="325.8" y="468.6" width="1.0" height="1.0" fill="#c03a80"/><rect x="330.2" y="473.0" width="1.0" height="1.0" fill="#b03088"/><rect x="325.2" y="472.7" width="1.0" height="1.0" fill="#d85a60"/><rect x="336.3" y="469.0" width="1.0" height="1.0" fill="#c03a80"/><rect x="309.7" y="465.2" width="1.0" height="1.0" fill="#c03a80"/><rect x="323.1" y="474.1" width="1.0" height="1.0" fill="#c03a80"/><rect x="332.4" y="472.6" width="1.0" height="1.0" fill="#d85a60"/><rect x="305.9" y="464.1" width="1.0" height="1.0" fill="#b03088"/><rect x="316.7" y="463.4" width="1.0" height="1.0" fill="#b03088"/><rect x="316.1" y="475.2" width="1.0" height="1.0" fill="#7a2aa0"/><rect x="320.6" y="475.4" width="1.0" height="1.0" fill="#c03a80"/><rect x="315.0" y="463.4" width="1.0" height="1.0" fill="#d85a60"/><rect x="334.5" y="470.1" width="1.0" height="1.0" fill="#c03a80"/><rect x="322.4" y="471.6" width="1.0" height="1.0" fill="#b03088"/><rect x="330.8" y="464.0" width="1.0" height="1.0" fill="#7a2aa0"/><rect x="318.9" y="468.2" width="1.0" height="1.0" fill="#c03a80"/><rect x="315.1" y="465.6" width="1.0" height="1.0" fill="#a02a90"/><rect x="315.8" y="475.6" width="1.0" height="1.0" fill="#c03a80"/><rect x="331.3" y="467.7" width="1.0" height="1.0" fill="#d85a60"/><rect x="312.2" y="466.7" width="1.0" height="1.0" fill="#7a2aa0"/><rect x="328.2" y="466.9" width="1.0" height="1.0" fill="#7a2aa0"/><rect x="334.5" y="468.2" width="1.0" height="1.0" fill="#b03088"/><rect x="308.6" y="471.8" width="1.0" height="1.0" fill="#b03088"/><rect x="314.2" y="474.3" width="1.0" height="1.0" fill="#d85a60"/><rect x="334.1" y="468.6" width="1.0" height="1.0" fill="#c03a80"/><rect x="307.7" y="470.9" width="1.0" height="1.0" fill="#d85a60"/><rect x="315.2" y="471.0" width="1.0" height="1.0" fill="#d85a60"/><rect x="318.9" y="469.6" width="1.0" height="1.0" fill="#b03088"/><rect x="324.9" y="474.6" width="1.0" height="1.0" fill="#d85a60"/><rect x="318.0" y="475.9" width="1.0" height="1.0" fill="#a02a90"/><rect x="313.7" y="463.5" width="1.0" height="1.0" fill="#b03088"/><rect x="334.5" y="467.9" width="1.0" height="1.0" fill="#7a2aa0"/><rect x="327.4" y="472.3" width="1.0" height="1.0" fill="#d85a60"/><rect x="321.0" y="460.2" width="1.0" height="1.0" fill="#b03088"/><rect x="322.4" y="466.5" width="1.0" height="1.0" fill="#d85a60"/><rect x="307.5" y="463.8" width="1.0" height="1.0" fill="#7a2aa0"/><rect x="310.3" y="462.7" width="1.0" height="1.0" fill="#c03a80"/><rect x="315.0" y="467.1" width="1.0" height="1.0" fill="#c03a80"/><rect x="332.3" y="473.0" width="1.0" height="1.0" fill="#7a2aa0"/><rect x="322.1" y="471.4" width="1.0" height="1.0" fill="#7a2aa0"/><rect x="323.1" y="468.4" width="1.0" height="1.0" fill="#7a2aa0"/><rect x="324.3" y="467.3" width="1.0" height="1.0" fill="#a02a90"/><rect x="320.3" y="470.4" width="1.0" height="1.0" fill="#b03088"/><rect x="314.4" y="473.5" width="1.0" height="1.0" fill="#c03a80"/><rect x="315.1" y="473.8" width="1.0" height="1.0" fill="#c03a80"/><rect x="331.8" y="469.8" width="1.0" height="1.0" fill="#7a2aa0"/><rect x="323.7" y="464.6" width="1.0" height="1.0" fill="#d85a60"/><rect x="313.0" y="465.1" width="1.0" height="1.0" fill="#a02a90"/><rect x="317.9" y="471.2" width="1.0" height="1.0" fill="#b03088"/><rect x="335.9" y="471.3" width="1.0" height="1.0" fill="#b03088"/><rect x="320.0" y="464.3" width="1.0" height="1.0" fill="#d85a60"/><rect x="323.0" y="468.5" width="1.0" height="1.0" fill="#b03088"/><rect x="336.5" y="465.9" width="1.0" height="1.0" fill="#b03088"/><rect x="331.3" y="468.7" width="1.0" height="1.0" fill="#7a2aa0"/><rect x="311.4" y="465.6" width="1.0" height="1.0" fill="#b03088"/><rect x="327.4" y="466.2" width="1.0" height="1.0" fill="#7a2aa0"/><rect x="315.2" y="466.9" width="1.0" height="1.0" fill="#d85a60"/><rect x="315.4" y="473.2" width="1.0" height="1.0" fill="#c03a80"/><rect x="313.0" y="464.0" width="1.0" height="1.0" fill="#c03a80"/><rect x="311.8" y="473.7" width="1.0" height="1.0" fill="#7a2aa0"/><rect x="327.5" y="466.5" width="1.0" height="1.0" fill="#c03a80"/><rect x="334.5" y="468.9" width="1.0" height="1.0" fill="#d85a60"/><rect x="314.6" y="470.6" width="1.0" height="1.0" fill="#7a2aa0"/><rect x="310.0" y="463.1" width="1.0" height="1.0" fill="#7a2aa0"/><rect x="330.4" y="471.2" width="1.0" height="1.0" fill="#d85a60"/><rect x="303.2" y="470.8" width="1.0" height="1.0" fill="#a02a90"/><rect x="332.0" y="473.4" width="1.0" height="1.0" fill="#b03088"/><rect x="319.9" y="475.0" width="1.0" height="1.0" fill="#d85a60"/><rect x="309.9" y="473.8" width="1.0" height="1.0" fill="#a02a90"/><rect x="317.1" y="461.0" width="1.0" height="1.0" fill="#c03a80"/><rect x="334.7" y="464.6" width="1.0" height="1.0" fill="#7a2aa0"/><rect x="310.6" y="469.8" width="1.3" height="1.3" fill="#f8e040"/><rect x="314.0" y="472.1" width="1.3" height="1.3" fill="#f8e040"/><rect x="320.4" y="470.4" width="1.3" height="1.3" fill="#f8e040"/><rect x="314.8" y="471.6" width="1.3" height="1.3" fill="#f8c030"/><rect x="315.0" y="468.3" width="1.3" height="1.3" fill="#f8c030"/><rect x="317.1" y="472.0" width="1.3" height="1.3" fill="#f8e040"/><rect x="312.0" y="471.7" width="1.3" height="1.3" fill="#f8c030"/><rect x="313.7" y="472.2" width="1.3" height="1.3" fill="#f8c030"/><rect x="313.2" y="478.3" width="1.0" height="1.0" fill="#c03a80"/><rect x="309.5" y="477.3" width="1.0" height="1.0" fill="#c03a80"/><rect x="308.4" y="477.6" width="1.0" height="1.0" fill="#e0603a"/><rect x="308.2" y="478.5" width="1.0" height="1.0" fill="#c03a80"/><rect x="309.8" y="478.3" width="1.0" height="1.0" fill="#c03a80"/><rect x="312.2" y="477.1" width="1.0" height="1.0" fill="#c03a80"/><rect x="310.0" y="476.7" width="1.0" height="1.0" fill="#e0603a"/><rect x="309.0" y="478.9" width="1.0" height="1.0" fill="#c03a80"/><rect x="312.0" y="479.5" width="1.0" height="1.0" fill="#e0603a"/><rect x="309.4" y="477.1" width="1.0" height="1.0" fill="#c03a80"/><rect x="311.5" y="479.0" width="1.0" height="1.0" fill="#c03a80"/><rect x="307.6" y="479.2" width="1.0" height="1.0" fill="#c03a80"/></g><rect x="318.6" y="433.4" width="0.7" height="0.7" fill="#6a2a9e"/><rect x="306.8" y="429.1" width="0.7" height="0.7" fill="#a0309a"/><rect x="311.4" y="429.2" width="0.7" height="0.7" fill="#a0309a"/><rect x="315.9" y="429.0" width="0.7" height="0.7" fill="#a0309a"/><rect x="311.7" y="435.5" width="0.7" height="0.7" fill="#a0309a"/><rect x="311.2" y="420.5" width="0.7" height="0.7" fill="#6a2a9e"/><rect x="315.6" y="432.4" width="0.7" height="0.7" fill="#6a2a9e"/><rect x="321.7" y="436.1" width="0.7" height="0.7" fill="#a0309a"/><rect x="313.7" y="425.7" width="0.7" height="0.7" fill="#6a2a9e"/><rect x="313.8" y="433.4" width="0.7" height="0.7" fill="#6a2a9e"/><rect x="314.2" y="444.0" width="0.7" height="0.7" fill="#a0309a"/><rect x="317.9" y="442.1" width="0.7" height="0.7" fill="#a0309a"/><rect x="315.7" y="444.3" width="0.7" height="0.7" fill="#6a2a9e"/><rect x="315.5" y="441.4" width="0.7" height="0.7" fill="#a0309a"/><rect x="323.9" y="439.8" width="0.5" height="0.5" fill="#fff"/><rect x="318.2" y="423.6" width="0.5" height="0.5" fill="#fff"/><rect x="313.5" y="445.4" width="0.5" height="0.5" fill="#fff"/><rect x="307.6" y="429.0" width="0.5" height="0.5" fill="#fff"/><rect x="310.5" y="420.8" width="0.5" height="0.5" fill="#fff"/><rect x="314.2" y="426.5" width="0.5" height="0.5" fill="#fff"/><rect x="317.7" y="437.1" width="0.5" height="0.5" fill="#fff"/><rect x="318.0" y="445.2" width="0.5" height="0.5" fill="#fff"/><rect x="309.9" y="424.1" width="0.5" height="0.5" fill="#fff"/><rect x="318.2" y="437.0" width="0.5" height="0.5" fill="#fff"/><rect x="318.3" y="444.9" width="0.5" height="0.5" fill="#fff"/><rect x="313.1" y="423.3" width="0.5" height="0.5" fill="#fff"/><rect x="308.6" y="428.8" width="0.5" height="0.5" fill="#fff"/><rect x="315.7" y="450.3" width="0.5" height="0.5" fill="#fff"/><rect x="315.4" y="422.2" width="0.5" height="0.5" fill="#fff"/><rect x="313.8" y="447.8" width="0.5" height="0.5" fill="#fff"/><rect x="316.7" y="429.7" width="0.5" height="0.5" fill="#fff"/><rect x="318.5" y="430.3" width="0.5" height="0.5" fill="#fff"/><rect x="315.1" y="449.9" width="0.5" height="0.5" fill="#fff"/><rect x="310.2" y="425.2" width="0.5" height="0.5" fill="#fff"/><rect x="312.1" y="426.3" width="0.5" height="0.5" fill="#fff"/><rect x="316.8" y="423.1" width="0.5" height="0.5" fill="#fff"/><rect x="313.6" y="430.9" width="0.5" height="0.5" fill="#fff"/><rect x="315.6" y="449.1" width="0.5" height="0.5" fill="#fff"/><rect x="310.8" y="443.9" width="0.5" height="0.5" fill="#fff"/><rect x="312.7" y="428.8" width="0.5" height="0.5" fill="#fff"/><rect x="313.9" y="447.1" width="0.5" height="0.5" fill="#fff"/><rect x="316.2" y="443.8" width="0.5" height="0.5" fill="#fff"/><rect x="312.5" y="437.3" width="0.5" height="0.5" fill="#fff"/><rect x="318.2" y="427.7" width="0.5" height="0.5" fill="#fff"/><rect x="331.9" y="468.4" width="0.45" height="0.45" fill="#fff"/><rect x="328.3" y="473.5" width="0.45" height="0.45" fill="#fff"/><rect x="339.9" y="484.3" width="0.45" height="0.45" fill="#fff"/><rect x="342.7" y="488.7" width="0.45" height="0.45" fill="#fff"/><rect x="317.5" y="472.1" width="0.45" height="0.45" fill="#fff"/><rect x="320.3" y="478.0" width="0.45" height="0.45" fill="#fff"/><rect x="317.8" y="478.2" width="0.45" height="0.45" fill="#fff"/><rect x="341.0" y="490.4" width="0.45" height="0.45" fill="#fff"/><rect x="333.3" y="481.2" width="0.45" height="0.45" fill="#fff"/><rect x="342.9" y="480.4" width="0.45" height="0.45" fill="#fff"/><rect x="329.5" y="465.5" width="0.45" height="0.45" fill="#fff"/><rect x="308.2" y="465.4" width="0.45" height="0.45" fill="#fff"/><rect x="330.0" y="470.8" width="0.45" height="0.45" fill="#fff"/><rect x="327.9" y="477.8" width="0.45" height="0.45" fill="#fff"/><rect x="326.7" y="464.0" width="0.45" height="0.45" fill="#fff"/><rect x="337.3" y="481.8" width="0.45" height="0.45" fill="#fff"/><rect x="327.2" y="479.1" width="0.45" height="0.45" fill="#fff"/><rect x="310.3" y="480.5" width="0.45" height="0.45" fill="#fff"/><rect x="323.7" y="462.9" width="0.45" height="0.45" fill="#fff"/><rect x="335.9" y="483.7" width="0.45" height="0.45" fill="#fff"/><rect x="327.4" y="487.3" width="0.45" height="0.45" fill="#fff"/><rect x="326.4" y="485.5" width="0.45" height="0.45" fill="#fff"/><rect x="317.8" y="462.6" width="0.45" height="0.45" fill="#fff"/><rect x="338.2" y="473.1" width="0.45" height="0.45" fill="#fff"/><rect x="324.9" y="468.1" width="0.45" height="0.45" fill="#fff"/>
<path d="M313.3 453.6 L313.3 462.2 M311.4 459.8 L313.3 462.4 L315.2 459.8" fill="none" stroke="#333" stroke-width="0.8"/>
<path d="M348.2 451.4 L348.2 459.4 M346.5 457.2 L348.2 459.6 L349.9 457.2" fill="none" stroke="#e03030" stroke-width="0.7"/>
</g>
<g transform="translate(0 140.5)">
<rect x="347.2" y="418.6" width="5.2" height="24" fill="url(#plasma)"/>
<text x="355.60" y="424.10" font-size="7.0" text-anchor="start" fill="#231f20" >0.6</text>
<text x="355.60" y="431.23" font-size="7.0" text-anchor="start" fill="#231f20" >0.4</text>
<text x="355.60" y="438.37" font-size="7.0" text-anchor="start" fill="#231f20" >0.2</text>
<text x="355.60" y="445.50" font-size="7.0" text-anchor="start" fill="#231f20" >0.0</text>
</g>
</g>
<g transform="translate(146.7 0)">
<text x="309.00" y="550.50" font-size="9.6" text-anchor="middle" fill="#231f20" >PCNA</text>
<line x1="262.00" y1="558.20" x2="262.00" y2="643.40" stroke="#231f20" stroke-width="1.1" />
<line x1="261.50" y1="642.90" x2="351.20" y2="642.90" stroke="#231f20" stroke-width="1.1" />
<line x1="259.20" y1="580.60" x2="262.00" y2="580.60" stroke="#231f20" stroke-width="0.9" />
<text x="256.60" y="583.40" font-size="7.6" text-anchor="end" fill="#231f20" >10</text>
<line x1="259.20" y1="609.30" x2="262.00" y2="609.30" stroke="#231f20" stroke-width="0.9" />
<text x="256.60" y="612.10" font-size="7.6" text-anchor="end" fill="#231f20" >0</text>
<line x1="259.20" y1="638.10" x2="262.00" y2="638.10" stroke="#231f20" stroke-width="0.9" />
<text x="256.60" y="640.90" font-size="7.6" text-anchor="end" fill="#231f20" >&#8722;10</text>
<line x1="280.25" y1="642.90" x2="280.25" y2="645.60" stroke="#231f20" stroke-width="0.9" />
<text x="277.65" y="654.60" font-size="7.6" text-anchor="middle" fill="#231f20" >&#8722;10</text>
<line x1="300.40" y1="642.90" x2="300.40" y2="645.60" stroke="#231f20" stroke-width="0.9" />
<text x="297.80" y="654.60" font-size="7.6" text-anchor="middle" fill="#231f20" >&#8722;5</text>
<line x1="320.60" y1="642.90" x2="320.60" y2="645.60" stroke="#231f20" stroke-width="0.9" />
<text x="320.60" y="654.60" font-size="7.6" text-anchor="middle" fill="#231f20" >0</text>
<line x1="340.80" y1="642.90" x2="340.80" y2="645.60" stroke="#231f20" stroke-width="0.9" />
<text x="340.80" y="654.60" font-size="7.6" text-anchor="middle" fill="#231f20" >5</text>
<text x="308.70" y="667.30" font-size="8.8" text-anchor="middle" fill="#231f20" textLength="21.4" lengthAdjust="spacingAndGlyphs" stroke="#231f20" stroke-width="0.25">UMAP 1</text>
<text x="0" y="0" font-size="8.8" text-anchor="middle" fill="#231f20" textLength="21.4" lengthAdjust="spacingAndGlyphs" stroke="#231f20" stroke-width="0.25" transform="translate(236.8 600.6) rotate(-90)">UMAP 2</text>
<g transform="translate(0 140.8)">
<clipPath id="clipPCNA"><path d="M305.0 427.8 L306.7 425.1 L309.1 420.4 L310.8 419.4 L313.5 421.1 L316.8 421.7 L318.5 423.7 L319.5 427.1 L318.8 430.5 L320.2 433.8 L322.2 436.5 L325.6 436.5 L328.3 437.9 L327.9 439.9 L323.6 443.3 L322.2 446.6 L319.5 450.0 L315.5 451.3 L312.4 449.3 L310.8 445.3 L309.4 441.9 L310.1 439.2 L311.1 435.2 L313.5 433.2 L315.5 431.8 L312.1 430.5 L307.4 431.2 L305.4 429.8Z M305.4 450.5 L307.5 447.3 L309.4 449.0 L307.5 452.0Z M285.2 454.3 L288.7 454.0 L289.5 457.2 L292.1 459.5 L292.7 461.8 L295.0 463.5 L297.3 463.8 L299.6 465.3 L301.9 467.0 L304.8 468.2 L310.0 466.4 L310.0 471.0 L305.4 471.0 L301.3 469.3 L297.3 468.7 L293.8 468.4 L291.0 468.4 L289.8 467.3 L291.5 465.8 L289.8 463.0 L286.9 460.1 L285.5 457.8 L284.9 455.5Z M276.5 466.3 L278.5 466.6 L280.6 468.5 L281.7 469.3 L283.5 471.2 L285.8 473.0 L288.7 474.5 L291.5 475.3 L295.0 474.8 L299.0 474.0 L303.1 472.6 L306.0 472.0 L307.7 473.9 L307.1 477.4 L304.2 476.8 L300.2 477.4 L297.3 478.0 L295.6 480.3 L294.4 483.5 L293.3 480.0 L291.0 477.4 L288.1 476.4 L284.6 475.3 L282.0 473.0 L279.5 470.0 L277.0 468.0Z M275.0 480.0 L276.0 480.3 L276.3 482.5 L278.5 484.0 L281.0 483.0 L284.0 481.5 L286.2 480.2 L286.6 481.0 L284.0 483.3 L281.0 485.5 L278.5 487.5 L277.0 488.3 L276.3 486.5 L275.2 484.0Z M304.6 466.0 L309.2 464.2 L313.8 462.8 L318.5 462.2 L323.1 460.8 L324.8 460.2 L330.0 461.3 L336.9 461.9 L341.5 461.3 L345.0 460.2 L348.5 459.6 L351.9 460.2 L353.7 463.1 L352.5 466.5 L348.5 470.0 L343.8 472.3 L343.3 475.8 L344.4 481.5 L344.4 487.3 L343.3 490.8 L339.8 491.9 L339.2 494.8 L338.1 498.3 L334.6 498.8 L332.3 496.0 L330.6 493.1 L328.8 490.8 L327.1 488.5 L326.0 488.5 L324.8 490.8 L323.1 493.1 L320.2 492.5 L319.6 489.6 L321.3 486.7 L324.2 485.0 L325.4 481.5 L321.9 479.8 L317.3 479.2 L313.8 480.4 L311.5 481.5 L308.1 481.0 L306.9 478.7 L308.7 476.9 L311.5 475.8 L309.0 474.5 L306.5 473.5 L305.5 472.5 L307.7 471.0 L310.0 471.0 L306.0 469.5Z"/></clipPath><path d="M305.0 427.8 L306.7 425.1 L309.1 420.4 L310.8 419.4 L313.5 421.1 L316.8 421.7 L318.5 423.7 L319.5 427.1 L318.8 430.5 L320.2 433.8 L322.2 436.5 L325.6 436.5 L328.3 437.9 L327.9 439.9 L323.6 443.3 L322.2 446.6 L319.5 450.0 L315.5 451.3 L312.4 449.3 L310.8 445.3 L309.4 441.9 L310.1 439.2 L311.1 435.2 L313.5 433.2 L315.5 431.8 L312.1 430.5 L307.4 431.2 L305.4 429.8Z M305.4 450.5 L307.5 447.3 L309.4 449.0 L307.5 452.0Z M285.2 454.3 L288.7 454.0 L289.5 457.2 L292.1 459.5 L292.7 461.8 L295.0 463.5 L297.3 463.8 L299.6 465.3 L301.9 467.0 L304.8 468.2 L310.0 466.4 L310.0 471.0 L305.4 471.0 L301.3 469.3 L297.3 468.7 L293.8 468.4 L291.0 468.4 L289.8 467.3 L291.5 465.8 L289.8 463.0 L286.9 460.1 L285.5 457.8 L284.9 455.5Z M276.5 466.3 L278.5 466.6 L280.6 468.5 L281.7 469.3 L283.5 471.2 L285.8 473.0 L288.7 474.5 L291.5 475.3 L295.0 474.8 L299.0 474.0 L303.1 472.6 L306.0 472.0 L307.7 473.9 L307.1 477.4 L304.2 476.8 L300.2 477.4 L297.3 478.0 L295.6 480.3 L294.4 483.5 L293.3 480.0 L291.0 477.4 L288.1 476.4 L284.6 475.3 L282.0 473.0 L279.5 470.0 L277.0 468.0Z M275.0 480.0 L276.0 480.3 L276.3 482.5 L278.5 484.0 L281.0 483.0 L284.0 481.5 L286.2 480.2 L286.6 481.0 L284.0 483.3 L281.0 485.5 L278.5 487.5 L277.0 488.3 L276.3 486.5 L275.2 484.0Z M304.6 466.0 L309.2 464.2 L313.8 462.8 L318.5 462.2 L323.1 460.8 L324.8 460.2 L330.0 461.3 L336.9 461.9 L341.5 461.3 L345.0 460.2 L348.5 459.6 L351.9 460.2 L353.7 463.1 L352.5 466.5 L348.5 470.0 L343.8 472.3 L343.3 475.8 L344.4 481.5 L344.4 487.3 L343.3 490.8 L339.8 491.9 L339.2 494.8 L338.1 498.3 L334.6 498.8 L332.3 496.0 L330.6 493.1 L328.8 490.8 L327.1 488.5 L326.0 488.5 L324.8 490.8 L323.1 493.1 L320.2 492.5 L319.6 489.6 L321.3 486.7 L324.2 485.0 L325.4 481.5 L321.9 479.8 L317.3 479.2 L313.8 480.4 L311.5 481.5 L308.1 481.0 L306.9 478.7 L308.7 476.9 L311.5 475.8 L309.0 474.5 L306.5 473.5 L305.5 472.5 L307.7 471.0 L310.0 471.0 L306.0 469.5Z" fill="#24136e"/><path d="M305.0 427.8 L306.7 425.1 L309.1 420.4 L310.8 419.4 L313.5 421.1 L316.8 421.7 L318.5 423.7 L319.5 427.1 L318.8 430.5 L320.2 433.8 L322.2 436.5 L325.6 436.5 L328.3 437.9 L327.9 439.9 L323.6 443.3 L322.2 446.6 L319.5 450.0 L315.5 451.3 L312.4 449.3 L310.8 445.3 L309.4 441.9 L310.1 439.2 L311.1 435.2 L313.5 433.2 L315.5 431.8 L312.1 430.5 L307.4 431.2 L305.4 429.8Z M305.4 450.5 L307.5 447.3 L309.4 449.0 L307.5 452.0Z M285.2 454.3 L288.7 454.0 L289.5 457.2 L292.1 459.5 L292.7 461.8 L295.0 463.5 L297.3 463.8 L299.6 465.3 L301.9 467.0 L304.8 468.2 L310.0 466.4 L310.0 471.0 L305.4 471.0 L301.3 469.3 L297.3 468.7 L293.8 468.4 L291.0 468.4 L289.8 467.3 L291.5 465.8 L289.8 463.0 L286.9 460.1 L285.5 457.8 L284.9 455.5Z M276.5 466.3 L278.5 466.6 L280.6 468.5 L281.7 469.3 L283.5 471.2 L285.8 473.0 L288.7 474.5 L291.5 475.3 L295.0 474.8 L299.0 474.0 L303.1 472.6 L306.0 472.0 L307.7 473.9 L307.1 477.4 L304.2 476.8 L300.2 477.4 L297.3 478.0 L295.6 480.3 L294.4 483.5 L293.3 480.0 L291.0 477.4 L288.1 476.4 L284.6 475.3 L282.0 473.0 L279.5 470.0 L277.0 468.0Z M275.0 480.0 L276.0 480.3 L276.3 482.5 L278.5 484.0 L281.0 483.0 L284.0 481.5 L286.2 480.2 L286.6 481.0 L284.0 483.3 L281.0 485.5 L278.5 487.5 L277.0 488.3 L276.3 486.5 L275.2 484.0Z M304.6 466.0 L309.2 464.2 L313.8 462.8 L318.5 462.2 L323.1 460.8 L324.8 460.2 L330.0 461.3 L336.9 461.9 L341.5 461.3 L345.0 460.2 L348.5 459.6 L351.9 460.2 L353.7 463.1 L352.5 466.5 L348.5 470.0 L343.8 472.3 L343.3 475.8 L344.4 481.5 L344.4 487.3 L343.3 490.8 L339.8 491.9 L339.2 494.8 L338.1 498.3 L334.6 498.8 L332.3 496.0 L330.6 493.1 L328.8 490.8 L327.1 488.5 L326.0 488.5 L324.8 490.8 L323.1 493.1 L320.2 492.5 L319.6 489.6 L321.3 486.7 L324.2 485.0 L325.4 481.5 L321.9 479.8 L317.3 479.2 L313.8 480.4 L311.5 481.5 L308.1 481.0 L306.9 478.7 L308.7 476.9 L311.5 475.8 L309.0 474.5 L306.5 473.5 L305.5 472.5 L307.7 471.0 L310.0 471.0 L306.0 469.5Z" fill="#36209a" transform="translate(320.7 468.3) scale(0.985) translate(-320.7 -468.3)" opacity="0"/><g clip-path="url(#clipPCNA)"><path d="M305.0 427.8 L306.7 425.1 L309.1 420.4 L310.8 419.4 L313.5 421.1 L316.8 421.7 L318.5 423.7 L319.5 427.1 L318.8 430.5 L320.2 433.8 L322.2 436.5 L325.6 436.5 L328.3 437.9 L327.9 439.9 L323.6 443.3 L322.2 446.6 L319.5 450.0 L315.5 451.3 L312.4 449.3 L310.8 445.3 L309.4 441.9 L310.1 439.2 L311.1 435.2 L313.5 433.2 L315.5 431.8 L312.1 430.5 L307.4 431.2 L305.4 429.8Z M305.4 450.5 L307.5 447.3 L309.4 449.0 L307.5 452.0Z M285.2 454.3 L288.7 454.0 L289.5 457.2 L292.1 459.5 L292.7 461.8 L295.0 463.5 L297.3 463.8 L299.6 465.3 L301.9 467.0 L304.8 468.2 L310.0 466.4 L310.0 471.0 L305.4 471.0 L301.3 469.3 L297.3 468.7 L293.8 468.4 L291.0 468.4 L289.8 467.3 L291.5 465.8 L289.8 463.0 L286.9 460.1 L285.5 457.8 L284.9 455.5Z M276.5 466.3 L278.5 466.6 L280.6 468.5 L281.7 469.3 L283.5 471.2 L285.8 473.0 L288.7 474.5 L291.5 475.3 L295.0 474.8 L299.0 474.0 L303.1 472.6 L306.0 472.0 L307.7 473.9 L307.1 477.4 L304.2 476.8 L300.2 477.4 L297.3 478.0 L295.6 480.3 L294.4 483.5 L293.3 480.0 L291.0 477.4 L288.1 476.4 L284.6 475.3 L282.0 473.0 L279.5 470.0 L277.0 468.0Z M275.0 480.0 L276.0 480.3 L276.3 482.5 L278.5 484.0 L281.0 483.0 L284.0 481.5 L286.2 480.2 L286.6 481.0 L284.0 483.3 L281.0 485.5 L278.5 487.5 L277.0 488.3 L276.3 486.5 L275.2 484.0Z M304.6 466.0 L309.2 464.2 L313.8 462.8 L318.5 462.2 L323.1 460.8 L324.8 460.2 L330.0 461.3 L336.9 461.9 L341.5 461.3 L345.0 460.2 L348.5 459.6 L351.9 460.2 L353.7 463.1 L352.5 466.5 L348.5 470.0 L343.8 472.3 L343.3 475.8 L344.4 481.5 L344.4 487.3 L343.3 490.8 L339.8 491.9 L339.2 494.8 L338.1 498.3 L334.6 498.8 L332.3 496.0 L330.6 493.1 L328.8 490.8 L327.1 488.5 L326.0 488.5 L324.8 490.8 L323.1 493.1 L320.2 492.5 L319.6 489.6 L321.3 486.7 L324.2 485.0 L325.4 481.5 L321.9 479.8 L317.3 479.2 L313.8 480.4 L311.5 481.5 L308.1 481.0 L306.9 478.7 L308.7 476.9 L311.5 475.8 L309.0 474.5 L306.5 473.5 L305.5 472.5 L307.7 471.0 L310.0 471.0 L306.0 469.5Z" fill="none" stroke="#36209a" stroke-width="0"/></g><g clip-path="url(#clipPCNA)"><rect x="260" y="410" width="100" height="95" fill="#36209a"/></g><path d="M305.0 427.8 L306.7 425.1 L309.1 420.4 L310.8 419.4 L313.5 421.1 L316.8 421.7 L318.5 423.7 L319.5 427.1 L318.8 430.5 L320.2 433.8 L322.2 436.5 L325.6 436.5 L328.3 437.9 L327.9 439.9 L323.6 443.3 L322.2 446.6 L319.5 450.0 L315.5 451.3 L312.4 449.3 L310.8 445.3 L309.4 441.9 L310.1 439.2 L311.1 435.2 L313.5 433.2 L315.5 431.8 L312.1 430.5 L307.4 431.2 L305.4 429.8Z M305.4 450.5 L307.5 447.3 L309.4 449.0 L307.5 452.0Z M285.2 454.3 L288.7 454.0 L289.5 457.2 L292.1 459.5 L292.7 461.8 L295.0 463.5 L297.3 463.8 L299.6 465.3 L301.9 467.0 L304.8 468.2 L310.0 466.4 L310.0 471.0 L305.4 471.0 L301.3 469.3 L297.3 468.7 L293.8 468.4 L291.0 468.4 L289.8 467.3 L291.5 465.8 L289.8 463.0 L286.9 460.1 L285.5 457.8 L284.9 455.5Z M276.5 466.3 L278.5 466.6 L280.6 468.5 L281.7 469.3 L283.5 471.2 L285.8 473.0 L288.7 474.5 L291.5 475.3 L295.0 474.8 L299.0 474.0 L303.1 472.6 L306.0 472.0 L307.7 473.9 L307.1 477.4 L304.2 476.8 L300.2 477.4 L297.3 478.0 L295.6 480.3 L294.4 483.5 L293.3 480.0 L291.0 477.4 L288.1 476.4 L284.6 475.3 L282.0 473.0 L279.5 470.0 L277.0 468.0Z M275.0 480.0 L276.0 480.3 L276.3 482.5 L278.5 484.0 L281.0 483.0 L284.0 481.5 L286.2 480.2 L286.6 481.0 L284.0 483.3 L281.0 485.5 L278.5 487.5 L277.0 488.3 L276.3 486.5 L275.2 484.0Z M304.6 466.0 L309.2 464.2 L313.8 462.8 L318.5 462.2 L323.1 460.8 L324.8 460.2 L330.0 461.3 L336.9 461.9 L341.5 461.3 L345.0 460.2 L348.5 459.6 L351.9 460.2 L353.7 463.1 L352.5 466.5 L348.5 470.0 L343.8 472.3 L343.3 475.8 L344.4 481.5 L344.4 487.3 L343.3 490.8 L339.8 491.9 L339.2 494.8 L338.1 498.3 L334.6 498.8 L332.3 496.0 L330.6 493.1 L328.8 490.8 L327.1 488.5 L326.0 488.5 L324.8 490.8 L323.1 493.1 L320.2 492.5 L319.6 489.6 L321.3 486.7 L324.2 485.0 L325.4 481.5 L321.9 479.8 L317.3 479.2 L313.8 480.4 L311.5 481.5 L308.1 481.0 L306.9 478.7 L308.7 476.9 L311.5 475.8 L309.0 474.5 L306.5 473.5 L305.5 472.5 L307.7 471.0 L310.0 471.0 L306.0 469.5Z" fill="none" stroke="#22126a" stroke-width="0.5"/><ellipse cx="312.8" cy="424.8" rx="3.0" ry="2.1" fill="#fff"/><ellipse cx="314.5" cy="443.5" rx="1.3" ry="0.6" fill="#fff" opacity="0.9"/><ellipse cx="317.5" cy="444.8" rx="1.1" ry="0.6" fill="#fff" opacity="0.9"/><ellipse cx="315.5" cy="446.2" rx="1.4" ry="0.5" fill="#fff" opacity="0.9"/><ellipse cx="319.3" cy="443.2" rx="0.8" ry="0.6" fill="#fff" opacity="0.9"/><ellipse cx="315" cy="435.2" rx="1.0" ry="0.5" fill="#fff" opacity="0.9"/><ellipse cx="318" cy="436.5" rx="0.8" ry="0.6" fill="#fff" opacity="0.9"/><ellipse cx="313.8" cy="437.8" rx="0.8" ry="0.5" fill="#fff" opacity="0.9"/><rect x="265.9" y="467.3" width="1.8" height="1.7" fill="#36209a"/><rect x="268.6" y="466.3" width="1.8" height="1.7" fill="#36209a"/><rect x="270.7" y="467.8" width="1.8" height="1.7" fill="#36209a"/><rect x="272.4" y="467.0" width="1.8" height="1.7" fill="#36209a"/><rect x="273.8" y="468.8" width="1.8" height="1.7" fill="#36209a"/><rect x="274.2" y="471.1" width="1.8" height="1.7" fill="#36209a"/><rect x="268.3" y="469.4" width="1.8" height="1.7" fill="#36209a"/><rect x="267.6" y="472.2" width="1.8" height="1.7" fill="#36209a"/><rect x="269.7" y="473.2" width="1.8" height="1.7" fill="#36209a"/><rect x="265.2" y="471.1" width="1.8" height="1.7" fill="#36209a"/><rect x="265.5" y="475.3" width="1.8" height="1.7" fill="#36209a"/><rect x="266.9" y="477.0" width="1.8" height="1.7" fill="#36209a"/><rect x="269.7" y="477.4" width="1.8" height="1.7" fill="#36209a"/><rect x="272.1" y="468.0" width="1.8" height="1.7" fill="#36209a"/><rect x="273.5" y="470.8" width="1.8" height="1.7" fill="#36209a"/><rect x="274.2" y="469.4" width="1.8" height="1.7" fill="#36209a"/><rect x="266.2" y="468.8" width="1.8" height="1.7" fill="#36209a"/><rect x="271.4" y="469.9" width="1.8" height="1.7" fill="#36209a"/><rect x="269.2" y="468.0" width="1.8" height="1.7" fill="#36209a"/><g clip-path="url(#clipPCNA)" filter="url(#blur1)"><ellipse cx="346" cy="464" rx="9" ry="5" fill="#e8703a" opacity="0.95"/><ellipse cx="348.5" cy="463" rx="5" ry="3" fill="#f8c030" opacity="0.95"/><ellipse cx="350" cy="462.5" rx="2.5" ry="1.6" fill="#f8e040" opacity="0.9"/><ellipse cx="326" cy="467" rx="14" ry="7" fill="#8a2a9a" opacity="0.75"/><ellipse cx="310" cy="468" rx="7" ry="4" fill="#8a2a9a" opacity="0.6"/><ellipse cx="291" cy="475" rx="3.5" ry="2.5" fill="#e07040" opacity="0.75"/><ellipse cx="327" cy="435.5" rx="1.5" ry="1.5" fill="#f08040" opacity="0.8"/><ellipse cx="278" cy="486" rx="2" ry="1.5" fill="#d05060" opacity="0.6"/><ellipse cx="310.5" cy="478.5" rx="3.5" ry="2.4" fill="#8a2a9a" opacity="0.7"/></g><rect x="331.2" y="472.9" width="0.7" height="0.7" fill="#7a2aa0"/><rect x="310.2" y="464.4" width="0.7" height="0.7" fill="#6a2a9e"/><rect x="338.9" y="484.8" width="0.7" height="0.7" fill="#6a2a9e"/><rect x="331.4" y="475.7" width="0.7" height="0.7" fill="#6a2a9e"/><rect x="311.0" y="479.1" width="0.7" height="0.7" fill="#a0309a"/><rect x="332.6" y="481.8" width="0.7" height="0.7" fill="#6a2a9e"/><rect x="347.0" y="468.8" width="0.7" height="0.7" fill="#c04880"/><rect x="317.9" y="470.4" width="0.7" height="0.7" fill="#6a2a9e"/><rect x="334.4" y="490.7" width="0.7" height="0.7" fill="#7a2aa0"/><rect x="325.3" y="487.8" width="0.7" height="0.7" fill="#a0309a"/><rect x="317.3" y="463.3" width="0.7" height="0.7" fill="#a0309a"/><rect x="311.8" y="475.9" width="0.7" height="0.7" fill="#a0309a"/><rect x="339.8" y="487.0" width="0.7" height="0.7" fill="#6a2a9e"/><rect x="336.4" y="485.1" width="0.7" height="0.7" fill="#a0309a"/><rect x="338.7" y="466.4" width="0.7" height="0.7" fill="#c04880"/><rect x="338.4" y="466.2" width="0.7" height="0.7" fill="#a0309a"/><rect x="348.7" y="466.8" width="0.7" height="0.7" fill="#c04880"/><rect x="312.2" y="478.5" width="0.7" height="0.7" fill="#6a2a9e"/><rect x="327.4" y="463.4" width="0.7" height="0.7" fill="#7a2aa0"/><rect x="350.1" y="468.2" width="0.7" height="0.7" fill="#c04880"/><rect x="322.0" y="490.5" width="0.7" height="0.7" fill="#6a2a9e"/><rect x="328.1" y="487.7" width="0.7" height="0.7" fill="#7a2aa0"/><rect x="348.4" y="469.9" width="0.7" height="0.7" fill="#7a2aa0"/><rect x="311.9" y="468.2" width="0.7" height="0.7" fill="#6a2a9e"/><rect x="337.6" y="470.0" width="0.7" height="0.7" fill="#7a2aa0"/><rect x="324.3" y="473.3" width="0.7" height="0.7" fill="#6a2a9e"/><rect x="331.0" y="481.9" width="0.7" height="0.7" fill="#7a2aa0"/><rect x="324.1" y="476.4" width="0.7" height="0.7" fill="#c04880"/><rect x="336.1" y="475.6" width="0.7" height="0.7" fill="#7a2aa0"/><rect x="343.2" y="479.0" width="0.7" height="0.7" fill="#c04880"/><rect x="336.4" y="484.3" width="0.7" height="0.7" fill="#c04880"/><rect x="333.9" y="497.4" width="0.7" height="0.7" fill="#6a2a9e"/><rect x="332.0" y="494.3" width="0.7" height="0.7" fill="#a0309a"/><rect x="312.4" y="465.0" width="0.7" height="0.7" fill="#7a2aa0"/><rect x="324.1" y="490.0" width="0.7" height="0.7" fill="#c04880"/><rect x="327.2" y="468.9" width="0.7" height="0.7" fill="#6a2a9e"/><rect x="338.6" y="468.7" width="0.7" height="0.7" fill="#c04880"/><rect x="342.2" y="477.7" width="0.7" height="0.7" fill="#6a2a9e"/><rect x="326.7" y="464.8" width="0.7" height="0.7" fill="#a0309a"/><rect x="322.9" y="487.4" width="0.7" height="0.7" fill="#7a2aa0"/><rect x="342.9" y="476.2" width="0.7" height="0.7" fill="#7a2aa0"/><rect x="339.8" y="466.3" width="0.7" height="0.7" fill="#7a2aa0"/><rect x="335.5" y="491.0" width="0.7" height="0.7" fill="#c04880"/><rect x="325.4" y="464.9" width="0.7" height="0.7" fill="#7a2aa0"/><rect x="333.4" y="466.5" width="0.7" height="0.7" fill="#6a2a9e"/><rect x="345.8" y="469.5" width="0.7" height="0.7" fill="#c04880"/><rect x="339.0" y="490.5" width="0.7" height="0.7" fill="#a0309a"/><rect x="335.6" y="467.0" width="0.7" height="0.7" fill="#c04880"/><rect x="326.6" y="466.8" width="0.7" height="0.7" fill="#6a2a9e"/><rect x="342.2" y="488.6" width="0.7" height="0.7" fill="#6a2a9e"/><rect x="342.3" y="484.1" width="0.7" height="0.7" fill="#a0309a"/><rect x="333.9" y="478.4" width="0.7" height="0.7" fill="#a0309a"/><rect x="351.2" y="467.3" width="0.7" height="0.7" fill="#a0309a"/><rect x="346.9" y="469.5" width="0.7" height="0.7" fill="#c04880"/><rect x="336.9" y="477.5" width="0.7" height="0.7" fill="#7a2aa0"/><rect x="320.6" y="478.3" width="0.7" height="0.7" fill="#c04880"/><rect x="343.0" y="475.8" width="0.7" height="0.7" fill="#c04880"/><rect x="338.6" y="464.6" width="0.7" height="0.7" fill="#c04880"/><rect x="323.2" y="475.6" width="0.7" height="0.7" fill="#6a2a9e"/><rect x="327.6" y="471.5" width="0.7" height="0.7" fill="#7a2aa0"/><rect x="310.9" y="473.7" width="0.7" height="0.7" fill="#c04880"/><rect x="324.6" y="471.0" width="0.7" height="0.7" fill="#7a2aa0"/><rect x="328.3" y="485.3" width="0.7" height="0.7" fill="#6a2a9e"/><rect x="342.0" y="484.3" width="0.7" height="0.7" fill="#6a2a9e"/><rect x="322.4" y="474.2" width="0.7" height="0.7" fill="#a0309a"/><rect x="316.6" y="469.4" width="0.7" height="0.7" fill="#c04880"/><rect x="320.4" y="471.4" width="0.7" height="0.7" fill="#6a2a9e"/><rect x="343.2" y="464.1" width="0.7" height="0.7" fill="#c04880"/><rect x="336.3" y="467.1" width="0.7" height="0.7" fill="#6a2a9e"/><rect x="316.1" y="470.6" width="0.7" height="0.7" fill="#7a2aa0"/><rect x="308.7" y="472.9" width="0.7" height="0.7" fill="#7a2aa0"/><rect x="326.8" y="460.8" width="0.7" height="0.7" fill="#c04880"/><rect x="325.3" y="480.6" width="0.7" height="0.7" fill="#7a2aa0"/><rect x="346.2" y="468.3" width="0.7" height="0.7" fill="#6a2a9e"/><rect x="339.9" y="466.8" width="0.7" height="0.7" fill="#c04880"/><rect x="331.7" y="493.7" width="0.7" height="0.7" fill="#c04880"/><rect x="336.6" y="468.4" width="0.7" height="0.7" fill="#c04880"/><rect x="318.5" y="464.4" width="0.7" height="0.7" fill="#7a2aa0"/><rect x="340.1" y="467.8" width="0.7" height="0.7" fill="#a0309a"/><rect x="340.8" y="465.9" width="0.7" height="0.7" fill="#6a2a9e"/><rect x="328.0" y="484.6" width="0.7" height="0.7" fill="#6a2a9e"/><rect x="326.5" y="482.8" width="0.7" height="0.7" fill="#a0309a"/><rect x="339.7" y="470.1" width="0.7" height="0.7" fill="#6a2a9e"/><rect x="339.1" y="484.5" width="0.7" height="0.7" fill="#c04880"/><rect x="325.5" y="461.9" width="0.7" height="0.7" fill="#6a2a9e"/><rect x="307.5" y="467.5" width="0.7" height="0.7" fill="#a0309a"/><rect x="331.9" y="471.6" width="0.7" height="0.7" fill="#6a2a9e"/><rect x="328.7" y="483.9" width="0.7" height="0.7" fill="#c04880"/><rect x="328.2" y="473.7" width="0.7" height="0.7" fill="#a0309a"/><rect x="316.0" y="472.2" width="0.7" height="0.7" fill="#c04880"/><rect x="332.9" y="487.6" width="0.7" height="0.7" fill="#6a2a9e"/><rect x="324.9" y="489.2" width="0.7" height="0.7" fill="#a0309a"/><rect x="344.3" y="462.7" width="0.7" height="0.7" fill="#a0309a"/><rect x="339.3" y="470.9" width="0.7" height="0.7" fill="#a0309a"/><rect x="342.2" y="488.9" width="0.7" height="0.7" fill="#c04880"/><rect x="339.4" y="470.7" width="0.7" height="0.7" fill="#7a2aa0"/><rect x="342.5" y="463.6" width="0.7" height="0.7" fill="#6a2a9e"/><rect x="340.6" y="487.2" width="0.7" height="0.7" fill="#7a2aa0"/><rect x="317.6" y="467.5" width="0.7" height="0.7" fill="#7a2aa0"/><rect x="336.8" y="462.9" width="0.7" height="0.7" fill="#7a2aa0"/><rect x="316.3" y="463.4" width="0.7" height="0.7" fill="#6a2a9e"/><rect x="329.7" y="462.1" width="0.7" height="0.7" fill="#c04880"/><rect x="331.7" y="491.5" width="0.7" height="0.7" fill="#7a2aa0"/><rect x="326.3" y="475.7" width="0.7" height="0.7" fill="#6a2a9e"/><rect x="352.4" y="461.5" width="0.7" height="0.7" fill="#7a2aa0"/><rect x="331.5" y="481.8" width="0.7" height="0.7" fill="#6a2a9e"/><rect x="335.7" y="464.7" width="0.7" height="0.7" fill="#a0309a"/><rect x="327.4" y="475.4" width="0.7" height="0.7" fill="#7a2aa0"/><rect x="316.5" y="470.5" width="0.7" height="0.7" fill="#6a2a9e"/><rect x="335.5" y="496.0" width="0.7" height="0.7" fill="#6a2a9e"/><rect x="341.1" y="470.7" width="0.7" height="0.7" fill="#c04880"/><rect x="330.3" y="476.6" width="0.7" height="0.7" fill="#6a2a9e"/><rect x="325.8" y="465.5" width="0.7" height="0.7" fill="#6a2a9e"/><rect x="343.9" y="464.5" width="0.7" height="0.7" fill="#a0309a"/><rect x="333.4" y="477.1" width="0.7" height="0.7" fill="#7a2aa0"/><rect x="308.9" y="464.6" width="0.7" height="0.7" fill="#a0309a"/><rect x="322.0" y="467.3" width="0.7" height="0.7" fill="#c04880"/><rect x="329.8" y="485.4" width="0.7" height="0.7" fill="#a0309a"/><rect x="325.9" y="472.9" width="0.7" height="0.7" fill="#c04880"/><rect x="328.1" y="487.8" width="0.7" height="0.7" fill="#6a2a9e"/><rect x="334.3" y="482.7" width="0.7" height="0.7" fill="#7a2aa0"/><rect x="316.5" y="465.9" width="0.7" height="0.7" fill="#6a2a9e"/><rect x="342.5" y="469.6" width="0.7" height="0.7" fill="#6a2a9e"/><rect x="332.3" y="473.2" width="0.7" height="0.7" fill="#a0309a"/><rect x="312.2" y="476.1" width="0.7" height="0.7" fill="#a0309a"/><rect x="320.8" y="467.2" width="0.7" height="0.7" fill="#6a2a9e"/><rect x="344.6" y="470.7" width="0.7" height="0.7" fill="#6a2a9e"/><rect x="330.6" y="471.7" width="0.7" height="0.7" fill="#6a2a9e"/><rect x="318.8" y="469.2" width="0.7" height="0.7" fill="#a0309a"/><rect x="337.5" y="489.8" width="0.7" height="0.7" fill="#a0309a"/><rect x="352.2" y="462.8" width="0.7" height="0.7" fill="#a0309a"/><rect x="335.5" y="464.4" width="0.7" height="0.7" fill="#c04880"/><rect x="335.0" y="475.5" width="0.7" height="0.7" fill="#c04880"/><rect x="339.3" y="486.3" width="0.7" height="0.7" fill="#a0309a"/><rect x="318.5" y="473.0" width="0.7" height="0.7" fill="#7a2aa0"/><rect x="341.4" y="487.1" width="0.7" height="0.7" fill="#c04880"/><rect x="309.4" y="471.7" width="0.7" height="0.7" fill="#a0309a"/><rect x="318.4" y="475.4" width="0.7" height="0.7" fill="#7a2aa0"/><rect x="322.9" y="486.8" width="0.7" height="0.7" fill="#6a2a9e"/><rect x="327.7" y="474.4" width="0.7" height="0.7" fill="#6a2a9e"/><rect x="307.6" y="480.0" width="0.7" height="0.7" fill="#7a2aa0"/><rect x="336.5" y="478.9" width="0.7" height="0.7" fill="#c04880"/><rect x="340.9" y="462.7" width="0.7" height="0.7" fill="#7a2aa0"/><rect x="338.0" y="476.3" width="0.7" height="0.7" fill="#c04880"/><rect x="345.3" y="470.7" width="0.7" height="0.7" fill="#c04880"/><rect x="324.6" y="489.7" width="0.7" height="0.7" fill="#c04880"/><rect x="336.8" y="480.3" width="0.7" height="0.7" fill="#6a2a9e"/><rect x="329.4" y="489.5" width="0.7" height="0.7" fill="#c04880"/><rect x="334.7" y="467.7" width="0.7" height="0.7" fill="#c04880"/><rect x="306.2" y="466.5" width="0.7" height="0.7" fill="#6a2a9e"/><rect x="338.1" y="485.2" width="0.7" height="0.7" fill="#a0309a"/><rect x="307.8" y="465.9" width="0.7" height="0.7" fill="#c04880"/><rect x="313.8" y="476.3" width="0.7" height="0.7" fill="#a0309a"/><rect x="334.2" y="472.1" width="0.7" height="0.7" fill="#a0309a"/><rect x="339.7" y="483.3" width="0.7" height="0.7" fill="#c04880"/><rect x="342.3" y="466.5" width="0.7" height="0.7" fill="#a0309a"/><rect x="306.6" y="466.7" width="0.7" height="0.7" fill="#a0309a"/><rect x="347.8" y="467.5" width="0.7" height="0.7" fill="#7a2aa0"/><rect x="339.4" y="461.8" width="0.7" height="0.7" fill="#a0309a"/><rect x="343.3" y="476.4" width="0.7" height="0.7" fill="#7a2aa0"/><rect x="313.0" y="472.8" width="0.7" height="0.7" fill="#a0309a"/><rect x="315.7" y="472.4" width="0.7" height="0.7" fill="#c04880"/><rect x="330.9" y="485.9" width="0.7" height="0.7" fill="#c04880"/><rect x="340.8" y="490.1" width="0.7" height="0.7" fill="#a0309a"/><rect x="334.7" y="476.4" width="0.7" height="0.7" fill="#6a2a9e"/><rect x="342.8" y="489.3" width="0.7" height="0.7" fill="#6a2a9e"/><rect x="316.8" y="471.8" width="0.7" height="0.7" fill="#c04880"/><rect x="340.1" y="472.2" width="0.7" height="0.7" fill="#7a2aa0"/><rect x="343.7" y="460.7" width="0.7" height="0.7" fill="#7a2aa0"/><rect x="343.0" y="467.3" width="0.7" height="0.7" fill="#a0309a"/><rect x="327.0" y="484.7" width="0.7" height="0.7" fill="#6a2a9e"/><rect x="338.8" y="478.3" width="0.7" height="0.7" fill="#7a2aa0"/><rect x="321.3" y="463.1" width="0.7" height="0.7" fill="#6a2a9e"/><rect x="308.1" y="477.5" width="0.7" height="0.7" fill="#6a2a9e"/><rect x="331.8" y="475.3" width="0.7" height="0.7" fill="#6a2a9e"/><rect x="307.8" y="469.0" width="0.7" height="0.7" fill="#a0309a"/><rect x="343.4" y="485.5" width="0.7" height="0.7" fill="#a0309a"/><rect x="340.4" y="484.8" width="0.7" height="0.7" fill="#7a2aa0"/><rect x="321.3" y="479.1" width="0.7" height="0.7" fill="#c04880"/><rect x="326.3" y="476.9" width="0.7" height="0.7" fill="#c04880"/><rect x="328.9" y="483.1" width="0.7" height="0.7" fill="#6a2a9e"/><rect x="328.8" y="463.7" width="0.7" height="0.7" fill="#7a2aa0"/><rect x="341.0" y="476.3" width="0.7" height="0.7" fill="#7a2aa0"/><rect x="345.1" y="470.4" width="0.7" height="0.7" fill="#6a2a9e"/><rect x="342.7" y="468.9" width="0.7" height="0.7" fill="#6a2a9e"/><rect x="321.2" y="473.6" width="0.7" height="0.7" fill="#c04880"/><rect x="319.7" y="475.3" width="0.7" height="0.7" fill="#6a2a9e"/><rect x="340.1" y="474.3" width="0.7" height="0.7" fill="#6a2a9e"/><rect x="333.3" y="485.8" width="0.7" height="0.7" fill="#7a2aa0"/><rect x="324.3" y="476.2" width="0.7" height="0.7" fill="#7a2aa0"/><rect x="338.5" y="473.5" width="0.7" height="0.7" fill="#c04880"/><rect x="332.3" y="472.7" width="0.7" height="0.7" fill="#6a2a9e"/><rect x="324.6" y="472.3" width="0.7" height="0.7" fill="#7a2aa0"/><rect x="334.9" y="473.9" width="0.7" height="0.7" fill="#c04880"/><rect x="324.2" y="480.5" width="0.7" height="0.7" fill="#6a2a9e"/><rect x="314.0" y="473.4" width="0.7" height="0.7" fill="#7a2aa0"/><rect x="345.2" y="467.7" width="0.7" height="0.7" fill="#6a2a9e"/><rect x="347.3" y="460.4" width="0.7" height="0.7" fill="#7a2aa0"/><rect x="335.7" y="492.3" width="0.7" height="0.7" fill="#c04880"/><rect x="321.3" y="477.7" width="0.7" height="0.7" fill="#7a2aa0"/><rect x="338.7" y="483.7" width="0.7" height="0.7" fill="#a0309a"/><rect x="319.7" y="462.9" width="0.7" height="0.7" fill="#7a2aa0"/><rect x="337.0" y="467.8" width="0.7" height="0.7" fill="#6a2a9e"/><rect x="321.6" y="467.1" width="0.7" height="0.7" fill="#c04880"/><rect x="323.0" y="463.9" width="0.7" height="0.7" fill="#7a2aa0"/><rect x="332.9" y="469.7" width="0.7" height="0.7" fill="#a0309a"/><rect x="339.5" y="470.0" width="0.7" height="0.7" fill="#c04880"/><rect x="335.4" y="479.6" width="0.7" height="0.7" fill="#6a2a9e"/><rect x="332.8" y="465.1" width="0.7" height="0.7" fill="#6a2a9e"/><rect x="314.9" y="463.3" width="0.7" height="0.7" fill="#a0309a"/><rect x="318.3" y="466.8" width="0.7" height="0.7" fill="#c04880"/><rect x="318.7" y="468.1" width="0.7" height="0.7" fill="#7a2aa0"/><rect x="327.2" y="466.3" width="0.7" height="0.7" fill="#6a2a9e"/><rect x="323.1" y="470.6" width="0.7" height="0.7" fill="#6a2a9e"/><rect x="323.8" y="490.1" width="0.7" height="0.7" fill="#6a2a9e"/><rect x="331.9" y="490.7" width="0.7" height="0.7" fill="#6a2a9e"/><rect x="329.8" y="462.6" width="0.7" height="0.7" fill="#7a2aa0"/><rect x="308.0" y="473.6" width="0.7" height="0.7" fill="#a0309a"/><rect x="334.8" y="480.5" width="0.7" height="0.7" fill="#a0309a"/><rect x="347.8" y="466.9" width="0.7" height="0.7" fill="#7a2aa0"/><rect x="337.5" y="470.1" width="0.7" height="0.7" fill="#7a2aa0"/><rect x="350.5" y="466.0" width="0.7" height="0.7" fill="#6a2a9e"/><rect x="328.3" y="485.2" width="0.7" height="0.7" fill="#7a2aa0"/><rect x="323.3" y="471.9" width="0.7" height="0.7" fill="#c04880"/><rect x="322.4" y="471.4" width="0.7" height="0.7" fill="#6a2a9e"/><rect x="337.7" y="470.1" width="0.7" height="0.7" fill="#a0309a"/><rect x="330.4" y="483.5" width="0.7" height="0.7" fill="#c04880"/><rect x="315.3" y="470.6" width="0.7" height="0.7" fill="#a0309a"/><rect x="340.8" y="488.3" width="0.7" height="0.7" fill="#6a2a9e"/><rect x="349.3" y="466.8" width="0.7" height="0.7" fill="#a0309a"/><rect x="324.2" y="468.6" width="0.7" height="0.7" fill="#c04880"/><rect x="329.3" y="480.3" width="0.7" height="0.7" fill="#6a2a9e"/><rect x="327.5" y="462.6" width="0.7" height="0.7" fill="#a0309a"/><rect x="331.8" y="494.2" width="0.7" height="0.7" fill="#6a2a9e"/><rect x="327.5" y="472.1" width="0.7" height="0.7" fill="#c04880"/><rect x="306.7" y="472.1" width="0.7" height="0.7" fill="#c04880"/><rect x="322.1" y="473.6" width="0.7" height="0.7" fill="#6a2a9e"/><rect x="326.1" y="487.0" width="0.7" height="0.7" fill="#7a2aa0"/><rect x="327.2" y="471.6" width="0.7" height="0.7" fill="#7a2aa0"/><rect x="320.0" y="467.1" width="0.7" height="0.7" fill="#c04880"/><rect x="313.1" y="466.7" width="0.7" height="0.7" fill="#7a2aa0"/><rect x="340.3" y="471.4" width="0.7" height="0.7" fill="#6a2a9e"/><rect x="323.6" y="467.9" width="0.7" height="0.7" fill="#7a2aa0"/><rect x="335.4" y="487.1" width="0.7" height="0.7" fill="#6a2a9e"/><rect x="349.6" y="464.8" width="0.7" height="0.7" fill="#7a2aa0"/><rect x="314.0" y="465.5" width="0.7" height="0.7" fill="#a0309a"/><rect x="321.5" y="488.6" width="0.7" height="0.7" fill="#c04880"/><rect x="341.9" y="477.8" width="0.7" height="0.7" fill="#c04880"/><rect x="308.2" y="469.2" width="0.7" height="0.7" fill="#c04880"/><rect x="318.7" y="462.3" width="0.7" height="0.7" fill="#a0309a"/><rect x="310.3" y="465.5" width="0.7" height="0.7" fill="#c04880"/><rect x="335.3" y="464.3" width="0.7" height="0.7" fill="#6a2a9e"/><rect x="337.8" y="490.6" width="0.7" height="0.7" fill="#6a2a9e"/><rect x="317.0" y="475.5" width="0.7" height="0.7" fill="#7a2aa0"/><rect x="331.1" y="482.0" width="0.7" height="0.7" fill="#c04880"/><rect x="328.6" y="483.1" width="0.7" height="0.7" fill="#6a2a9e"/><rect x="335.9" y="473.2" width="0.7" height="0.7" fill="#7a2aa0"/><rect x="316.6" y="467.2" width="0.7" height="0.7" fill="#6a2a9e"/><rect x="322.1" y="490.1" width="0.7" height="0.7" fill="#7a2aa0"/><rect x="330.0" y="492.2" width="0.7" height="0.7" fill="#7a2aa0"/><g clip-path="url(#clipPCNA)"><rect x="332.2" y="461.1" width="1.0" height="1.0" fill="#c03a80"/><rect x="315.7" y="467.0" width="1.0" height="1.0" fill="#c03a80"/><rect x="328.2" y="465.7" width="1.0" height="1.0" fill="#c03a80"/><rect x="321.9" y="474.0" width="1.0" height="1.0" fill="#e0603a"/><rect x="338.5" y="463.2" width="1.0" height="1.0" fill="#7a2aa0"/><rect x="314.6" y="463.5" width="1.0" height="1.0" fill="#a02a90"/><rect x="310.4" y="467.2" width="1.0" height="1.0" fill="#c03a80"/><rect x="310.2" y="470.5" width="1.0" height="1.0" fill="#7a2aa0"/><rect x="311.4" y="463.2" width="1.0" height="1.0" fill="#7a2aa0"/><rect x="324.3" y="464.6" width="1.0" height="1.0" fill="#a02a90"/><rect x="328.7" y="472.3" width="1.0" height="1.0" fill="#e0603a"/><rect x="321.9" y="463.8" width="1.0" height="1.0" fill="#c03a80"/><rect x="321.4" y="468.8" width="1.0" height="1.0" fill="#7a2aa0"/><rect x="312.1" y="466.1" width="1.0" height="1.0" fill="#e0603a"/><rect x="337.0" y="460.8" width="1.0" height="1.0" fill="#e0603a"/><rect x="335.2" y="463.2" width="1.0" height="1.0" fill="#a02a90"/><rect x="316.9" y="465.8" width="1.0" height="1.0" fill="#c03a80"/><rect x="336.1" y="463.5" width="1.0" height="1.0" fill="#a02a90"/><rect x="325.3" y="469.6" width="1.0" height="1.0" fill="#c03a80"/><rect x="330.5" y="461.4" width="1.0" height="1.0" fill="#a02a90"/><rect x="338.6" y="470.4" width="1.0" height="1.0" fill="#c03a80"/><rect x="309.3" y="467.2" width="1.0" height="1.0" fill="#c03a80"/><rect x="314.5" y="469.0" width="1.0" height="1.0" fill="#a02a90"/><rect x="325.4" y="462.2" width="1.0" height="1.0" fill="#a02a90"/><rect x="335.5" y="461.4" width="1.0" height="1.0" fill="#7a2aa0"/><rect x="335.7" y="468.0" width="1.0" height="1.0" fill="#e0603a"/><rect x="336.3" y="460.5" width="1.0" height="1.0" fill="#a02a90"/><rect x="311.8" y="462.9" width="1.0" height="1.0" fill="#e0603a"/><rect x="335.7" y="464.8" width="1.0" height="1.0" fill="#a02a90"/><rect x="330.2" y="463.5" width="1.0" height="1.0" fill="#7a2aa0"/><rect x="321.4" y="468.2" width="1.0" height="1.0" fill="#a02a90"/><rect x="315.1" y="465.7" width="1.0" height="1.0" fill="#a02a90"/><rect x="339.0" y="470.8" width="1.0" height="1.0" fill="#7a2aa0"/><rect x="329.0" y="471.6" width="1.0" height="1.0" fill="#c03a80"/><rect x="329.0" y="467.1" width="1.0" height="1.0" fill="#7a2aa0"/><rect x="342.2" y="466.1" width="1.0" height="1.0" fill="#e0603a"/><rect x="331.2" y="462.1" width="1.0" height="1.0" fill="#c03a80"/><rect x="329.7" y="474.7" width="1.0" height="1.0" fill="#7a2aa0"/><rect x="317.2" y="465.0" width="1.0" height="1.0" fill="#7a2aa0"/><rect x="335.6" y="461.1" width="1.0" height="1.0" fill="#c03a80"/><rect x="314.7" y="470.1" width="1.0" height="1.0" fill="#e0603a"/><rect x="322.8" y="466.4" width="1.0" height="1.0" fill="#c03a80"/><rect x="332.6" y="472.1" width="1.0" height="1.0" fill="#e0603a"/><rect x="308.9" y="467.6" width="1.0" height="1.0" fill="#e0603a"/><rect x="330.8" y="466.6" width="1.0" height="1.0" fill="#c03a80"/><rect x="335.0" y="463.1" width="1.0" height="1.0" fill="#e0603a"/><rect x="317.5" y="466.8" width="1.0" height="1.0" fill="#c03a80"/><rect x="311.8" y="471.9" width="1.0" height="1.0" fill="#a02a90"/><rect x="337.4" y="461.1" width="1.0" height="1.0" fill="#e0603a"/><rect x="341.8" y="469.9" width="1.0" height="1.0" fill="#a02a90"/><rect x="316.8" y="466.4" width="1.0" height="1.0" fill="#c03a80"/><rect x="326.7" y="461.2" width="1.0" height="1.0" fill="#e0603a"/><rect x="308.7" y="468.8" width="1.0" height="1.0" fill="#c03a80"/><rect x="326.7" y="470.8" width="1.0" height="1.0" fill="#7a2aa0"/><rect x="313.9" y="470.8" width="1.0" height="1.0" fill="#c03a80"/><rect x="308.5" y="465.6" width="1.0" height="1.0" fill="#c03a80"/><rect x="319.6" y="469.6" width="1.0" height="1.0" fill="#a02a90"/><rect x="342.6" y="466.4" width="1.0" height="1.0" fill="#7a2aa0"/><rect x="326.2" y="463.7" width="1.0" height="1.0" fill="#c03a80"/><rect x="318.0" y="463.5" width="1.0" height="1.0" fill="#a02a90"/><rect x="328.0" y="463.3" width="1.0" height="1.0" fill="#c03a80"/><rect x="323.3" y="467.7" width="1.0" height="1.0" fill="#7a2aa0"/><rect x="318.3" y="460.5" width="1.0" height="1.0" fill="#7a2aa0"/><rect x="317.9" y="469.4" width="1.0" height="1.0" fill="#e0603a"/><rect x="326.9" y="469.3" width="1.0" height="1.0" fill="#a02a90"/><rect x="340.5" y="464.1" width="1.0" height="1.0" fill="#e0603a"/><rect x="317.0" y="468.4" width="1.0" height="1.0" fill="#e0603a"/><rect x="325.4" y="473.2" width="1.0" height="1.0" fill="#c03a80"/><rect x="337.2" y="465.3" width="1.0" height="1.0" fill="#a02a90"/><rect x="313.9" y="461.5" width="1.0" height="1.0" fill="#a02a90"/><rect x="324.6" y="461.0" width="1.0" height="1.0" fill="#7a2aa0"/><rect x="341.4" y="471.0" width="1.0" height="1.0" fill="#c03a80"/><rect x="319.0" y="462.5" width="1.0" height="1.0" fill="#e0603a"/><rect x="328.4" y="472.3" width="1.0" height="1.0" fill="#e0603a"/><rect x="322.8" y="467.7" width="1.0" height="1.0" fill="#c03a80"/><rect x="322.1" y="464.9" width="1.0" height="1.0" fill="#e0603a"/><rect x="321.9" y="471.6" width="1.0" height="1.0" fill="#c03a80"/><rect x="318.6" y="466.3" width="1.0" height="1.0" fill="#c03a80"/><rect x="327.8" y="462.0" width="1.0" height="1.0" fill="#e0603a"/><rect x="325.6" y="469.0" width="1.0" height="1.0" fill="#c03a80"/><rect x="323.5" y="463.8" width="1.0" height="1.0" fill="#7a2aa0"/><rect x="320.6" y="465.3" width="1.0" height="1.0" fill="#e0603a"/><rect x="341.3" y="463.6" width="1.0" height="1.0" fill="#a02a90"/><rect x="331.1" y="461.7" width="1.0" height="1.0" fill="#c03a80"/><rect x="333.0" y="472.9" width="1.0" height="1.0" fill="#e0603a"/><rect x="325.6" y="472.6" width="1.0" height="1.0" fill="#a02a90"/><rect x="321.3" y="467.1" width="1.0" height="1.0" fill="#a02a90"/><rect x="321.1" y="461.1" width="1.0" height="1.0" fill="#c03a80"/><rect x="328.0" y="471.6" width="1.0" height="1.0" fill="#7a2aa0"/><rect x="327.2" y="471.7" width="1.0" height="1.0" fill="#c03a80"/><rect x="339.1" y="464.8" width="1.0" height="1.0" fill="#e0603a"/><rect x="332.8" y="459.8" width="1.0" height="1.0" fill="#7a2aa0"/><rect x="317.4" y="464.4" width="1.0" height="1.0" fill="#c03a80"/><rect x="341.2" y="470.7" width="1.0" height="1.0" fill="#7a2aa0"/><rect x="326.0" y="461.7" width="1.0" height="1.0" fill="#a02a90"/><rect x="331.8" y="468.2" width="1.0" height="1.0" fill="#7a2aa0"/><rect x="342.4" y="469.6" width="1.0" height="1.0" fill="#c03a80"/><rect x="340.2" y="471.8" width="1.0" height="1.0" fill="#a02a90"/><rect x="317.8" y="465.7" width="1.0" height="1.0" fill="#e0603a"/><rect x="315.3" y="473.0" width="1.0" height="1.0" fill="#c03a80"/><rect x="333.4" y="461.1" width="1.0" height="1.0" fill="#c03a80"/><rect x="328.6" y="467.2" width="1.0" height="1.0" fill="#e0603a"/><rect x="323.3" y="473.7" width="1.0" height="1.0" fill="#c03a80"/><rect x="335.7" y="461.8" width="1.0" height="1.0" fill="#a02a90"/><rect x="340.9" y="471.1" width="1.0" height="1.0" fill="#a02a90"/><rect x="329.3" y="470.3" width="1.0" height="1.0" fill="#e0603a"/><rect x="308.8" y="466.8" width="1.0" height="1.0" fill="#7a2aa0"/><rect x="320.3" y="465.1" width="1.0" height="1.0" fill="#7a2aa0"/><rect x="311.8" y="470.6" width="1.0" height="1.0" fill="#a02a90"/><rect x="320.9" y="462.9" width="1.0" height="1.0" fill="#c03a80"/><rect x="322.1" y="474.5" width="1.0" height="1.0" fill="#e0603a"/><rect x="322.8" y="466.2" width="1.0" height="1.0" fill="#c03a80"/><rect x="334.6" y="463.4" width="1.0" height="1.0" fill="#7a2aa0"/><rect x="312.3" y="464.6" width="1.0" height="1.0" fill="#c03a80"/><rect x="326.0" y="469.3" width="1.0" height="1.0" fill="#7a2aa0"/><rect x="324.1" y="470.7" width="1.0" height="1.0" fill="#7a2aa0"/><rect x="317.9" y="466.9" width="1.0" height="1.0" fill="#7a2aa0"/><rect x="326.1" y="473.6" width="1.0" height="1.0" fill="#c03a80"/><rect x="318.0" y="472.5" width="1.0" height="1.0" fill="#c03a80"/><rect x="313.1" y="462.2" width="1.0" height="1.0" fill="#7a2aa0"/><rect x="324.6" y="463.0" width="1.0" height="1.0" fill="#e0603a"/><rect x="328.6" y="460.2" width="1.0" height="1.0" fill="#a02a90"/><rect x="336.9" y="462.4" width="1.0" height="1.0" fill="#a02a90"/><rect x="330.3" y="459.8" width="1.0" height="1.0" fill="#a02a90"/><rect x="336.2" y="465.7" width="1.0" height="1.0" fill="#a02a90"/><rect x="335.2" y="467.1" width="1.0" height="1.0" fill="#e0603a"/><rect x="328.1" y="467.7" width="1.0" height="1.0" fill="#7a2aa0"/><rect x="326.9" y="465.5" width="1.0" height="1.0" fill="#a02a90"/><rect x="315.1" y="472.2" width="1.0" height="1.0" fill="#a02a90"/><rect x="321.5" y="463.4" width="1.0" height="1.0" fill="#a02a90"/><rect x="335.6" y="462.5" width="1.0" height="1.0" fill="#a02a90"/><rect x="329.7" y="474.5" width="1.0" height="1.0" fill="#7a2aa0"/><rect x="341.6" y="464.5" width="1.0" height="1.0" fill="#a02a90"/><rect x="326.8" y="474.2" width="1.0" height="1.0" fill="#a02a90"/><rect x="318.0" y="460.0" width="1.0" height="1.0" fill="#e0603a"/><rect x="319.7" y="465.1" width="1.0" height="1.0" fill="#7a2aa0"/><rect x="338.8" y="469.6" width="1.0" height="1.0" fill="#c03a80"/><rect x="323.9" y="467.3" width="1.0" height="1.0" fill="#e0603a"/><rect x="331.6" y="463.8" width="1.0" height="1.0" fill="#e0603a"/><rect x="321.6" y="473.9" width="1.0" height="1.0" fill="#7a2aa0"/><rect x="316.0" y="467.9" width="1.0" height="1.0" fill="#e0603a"/><rect x="316.0" y="471.6" width="1.0" height="1.0" fill="#c03a80"/><rect x="320.6" y="466.9" width="1.0" height="1.0" fill="#a02a90"/><rect x="313.3" y="471.8" width="1.0" height="1.0" fill="#7a2aa0"/><rect x="315.3" y="471.9" width="1.0" height="1.0" fill="#7a2aa0"/><rect x="315.8" y="466.0" width="1.0" height="1.0" fill="#a02a90"/><rect x="332.0" y="461.8" width="1.0" height="1.0" fill="#7a2aa0"/><rect x="331.3" y="459.9" width="1.0" height="1.0" fill="#7a2aa0"/><rect x="336.8" y="467.4" width="1.0" height="1.0" fill="#c03a80"/><rect x="314.8" y="465.8" width="1.0" height="1.0" fill="#7a2aa0"/><rect x="318.9" y="469.8" width="1.0" height="1.0" fill="#a02a90"/><rect x="332.9" y="465.7" width="1.0" height="1.0" fill="#a02a90"/><rect x="322.2" y="470.2" width="1.0" height="1.0" fill="#e0603a"/><rect x="339.6" y="467.1" width="1.0" height="1.0" fill="#c03a80"/><rect x="332.3" y="473.9" width="1.0" height="1.0" fill="#7a2aa0"/><rect x="318.7" y="464.4" width="1.0" height="1.0" fill="#c03a80"/><rect x="325.0" y="472.8" width="1.0" height="1.0" fill="#c03a80"/><rect x="320.8" y="466.4" width="1.0" height="1.0" fill="#c03a80"/><rect x="310.1" y="464.1" width="1.0" height="1.0" fill="#7a2aa0"/><rect x="335.8" y="467.8" width="1.0" height="1.0" fill="#7a2aa0"/><rect x="350.8" y="463.8" width="1.0" height="1.0" fill="#f8c030"/><rect x="346.7" y="465.4" width="1.0" height="1.0" fill="#f8e040"/><rect x="344.3" y="463.9" width="1.0" height="1.0" fill="#f09030"/><rect x="351.9" y="466.8" width="1.0" height="1.0" fill="#f09030"/><rect x="343.8" y="462.7" width="1.0" height="1.0" fill="#f8c030"/><rect x="352.2" y="463.0" width="1.0" height="1.0" fill="#f09030"/><rect x="344.8" y="465.6" width="1.0" height="1.0" fill="#f8c030"/><rect x="343.8" y="464.4" width="1.0" height="1.0" fill="#f8c030"/><rect x="347.4" y="463.5" width="1.0" height="1.0" fill="#f8c030"/><rect x="345.3" y="467.9" width="1.0" height="1.0" fill="#f8c030"/><rect x="344.2" y="467.9" width="1.0" height="1.0" fill="#f09030"/><rect x="349.5" y="461.2" width="1.0" height="1.0" fill="#f09030"/><rect x="347.4" y="460.9" width="1.0" height="1.0" fill="#f8c030"/><rect x="338.9" y="463.3" width="1.0" height="1.0" fill="#f8c030"/><rect x="348.4" y="464.7" width="1.0" height="1.0" fill="#f09030"/><rect x="346.2" y="465.2" width="1.0" height="1.0" fill="#f09030"/><rect x="351.0" y="462.4" width="1.0" height="1.0" fill="#f8c030"/><rect x="341.1" y="462.9" width="1.0" height="1.0" fill="#f8e040"/><rect x="342.2" y="460.3" width="1.0" height="1.0" fill="#f8c030"/><rect x="343.5" y="460.7" width="1.0" height="1.0" fill="#f8c030"/><rect x="349.3" y="462.9" width="1.0" height="1.0" fill="#f8c030"/><rect x="344.0" y="460.6" width="1.0" height="1.0" fill="#f8e040"/><rect x="345.2" y="461.2" width="1.0" height="1.0" fill="#f09030"/><rect x="342.7" y="461.8" width="1.0" height="1.0" fill="#f8e040"/><rect x="342.6" y="463.3" width="1.0" height="1.0" fill="#f8c030"/><rect x="351.8" y="464.2" width="1.0" height="1.0" fill="#f09030"/><rect x="345.8" y="463.7" width="1.0" height="1.0" fill="#f8c030"/><rect x="347.2" y="464.8" width="1.0" height="1.0" fill="#f8e040"/><rect x="340.4" y="465.7" width="1.0" height="1.0" fill="#f8c030"/><rect x="347.9" y="460.4" width="1.0" height="1.0" fill="#f8c030"/><rect x="343.6" y="460.7" width="1.0" height="1.0" fill="#f09030"/><rect x="343.4" y="461.7" width="1.0" height="1.0" fill="#f09030"/><rect x="344.3" y="467.0" width="1.0" height="1.0" fill="#f09030"/><rect x="344.0" y="459.3" width="1.0" height="1.0" fill="#f8c030"/><rect x="343.0" y="460.1" width="1.0" height="1.0" fill="#f8e040"/><rect x="349.5" y="462.6" width="1.0" height="1.0" fill="#f8c030"/><rect x="341.7" y="460.7" width="1.0" height="1.0" fill="#f8c030"/><rect x="345.5" y="464.3" width="1.0" height="1.0" fill="#f8e040"/><rect x="342.2" y="461.6" width="1.0" height="1.0" fill="#f8c030"/><rect x="341.8" y="460.4" width="1.0" height="1.0" fill="#f8c030"/><rect x="343.6" y="465.0" width="1.0" height="1.0" fill="#f09030"/><rect x="342.6" y="465.4" width="1.0" height="1.0" fill="#f8e040"/><rect x="344.5" y="459.9" width="1.0" height="1.0" fill="#f8c030"/><rect x="348.1" y="466.7" width="1.0" height="1.0" fill="#f8c030"/><rect x="345.6" y="467.9" width="1.0" height="1.0" fill="#f8c030"/><rect x="340.0" y="462.7" width="1.0" height="1.0" fill="#f8e040"/><rect x="345.4" y="459.6" width="1.0" height="1.0" fill="#f8c030"/><rect x="344.7" y="460.4" width="1.0" height="1.0" fill="#f09030"/><rect x="347.5" y="468.2" width="1.0" height="1.0" fill="#f09030"/><rect x="350.3" y="462.6" width="1.0" height="1.0" fill="#f8c030"/></g><rect x="317.2" y="432.6" width="0.7" height="0.7" fill="#a0309a"/><rect x="307.9" y="428.2" width="0.7" height="0.7" fill="#a0309a"/><rect x="315.8" y="429.0" width="0.7" height="0.7" fill="#6a2a9e"/><rect x="322.8" y="442.1" width="0.7" height="0.7" fill="#6a2a9e"/><rect x="312.4" y="436.8" width="0.7" height="0.7" fill="#6a2a9e"/><rect x="308.2" y="423.6" width="0.7" height="0.7" fill="#a0309a"/><rect x="322.0" y="442.5" width="0.7" height="0.7" fill="#6a2a9e"/><rect x="317.0" y="436.9" width="0.7" height="0.7" fill="#a0309a"/><rect x="311.8" y="424.3" width="0.7" height="0.7" fill="#a0309a"/><rect x="314.3" y="447.3" width="0.7" height="0.7" fill="#6a2a9e"/><rect x="317.5" y="440.0" width="0.7" height="0.7" fill="#6a2a9e"/><rect x="309.4" y="425.1" width="0.7" height="0.7" fill="#6a2a9e"/><rect x="327.1" y="437.7" width="0.7" height="0.7" fill="#6a2a9e"/><rect x="320.9" y="442.6" width="0.7" height="0.7" fill="#a0309a"/><rect x="316.6" y="423.0" width="0.5" height="0.5" fill="#fff"/><rect x="324.1" y="437.6" width="0.5" height="0.5" fill="#fff"/><rect x="320.3" y="440.0" width="0.5" height="0.5" fill="#fff"/><rect x="323.8" y="436.6" width="0.5" height="0.5" fill="#fff"/><rect x="306.4" y="428.2" width="0.5" height="0.5" fill="#fff"/><rect x="313.5" y="429.2" width="0.5" height="0.5" fill="#fff"/><rect x="315.7" y="445.2" width="0.5" height="0.5" fill="#fff"/><rect x="315.0" y="435.1" width="0.5" height="0.5" fill="#fff"/><rect x="312.0" y="447.3" width="0.5" height="0.5" fill="#fff"/><rect x="309.3" y="420.4" width="0.5" height="0.5" fill="#fff"/><rect x="316.4" y="430.5" width="0.5" height="0.5" fill="#fff"/><rect x="317.7" y="441.9" width="0.5" height="0.5" fill="#fff"/><rect x="314.9" y="421.8" width="0.5" height="0.5" fill="#fff"/><rect x="317.9" y="433.2" width="0.5" height="0.5" fill="#fff"/><rect x="307.6" y="428.7" width="0.5" height="0.5" fill="#fff"/><rect x="318.3" y="433.5" width="0.5" height="0.5" fill="#fff"/><rect x="313.3" y="448.2" width="0.5" height="0.5" fill="#fff"/><rect x="308.4" y="428.8" width="0.5" height="0.5" fill="#fff"/><rect x="315.9" y="443.3" width="0.5" height="0.5" fill="#fff"/><rect x="312.9" y="438.2" width="0.5" height="0.5" fill="#fff"/><rect x="310.7" y="442.9" width="0.5" height="0.5" fill="#fff"/><rect x="313.1" y="422.1" width="0.5" height="0.5" fill="#fff"/><rect x="307.6" y="425.4" width="0.5" height="0.5" fill="#fff"/><rect x="306.1" y="428.6" width="0.5" height="0.5" fill="#fff"/><rect x="313.1" y="430.5" width="0.5" height="0.5" fill="#fff"/><rect x="311.9" y="446.8" width="0.5" height="0.5" fill="#fff"/><rect x="317.1" y="444.2" width="0.5" height="0.5" fill="#fff"/><rect x="311.6" y="443.7" width="0.5" height="0.5" fill="#fff"/><rect x="323.1" y="440.0" width="0.5" height="0.5" fill="#fff"/><rect x="318.8" y="446.7" width="0.5" height="0.5" fill="#fff"/><rect x="335.6" y="480.4" width="0.45" height="0.45" fill="#fff"/><rect x="342.4" y="464.1" width="0.45" height="0.45" fill="#fff"/><rect x="331.2" y="488.2" width="0.45" height="0.45" fill="#fff"/><rect x="337.4" y="497.4" width="0.45" height="0.45" fill="#fff"/><rect x="344.1" y="461.3" width="0.45" height="0.45" fill="#fff"/><rect x="325.6" y="462.6" width="0.45" height="0.45" fill="#fff"/><rect x="337.5" y="468.9" width="0.45" height="0.45" fill="#fff"/><rect x="342.9" y="474.5" width="0.45" height="0.45" fill="#fff"/><rect x="340.6" y="464.3" width="0.45" height="0.45" fill="#fff"/><rect x="330.0" y="489.6" width="0.45" height="0.45" fill="#fff"/><rect x="325.3" y="484.5" width="0.45" height="0.45" fill="#fff"/><rect x="325.0" y="463.2" width="0.45" height="0.45" fill="#fff"/><rect x="339.1" y="477.6" width="0.45" height="0.45" fill="#fff"/><rect x="333.0" y="477.1" width="0.45" height="0.45" fill="#fff"/><rect x="308.5" y="472.8" width="0.45" height="0.45" fill="#fff"/><rect x="335.3" y="476.7" width="0.45" height="0.45" fill="#fff"/><rect x="347.3" y="466.2" width="0.45" height="0.45" fill="#fff"/><rect x="309.2" y="468.9" width="0.45" height="0.45" fill="#fff"/><rect x="336.4" y="473.9" width="0.45" height="0.45" fill="#fff"/><rect x="322.7" y="472.6" width="0.45" height="0.45" fill="#fff"/><rect x="318.4" y="471.9" width="0.45" height="0.45" fill="#fff"/><rect x="340.8" y="468.1" width="0.45" height="0.45" fill="#fff"/><rect x="337.8" y="481.4" width="0.45" height="0.45" fill="#fff"/><rect x="341.8" y="470.5" width="0.45" height="0.45" fill="#fff"/><rect x="320.5" y="469.5" width="0.45" height="0.45" fill="#fff"/>
<path d="M313.3 453.6 L313.3 462.2 M311.4 459.8 L313.3 462.4 L315.2 459.8" fill="none" stroke="#333" stroke-width="0.8"/>
<path d="M348.2 451.4 L348.2 459.4 M346.5 457.2 L348.2 459.6 L349.9 457.2" fill="none" stroke="#e03030" stroke-width="0.7"/>
</g>
<g transform="translate(0 140.5)">
<rect x="347.2" y="418.6" width="5.2" height="24" fill="url(#plasma)"/>
<text x="355.60" y="422.50" font-size="7.0" text-anchor="start" fill="#231f20" >2.0</text>
<text x="355.60" y="428.20" font-size="7.0" text-anchor="start" fill="#231f20" >1.5</text>
<text x="355.60" y="433.90" font-size="7.0" text-anchor="start" fill="#231f20" >1.0</text>
<text x="355.60" y="439.60" font-size="7.0" text-anchor="start" fill="#231f20" >0.5</text>
<text x="355.60" y="445.30" font-size="7.0" text-anchor="start" fill="#231f20" >0.0</text>
</g>
</g>
<rect x="0" y="0" width="520" height="1.15" fill="#000"/><rect x="0" y="0" width="1.1" height="674" fill="#000"/><rect x="518.6" y="0" width="1.4" height="674" fill="#000"/><rect x="0" y="672.6" width="520" height="1.4" fill="#000"/>
</svg></body></html>
